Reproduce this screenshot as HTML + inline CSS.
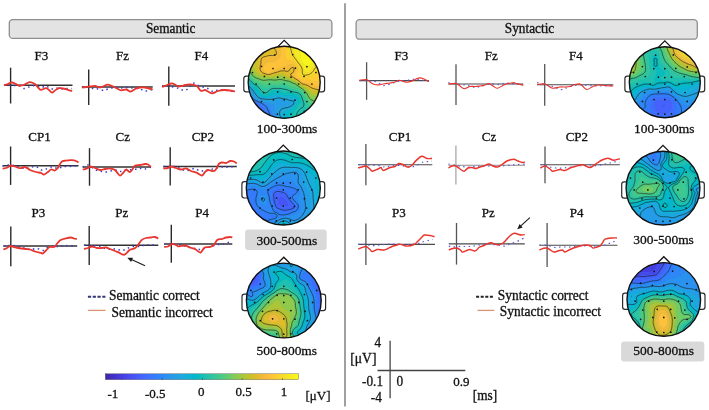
<!DOCTYPE html>
<html><head><meta charset="utf-8"><style>
html,body{margin:0;padding:0;background:#fff;}
body{width:709px;height:410px;overflow:hidden;}
svg{display:block;font-family:"Liberation Serif",serif;filter:blur(0.4px);} text{stroke:#111;stroke-width:0.3px;}
</style></head><body>
<svg width="709" height="410" viewBox="0 0 709 410">
<defs><linearGradient id="cbar" x1="0" x2="1" y1="0" y2="0"><stop offset="0.000" stop-color="#3e26a8"/><stop offset="0.031" stop-color="#422ebf"/><stop offset="0.062" stop-color="#4536d5"/><stop offset="0.094" stop-color="#4741e5"/><stop offset="0.125" stop-color="#484cef"/><stop offset="0.156" stop-color="#4757f7"/><stop offset="0.188" stop-color="#4562fc"/><stop offset="0.219" stop-color="#3f6efe"/><stop offset="0.250" stop-color="#347afd"/><stop offset="0.281" stop-color="#2e85f8"/><stop offset="0.312" stop-color="#2c90f0"/><stop offset="0.344" stop-color="#269ae9"/><stop offset="0.375" stop-color="#21a3e3"/><stop offset="0.406" stop-color="#1aacdd"/><stop offset="0.438" stop-color="#0cb3d3"/><stop offset="0.469" stop-color="#01b9c6"/><stop offset="0.500" stop-color="#12beb9"/><stop offset="0.531" stop-color="#28c2ab"/><stop offset="0.562" stop-color="#34c79c"/><stop offset="0.594" stop-color="#44ca8a"/><stop offset="0.625" stop-color="#5ccc76"/><stop offset="0.656" stop-color="#77cc60"/><stop offset="0.688" stop-color="#94ca4a"/><stop offset="0.719" stop-color="#afc637"/><stop offset="0.750" stop-color="#c8c129"/><stop offset="0.781" stop-color="#debc2a"/><stop offset="0.812" stop-color="#f1ba37"/><stop offset="0.844" stop-color="#febe3c"/><stop offset="0.875" stop-color="#feca33"/><stop offset="0.906" stop-color="#f9d62d"/><stop offset="0.938" stop-color="#f5e327"/><stop offset="0.969" stop-color="#f6ef20"/><stop offset="1.000" stop-color="#f9fb15"/></linearGradient></defs>
<rect x="9.3" y="19.6" width="322.6" height="18.8" rx="3.5" fill="#e3e3e3" stroke="#8e8e8e" stroke-width="1.3"/>
<rect x="356.1" y="19.6" width="341.2" height="19.6" rx="3.5" fill="#e3e3e3" stroke="#8e8e8e" stroke-width="1.3"/>
<text transform="translate(170.6 33.1) scale(1 1.02)" font-size="13.3" text-anchor="middle" fill="#111">Semantic</text>
<text transform="translate(529.5 33.1) scale(1 1.02)" font-size="13.3" text-anchor="middle" fill="#111">Syntactic</text>
<line x1="345" y1="3.3" x2="345" y2="406.5" stroke="#808080" stroke-width="1.5"/>
<text transform="translate(41.4 60.2) scale(1 1.02)" font-size="13" text-anchor="middle" fill="#111">F3</text>
<text transform="translate(122.5 60.2) scale(1 1.02)" font-size="13" text-anchor="middle" fill="#111">Fz</text>
<text transform="translate(201.4 60.2) scale(1 1.02)" font-size="13" text-anchor="middle" fill="#111">F4</text>
<text transform="translate(39.5 140.5) scale(1 1.02)" font-size="13" text-anchor="middle" fill="#111">CP1</text>
<text transform="translate(122.8 140.5) scale(1 1.02)" font-size="13" text-anchor="middle" fill="#111">Cz</text>
<text transform="translate(202.9 140.5) scale(1 1.02)" font-size="13" text-anchor="middle" fill="#111">CP2</text>
<text transform="translate(38.4 217.1) scale(1 1.02)" font-size="13" text-anchor="middle" fill="#111">P3</text>
<text transform="translate(121.7 217.1) scale(1 1.02)" font-size="13" text-anchor="middle" fill="#111">Pz</text>
<text transform="translate(202.1 217.1) scale(1 1.02)" font-size="13" text-anchor="middle" fill="#111">P4</text>
<text transform="translate(401.4 60.2) scale(1 1.02)" font-size="13" text-anchor="middle" fill="#111">F3</text>
<text transform="translate(491.2 60.2) scale(1 1.02)" font-size="13" text-anchor="middle" fill="#111">Fz</text>
<text transform="translate(575.8 60.2) scale(1 1.02)" font-size="13" text-anchor="middle" fill="#111">F4</text>
<text transform="translate(400 140.5) scale(1 1.02)" font-size="13" text-anchor="middle" fill="#111">CP1</text>
<text transform="translate(489 140.5) scale(1 1.02)" font-size="13" text-anchor="middle" fill="#111">Cz</text>
<text transform="translate(576.9 140.5) scale(1 1.02)" font-size="13" text-anchor="middle" fill="#111">CP2</text>
<text transform="translate(398.9 217.1) scale(1 1.02)" font-size="13" text-anchor="middle" fill="#111">P3</text>
<text transform="translate(488.3 217.1) scale(1 1.02)" font-size="13" text-anchor="middle" fill="#111">Pz</text>
<text transform="translate(576.7 217.1) scale(1 1.02)" font-size="13" text-anchor="middle" fill="#111">P4</text>
<line x1="4.0" y1="85.3" x2="72.5" y2="85.3" stroke="#333" stroke-width="1.5"/>
<line x1="10.6" y1="67.7" x2="10.6" y2="103.5" stroke="#2a2a2a" stroke-width="1.4"/>
<path d="M4.0 85.3 C5.0 85.3 8.3 85.3 10.0 85.3 C11.7 85.3 12.4 85.4 14.0 85.5 C15.6 85.6 17.8 85.5 19.5 86.0 C21.2 86.5 22.4 88.3 24.0 88.5 C25.6 88.7 27.2 87.5 29.0 87.0 C30.8 86.5 33.0 85.4 35.0 85.5 C37.0 85.6 39.2 87.4 41.0 87.5 C42.8 87.6 44.3 85.8 46.0 86.0 C47.7 86.2 49.3 88.7 51.0 89.0 C52.7 89.3 54.3 88.0 56.0 88.0 C57.7 88.0 59.3 88.9 61.0 89.0 C62.7 89.1 64.2 88.6 66.0 88.5 C67.8 88.4 71.0 88.5 72.0 88.5" fill="none" stroke="#3b3bc8" stroke-width="1.5" stroke-dasharray="1.5 3.5"/>
<path d="M4.0 85.3 C4.7 85.1 6.7 84.5 8.0 84.0 C9.3 83.5 10.7 82.5 12.0 82.5 C13.3 82.5 14.8 83.5 16.0 84.0 C17.2 84.5 17.7 85.3 19.0 85.5 C20.3 85.7 22.3 85.5 24.0 85.0 C25.7 84.5 27.5 82.6 29.0 82.3 C30.5 82.0 31.8 82.5 33.0 83.0 C34.2 83.5 35.1 84.2 36.0 85.0 C36.9 85.8 37.7 87.2 38.5 88.0 C39.3 88.8 39.8 89.8 41.0 89.8 C42.2 89.8 44.7 88.1 46.0 88.1 C47.3 88.1 48.0 89.2 49.0 90.0 C50.0 90.8 51.0 92.5 52.0 92.6 C53.0 92.7 53.8 91.2 55.0 90.5 C56.2 89.8 57.7 88.4 59.0 88.1 C60.3 87.8 61.5 88.2 63.0 88.5 C64.5 88.8 66.5 89.4 68.0 89.8 C69.5 90.2 71.5 90.8 72.2 91.0" fill="none" stroke="#e8352e" stroke-width="1.8" stroke-linejoin="round"/>
<line x1="81.8" y1="87.0" x2="152.7" y2="87.0" stroke="#333" stroke-width="1.5"/>
<line x1="88.7" y1="69.4" x2="88.7" y2="104.9" stroke="#2a2a2a" stroke-width="1.4"/>
<path d="M82.0 87.0 C83.0 87.0 86.2 86.8 88.0 87.0 C89.8 87.2 91.3 88.2 93.0 88.5 C94.7 88.8 96.2 88.7 98.0 89.0 C99.8 89.3 102.3 90.5 104.0 90.5 C105.7 90.5 106.3 89.5 108.0 89.0 C109.7 88.5 112.0 87.7 114.0 87.5 C116.0 87.3 118.0 88.0 120.0 88.0 C122.0 88.0 123.8 87.5 126.0 87.5 C128.2 87.5 130.7 87.8 133.0 88.0 C135.3 88.2 138.0 88.5 140.0 89.0 C142.0 89.5 143.3 90.8 145.0 91.0 C146.7 91.2 148.7 90.2 150.0 90.0 C151.3 89.8 152.2 89.6 152.7 89.5" fill="none" stroke="#3b3bc8" stroke-width="1.5" stroke-dasharray="1.5 3.5"/>
<path d="M82.0 87.5 C82.7 87.4 84.7 87.2 86.0 87.0 C87.3 86.8 88.5 86.7 90.0 86.5 C91.5 86.3 93.3 85.8 95.0 86.0 C96.7 86.2 98.5 87.5 100.0 87.5 C101.5 87.5 102.8 86.5 104.0 86.0 C105.2 85.5 106.1 84.7 107.4 84.7 C108.7 84.7 110.4 85.4 112.0 86.0 C113.6 86.6 115.5 87.8 117.0 88.5 C118.5 89.2 119.5 90.2 121.0 90.4 C122.5 90.6 124.6 89.3 126.2 89.5 C127.8 89.7 128.9 91.7 130.5 91.6 C132.1 91.5 134.0 89.4 135.6 88.7 C137.2 88.0 138.4 87.7 140.0 87.5 C141.6 87.3 143.5 87.3 145.0 87.5 C146.5 87.7 147.7 88.2 149.0 88.5 C150.3 88.8 152.1 89.3 152.7 89.5" fill="none" stroke="#e8352e" stroke-width="1.8" stroke-linejoin="round"/>
<line x1="162.0" y1="86.1" x2="235.0" y2="86.1" stroke="#333" stroke-width="1.5"/>
<line x1="168.8" y1="66.5" x2="168.8" y2="105.7" stroke="#2a2a2a" stroke-width="1.4"/>
<path d="M162.0 86.1 C163.0 86.1 166.2 85.9 168.0 86.1 C169.8 86.2 171.2 86.6 173.0 87.0 C174.8 87.4 177.2 87.9 179.0 88.5 C180.8 89.1 182.3 90.6 184.0 90.5 C185.7 90.4 187.6 89.2 189.0 88.0 C190.4 86.8 191.4 83.5 192.7 83.0 C194.0 82.5 195.3 84.3 197.0 85.0 C198.7 85.7 201.2 86.4 203.0 87.0 C204.8 87.6 206.3 87.8 208.0 88.5 C209.7 89.2 211.3 91.2 213.0 91.5 C214.7 91.8 216.2 90.2 218.0 90.0 C219.8 89.8 222.0 89.8 224.0 90.0 C226.0 90.2 228.2 90.8 230.0 91.0 C231.8 91.2 234.2 91.0 235.0 91.0" fill="none" stroke="#3b3bc8" stroke-width="1.5" stroke-dasharray="1.5 3.5"/>
<path d="M162.0 87.0 C162.7 86.8 164.4 86.1 166.0 85.5 C167.6 84.9 169.8 83.7 171.3 83.5 C172.8 83.3 173.9 84.0 175.0 84.5 C176.1 85.0 176.8 86.2 178.0 86.5 C179.2 86.8 180.8 86.2 182.0 86.0 C183.2 85.8 183.7 85.2 185.0 85.0 C186.3 84.8 188.2 84.4 190.0 84.5 C191.8 84.6 194.6 84.9 196.0 85.5 C197.4 86.1 197.6 87.1 198.5 88.0 C199.4 88.9 200.1 90.6 201.2 90.9 C202.3 91.2 203.9 89.9 205.0 90.0 C206.1 90.1 206.8 91.0 208.0 91.5 C209.2 92.0 210.6 93.4 212.3 93.3 C214.0 93.2 216.1 91.5 218.0 91.0 C219.9 90.5 222.0 90.1 224.0 90.0 C226.0 89.9 228.2 90.2 230.0 90.5 C231.8 90.8 234.2 91.3 235.0 91.5" fill="none" stroke="#e8352e" stroke-width="1.8" stroke-linejoin="round"/>
<line x1="2.6" y1="165.8" x2="78.5" y2="165.8" stroke="#333" stroke-width="1.5"/>
<line x1="10.6" y1="146.5" x2="10.6" y2="184.9" stroke="#2a2a2a" stroke-width="1.4"/>
<path d="M2.6 166.0 C3.5 165.8 6.1 165.1 8.0 165.0 C9.9 164.9 12.2 165.2 14.0 165.5 C15.8 165.8 17.2 166.5 19.0 167.0 C20.8 167.5 23.2 168.4 25.0 168.5 C26.8 168.6 28.2 167.8 30.0 167.5 C31.8 167.2 34.2 166.1 36.0 166.5 C37.8 166.9 39.3 169.6 41.0 170.0 C42.7 170.4 44.2 169.5 46.0 169.0 C47.8 168.5 50.0 167.1 52.0 167.0 C54.0 166.9 56.2 168.6 58.0 168.5 C59.8 168.4 61.2 166.8 63.0 166.5 C64.8 166.2 67.0 166.6 69.0 166.5 C71.0 166.4 73.4 166.1 75.0 166.0 C76.6 165.9 77.9 166.0 78.5 166.0" fill="none" stroke="#3b3bc8" stroke-width="1.5" stroke-dasharray="1.5 3.5"/>
<path d="M2.6 168.7 C3.2 168.6 4.9 168.4 6.0 168.0 C7.1 167.6 8.2 166.9 9.0 166.5 C9.8 166.1 10.0 165.5 11.0 165.5 C12.0 165.5 13.5 166.1 15.0 166.5 C16.5 166.9 18.3 168.1 20.0 168.2 C21.7 168.3 23.3 166.7 25.0 167.0 C26.7 167.3 28.2 169.2 30.0 170.0 C31.8 170.8 34.2 171.5 36.0 172.0 C37.8 172.5 39.7 172.5 41.0 172.9 C42.3 173.3 42.8 174.8 44.0 174.6 C45.2 174.4 46.8 172.8 48.0 172.0 C49.2 171.2 50.0 169.8 51.2 169.5 C52.4 169.2 53.9 170.8 55.0 170.5 C56.1 170.2 56.9 169.2 58.0 167.8 C59.1 166.4 60.2 163.0 61.5 161.8 C62.8 160.6 64.0 160.9 65.7 160.6 C67.5 160.3 70.3 160.1 72.0 160.2 C73.7 160.3 74.9 160.6 76.0 161.0 C77.1 161.4 78.1 162.2 78.5 162.5" fill="none" stroke="#e8352e" stroke-width="1.8" stroke-linejoin="round"/>
<line x1="82.7" y1="167.0" x2="151.0" y2="167.0" stroke="#333" stroke-width="1.5"/>
<line x1="89.5" y1="148.2" x2="89.5" y2="185.7" stroke="#2a2a2a" stroke-width="1.4"/>
<path d="M82.7 167.0 C83.6 166.7 85.8 164.5 88.0 165.0 C90.2 165.5 93.7 168.9 96.0 170.0 C98.3 171.1 100.2 171.2 102.0 171.5 C103.8 171.8 104.8 172.2 107.0 172.0 C109.2 171.8 112.8 170.1 115.0 170.0 C117.2 169.9 118.2 171.5 120.0 171.5 C121.8 171.5 123.7 170.3 126.0 170.0 C128.3 169.7 131.7 169.8 134.0 169.5 C136.3 169.2 138.2 168.6 140.0 168.5 C141.8 168.4 143.2 169.2 145.0 169.0 C146.8 168.8 150.0 167.3 151.0 167.0" fill="none" stroke="#3b3bc8" stroke-width="1.5" stroke-dasharray="1.5 3.5"/>
<path d="M82.7 169.5 C83.4 169.3 85.8 169.0 87.0 168.5 C88.2 168.0 88.7 166.6 90.0 166.5 C91.3 166.4 93.3 167.4 95.0 168.0 C96.7 168.6 98.3 169.8 100.0 170.0 C101.7 170.2 103.3 169.2 105.0 169.0 C106.7 168.8 108.3 168.3 110.0 168.5 C111.7 168.7 113.4 168.8 115.0 170.0 C116.6 171.2 118.4 175.0 119.7 175.5 C121.0 176.0 121.9 174.0 123.0 173.0 C124.1 172.0 125.1 169.7 126.2 169.5 C127.3 169.3 128.6 171.9 129.6 172.0 C130.6 172.1 131.1 171.0 132.0 170.0 C132.9 169.0 133.5 166.6 134.8 165.8 C136.1 165.0 138.3 165.3 140.0 165.0 C141.7 164.7 143.7 164.1 145.0 164.0 C146.3 163.9 147.0 164.0 148.0 164.5 C149.0 165.0 150.5 166.6 151.0 167.0" fill="none" stroke="#e8352e" stroke-width="1.8" stroke-linejoin="round"/>
<line x1="163.3" y1="166.4" x2="236.7" y2="166.4" stroke="#333" stroke-width="1.5"/>
<line x1="170.2" y1="147.3" x2="170.2" y2="185.4" stroke="#2a2a2a" stroke-width="1.4"/>
<path d="M163.3 166.4 C164.4 166.4 168.1 166.4 170.0 166.4 C171.9 166.4 173.3 166.2 175.0 166.5 C176.7 166.8 178.3 167.8 180.0 168.5 C181.7 169.2 183.3 170.2 185.0 170.5 C186.7 170.8 188.3 170.3 190.0 170.0 C191.7 169.7 193.3 168.3 195.0 168.5 C196.7 168.7 198.3 170.7 200.0 171.0 C201.7 171.3 203.3 170.8 205.0 170.5 C206.7 170.2 208.3 169.8 210.0 169.5 C211.7 169.2 213.0 168.9 215.0 168.5 C217.0 168.1 219.8 167.2 222.0 167.0 C224.2 166.8 225.6 167.1 228.0 167.0 C230.4 166.9 235.2 166.5 236.7 166.4" fill="none" stroke="#3b3bc8" stroke-width="1.5" stroke-dasharray="1.5 3.5"/>
<path d="M163.3 168.5 C164.1 168.4 166.7 168.3 168.0 168.0 C169.3 167.7 169.7 166.5 171.0 166.5 C172.3 166.5 174.3 167.5 176.0 168.0 C177.7 168.5 179.3 169.4 181.0 169.5 C182.7 169.6 184.3 168.2 186.0 168.5 C187.7 168.8 189.2 170.3 191.0 171.0 C192.8 171.7 195.2 172.2 197.0 172.9 C198.8 173.7 200.7 175.7 202.0 175.5 C203.3 175.3 204.0 172.9 205.0 172.0 C206.0 171.1 206.8 170.2 208.0 170.0 C209.2 169.8 210.8 170.9 212.0 171.0 C213.2 171.1 214.2 171.1 215.0 170.5 C215.8 169.9 216.3 168.7 217.0 167.5 C217.7 166.3 218.4 164.3 219.2 163.5 C220.0 162.7 220.9 162.6 222.0 162.5 C223.1 162.4 224.6 163.2 226.0 163.0 C227.4 162.8 229.0 161.2 230.3 161.0 C231.6 160.8 232.9 161.1 234.0 161.5 C235.1 161.9 236.2 163.2 236.7 163.5" fill="none" stroke="#e8352e" stroke-width="1.8" stroke-linejoin="round"/>
<line x1="3.4" y1="246.1" x2="77.2" y2="246.1" stroke="#333" stroke-width="1.5"/>
<line x1="10.8" y1="226.5" x2="10.8" y2="266.3" stroke="#2a2a2a" stroke-width="1.4"/>
<path d="M3.4 246.1 C4.2 246.0 6.2 245.6 8.0 245.5 C9.8 245.4 12.0 245.2 14.0 245.5 C16.0 245.8 18.0 246.5 20.0 247.0 C22.0 247.5 24.2 248.1 26.0 248.5 C27.8 248.9 29.2 249.5 31.0 249.5 C32.8 249.5 35.0 248.3 37.0 248.5 C39.0 248.7 41.2 250.8 43.0 250.5 C44.8 250.2 46.3 247.7 48.0 247.0 C49.7 246.3 51.2 246.6 53.0 246.5 C54.8 246.4 57.2 246.7 59.0 246.5 C60.8 246.3 62.2 245.6 64.0 245.5 C65.8 245.4 68.0 245.9 70.0 246.0 C72.0 246.1 75.0 246.0 76.0 246.0" fill="none" stroke="#3b3bc8" stroke-width="1.5" stroke-dasharray="1.5 3.5"/>
<path d="M3.4 249.5 C4.0 249.2 5.9 248.6 7.0 248.0 C8.1 247.4 8.8 246.2 10.0 246.0 C11.2 245.8 12.7 246.7 14.0 247.0 C15.3 247.3 16.7 247.8 18.0 248.0 C19.3 248.2 20.7 248.3 22.0 248.5 C23.3 248.7 24.7 248.8 26.0 249.0 C27.3 249.2 28.4 249.1 29.9 249.5 C31.4 249.9 33.1 250.9 35.0 251.5 C36.9 252.1 39.7 252.6 41.0 252.9 C42.3 253.2 42.2 253.9 43.0 253.5 C43.8 253.1 44.9 251.6 46.0 250.5 C47.1 249.4 48.3 247.6 49.5 247.0 C50.7 246.4 52.1 247.1 53.0 247.0 C53.9 246.9 54.3 247.1 55.0 246.5 C55.7 245.9 56.3 244.6 57.2 243.5 C58.1 242.4 59.1 241.0 60.6 240.1 C62.1 239.2 64.3 238.7 66.0 238.3 C67.7 237.9 69.7 237.5 71.0 237.5 C72.3 237.5 73.0 238.2 74.0 238.5 C75.0 238.8 76.3 238.9 76.8 239.0" fill="none" stroke="#e8352e" stroke-width="1.8" stroke-linejoin="round"/>
<line x1="83.9" y1="245.3" x2="158.3" y2="245.3" stroke="#333" stroke-width="1.5"/>
<line x1="89.2" y1="226.0" x2="89.2" y2="264.9" stroke="#2a2a2a" stroke-width="1.4"/>
<path d="M84.0 245.3 C85.3 245.3 89.3 245.3 92.0 245.5 C94.7 245.7 97.8 246.0 100.0 246.5 C102.2 247.0 103.3 248.1 105.0 248.5 C106.7 248.9 108.2 248.9 110.0 249.0 C111.8 249.1 114.0 248.8 116.0 249.0 C118.0 249.2 120.2 250.6 122.0 250.5 C123.8 250.4 125.2 249.2 127.0 248.5 C128.8 247.8 130.8 246.8 133.0 246.5 C135.2 246.2 138.0 246.8 140.0 246.5 C142.0 246.2 143.3 245.2 145.0 245.0 C146.7 244.8 148.2 245.0 150.0 245.0 C151.8 245.0 155.0 245.0 156.0 245.0" fill="none" stroke="#3b3bc8" stroke-width="1.5" stroke-dasharray="1.5 3.5"/>
<path d="M84.0 249.0 C84.7 248.8 86.7 248.4 88.0 248.0 C89.3 247.6 90.5 246.5 92.0 246.5 C93.5 246.5 95.3 247.8 97.0 248.0 C98.7 248.2 100.5 248.1 102.0 248.0 C103.5 247.9 104.7 247.3 106.0 247.5 C107.3 247.7 108.5 248.4 110.0 249.0 C111.5 249.6 113.5 250.4 115.0 251.0 C116.5 251.6 117.8 252.0 119.0 252.6 C120.2 253.2 121.1 254.0 122.0 254.3 C122.9 254.7 123.7 255.0 124.5 254.7 C125.3 254.4 126.2 253.3 127.0 252.6 C127.8 251.8 128.4 250.8 129.2 250.2 C130.0 249.6 131.1 249.5 132.0 249.2 C132.9 248.9 133.8 249.0 134.8 248.3 C135.8 247.6 136.9 246.4 138.0 245.0 C139.1 243.6 140.3 241.3 141.6 240.1 C142.9 238.9 144.4 238.4 146.0 238.0 C147.6 237.6 149.5 237.7 151.0 237.5 C152.5 237.3 153.8 236.8 155.0 237.0 C156.2 237.2 157.8 238.2 158.3 238.5" fill="none" stroke="#e8352e" stroke-width="1.8" stroke-linejoin="round"/>
<line x1="164.2" y1="243.9" x2="232.3" y2="243.9" stroke="#333" stroke-width="1.5"/>
<line x1="171.3" y1="224.8" x2="171.3" y2="262.8" stroke="#2a2a2a" stroke-width="1.4"/>
<path d="M164.2 243.9 C165.3 243.9 168.9 243.8 171.0 243.9 C173.1 244.0 175.0 244.2 177.0 244.5 C179.0 244.8 180.8 245.0 183.0 245.5 C185.2 246.0 187.8 247.0 190.0 247.5 C192.2 248.0 194.2 248.2 196.0 248.5 C197.8 248.8 199.2 249.7 201.0 249.5 C202.8 249.3 205.2 248.0 207.0 247.5 C208.8 247.0 210.3 247.0 212.0 246.5 C213.7 246.0 215.3 244.8 217.0 244.5 C218.7 244.2 220.2 244.8 222.0 244.5 C223.8 244.2 226.3 243.0 228.0 242.5 C229.7 242.0 231.3 241.7 232.0 241.5" fill="none" stroke="#3b3bc8" stroke-width="1.5" stroke-dasharray="1.5 3.5"/>
<path d="M164.2 247.0 C164.8 246.9 166.7 247.0 168.0 246.5 C169.3 246.0 170.7 244.2 172.0 244.0 C173.3 243.8 174.8 244.6 176.0 245.0 C177.2 245.4 177.5 246.3 179.0 246.4 C180.5 246.5 183.2 245.3 185.0 245.5 C186.8 245.7 188.3 246.9 190.0 247.5 C191.7 248.1 193.3 248.2 195.0 249.0 C196.7 249.8 198.8 252.8 200.4 252.6 C202.0 252.3 203.0 248.4 204.6 247.5 C206.2 246.6 208.4 247.5 210.0 247.0 C211.6 246.5 212.8 245.7 214.0 244.5 C215.2 243.3 216.2 240.7 217.5 239.8 C218.8 238.9 220.6 239.4 222.0 239.0 C223.4 238.6 224.7 237.8 226.0 237.5 C227.3 237.2 228.9 237.0 230.0 237.0 C231.1 237.0 231.9 237.4 232.3 237.5" fill="none" stroke="#e8352e" stroke-width="1.8" stroke-linejoin="round"/>
<line x1="359.4" y1="80.6" x2="428.9" y2="80.6" stroke="#4a4a4a" stroke-width="1.1"/>
<line x1="366.6" y1="62.2" x2="366.6" y2="99.8" stroke="#555" stroke-width="1.3"/>
<path d="M359.4 80.6 C360.5 80.6 363.4 80.4 366.0 80.6 C368.6 80.8 372.3 80.8 375.0 81.5 C377.7 82.2 380.3 84.3 382.0 85.0 C383.7 85.7 383.2 85.8 385.0 85.5 C386.8 85.2 390.5 83.8 393.0 83.0 C395.5 82.2 397.2 81.5 400.0 81.0 C402.8 80.5 407.5 80.3 410.0 80.0 C412.5 79.7 413.3 79.0 415.0 79.0 C416.7 79.0 417.7 79.7 420.0 80.0 C422.3 80.3 427.4 80.8 428.9 81.0" fill="none" stroke="#5a5ad8" stroke-width="1.2" stroke-dasharray="1.5 3.5"/>
<path d="M359.4 80.2 C360.0 80.1 361.7 79.9 363.0 79.8 C364.3 79.7 365.8 79.4 367.0 79.8 C368.2 80.2 369.0 81.3 370.0 82.0 C371.0 82.7 371.6 83.5 373.0 84.0 C374.4 84.5 376.7 84.9 378.6 84.9 C380.5 84.9 382.4 84.1 384.3 83.8 C386.2 83.5 388.2 83.3 390.0 83.0 C391.8 82.7 393.5 82.5 395.0 82.0 C396.5 81.5 397.7 80.4 399.0 80.3 C400.3 80.2 401.7 80.9 403.0 81.2 C404.3 81.5 405.5 82.2 407.0 82.2 C408.5 82.2 410.5 81.5 412.0 81.0 C413.5 80.5 414.7 79.5 416.0 79.0 C417.3 78.5 418.7 77.9 420.0 77.9 C421.3 77.9 422.5 78.4 424.0 79.0 C425.5 79.6 428.1 81.1 428.9 81.5" fill="none" stroke="#e8352e" stroke-width="1.15" stroke-linejoin="round"/>
<line x1="448.4" y1="84.0" x2="523.3" y2="84.0" stroke="#4a4a4a" stroke-width="1.1"/>
<line x1="456.0" y1="64.2" x2="456.0" y2="104.9" stroke="#555" stroke-width="1.3"/>
<path d="M448.4 82.5 C449.7 82.8 453.2 83.6 456.0 84.0 C458.8 84.4 462.7 84.7 465.0 85.0 C467.3 85.3 468.3 85.6 470.0 86.0 C471.7 86.4 473.3 87.4 475.0 87.5 C476.7 87.6 477.5 87.1 480.0 86.5 C482.5 85.9 486.7 84.3 490.0 84.0 C493.3 83.7 497.5 84.7 500.0 84.5 C502.5 84.3 503.3 83.2 505.0 83.0 C506.7 82.8 507.0 83.2 510.0 83.5 C513.0 83.8 520.8 84.3 523.0 84.5" fill="none" stroke="#5a5ad8" stroke-width="1.2" stroke-dasharray="1.5 3.5"/>
<path d="M448.4 84.0 C449.7 83.9 454.1 83.2 456.0 83.5 C457.9 83.8 458.6 85.1 460.0 86.0 C461.4 86.9 462.5 88.6 464.2 88.7 C465.9 88.8 468.2 86.9 470.0 86.5 C471.8 86.1 473.3 86.6 475.0 86.5 C476.7 86.4 478.3 86.2 480.0 86.0 C481.7 85.8 483.5 85.4 485.0 85.0 C486.5 84.6 487.6 83.3 488.9 83.5 C490.2 83.7 491.6 85.2 493.0 86.0 C494.4 86.8 495.5 88.5 497.5 88.2 C499.5 88.0 502.4 85.4 505.0 84.5 C507.6 83.6 510.6 82.8 512.8 82.7 C515.0 82.6 516.2 83.6 518.0 84.0 C519.8 84.4 522.4 85.1 523.3 85.3" fill="none" stroke="#e8352e" stroke-width="1.15" stroke-linejoin="round"/>
<line x1="537.0" y1="84.7" x2="613.3" y2="84.7" stroke="#4a4a4a" stroke-width="1.1"/>
<line x1="544.7" y1="63.9" x2="544.7" y2="105.8" stroke="#555" stroke-width="1.3"/>
<path d="M537.0 82.5 C538.3 82.9 542.8 84.1 545.0 84.7 C547.2 85.3 548.3 85.6 550.0 86.0 C551.7 86.4 553.3 86.4 555.0 87.0 C556.7 87.6 558.3 89.2 560.0 89.5 C561.7 89.8 563.0 89.1 565.0 88.5 C567.0 87.9 569.5 86.6 572.0 86.0 C574.5 85.4 577.0 85.1 580.0 85.0 C583.0 84.9 586.7 85.3 590.0 85.5 C593.3 85.7 596.2 86.0 600.0 86.0 C603.8 86.0 610.8 85.6 613.0 85.5" fill="none" stroke="#5a5ad8" stroke-width="1.2" stroke-dasharray="1.5 3.5"/>
<path d="M537.0 84.5 C538.3 84.4 542.8 83.6 545.0 84.0 C547.2 84.4 548.7 86.3 550.0 87.0 C551.3 87.7 551.0 88.2 552.7 88.2 C554.4 88.2 558.0 87.2 560.0 87.0 C562.0 86.8 563.3 87.1 565.0 87.0 C566.7 86.9 568.3 86.9 570.0 86.5 C571.7 86.1 573.3 84.9 575.0 84.5 C576.7 84.1 578.7 83.7 580.0 84.0 C581.3 84.3 581.9 85.6 583.0 86.5 C584.1 87.4 585.2 89.5 586.9 89.5 C588.6 89.5 591.1 87.2 593.0 86.5 C594.9 85.8 596.0 85.2 598.0 85.0 C600.0 84.8 602.5 85.3 605.0 85.5 C607.5 85.7 611.9 85.9 613.3 86.0" fill="none" stroke="#e8352e" stroke-width="1.15" stroke-linejoin="round"/>
<line x1="358.2" y1="164.7" x2="432.3" y2="164.7" stroke="#4a4a4a" stroke-width="1.1"/>
<line x1="365.9" y1="143.9" x2="365.9" y2="185.2" stroke="#555" stroke-width="1.3"/>
<path d="M358.2 164.7 C359.5 164.7 364.0 164.6 366.0 164.7 C368.0 164.8 368.0 164.9 370.0 165.0 C372.0 165.1 375.5 165.2 378.0 165.5 C380.5 165.8 382.7 167.0 385.0 167.0 C387.3 167.0 389.5 165.8 392.0 165.5 C394.5 165.2 397.0 165.2 400.0 165.5 C403.0 165.8 407.5 166.9 410.0 167.0 C412.5 167.1 412.8 166.8 415.0 166.0 C417.2 165.2 420.8 162.8 423.0 162.0 C425.2 161.2 426.5 161.7 428.0 161.5 C429.5 161.3 431.3 161.1 432.0 161.0" fill="none" stroke="#5a5ad8" stroke-width="1.2" stroke-dasharray="1.5 3.5"/>
<path d="M358.2 168.0 C358.8 167.8 360.7 167.3 362.0 167.0 C363.3 166.7 364.7 165.7 366.0 166.0 C367.3 166.3 369.0 168.1 370.0 169.0 C371.0 169.9 370.9 171.2 372.2 171.2 C373.5 171.2 376.5 169.6 378.0 169.0 C379.5 168.4 380.1 167.3 381.0 167.5 C381.9 167.7 381.8 170.4 383.3 170.4 C384.8 170.4 388.1 168.2 390.0 167.5 C391.9 166.8 393.6 167.2 395.0 166.5 C396.4 165.8 397.4 163.8 398.7 163.5 C400.0 163.2 401.6 163.9 403.0 164.5 C404.4 165.1 405.9 166.8 407.2 167.0 C408.5 167.2 409.4 167.2 411.0 166.0 C412.6 164.8 414.8 161.7 416.6 160.1 C418.4 158.5 420.0 156.5 421.7 156.2 C423.4 155.9 425.3 158.1 427.0 158.5 C428.7 158.9 431.2 158.4 432.0 158.4" fill="none" stroke="#e8352e" stroke-width="1.45" stroke-linejoin="round"/>
<line x1="448.4" y1="165.3" x2="525.0" y2="165.3" stroke="#8a8a8a" stroke-width="1.1"/>
<line x1="455.9" y1="145.5" x2="455.9" y2="184.5" stroke="#a8a8a8" stroke-width="1.3"/>
<path d="M448.4 164.0 C449.7 164.2 453.7 164.9 456.0 165.3 C458.3 165.7 460.0 166.2 462.0 166.5 C464.0 166.8 465.8 167.0 468.0 167.0 C470.2 167.0 472.7 166.7 475.0 166.5 C477.3 166.3 479.5 166.1 482.0 166.0 C484.5 165.9 487.3 165.9 490.0 166.0 C492.7 166.1 495.5 166.6 498.0 166.5 C500.5 166.4 502.7 165.8 505.0 165.5 C507.3 165.2 509.8 165.2 512.0 165.0 C514.2 164.8 515.8 164.7 518.0 164.5 C520.2 164.3 523.8 164.1 525.0 164.0" fill="none" stroke="#5a5ad8" stroke-width="1.2" stroke-dasharray="1.5 3.5"/>
<path d="M448.4 168.0 C449.0 167.7 450.7 166.3 452.0 166.0 C453.3 165.7 454.7 165.5 456.0 166.0 C457.3 166.5 458.6 168.1 460.0 169.0 C461.4 169.9 462.9 171.4 464.2 171.2 C465.5 171.0 466.7 168.6 468.0 168.0 C469.3 167.4 470.7 167.4 472.0 167.5 C473.3 167.6 474.7 168.6 476.0 168.5 C477.3 168.4 478.7 167.4 480.0 167.0 C481.3 166.6 482.5 166.5 484.0 166.0 C485.5 165.5 487.4 164.0 488.9 164.0 C490.4 164.0 491.6 165.5 493.0 166.0 C494.4 166.5 496.0 167.2 497.5 167.0 C499.0 166.8 500.4 165.5 502.0 164.5 C503.6 163.5 505.1 161.9 507.0 161.0 C508.9 160.1 511.9 159.3 513.7 159.3 C515.5 159.3 516.6 160.5 518.0 161.0 C519.4 161.5 520.8 162.3 522.0 162.5 C523.2 162.7 524.5 162.1 525.0 162.0" fill="none" stroke="#e8352e" stroke-width="1.45" stroke-linejoin="round"/>
<line x1="540.4" y1="164.7" x2="619.8" y2="164.7" stroke="#4a4a4a" stroke-width="1.1"/>
<line x1="545.0" y1="146.5" x2="545.0" y2="183.2" stroke="#555" stroke-width="1.3"/>
<path d="M540.4 164.7 C541.2 164.8 543.4 164.6 545.0 165.0 C546.6 165.4 548.2 166.5 550.0 167.0 C551.8 167.5 554.0 167.8 556.0 168.0 C558.0 168.2 560.0 168.1 562.0 168.0 C564.0 167.9 565.8 167.8 568.0 167.5 C570.2 167.2 572.7 166.8 575.0 166.5 C577.3 166.2 579.5 165.6 582.0 165.5 C584.5 165.4 587.3 166.0 590.0 166.0 C592.7 166.0 595.5 165.8 598.0 165.5 C600.5 165.2 603.0 164.4 605.0 164.0 C607.0 163.6 608.5 163.3 610.0 163.0 C611.5 162.7 612.4 162.2 614.0 162.0 C615.6 161.8 618.8 162.0 619.8 162.0" fill="none" stroke="#5a5ad8" stroke-width="1.2" stroke-dasharray="1.5 3.5"/>
<path d="M540.4 168.0 C541.2 167.7 543.4 165.8 545.0 166.0 C546.6 166.2 548.7 168.1 550.0 169.0 C551.3 169.9 551.0 171.1 552.7 171.2 C554.4 171.3 558.0 169.6 560.0 169.5 C562.0 169.4 563.3 170.8 565.0 170.5 C566.7 170.2 568.3 168.7 570.0 168.0 C571.7 167.3 573.0 167.1 575.0 166.5 C577.0 165.9 580.0 164.9 581.7 164.7 C583.4 164.5 583.6 165.0 585.0 165.5 C586.4 166.0 588.3 167.9 590.3 167.5 C592.3 167.1 595.0 164.2 597.0 163.0 C599.0 161.8 600.2 160.8 602.0 160.0 C603.8 159.2 605.8 158.3 607.8 158.3 C609.8 158.3 611.7 160.1 613.7 160.2 C615.7 160.3 618.8 158.9 619.8 158.7" fill="none" stroke="#e8352e" stroke-width="1.45" stroke-linejoin="round"/>
<line x1="358.2" y1="244.4" x2="435.0" y2="244.4" stroke="#4a4a4a" stroke-width="1.1"/>
<line x1="365.9" y1="223.6" x2="365.9" y2="264.9" stroke="#555" stroke-width="1.3"/>
<path d="M358.2 244.4 C359.5 244.4 364.0 244.2 366.0 244.4 C368.0 244.6 368.5 245.3 370.0 245.5 C371.5 245.7 373.3 245.6 375.0 245.5 C376.7 245.4 377.5 245.2 380.0 245.0 C382.5 244.8 386.7 244.1 390.0 244.0 C393.3 243.9 396.7 244.3 400.0 244.4 C403.3 244.5 407.0 244.6 410.0 244.4 C413.0 244.2 416.0 243.9 418.0 243.5 C420.0 243.1 420.3 242.5 422.0 242.0 C423.7 241.5 426.2 240.9 428.0 240.5 C429.8 240.1 432.2 239.7 433.0 239.5" fill="none" stroke="#5a5ad8" stroke-width="1.2" stroke-dasharray="1.5 3.5"/>
<path d="M358.2 249.0 C358.8 248.8 360.7 247.9 362.0 247.5 C363.3 247.1 364.7 246.2 366.0 246.5 C367.3 246.8 369.0 248.7 370.0 249.5 C371.0 250.3 371.0 251.6 372.2 251.6 C373.4 251.6 375.9 249.8 377.0 249.5 C378.1 249.2 377.8 249.4 379.0 249.5 C380.2 249.6 382.5 250.2 384.0 250.0 C385.5 249.8 386.7 249.1 388.0 248.5 C389.3 247.9 390.5 247.1 392.0 246.5 C393.5 245.9 395.8 245.4 397.0 245.0 C398.2 244.6 398.5 244.1 399.5 244.1 C400.5 244.1 401.7 244.7 403.0 245.0 C404.3 245.3 405.4 246.2 407.2 246.1 C409.0 246.0 412.2 245.3 414.0 244.5 C415.8 243.7 416.7 242.2 418.0 241.0 C419.3 239.8 420.9 238.0 422.0 237.0 C423.1 236.0 423.0 235.2 424.3 235.0 C425.6 234.8 428.3 235.2 430.0 235.5 C431.7 235.8 433.8 236.5 434.5 236.7" fill="none" stroke="#e8352e" stroke-width="1.45" stroke-linejoin="round"/>
<line x1="448.8" y1="243.9" x2="524.8" y2="243.9" stroke="#4a4a4a" stroke-width="1.1"/>
<line x1="456.5" y1="223.0" x2="456.5" y2="264.6" stroke="#555" stroke-width="1.3"/>
<path d="M448.8 246.0 C449.3 246.2 450.5 246.9 452.0 247.0 C453.5 247.1 456.0 246.6 458.0 246.5 C460.0 246.4 462.2 246.5 464.0 246.5 C465.8 246.5 467.3 246.6 469.0 246.5 C470.7 246.4 472.2 246.2 474.0 246.0 C475.8 245.8 478.0 245.3 480.0 245.0 C482.0 244.7 483.8 244.1 486.0 244.0 C488.2 243.9 490.7 244.2 493.0 244.5 C495.3 244.8 498.0 245.2 500.0 245.5 C502.0 245.8 503.2 246.3 505.0 246.0 C506.8 245.7 509.0 244.2 511.0 243.5 C513.0 242.8 515.2 242.2 517.0 241.5 C518.8 240.8 520.7 239.6 522.0 239.0 C523.3 238.4 524.3 238.2 524.8 238.0" fill="none" stroke="#5a5ad8" stroke-width="1.2" stroke-dasharray="1.5 3.5"/>
<path d="M448.8 249.9 C449.5 249.7 451.6 248.8 453.0 248.5 C454.4 248.2 455.7 247.7 457.0 248.0 C458.3 248.3 460.1 249.8 461.0 250.5 C461.9 251.2 461.3 252.2 462.5 252.1 C463.7 252.0 466.7 250.4 468.0 250.0 C469.3 249.6 468.9 249.3 470.1 249.5 C471.3 249.7 473.8 251.2 475.3 250.9 C476.8 250.6 477.6 248.4 479.0 247.5 C480.4 246.6 482.1 246.3 484.0 245.5 C485.9 244.7 488.4 242.8 490.6 242.7 C492.9 242.6 495.4 244.8 497.5 244.9 C499.6 245.0 501.5 243.9 503.0 243.0 C504.5 242.1 505.4 240.6 506.5 239.5 C507.6 238.4 508.5 237.2 509.5 236.3 C510.5 235.4 511.6 234.3 512.5 233.8 C513.4 233.3 514.1 233.1 515.0 233.2 C515.9 233.3 517.0 233.9 518.0 234.2 C519.0 234.5 519.9 234.9 521.0 235.0 C522.1 235.1 524.2 234.7 524.8 234.6" fill="none" stroke="#e8352e" stroke-width="1.45" stroke-linejoin="round"/>
<line x1="539.4" y1="245.2" x2="617.4" y2="245.2" stroke="#4a4a4a" stroke-width="1.1"/>
<line x1="547.1" y1="223.0" x2="547.1" y2="266.9" stroke="#555" stroke-width="1.3"/>
<path d="M539.4 245.2 C540.7 245.2 544.4 244.8 547.0 245.2 C549.6 245.6 552.8 247.2 555.0 247.5 C557.2 247.8 558.3 247.1 560.0 247.0 C561.7 246.9 563.3 247.0 565.0 247.0 C566.7 247.0 568.3 247.1 570.0 247.0 C571.7 246.9 573.3 246.7 575.0 246.5 C576.7 246.3 577.5 246.1 580.0 246.0 C582.5 245.9 586.7 246.0 590.0 246.0 C593.3 246.0 597.5 246.2 600.0 246.0 C602.5 245.8 603.5 245.4 605.0 245.0 C606.5 244.6 607.7 244.0 609.0 243.5 C610.3 243.0 611.7 242.6 613.0 242.0 C614.3 241.4 616.3 240.3 617.0 240.0" fill="none" stroke="#5a5ad8" stroke-width="1.2" stroke-dasharray="1.5 3.5"/>
<path d="M539.4 250.0 C540.0 249.8 541.7 248.8 543.0 248.5 C544.3 248.2 545.7 247.7 547.0 248.0 C548.3 248.3 549.9 249.8 551.0 250.5 C552.1 251.2 552.7 251.9 553.9 252.0 C555.1 252.1 556.6 251.3 558.0 251.0 C559.4 250.7 561.2 249.8 562.4 250.0 C563.6 250.2 563.7 252.1 565.0 252.0 C566.3 251.9 568.3 250.2 570.0 249.5 C571.7 248.8 573.3 248.1 575.0 247.5 C576.7 246.9 578.3 246.4 580.0 246.0 C581.7 245.6 583.3 245.1 585.0 245.0 C586.7 244.9 588.6 245.0 590.0 245.5 C591.4 246.0 591.9 247.8 593.1 248.1 C594.3 248.3 595.9 247.3 597.0 247.0 C598.1 246.7 599.0 246.8 600.0 246.0 C601.0 245.2 602.1 243.1 603.0 242.0 C603.9 240.9 603.6 239.9 605.1 239.2 C606.6 238.5 610.0 238.2 612.0 238.0 C614.0 237.8 616.2 237.9 617.0 237.9" fill="none" stroke="#e8352e" stroke-width="1.45" stroke-linejoin="round"/>
<line x1="145.0" y1="265.7" x2="132.0" y2="259.8" stroke="#1a1a1a" stroke-width="1.1"/>
<path d="M127.3 257.7 L133.0 257.7 L131.1 261.9 Z" fill="#1a1a1a"/>
<line x1="529.9" y1="217.6" x2="521.1" y2="225.7" stroke="#1a1a1a" stroke-width="1.1"/>
<path d="M517.3 229.2 L519.6 224.0 L522.7 227.4 Z" fill="#1a1a1a"/>
<path d="M249.2 76.1 H246.2 Q243.8 76.1 243.8 78.5 V89.5 Q243.8 91.9 246.2 91.9 H249.2" fill="#fff" stroke="#2a2a2a" stroke-width="1.2"/><path d="M319.2 76.1 H322.2 Q324.6 76.1 324.6 78.5 V89.5 Q324.6 91.9 322.2 91.9 H319.2" fill="#fff" stroke="#2a2a2a" stroke-width="1.2"/>
<clipPath id="cL1"><circle cx="284.2" cy="82.2" r="36.00"/></clipPath>
<g clip-path="url(#cL1)">
<circle cx="284.2" cy="82.2" r="37.00" fill="#89cb52"/>
<path d="M246.1 110l.5 .4 .8 .8 .4 .4 .7 .8 .5 .6 .5 .7 .8 1.1 .1 .1 .7 1.2 .4 .9 .2 .4 .6 1.2 .4 1.1 .1 .1 .5 1.3-.6 0-1.2 0-1.2 0-1.3 0-1.2 0-1.2 0-1.3 0 0-1.3 0-1.2 0-1.2 0-1.3 0-1.2 0-1.2 0-1.3 0-1.2 0-1.2 0-.7z" fill="#402ab5" stroke="#402ab5" stroke-width="0.3" fill-rule="evenodd"/>
<path d="M246.6 107.2l.3 .3 .9 .7 .6 .5 .6 .5 .9 .8 .4 .4 .8 .8 .4 .5 .6 .7 .6 1.1 .2 .2 .6 1.2 .5 .9 .1 .3 .5 1.3 .5 1.2 .1 .3 .4 .9 .4 1.3-.8 0-1.2 0-.7 0-.5-1.3-.1-.1-.4-1.1-.6-1.2-.2-.4-.4-.9-.7-1.2-.1-.1-.8-1.1-.5-.7-.5-.6-.7-.8-.4-.4-.8-.8-.5-.4-.8-.7 0-.6 0-1.2 0-1.2z" fill="#4433cc" stroke="#4433cc" stroke-width="0.3" fill-rule="evenodd"/>
<path d="M245.6 103.8l1 .8 .6 .4 .6 .5 1.1 .8 .1 0 1.3 .9 .4 .3 .8 .6 .8 .6 .4 .4 .9 .9 .4 .4 .5 .8 .7 1.1 .1 .1 .5 1.3 .6 1.2 0 .2 .4 1 .5 1.3 .4 1 0 .2 .5 1.2 .4 1.3-.9 0-1.3 0-.4 0-.4-1.3-.4-.9-.1-.3-.5-1.2-.5-1.3-.1-.3-.5-.9-.6-1.2-.2-.2-.6-1.1-.6-.7-.4-.5-.8-.8-.4-.4-.9-.8-.6-.5-.6-.5-.9-.7-.3-.3-1.3-.9 0-1.3 0-1.2 0-.2z" fill="#463de0" stroke="#463de0" stroke-width="0.3" fill-rule="evenodd"/>
<path d="M245.6 101.3l1 .8 .5 .5 .7 .5 1 .7 .2 .1 1.3 .9 .4 .2 .8 .5 1.2 .7 .1 .1 1.2 .7 .6 .5 .6 .5 .7 .7 .5 .7 .4 .6 .7 1.2 .2 .4 .3 .8 .5 1.3 .4 1.1 0 .1 .5 1.2 .4 1.3 .3 .9 .2 .3 .4 1.2 .5 1.3-1.1 0-1.2 0-.3 0-.4-1.3-.5-1.2 0-.2-.4-1-.5-1.3-.4-1 0-.2-.6-1.2-.5-1.3-.1-.1-.7-1.1-.5-.8-.4-.4-.9-.9-.4-.4-.8-.6-.8-.6-.4-.3-1.3-.9-.1 0-1.1-.8-.6-.5-.6-.4-1-.8-.3-.2 0-1 0-1.3 0-.2z" fill="#4849ed" stroke="#4849ed" stroke-width="0.3" fill-rule="evenodd"/>
<path d="M245.6 98.9l1 .9 .3 .3 .9 .7 .6 .5 .6 .5 1.2 .8 .1 0 1.2 .8 .7 .4 .5 .3 1.3 .6 .6 .3 .6 .4 1.2 .7 .2 .2 1.1 .9 .3 .3 .9 1.2 0 .1 .6 1.2 .5 1.2 .1 .3 .4 .9 .4 1.3 .5 1.2 .4 1.2 .5 1.3 .3 .8 .2 .4 .4 1.2 .5 1.3-1.1 0-1.2 0-.2 0-.5-1.3-.4-1.2-.2-.3-.3-.9-.4-1.3-.5-1.2 0-.1-.4-1.1-.5-1.3-.3-.8-.2-.4-.7-1.2-.4-.6-.5-.7-.7-.7-.6-.5-.6-.5-1.2-.7-.1-.1-1.2-.7-.8-.5-.4-.2-1.3-.9-.2-.1-1-.7-.7-.5-.5-.5-1-.8-.3-.2 0-1 0-1.2 0-.3z" fill="#4755f6" stroke="#4755f6" stroke-width="0.3" fill-rule="evenodd"/>
<path d="M245.7 96.4l.9 .9 .3 .3 .9 .9 .3 .4 .9 .8 .5 .4 .8 .6 .9 .6 .3 .2 1.2 .7 .7 .4 .6 .3 1.2 .6 .7 .3 .5 .3 1.3 .7 .4 .2 .8 .7 .7 .6 .5 .6 .5 .6 .8 1.2 .6 1.3 .4 1.2 .2 .5 .3 .7 .5 1.3 .4 1.2 .5 1.2 .5 1.3 .3 .6 .2 .6 .5 1.2 .5 1.3-1.2 0-1.3 0-.1 0-.5-1.3-.4-1.2-.2-.4-.3-.8-.5-1.3-.4-1.2-.5-1.2-.4-1.3-.4-.9-.1-.3-.5-1.2-.6-1.2 0-.1-.9-1.2-.3-.3-1.1-.9-.2-.2-1.2-.7-.6-.4-.6-.3-1.3-.6-.5-.3-.7-.4-1.2-.8-.1 0-1.2-.8-.6-.5-.6-.5-.9-.7-.3-.3-1-.9-.3-.3 0-1 0-1.2 0-.4z" fill="#4661fc" stroke="#4661fc" stroke-width="0.3" fill-rule="evenodd"/>
<path d="M245.8 93.9l.8 .8 .4 .5 .8 .8 .3 .4 .9 1 .3 .2 1 1 .2 .3 1 .8 .6 .4 .6 .4 1.3 .7 .2 .1 1 .6 1.2 .5 .3 .2 1 .4 1.2 .7 .2 .1 1 .7 .8 .5 .5 .4 .9 .9 .3 .3 .7 .9 .5 .9 .2 .3 .5 1.3 .5 1.2 .1 .1 .4 1.1 .5 1.3 .3 .7 .2 .5 .5 1.2 .5 1.3 .5 1.2 .5 1.2 .3 .7 .2 .6-.2 0-1.3 0-1.2 0-.5-1.3-.5-1.2-.2-.6-.3-.6-.5-1.3-.5-1.2-.4-1.2-.5-1.3-.3-.7-.2-.5-.4-1.2-.6-1.3-.8-1.2-.5-.6-.5-.6-.7-.6-.8-.7-.4-.2-1.3-.7-.5-.3-.7-.3-1.2-.6-.6-.3-.7-.4-1.2-.7-.3-.2-.9-.6-.8-.6-.5-.4-.9-.8-.3-.4-.9-.9-.3-.3-.9-.9-.4-.4 0-.8 0-1.3 0-.5z" fill="#406dfe" stroke="#406dfe" stroke-width="0.3" fill-rule="evenodd"/>
<path d="M246 91.5l.6 .5 .6 .7 .6 .6 .5 .6 .7 .9 .3 .4 1 1.1 .1 .1 1.1 1.2 0 .1 1.2 1 .2 .2 1.1 .7 .7 .5 .5 .2 1.2 .7 .8 .3 .5 .2 1.2 .6 .9 .5 .3 .2 1.3 .6 .8 .4 .4 .3 1.2 .7 .4 .2 .9 .9 .4 .4 .8 1.2 .7 1.2 .5 1.3 0 .2 .5 1 .6 1.2 .2 .5 .3 .8 .5 1.2 .4 1.2 .5 1.3 .4 1.2 .3 .9 .2 .3 .4 1.3-.6 0-1.2 0-1 0-.2-.6-.3-.7-.5-1.2-.5-1.2-.5-1.3-.5-1.2-.2-.5-.3-.7-.5-1.3-.4-1.1-.1-.1-.5-1.2-.5-1.3-.2-.3-.5-.9-.7-.9-.3-.3-.9-.9-.5-.4-.8-.5-1-.7-.2-.1-1.2-.7-1-.4-.3-.2-1.2-.5-1-.6-.2-.1-1.3-.7-.6-.4-.6-.4-1-.8-.2-.3-1-1-.3-.2-.9-1-.3-.4-.8-.8-.4-.5-.8-.8-.5-.5 0-.7 0-1.2 0-.7z" fill="#347afd" stroke="#347afd" stroke-width="0.3" fill-rule="evenodd"/>
<path d="M245.9 89l.7 .6 .7 .6 .5 .5 .7 .8 .5 .5 .6 .7 .7 .9 .2 .3 1 1.3 1 1.2 .2 .3 1 .9 .3 .2 1.2 1 .1 .1 1.1 .7 .9 .5 .4 .2 1.2 .5 1.2 .5 0 .1 1.3 .5 1.2 .4 .7 .3 .5 .2 1.3 .5 1 .5 .2 .1 1.2 .8 .6 .3 .7 .7 .7 .6 .5 .7 .4 .5 .7 1.2 .1 .4 .4 .9 .5 1.2 .4 1.2 .3 1.3 .2 1.2 .3 1.2 .3 1.3 .1 .4 .2 .8 .4 1.2 .4 1.3-1 0-1.2 0-.7 0-.4-1.3-.2-.3-.3-.9-.4-1.2-.5-1.3-.4-1.2-.5-1.2-.3-.8-.2-.5-.6-1.2-.5-1 0-.2-.5-1.3-.7-1.2-.8-1.2-.4-.4-.9-.9-.4-.2-1.2-.7-.4-.3-.8-.4-1.3-.6-.3-.2-.9-.5-1.2-.6-.5-.2-.8-.3-1.2-.7-.5-.2-.7-.5-1.1-.7-.2-.2-1.2-1 0-.1-1.1-1.2-.1-.1-1-1.1-.3-.4-.7-.9-.5-.6-.6-.6-.6-.7-.6-.5-.7-.7 0-.6 0-1.2 0-.5z" fill="#2e86f7" stroke="#2e86f7" stroke-width="0.3" fill-rule="evenodd"/>
<path d="M245.4 86.5l1.2 .9 .4 .4 .8 .6 .6 .6 .6 .5 .7 .7 .6 .6 .5 .7 .7 .9 .2 .3 .9 1.2 .1 .2 .8 1.1 .5 .5 .5 .7 .7 .6 .6 .6 .6 .5 1 .8 .3 .1 1.2 .7 1.1 .4 .1 0 1.3 .4 1.2 .4 1.2 .3 .9 .1 .4 .1 1.2 .4 1.2 .3 1.3 .4 .4 .1 .8 .2 1.2 .4 1.3 .3 .9 .3 .3 .2 1.2 1 .1 0 .5 1.3 .1 1.2 0 1.2 0 1.3 .1 1.2 .1 1.2 .1 1.3 .1 1.2 .2 1.2 .2 1.3 .4 1.2 .3 1.2 .3 1 .1 .3-.1 0-1.2 0-1.3 0-.2 0-.4-1.3-.4-1.2-.2-.8-.1-.4-.3-1.3-.3-1.2-.2-1.2-.3-1.3-.4-1.2-.5-1.2-.4-.9-.1-.4-.7-1.2-.4-.5-.5-.7-.7-.6-.7-.7-.6-.3-1.2-.8-.2-.1-1-.5-1.3-.5-.5-.2-.7-.3-1.2-.4-1.3-.5 0-.1-1.2-.5-1.2-.5-.4-.2-.9-.5-1.1-.7-.1-.1-1.2-1-.3-.2-1-.9-.2-.3-1-1.2-1-1.3-.2-.3-.7-.9-.6-.7-.5-.5-.7-.8-.5-.5-.7-.6-.7-.6-.6-.5 0-.7 0-1.3 0-.1z" fill="#2b91ef" stroke="#2b91ef" stroke-width="0.3" fill-rule="evenodd"/>
<path d="M246.3 85.3l.3 .2 1.2 .9 .1 .1 1.1 .9 .4 .4 .9 .7 .4 .5 .8 .8 .3 .4 .9 1.3 .8 1.2 .5 .6 .4 .6 .8 1 .2 .3 1 1.2 1.3 1.2 1.2 .8 1 .5 .2 .1 1.3 .3 1.2 .2 1.2 .2 1.3 .1 1.2 .2 .9 .1 .3 .1 1.3 .1 1.2 .1 1.2 .1 1.3 0 1.2-.1 1.2-.2 .4-.1 .9-.2 1.2-.2 1.2-.1 1.3-.1 1.2 .2 1.2 .3 .9 .1 .4 .1 1.2 .3 1.3 .3 1.2 .5 1.2 .8 1.3 .4 .2 .1 1 .7 .2 .5-.2 .1-1.2 .9-.4 .2-.9 .3-1.2 .3-1.2 .3-1.3 .3-.5 .1-.7 .1-1.3 .3-1.2 .5-.5 .3-.7 .6-.6 .6-.6 1.3-.1 .1-.2 1.1-.1 1.2 0 1.3 .2 1.2 .1 .8 .2 .4 .4 1.3 .4 1.2 .3 1.2 .4 1.3-.4 0-1.3 0-1.1 0-.1-.3-.3-1-.3-1.2-.4-1.2-.2-1.3-.2-1.2-.1-1.2-.1-1.3-.1-1.2-.1-1.2 0-1.3 0-1.2-.1-1.2-.5-1.3-.1 0-1.2-1-.3-.2-.9-.3-1.3-.3-1.2-.4-.8-.2-.4-.1-1.3-.4-1.2-.3-1.2-.4-.4-.1-.9-.1-1.2-.3-1.2-.4-1.3-.4-.1 0-1.1-.4-1.2-.7-.3-.1-1-.8-.6-.5-.6-.6-.7-.6-.5-.7-.5-.5-.8-1.1-.1-.2-.9-1.2-.2-.3-.7-.9-.5-.7-.6-.6-.7-.7-.6-.5-.6-.6-.8-.6-.4-.4-1.2-.9-.1-.1 0-1.1 0-.8z" fill="#259ce7" stroke="#259ce7" stroke-width="0.3" fill-rule="evenodd"/>
<path d="M245.5 82.8l1.1 .9 .5 .4 .7 .5 .8 .7 .4 .3 1.1 .9 .2 .1 1.2 1.1 0 .1 1.2 1.2 .9 1.2 .4 .5 .4 .8 .8 1.1 .1 .1 .9 1.2 .2 .3 .8 1 .5 .5 .6 .7 .6 .5 1.2 .7 0 .1 1.3 .3 1.2 .2 1.2 .2 1.3 0 1.2 .1 1.2 0 1.3 0 1.2-.1 1.2-.2 1.3-.2 1.2-.3 .2-.1 1-.2 1.3-.3 1.2-.2 1.2 0 1.3 .1 1.2 .2 1.2 .4 .4 0 .9 .2 1.2 .2 1.3 .1 1.2 .2 1.2 .3 1.1 .3 .2 0 1.2 .2 1.2 .2 1.3 .4 .5 .4 .7 .8 .2 .4 0 1.3-.2 .9-.1 .3-.7 1.2-.4 .5-.9 .8-.4 .3-1.2 .7-.3 .2-.9 .5-1.3 .4-.9 .3-.3 .2-1.2 .3-1.3 .4-1.1 .4-.1 0-1.3 .8-.4 .4-.7 1.2-.1 .6-.1 .7 .1 .8 .1 .4 .3 1.2 .4 1.3 .3 1.2 .1 .5 .3 .7 .4 1.3-.7 0-1.2 0-.8 0-.4-1.3-.3-1.2-.4-1.2-.4-1.3-.2-.4-.1-.8-.2-1.2 0-1.3 .1-1.2 .2-1.1 .1-.1 .6-1.3 .6-.6 .7-.6 .5-.3 1.2-.5 1.3-.3 .7-.1 .5-.1 1.3-.3 1.2-.3 1.2-.3 .9-.3 .4-.2 1.2-.9 .2-.1-.2-.5-1-.7-.2-.1-1.3-.4-1.2-.8-1.2-.5-1.3-.3-1.2-.3-.4-.1-.9-.1-1.2-.3-1.2-.2-1.3 .1-1.2 .1-1.2 .2-.9 .2-.4 .1-1.2 .2-1.2 .1-1.3 0-1.2-.1-1.2-.1-1.3-.1-.3-.1-.9-.1-1.2-.2-1.3-.1-1.2-.2-1.2-.2-1.3-.3-.2-.1-1-.5-1.2-.8-1.3-1.2-1-1.2-.2-.3-.8-1-.4-.6-.5-.6-.8-1.2-.9-1.3-.3-.4-.8-.8-.4-.5-.9-.7-.4-.4-1.1-.9-.1-.1-1.2-.9-.3-.2-1-.8 0-.4 0-1.3 0-.1z" fill="#1fa5e2" stroke="#1fa5e2" stroke-width="0.3" fill-rule="evenodd"/>
<path d="M246.2 81.6l.4 .3 1.1 .9 .1 .1 1.2 1 .2 .2 1.1 .8 .4 .4 .8 .7 .6 .5 .6 .6 .7 .7 .6 .6 .5 .6 .7 1.1 .1 .1 .8 1.3 .3 .5 .6 .7 .7 .9 .3 .3 .9 1.1 .2 .2 1 .8 .9 .4 .4 .2 1.2 .3 1.2 .1 1.3 .1 1.2-.1 1.2-.1 1.3-.2 1.2-.3 .2 0 1-.4 1.3-.4 1.2-.4 0-.1 1.2-.3 1.3-.2 1.2 0 1.2 .2 1.3 .3 .2 .1 1 .3 1.2 .4 1.3 .3 1.2 .1 1.3 .1 1.1 0 .1 0 1.2 .1 1.3 .1 1.2 .1 1.2 .2 1.3 .3 1 .4 .2 .1 1.2 1 .2 .2 .6 1.2 .1 1.2-.2 1.3-.4 1.2-.3 .5-.4 .7-.8 1.3-1.1 1.2-.1 .1-1.3 1-.2 .1-1 .8-.9 .5-.3 .2-1.3 .6-.9 .4-.3 .2-1.2 .7-.6 .3-.7 .9-.2 .4-.3 1.2 0 1.2 .3 1.3 .2 .8 .1 .4 .5 1.2 .5 1.3-1.1 0-1.2 0-.6 0-.4-1.3-.3-.7-.1-.5-.3-1.2-.4-1.3-.3-1.2-.1-.4-.1-.8 .1-.7 .1-.6 .7-1.2 .4-.4 1.3-.8 .1 0 1.1-.4 1.3-.4 1.2-.3 .3-.2 .9-.3 1.3-.4 .9-.5 .3-.2 1.2-.7 .4-.3 .9-.8 .4-.5 .7-1.2 .1-.3 .2-.9 0-1.3-.2-.4-.7-.8-.5-.4-1.3-.4-1.2-.2-1.2-.2-.2 0-1.1-.3-1.2-.3-1.2-.2-1.3-.1-1.2-.2-.9-.2-.4 0-1.2-.4-1.2-.2-1.3-.1-1.2 0-1.2 .2-1.3 .3-1 .2-.2 .1-1.2 .3-1.3 .2-1.2 .2-1.2 .1-1.3 0-1.2 0-1.2-.1-1.3 0-1.2-.2-1.2-.2-1.3-.3 0-.1-1.2-.7-.6-.5-.6-.7-.5-.5-.8-1-.2-.3-.9-1.2-.1-.1-.8-1.1-.4-.8-.4-.5-.9-1.2-1.2-1.2 0-.1-1.2-1.1-.2-.1-1.1-.9-.4-.3-.8-.7-.7-.5-.5-.4-1.1-.9-.2-.1 0-1.1 0-.7z" fill="#17aeda" stroke="#17aeda" stroke-width="0.3" fill-rule="evenodd"/>
<path d="M245.4 79.1l1.2 1 .2 .2 1 .9 .4 .4 .8 .6 .7 .6 .6 .5 .9 .8 .3 .2 1.1 1 .1 .1 1.3 1.1 1.2 1.2 .1 .1 1 1.2 .1 .2 .7 1 .6 .9 .2 .4 1 1.2 1.2 1.2 0 .1 1.3 .8 .7 .4 .5 .1 1.2 .3 1.3 .1 1.2-.1 1.2-.2 .7-.2 .6-.3 1.2-.6 .8-.4 .4-.2 1.3-.7 .7-.3 .5-.2 1.2-.3 1.3-.1 1.2 .1 1.2 .3 .5 .2 .8 .3 1.2 .6 .6 .3 .6 .3 1.3 .4 1.2 .2 1.3-.1 1.2-.1 1.2-.1 1.3 0 1.2 .1 1.2 .3 1.3 .2 .1 .1 1.1 .3 1.2 .4 .9 .5 .4 .2 .9 1 .3 .7 .2 .6 .3 1.2-.1 1.2-.4 1.3-.6 1.2-.6 1.1-.1 .1-.7 1.3-.5 .7-.3 .5-.9 1.1-.2 .1-1 1.1-.3 .2-1 .9-.4 .3-.8 .8-.6 .4-.6 .6-.8 .7-.5 .6-.4 .6-.2 1.2 .1 1.3 .3 1.2 .2 .6 .3 .6 .6 1.3-.9 0-1.2 0-1.2 0-.2 0-.5-1.3-.5-1.2-.1-.4-.2-.8-.3-1.3 0-1.2 .3-1.2 .2-.4 .7-.9 .6-.3 1.2-.7 .3-.2 .9-.4 1.3-.6 .3-.2 .9-.5 1-.8 .2-.1 1.3-1 .1-.1 1.1-1.2 .8-1.3 .4-.7 .3-.5 .4-1.2 .2-1.3-.1-1.2-.6-1.2-.2-.2-1.2-1-.2-.1-1-.4-1.3-.3-1.2-.2-1.2-.1-1.3-.1-1.2-.1-.1 0-1.1 0-1.3-.1-1.2-.1-1.3-.3-1.2-.4-1-.3-.2-.1-1.3-.3-1.2-.2-1.2 0-1.3 .2-1.2 .3 0 .1-1.2 .4-1.3 .4-1 .4-.2 0-1.2 .3-1.3 .2-1.2 .1-1.2 .1-1.3-.1-1.2-.1-1.2-.3-.4-.2-.9-.4-1-.8-.2-.2-.9-1.1-.3-.3-.7-.9-.6-.7-.3-.5-.8-1.3-.1-.1-.7-1.1-.5-.6-.6-.6-.7-.7-.6-.6-.6-.5-.8-.7-.4-.4-1.1-.8-.2-.2-1.2-1-.1-.1-1.1-.9-.4-.3-.9-.7 0-.6 0-1.2 0-.1z" fill="#05b6ce" stroke="#05b6ce" stroke-width="0.3" fill-rule="evenodd"/>
<path d="M246.2 77.9l.4 .3 .9 .9 .3 .3 1 .9 .2 .2 1.2 1.1 .1 .1 1.2 1 .1 .1 1.1 1 .3 .3 1 .8 .5 .4 .7 .6 .9 .6 .3 .3 1.1 1 .2 .1 .8 1.1 .4 .6 .4 .6 .8 1.1 .2 .2 1.1 1.1 .1 .1 1.1 .7 1.1 .5 .1 .1 1.3 .2 1.2-.2 .3-.1 .9-.4 1.3-.7 .1-.1 1.1-1 .4-.2 .8-.7 1.1-.6 .2 0 1.2-.4 1.2-.1 1.3 0 1.2 .1 1.2 .1 1.3 .2 .3 .1 .9 .5 1 .8 .2 .2 1.2 1 .1 0 1.2 .2 .8-.2 .5-.2 1.2-.4 1.2 0 1.3 .2 1.2 .2 .6 .2 .6 .1 1.3 .3 1.2 .4 1.2 .2 .9 .2 .4 .1 1.2 .6 .7 .6 .5 .5 .4 .7 .6 1.2 .3 .9 .1 .4 .2 1.2 .1 1.2-.1 1.3-.3 .6-.4 .6-.9 .8-.4 .4-.8 1.1-.1 .2-.5 1.2-.6 1-.2 .2-1 1.3-.1 0-1 1.2-.2 .2-.7 1-.5 1-.2 .3-.5 1.2-.3 1.2 .1 1.3 .4 1.2 .5 .7 .3 .5 .9 1.1 .2 .2-.2 0-1.2 0-1.3 0-1.2 0-1.2 0-.4 0-.6-1.3-.3-.6-.2-.6-.3-1.2-.1-1.3 .2-1.2 .4-.6 .5-.6 .8-.7 .6-.6 .6-.4 .8-.8 .4-.3 1-.9 .3-.2 1-1.1 .2-.1 .9-1.1 .3-.5 .5-.7 .7-1.3 .1-.1 .6-1.1 .6-1.2 .4-1.3 .1-1.2-.3-1.2-.2-.6-.3-.7-.9-1-.4-.2-.9-.5-1.2-.4-1.1-.3-.1-.1-1.3-.2-1.2-.3-1.2-.1-1.3 0-1.2 .1-1.2 .1-1.3 .1-1.2-.2-1.3-.4-.6-.3-.6-.3-1.2-.6-.8-.3-.5-.2-1.2-.3-1.2-.1-1.3 .1-1.2 .3-.5 .2-.7 .3-1.3 .7-.4 .2-.8 .4-1.2 .6-.6 .3-.7 .2-1.2 .2-1.2 .1-1.3-.1-1.2-.3-.5-.1-.7-.4-1.3-.8 0-.1-1.2-1.2-1-1.2-.2-.4-.6-.9-.7-1-.1-.2-1-1.2-.1-.1-1.2-1.2-1.3-1.1-.1-.1-1.1-1-.3-.2-.9-.8-.6-.5-.7-.6-.8-.6-.4-.4-1-.9-.2-.2-1.2-1-.1-.1 0-1.1 0-.9z" fill="#06bcc0" stroke="#06bcc0" stroke-width="0.3" fill-rule="evenodd"/>
<path d="M245.8 75.4l.8 .8 .4 .4 .8 .9 .4 .4 .8 .8 .4 .4 .9 .8 .4 .4 .8 .8 .5 .5 .7 .6 .6 .6 .7 .6 .8 .7 .4 .2 1.2 .8 .5 .2 .8 .4 1.2 .8 1.2 1.3 1 1.2 .3 .3 .8 .9 .4 .4 1.1 .9 .1 0 1.3 .4 1.2-.3 .3-.1 .9-.7 .7-.6 .6-.5 .9-.7 .3-.2 1.2-.7 1.3-.3 .1 0 1.1-.2 1.2 0 1.3 .1 1.2 0 1.2-.1 1.3-.1 1.2 0 1.2 .1 1.1 .2 .2 0 1.2 .2 1.3 .2 1.2 .6 .4 .2 .8 .4 1.3 .6 .6 .2 .6 .2 1.2 .4 1.3 .3 1.2 .3 .4 .1 .8 .1 1.3 .2 1.2 .4 .9 .5 .3 .2 1.2 1 .1 .1 .8 1.2 .4 .8 .2 .4 .4 1.2 .5 1.3 .1 .4 .3 .8 .6 1.2 .4 .9 .1 .4 .5 1.2 .3 1.2 .3 1.1 0 .2 .4 1.2 .7 1.2 .1 .4 .5 .9 .5 1.2 .3 .7 .2 .5 .3 1.3 .4 1.2 .3 .9 .1 .3 .5 1.3 .6 1.2 .7 1.2 .6 .8 .3 .5-.3 0-1.3 0-1.2 0-1.2 0-1.3 0-1.2 0-1.2 0-1.3 0-1.2 0-1.2 0-1.3 0-1.2 0-1.2 0-1.3 0-1 0-.2-.2-.9-1.1-.3-.5-.5-.7-.4-1.2-.1-1.3 .3-1.2 .5-1.2 .2-.3 .5-1 .7-1 .2-.2 1-1.2 .1 0 1-1.3 .2-.2 .6-1 .5-1.2 .1-.2 .8-1.1 .4-.4 .9-.8 .4-.6 .3-.6 .1-1.3-.1-1.2-.2-1.2-.1-.4-.3-.9-.6-1.2-.4-.7-.5-.5-.7-.6-1.2-.6-.4-.1-.9-.2-1.2-.2-1.2-.4-1.3-.3-.6-.1-.6-.2-1.2-.2-1.3-.2-1.2 0-1.2 .4-.5 .2-.8 .2-1.2-.2-.1 0-1.2-1-.2-.2-1-.8-.9-.5-.3-.1-1.3-.2-1.2-.1-1.2-.1-1.3 0-1.2 .1-1.2 .4-.2 0-1.1 .6-.8 .7-.4 .2-1.1 1-.1 .1-1.3 .7-.9 .4-.3 .1-1.2 .2-1.3-.2-.1-.1-1.1-.5-1.1-.7-.1-.1-1.1-1.1-.2-.2-.8-1.1-.4-.6-.4-.6-.8-1.1-.2-.1-1.1-1-.3-.3-.9-.6-.7-.6-.5-.4-1-.8-.3-.3-1.1-1-.1-.1-1.2-1-.1-.1-1.2-1.1-.2-.2-1-.9-.3-.3-.9-.9-.4-.3-.9-.9 0-.4 0-1.2 0-.5z" fill="#1fc0b2" stroke="#1fc0b2" stroke-width="0.3" fill-rule="evenodd"/>
<path d="M245.7 72.9l.9 1 .2 .3 1 1.1 .1 .1 1.1 1.2 0 .1 1.1 1.2 .2 .2 1 1 .2 .2 1 1 .2 .2 1.1 1.1 .2 .2 1.1 1 .1 .1 1.2 .6 1.3 .5 .1 .1 1.1 .4 1.2 .6 .3 .2 1 .7 .8 .5 .4 .4 1.2 .7 .4 .2 .9 .2 1.2 0 .5-.2 .7-.3 1.3-.6 .7-.4 .5-.2 1.2-.5 1.3-.1 1.2 0 1.2 .1 1.3 .2 1.2 0 1.2-.2 1.3-.3 1.2-.2 .3 0 .9-.1 1.3 0 .7 .1 .5 .1 1.3 .3 1.2 .7 .2 .1 1 .7 .8 .6 .5 .2 1.2 .5 1.2 .3 1.1 .2 .2 0 1.2 .1 1.2 .2 1.3 .4 1.2 .4 .2 .1 1 .6 .9 .7 .4 .2 1 1 .2 .2 .8 1 .4 .8 .3 .5 .6 1.2 .4 1 .1 .2 .5 1.3 .6 1.1 0 .1 .7 1.2 .5 1 .2 .3 .7 1.2 .4 .7 .3 .5 .8 1.3 .1 .1 .9 1.1 .3 .5 .7 .7 .6 .8 .4 .5 .8 1 .1 .2 1 1.2 .1 .2 .8 1.1 .5 .6 .4 .6 .8 1 .2 .2 .9 1.3 .1 .2 .8 1 .5 .6 .5 .6 .7 .9 .3 .4-.3 0-1.2 0-1.3 0-1.2 0-1.2 0-1.3 0-1.2 0-.9 0-.3-.5-.6-.8-.7-1.2-.6-1.2-.5-1.3-.1-.3-.3-.9-.4-1.2-.3-1.3-.2-.5-.3-.7-.5-1.2-.5-.9-.1-.4-.7-1.2-.4-1.2 0-.2-.3-1.1-.3-1.2-.5-1.2-.1-.4-.4-.9-.6-1.2-.3-.8-.1-.4-.5-1.3-.4-1.2-.2-.4-.4-.8-.8-1.2-.1-.1-1.2-1-.3-.2-.9-.5-1.2-.4-1.3-.2-.8-.1-.4-.1-1.2-.3-1.3-.3-1.2-.4-.6-.2-.6-.2-1.3-.6-.8-.4-.4-.2-1.2-.6-1.3-.2-1.2-.2-.2 0-1.1-.2-1.2-.1-1.2 0-1.3 .1-1.2 .1-1.2 0-1.3-.1-1.2 0-1.1 .2-.1 0-1.3 .3-1.2 .7-.3 .2-.9 .7-.6 .5-.7 .6-.9 .7-.3 .1-1.2 .3-1.3-.4-.1 0-1.1-.9-.4-.4-.8-.9-.3-.3-1-1.2-1.2-1.3-1.2-.8-.8-.4-.5-.2-1.2-.8-.4-.2-.8-.7-.7-.6-.6-.6-.7-.6-.5-.5-.8-.8-.4-.4-.9-.8-.4-.4-.8-.8-.4-.4-.8-.9-.4-.4-.8-.8-.5-.5 0-.7 0-1.3 0-.4z" fill="#2fc5a2" stroke="#2fc5a2" stroke-width="0.3" fill-rule="evenodd"/>
<path d="M245.9 70.5l.7 .9 .2 .3 1 1.2 1 1.3 .2 .2 .8 1 .5 .5 .6 .7 .6 .7 .5 .6 .7 .7 .6 .5 .7 .6 .7 .6 .5 .6 1.1 .7 .1 .1 1.3 .3 1.2 .4 1.2 .4 1.3 .5 1.2 .5 .8 .3 .4 .1 1.3 .2 1.2 0 1.2-.3 .2 0 1.1-.4 1.2-.4 1.2-.1 1.3 0 1.2 .3 1.2 .3 .8 .3 .5 .1 1.2 0 .5-.1 .7-.3 1.3-.5 1.2-.3 1.2-.1 1.3 0 1.2 .2 1.3 .2 1.2 .4 .6 .4 .6 .4 .8 .8 .5 .5 .8 .7 .4 .2 1.2 .2 1.3-.1 1.2 0 1.2 .3 1.3 .6 .2 .1 1 .5 1.2 .7 1.3 .9 .3 .3 .9 .8 .5 .5 .7 .7 .5 .5 .8 1 .1 .2 .7 1.3 .4 .9 .1 .3 .6 1.2 .5 1.1 .1 .2 .8 1.2 .4 .6 .5 .6 .7 1 .2 .3 1 1.2 1.3 1.1 .1 .1 1.1 .9 .5 .4 .7 .6 .9 .6 .4 .4 1 .8 .2 .2 1.2 1.1 1.2 1.2 .1 0 1.2 1.2 0 .1 1.1 1.2 .1 .1 1.1 1.1 .2 .3 0 .9 0 1.3 0 1.2 0 1.2 0 1.3-1.3 0-.9 0-.3-.4-.7-.9-.5-.6-.5-.6-.8-1-.1-.2-.9-1.3-.2-.2-.8-1-.4-.6-.5-.6-.8-1.1-.1-.2-1-1.2-.1-.2-.8-1-.4-.5-.6-.8-.7-.7-.3-.5-.9-1.1-.1-.1-.8-1.3-.3-.5-.4-.7-.7-1.2-.2-.3-.5-1-.7-1.2 0-.1-.6-1.1-.5-1.3-.1-.2-.4-1-.6-1.2-.3-.5-.4-.8-.8-1-.2-.2-1-1-.4-.2-.9-.7-1-.6-.2-.1-1.2-.4-1.3-.4-1.2-.2-1.2-.1-.2 0-1.1-.2-1.2-.3-1.2-.5-.5-.2-.8-.6-1-.7-.2-.1-1.2-.7-1.3-.3-.5-.1-.7-.1-1.3 0-.9 .1-.3 0-1.2 .2-1.3 .3-1.2 .2-1.2 0-1.3-.2-1.2-.1-1.2 0-1.3 .1-1.2 .5-.5 .2-.7 .4-1.3 .6-.7 .3-.5 .2-1.2 0-.9-.2-.4-.2-1.2-.7-.4-.4-.8-.5-1-.7-.3-.2-1.2-.6-1.1-.4-.1-.1-1.3-.5-1.2-.6-.1-.1-1.1-1-.2-.2-1.1-1.1-.2-.2-1-1-.2-.2-1-1-.2-.2-1.1-1.2 0-.1-1.1-1.2-.1-.1-1-1.1-.2-.3-.9-1-.4-.4 0-.8 0-1.2 0-.8z" fill="#3dc990" stroke="#3dc990" stroke-width="0.3" fill-rule="evenodd"/>
<path d="M245.8 66.8l.6 1.2 .2 .3 .5 .9 .7 1.1 .1 .2 1 1.2 .1 .1 .9 1.1 .4 .5 .6 .8 .6 .8 .3 .4 .9 1 .3 .2 1 .9 .5 .4 .7 .5 1.2 .6 .5 .1 .8 .3 1.2 .4 1.2 .5 .1 0 1.2 .5 1.2 .3 1.2 .3 1.3-.1 1.2-.2 1.2-.3 1.3-.2 1.2-.2 1.2 .1 1.3 .2 1.2 .2 1.2 .2 1.3 0 1.2-.2 1.2-.2 1.3-.2 1.2 0 1.2 .1 1.3 .2 1.2 .3 1.3 .2 1.2 .2 .3 .1 .9 .2 1.3 .4 .9 .6 .3 .3 1.2 .8 1.3 .1 .2 .1 1 .1 1.2 .8 .3 .3 1 .7 .8 .5 .4 .2 1.2 .8 .4 .3 .9 .6 .7 .6 .5 .4 1 .8 .2 .2 1.2 1.1 .1 0 1 1.2 .2 .3 .6 .9 .6 1.2 .1 .1 .5 1.2 .7 1.2 .9 1.3 .3 .4 .8 .8 .4 .4 1.3 .8 1.2 .7 1.1 .6 .1 0 1.3 .7 .9 .5 .3 .2 1.2 .8 .4 .2 .9 .6 .8 .7 .4 .3 1.2 .9 0 .1 1.3 1 0 .1 0 1.3 0 1.2 0 1.2 0 1.3 0 1.2 0 .3-.2-.3-1.1-1.1-.1-.1-1.1-1.2 0-.1-1.2-1.2-.1 0-1.2-1.2-1.2-1.1-.2-.2-1-.8-.4-.4-.9-.6-.7-.6-.5-.4-1.1-.9-.1-.1-1.3-1.1-1-1.2-.2-.3-.7-1-.5-.6-.4-.6-.8-1.2-.1-.2-.5-1.1-.6-1.2-.1-.3-.4-.9-.7-1.3-.1-.2-.8-1-.5-.5-.7-.7-.5-.5-.9-.8-.3-.3-1.3-.9-1.2-.7-1-.5-.2-.1-1.3-.6-1.2-.3-1.2 0-1.3 .1-1.2-.2-.4-.2-.8-.7-.5-.5-.8-.8-.6-.4-.6-.4-1.2-.4-1.3-.2-1.2-.2-1.3 0-1.2 .1-1.2 .3-1.3 .5-.7 .3-.5 .1-1.2 0-.5-.1-.8-.3-1.2-.3-1.2-.3-1.3 0-1.2 .1-1.2 .4-1.1 .4-.2 0-1.2 .3-1.2 0-1.3-.2-.4-.1-.8-.3-1.2-.5-1.3-.5-1.2-.4-1.2-.4-1.3-.3-.1-.1-1.1-.7-.5-.6-.7-.6-.7-.6-.6-.5-.7-.7-.5-.6-.6-.7-.6-.7-.5-.5-.8-1-.2-.2-1-1.3-1-1.2-.2-.3-.7-.9-.6-.8 0-.5 0-1.2 0-1.2 0-1.1z" fill="#55cc7c" stroke="#55cc7c" stroke-width="0.3" fill-rule="evenodd"/>
<path d="M245.4 49.5l.1 1.2 .1 1.3 .1 1.2 .1 1.2 .1 1.3 .1 1.2 .1 1.2 .2 1.3 .2 1.2 .1 .5 .1 .7 .2 1.3 .3 1.2 .3 1.2 .3 .8 .1 .5 .6 1.2 .5 1 .2 .2 .9 1.3 .2 .2 .7 1 .5 .6 .5 .6 .7 1 .3 .3 1 1 .2 .2 1 .7 1 .5 .2 .2 1.3 .4 1.2 .4 .7 .3 .5 .2 1.3 .4 1.2 .3 1.2 .1 1.3-.1 1.2-.1 1.2 .1 1.3 0 1.2 0 1.2 0 1.3 .1 1.2 0 1.2 0 1.3-.2 1.2-.3 1.2-.2 1.3-.1 1.2 .1 1.2 .3 1.3 .4 .6 .2 .6 .2 1.3 .4 1.2 .3 1.2 .3 .3 0 1 .3 1.2 .6 .9 .4 .3 .2 1.3 .5 1.2 .4 .2 .1 1 .7 .8 .6 .5 .4 1 .8 .2 .2 1.2 .8 .4 .2 .9 .6 .9 .7 .3 .2 1.2 .9 .1 .1 1.2 .9 .4 .3 .8 .8 .5 .5 .7 .8 .4 .4 .8 1.2 .1 .2 .5 1.1 .7 1.2 1 1.2 .2 .3 1.3 .7 1.1 .3 .1 0 1.2 .2 1.3 .2 1.2 .4 .9 .4 .3 .2 1.3 .6 .6 .4 .6 .4 1.2 .8 .1 .1 1.2 .8 0 .4 0 1.2 0 1.3 0 1.2 0 1.1-1.3-1 0-.1-1.2-.9-.4-.3-.8-.7-.9-.6-.4-.2-1.2-.8-.3-.2-.9-.5-1.3-.7-.1 0-1.1-.6-1.2-.7-1.3-.8-.4-.4-.8-.8-.3-.4-.9-1.3-.7-1.2-.5-1.2-.1-.1-.6-1.2-.6-.9-.2-.3-1-1.2-.1 0-1.2-1.1-.2-.2-1-.8-.5-.4-.7-.6-.9-.6-.4-.3-1.2-.8-.4-.2-.8-.5-1-.7-.3-.3-1.2-.8-1-.1-.2-.1-1.3-.1-1.2-.8-.3-.3-.9-.6-1.3-.4-.9-.2-.3-.1-1.2-.2-1.3-.2-1.2-.3-1.3-.2-1.2-.1-1.2 0-1.3 .2-1.2 .2-1.2 .2-1.3 0-1.2-.2-1.2-.2-1.3-.2-1.2-.1-1.2 .2-1.3 .2-1.2 .3-1.2 .2-1.3 .1-1.2-.3-1.2-.3-1.2-.5-.1 0-1.2-.5-1.2-.4-.8-.3-.5-.1-1.2-.6-.7-.5-.5-.4-1-.9-.3-.2-.9-1-.3-.4-.6-.8-.6-.8-.4-.5-.9-1.1-.1-.1-1-1.2-.1-.2-.7-1.1-.5-.9-.2-.3-.6-1.2-.5-1.1 0-.2 0-1.2 0-1.2 0-1.3 0-1.2 0-1.2 0-1.3 0-1.2 0-1.2 0-1.3 0-1.2 0-1.2 0-1.3 0-1.2 0-.9z" fill="#71cd64" stroke="#71cd64" stroke-width="0.3" fill-rule="evenodd"/>
<path d="M246.6 43.3l1.2 0 1.2 0 .8 0 .1 1.3 0 1.2 0 1.2-.1 1.3 0 1.2-.1 1.2-.1 1.3 0 1.2-.1 1.2 0 1.3 0 1.2 0 1.2 .1 1.3 0 1.2 .1 1.2 .1 1.3 .1 1.2 .1 1.2 .2 1.3 .1 .1 .4 1.1 .7 1.2 .1 .2 .8 1.1 .4 .5 .6 .7 .7 .8 .4 .4 .8 .9 .5 .4 .7 .5 1.3 .7 1.2 .5 1.2 .5 .7 .2 .6 .2 1.2 .3 1.2 .1 1.3-.1 1.2 .1 1.2 .2 1.3 .2 1.2 0 1.2 0 1.3-.1 1.2-.1 1.2-.2 1.3-.2 1.2-.3 .2-.1 1-.2 1.3-.2 1.2 0 1.2 .4 .2 0 1.1 .5 1.2 .6 .5 .2 .8 .3 1.2 .5 1.2 .4 .2 0 1.1 .3 1.2 .5 .9 .4 .3 .2 1.3 .6 1 .5 .2 0 1.2 .7 .8 .5 .5 .4 .9 .9 .3 .2 1.2 .9 .1 .1 1.2 .8 .7 .4 .5 .4 1.2 .7 .2 .2 1.1 .7 .7 .5 .5 .3 1.1 .9 .1 .2 1.2 1.1 .1 .1 1 1.1 .2 .3 .8 .9 .4 .7 .7 .6 .6 .5 1.2 .1 1.2-.1 1.3-.1 1.2 .3 1.2 .5 1.3 .7 1.1 .5 .1 .1 1.2 .7 .8 .5 .5 .2 0 1 0 1.2 0 1.3 0 .8-1.2-.8-.1-.1-1.2-.8-.6-.4-.6-.4-1.3-.6-.3-.2-.9-.4-1.2-.4-1.3-.2-1.2-.2-.1 0-1.1-.3-1.3-.7-.2-.3-1-1.2-.7-1.2-.5-1.1-.1-.2-.8-1.2-.4-.4-.7-.8-.5-.5-.8-.8-.4-.3-1.2-.9-.1-.1-1.2-.9-.3-.2-.9-.7-.9-.6-.4-.2-1.2-.8-.2-.2-1-.8-.5-.4-.8-.6-1-.7-.2-.1-1.2-.4-1.3-.5-.3-.2-.9-.4-1.2-.6-1-.3-.3 0-1.2-.3-1.2-.3-1.3-.4-.6-.2-.6-.2-1.3-.4-1.2-.3-1.2-.1-1.3 .1-1.2 .2-1.2 .3-1.3 .2-1.2 0-1.2 0-1.3-.1-1.2 0-1.2 0-1.3 0-1.2-.1-1.2 .1-1.3 .1-1.2-.1-1.2-.3-1.3-.4-.5-.2-.7-.3-1.2-.4-1.3-.4-.2-.2-1-.5-1-.7-.2-.2-1-1-.3-.3-.7-1-.5-.6-.5-.6-.7-1-.2-.2-.9-1.3-.2-.2-.5-1-.6-1.2-.1-.5-.3-.8-.3-1.2-.3-1.2-.2-1.3-.1-.7-.1-.5-.2-1.2-.2-1.3-.1-1.2-.1-1.2-.1-1.3-.1-1.2-.1-1.2-.1-1.3-.1-1.2-.1-.9 0-.3 0-1.3 0-1.2 0-1.2 0-1.3z" fill="#90ca4d" stroke="#90ca4d" stroke-width="0.3" fill-rule="evenodd"/>
<path d="M250.3 43.3l1.2 0 1.2 0 1.3 0 1.2 0 1.1 0 0 1.3-.1 1.2-.3 1.2-.3 1.3-.4 1.2 0 .1-.4 1.1-.3 1.3-.4 1.2-.1 .7-.1 .5-.2 1.3-.1 1.2-.1 1.2 0 1.3 .1 1.2 .1 1.2 .1 1.3-.1 1.2-.2 1.2-.1 1.3 .3 1.2 .3 .6 .3 .6 .7 1.3 .2 .2 .8 1 .4 .5 .8 .7 .5 .4 1.2 .9 1.2 .6 1.3 .6 .2 0 1 .3 1.2 .2 1.3 .1 1.2 .1 1.2 .3 1.3 .2 1.2-.1 1.2-.1 1.3-.1 1.2-.2 1.2-.3 1.3-.3 .4-.1 .8-.2 1.2-.3 1.3-.3 1.2 0 1.2 .2 1.3 .4 .3 .2 .9 .5 1.3 .7 1.2 .7 1.2 .5 .1 .1 1.2 .4 1.2 .5 .6 .3 .6 .3 1.3 .6 .6 .3 .6 .3 1.2 .7 .5 .3 .8 .5 .9 .7 .3 .3 1.1 1 .1 .1 1.3 .9 .3 .2 .9 .5 1.2 .7 .1 0 1.2 .6 1 .7 .2 .1 1.2 .8 .5 .3 .8 .6 .7 .6 .5 .5 1 .8 .2 .2 1.3 .8 .6 .2 .6 .2 1.2 .2 1.3 .1 1.2 .2 1.2 .4 .4 .1 .9 .4 1.2 .4 1.1 .5 .1 0 1.3 .6 0 .6 0 1.2 0 1.3 0 .2-.5-.2-.8-.5-1.2-.7-.1-.1-1.1-.5-1.3-.7-1.2-.5-1.2-.3-1.3 .1-1.2 .1-1.2-.1-.6-.5-.7-.6-.4-.7-.8-.9-.2-.3-1-1.1-.1-.1-1.2-1.1-.1-.2-1.1-.9-.5-.3-.7-.5-1.1-.7-.2-.2-1.2-.7-.5-.4-.7-.4-1.2-.8-.1-.1-1.2-.9-.3-.2-.9-.9-.5-.4-.8-.5-1.2-.7-.2 0-1-.5-1.3-.6-.3-.2-.9-.4-1.2-.5-1.1-.3-.2 0-1.2-.4-1.2-.5-.8-.3-.5-.2-1.2-.6-1.1-.5-.2 0-1.2-.4-1.2 0-1.3 .2-1 .2-.2 .1-1.2 .3-1.3 .2-1.2 .2-1.2 .1-1.3 .1-1.2 0-1.2 0-1.3-.2-1.2-.2-1.2-.1-1.3 .1-1.2-.1-1.2-.3-.6-.2-.7-.2-1.2-.5-1.2-.5-1.3-.7-.7-.5-.5-.4-.8-.9-.4-.4-.7-.8-.6-.7-.4-.5-.8-1.1-.1-.2-.7-1.2-.4-1.1-.1-.1-.2-1.3-.1-1.2-.1-1.2-.1-1.3-.1-1.2 0-1.2-.1-1.3 0-1.2 0-1.2 0-1.3 .1-1.2 0-1.2 .1-1.3 .1-1.2 0-1.2 .1-1.3 0-1.2 0-1.2-.1-1.3z" fill="#adc638" stroke="#adc638" stroke-width="0.3" fill-rule="evenodd"/>
<path d="M256.4 43.3l1.3 0 1.2 0 1.2 0 1.3 0 1.2 0 1.2 0 1.3 0 .1 0 .4 1.3 .4 1.2 .2 1.2 .1 1.3-.2 1.2-.9 1.2-.1 .1-1.3 .6-1.2 .4-.2 .2-1 .4-1.2 .8-.1 0-1.1 1.2-.1 .1-.7 1.2-.4 1.2-.1 .4-.2 .8 0 1.3 0 1.2 .2 1.2 0 .1 0 1.2 0 1.2 0 .2-.2 1-.3 1.3 0 1.2 .2 1.2 .3 .7 .2 .6 .8 1.2 .2 .2 1.1 1 .1 .2 1.3 .7 .7 .4 .5 .2 1.2 .3 1.3 .2 1.2 .3 .7 .2 .5 .1 1.3 .1 1.2-.1 .5-.1 .7-.1 1.3-.3 1.2-.3 1.2-.3 .9-.2 .4-.1 1.2-.4 1.2-.3 1.3-.3 1.2-.2 .1 0 1.1 .1 1.3 .3 1.2 .5 .7 .4 .6 .3 1.2 .9 1.2 .8 .6 .4 .7 .3 1.2 .6 .6 .4 .6 .3 1.3 .7 .3 .2 .9 .5 1.2 .6 .2 .1 1.1 .7 .8 .6 .4 .3 1 .9 .2 .2 1.2 1.1 .1 0 1.2 .7 1.1 .5 .1 .1 1.3 .4 1.2 .6 .3 .1 .9 .5 1.2 .8 .1 0 1.2 .9 .5 .3 .7 .5 1.3 .7 .1 0 1.1 .5 1.2 .3 1.3 .3 .8 .2 .4 .1 1.2 .2 1.3 .3 1.2 .2 1.2 .3 .4 .1 .9 .2 0 1 0 1.3 0 .6-1.3-.6-.1 0-1.1-.5-1.2-.4-.9-.4-.4-.1-1.2-.4-1.2-.2-1.3-.1-1.2-.2-.6-.2-.6-.2-1.3-.8-.2-.2-1-.8-.5-.5-.7-.6-.8-.6-.5-.3-1.2-.8-.2-.1-1-.7-1.2-.6-.1 0-1.2-.7-.9-.5-.3-.2-1.3-.9-.1-.1-1.1-1-.3-.3-.9-.7-.8-.5-.5-.3-1.2-.7-.6-.3-.6-.3-1.3-.6-.6-.3-.6-.3-1.2-.5-1.2-.4-.1-.1-1.2-.5-1.2-.7-1.3-.7-.9-.5-.3-.2-1.3-.4-1.2-.2-1.2 0-1.3 .3-1.2 .3-.8 .2-.4 .1-1.3 .3-1.2 .3-1.2 .2-1.3 .1-1.2 .1-1.2 .1-1.3-.2-1.2-.3-1.2-.1-1.3-.1-1.2-.2-1-.3-.2 0-1.3-.6-1.2-.6-1.2-.9-.5-.4-.8-.7-.4-.5-.8-1-.2-.2-.7-1.3-.3-.6-.3-.6-.3-1.2 .1-1.3 .2-1.2 .1-1.2-.1-1.3-.1-1.2-.1-1.2 0-1.3 .1-1.2 .1-1.2 .2-1.3 .1-.5 .1-.7 .4-1.2 .3-1.3 .4-1.1 0-.1 .4-1.2 .3-1.3 .3-1.2 .1-1.2 0-1.3z" fill="#c8c129" stroke="#c8c129" stroke-width="0.3" fill-rule="evenodd"/>
<path d="M266.3 43.3l1.2 0 1.3 0 1.2 0 1.2 0 1.3 0 .5 1.3 .5 1.2 .2 .6 .2 .6 .5 1.3 .5 .9 .2 .3 .7 1.2 .4 .9 .1 .4 .2 1.2-.2 1.2-.1 .2-1.3 .7-1.2 .2-1.2 0-1.3 0-1.2 0-1.2 .1-.4 .1-.9 .2-1.2 .4-1.2 .3-1.3 .3-1.2 .6-.8 .6-.4 .9-.2 .4-.1 1.2-.1 1.2-.1 1.3-.2 1.2-.3 1.2-.2 1.3-.1 .3-.1 .9 .1 1.2 .4 1.3 .8 1.2 .1 .1 1.2 1 .2 .1 1 .4 1.3 .4 1.1 .5 .1 0 1.2 .3 1.3 0 1.2-.2 .5-.1 .7-.3 1.3-.4 1.2-.4 .7-.2 .5-.1 1.3-.4 1.2-.3 1-.4 .2-.1 1.3-.4 1.2-.3 1.2-.1 1.3 0 1.2 .1 1.3 .3 1.2 .2 1.2-.3 .5-.6 .8-1.2 0-.1 1.2-1.1 .1-.1 1.1-.5 1.3 .1 .4 .4 .2 1.2-.3 1.3-.3 1.1-.1 .1-.9 1.2-.3 .3-1.2 .5-.4 .5 .2 1.2 .2 .1 1.2 1 .2 .1 1.1 .8 .5 .5 .7 .4 1.2 .8 1.3 .7 .8 .5 .4 .3 1.2 1 1.3 1.2 1.2 .9 .9 .4 .3 .1 1.3 .2 1.2 .4 1.2 .4 .1 .1 1.2 .5 1.1 .7 .1 .1 1.2 .7 .9 .5 .4 .2 1.2 .4 1.2 .4 .6 .2 .7 .2 1.2 .3 1.2 .2 1.3 .2 1.2 0 1.2 .1 1.3 .1 0 .1 0 1.3 0 1.2 0 .2-.9-.2-.4-.1-1.2-.3-1.2-.2-1.3-.3-1.2-.2-.4-.1-.8-.2-1.3-.3-1.2-.3-1.1-.5-.1 0-1.3-.7-.7-.5-.5-.3-1.2-.9-.1 0-1.2-.8-.9-.5-.3-.1-1.2-.6-1.3-.4-.1-.1-1.1-.5-1.2-.7-.1 0-1.2-1.1-.2-.2-1-.9-.4-.3-.8-.6-1.1-.7-.2-.1-1.2-.6-.9-.5-.3-.2-1.3-.7-.6-.3-.6-.4-1.2-.6-.7-.3-.6-.4-1.2-.8-1.2-.9-.6-.3-.7-.4-1.2-.5-1.3-.3-1.1-.1-.1 0-1.2 .2-1.3 .3-1.2 .3-1.2 .4-.4 .1-.9 .2-1.2 .3-1.2 .3-1.3 .3-.7 .1-.5 .1-1.2 .1-1.3-.1-.5-.1-.7-.2-1.2-.3-1.3-.2-1.2-.3-.5-.2-.7-.4-1.3-.7-.1-.2-1.1-1-.2-.2-.8-1.2-.2-.6-.3-.7-.2-1.2 0-1.2 .3-1.3 .2-1 0-.2 0-1.2 0-1.2 0-.1-.2-1.2 0-1.2 0-1.3 .2-.8 .1-.4 .4-1.2 .7-1.2 .1-.1 1.1-1.2 .1 0 1.2-.8 1-.4 .2-.2 1.2-.4 1.3-.6 .1-.1 .9-1.2 .2-1.2-.1-1.3-.2-1.2-.4-1.2-.4-1.3z" fill="#e0bc2a" stroke="#e0bc2a" stroke-width="0.3" fill-rule="evenodd"/>
<path d="M273.7 43.3l1.2 0 1.3 0 1.2 0 .9 0 .3 .7 .3 .6 .5 1.2 .5 1.1 0 .1 .5 1.3 .3 1.2 .3 1.2 .1 .8 .1 .5-.1 1.2 0 .1-.2 1.1-.4 1.3-.6 1.1-.1 .1-.9 1.2-.3 .4-.9 .9-.3 .2-1.2 .9-.3 .1-1 .5-1.2 .4-1.2 .3-.2 0-1.1 .3-1.2 .2-1.2 .1-1.3 .1-1.2 .5-.1 .1-1.1 .8-.3 .4-.8 1.2-.2 .3-.4 1-.3 1.2 0 1.2 .4 1.3 .3 .4 .8 .8 .5 .2 1.2 .7 .8 .3 .4 .2 1.3-.1 .3-.1 .9-.3 1.2-.5 .9-.4 .4-.2 1.2-.6 1-.4 .2-.2 1.3-.6 1-.5 .2-.1 1.2-.7 1.2-.4 .1 0 1.2-.5 1.2-.3 1.3-.4 .2 0 1-.4 1.3-.6 .5-.3 .7-.3 1.2-.5 1.3-.3 .5-.1 .7 0 .4 0 .8 .1 1.3 .4 1.2 .7 1.1 1.3 .1 .2 .5 1 .1 1.2-.2 1.3-.4 1.1 0 .1-.6 1.2-.5 1.3-.1 .5-.2 .7 .2 .3 .3 .9 .9 .9 .4 .4 .9 .5 1.1 .7 .1 .1 1.2 .9 .4 .2 .9 .8 .7 .5 .5 .4 1.2 .5 1.3 .1 1.2 .1 .5 .1 .7 .1 1.3 .4 1.2 .6 .4 .2 .8 .3 1.3 .6 .7 .3 .5 .2 1.2 .3 1.3 .3 1.2 .3 .4 .1 .8 .1 1.3 .1 1.2 0 1.2 0 1.3 0 0 1.1 0 1.2 0 1.1-1.3-.1-1.2-.1-1.2 0-1.3-.2-1.2-.2-1.2-.3-.7-.2-.6-.2-1.2-.4-1.2-.4-.4-.2-.9-.5-1.2-.7-.1-.1-1.1-.7-1.2-.5-.1-.1-1.2-.4-1.2-.4-1.3-.2-.3-.1-.9-.4-1.2-.9-1.3-1.2-1.2-1-.4-.3-.8-.5-1.3-.7-1.2-.8-.7-.4-.5-.5-1.1-.8-.2-.1-1.2-1-.2-.1-.2-1.2 .4-.5 1.2-.5 .3-.3 .9-1.2 .1-.1 .3-1.1 .3-1.3-.2-1.2-.4-.4-1.3-.1-1.1 .5-.1 .1-1.2 1.1 0 .1-.8 1.2-.5 .6-1.2 .3-1.2-.2-1.3-.3-1.2-.1-1.3 0-1.2 .1-1.2 .3-1.3 .4-.2 .1-1 .4-1.2 .3-1.3 .4-.5 .1-.7 .2-1.2 .4-1.3 .4-.7 .3-.5 .1-1.2 .2-1.3 0-1.2-.3-.1 0-1.1-.5-1.3-.4-1-.4-.2-.1-1.2-1-.1-.1-.8-1.2-.4-1.3-.1-1.2 .1-.9 .1-.3 .2-1.3 .3-1.2 .2-1.2 .1-1.3 .1-1.2 .1-1.2 .2-.4 .4-.9 .8-.6 1.2-.6 1.3-.3 1.2-.3 1.2-.4 .9-.2 .4-.1 1.2-.1 1.2 0 1.3 0 1.2 0 1.2-.2 1.3-.7 .1-.2 .2-1.2-.2-1.2-.1-.4-.4-.9-.7-1.2-.2-.3-.5-.9-.5-1.3-.2-.6-.2-.6-.5-1.2-.5-1.3z" fill="#f3ba39" stroke="#f3ba39" stroke-width="0.3" fill-rule="evenodd"/>
<path d="M278.6 43.3l1.3 0 1.2 0 1.2 0 .9 0 .4 1.3 .4 1.2 .3 1.2 .3 1.3 .2 .9 .1 .3 .2 1.2 .1 1.3 .1 1.2 0 1.2 0 1.3 0 1.2 .1 1.2 .7 1.2 .1 .1 1.1 .5 1.2 .4 .9 .3 .4 .1 1.2 .4 1.2 .5 .4 .2 .9 .5 1.1 .8 .1 0 1.2 1.1 .1 .1 1.1 1.2 .1 .2 .6 1.1 .5 1.2 .1 .8 .1 .4-.1 .7-.1 .6-.3 1.2-.5 1.2-.3 .8-.2 .5-.1 1.2 .3 .5 .5 .7 .7 .6 .8 .7 .4 .2 1.3 .8 .3 .2 .9 .5 1.2 .3 1.3 0 1.2-.2 1.2 .1 1.3 .2 1.2 .3 .4 0 .8 .3 1.3 .2 1.2 .2 1.2 .2 1.3 0 1.2 .1 1.2 0 1.3-.1 1.2 0 1.2-.1 1.3-.1 0 .6 0 1.2 0 1.3 0 1.2 0 1.2 0 .2-1.3 0-1.2 0-1.2 0-1.3-.1-.8-.1-.4-.1-1.2-.3-1.3-.3-1.2-.3-.5-.2-.7-.3-1.3-.6-.8-.3-.4-.2-1.2-.6-1.3-.4-.7-.1-.5-.1-1.2-.1-1.3-.1-1.2-.5-.5-.4-.7-.5-.9-.8-.4-.2-1.2-.9-.1-.1-1.1-.7-.9-.5-.4-.4-.9-.9-.3-.9-.2-.3 .2-.7 .1-.5 .5-1.3 .6-1.2 0-.1 .4-1.1 .2-1.3-.1-1.2-.5-1-.1-.2-1.1-1.3-1.2-.7-1.3-.4-.8-.1-.4 0-.7 0-.5 .1-1.3 .3-1.2 .5-.7 .3-.5 .3-1.3 .6-1 .4-.2 0-1.3 .4-1.2 .3-1.2 .5-.1 0-1.2 .4-1.2 .7-.2 .1-1 .5-1.3 .6-.2 .2-1 .4-1.2 .6-.4 .2-.9 .4-1.2 .5-.9 .3-.3 .1-1.3 .1-.4-.2-.8-.3-1.2-.7-.5-.2-.8-.8-.3-.4-.4-1.3 0-1.2 .3-1.2 .4-1 .2-.3 .8-1.2 .3-.4 1.1-.8 .1-.1 1.2-.5 1.3-.1 1.2-.1 1.2-.2 1.1-.3 .2 0 1.2-.3 1.2-.4 1-.5 .3-.1 1.2-.9 .3-.2 .9-.9 .3-.4 .9-1.2 .1-.1 .6-1.1 .4-1.3 .2-1.1 0-.1 .1-1.2-.1-.5-.1-.8-.3-1.2-.3-1.2-.5-1.3 0-.1-.5-1.1-.5-1.2-.3-.6-.3-.7z" fill="#fec13a" stroke="#fec13a" stroke-width="0.3" fill-rule="evenodd"/>
<path d="M283.6 43.3l1.2 0 1.3 0 1.2 0 .2 0 .3 1.3 .3 1.2 .2 1.2 .2 1 .1 .3 .2 1.2 .2 1.2 .3 1.3 .2 1.2 .3 .7 .1 .5 .5 1.3 .6 .8 .3 .4 .9 .9 .3 .3 1 .9 .4 .4 .8 .7 .4 .5 .8 .8 .4 .4 .9 1.1 .1 .2 1 1.2 .1 .1 .8 1.1 .4 .7 .4 .6 .5 1.2 .3 1.2 0 1.3-.2 1.2-.3 1.2-.1 1.3 .4 1.2 .3 .3 1.1 .9 .1 .1 1.2 .3 1.3 0 1.2-.1 1.2-.1 1.3-.2 1.2-.2 1.2-.3 1.3-.4 .7-.3 .5-.3 1.2-.9 .1 0 1.2-1.2 0-.1 1-1.2 .2-.2 1-1 .2-.2 1.3-.4 1.2-.1 1.2 .2 1.3 .3 0 .2 0 1.2 0 1.2 0 1.3 0 1.2 0 1.2 0 1.3 0 1.2 0 1.2 0 .7-1.3 .1-1.2 .1-1.2 0-1.3 .1-1.2 0-1.2-.1-1.3 0-1.2-.2-1.2-.2-1.3-.2-.8-.3-.4 0-1.2-.3-1.3-.2-1.2-.1-1.2 .2-1.3 0-1.2-.3-.9-.5-.3-.2-1.3-.8-.4-.2-.8-.7-.7-.6-.5-.7-.3-.5 .1-1.2 .2-.5 .3-.8 .5-1.2 .3-1.2 .1-.6 .1-.7-.1-.4-.1-.8-.5-1.2-.6-1.1-.1-.2-1.1-1.2-.1-.1-1.2-1.1-.1 0-1.1-.8-.9-.5-.4-.2-1.2-.5-1.2-.4-.4-.1-.9-.3-1.2-.4-1.1-.5-.1-.1-.7-1.2-.1-1.2 0-1.2 0-1.3 0-1.2-.1-1.2-.1-1.3-.2-1.2-.1-.3-.2-.9-.3-1.3-.3-1.2-.4-1.2-.4-1.3z" fill="#fdcd31" stroke="#fdcd31" stroke-width="0.3" fill-rule="evenodd"/>
<path d="M288.5 43.3l1.3 0 1.2 0 1.1 0 .1 .7 .1 .6 .3 1.2 .2 1.2 .3 1.3 .3 1.2 .1 .4 .2 .8 .3 1.3 .4 1.2 .3 .7 .2 .5 .6 1.3 .4 .7 .3 .5 .7 1.2 .3 .5 .3 .8 .7 1.2 .2 .3 .6 .9 .6 1 .2 .3 1 1.2 .1 .1 .8 1.1 .4 .6 .4 .7 .7 1.2 .1 .3 .5 .9 .4 1.3 .4 1.1 .1 .1 1.1 .9 1.2 0 1.3-.3 1.1-.6 .1-.1 1.2-1 .1-.1 1-1.3 .2-.2 .7-1 .5-.7 .4-.5 .8-1 .4-.3 .9-.6 1-.6 .2-.1 1.2-.4 1.3-.3 1.2-.1 1.2 0 1.3 .1 0 .8 0 1.2 0 1.3 0 1.2 0 1.2 0 1.1-1.3-.3-1.2-.2-1.2 .1-1.3 .4-.2 .2-1 1-.2 .2-1 1.2 0 .1-1.2 1.2-.1 0-1.2 .9-.5 .3-.7 .3-1.3 .4-1.2 .3-1.2 .2-1.3 .2-1.2 .1-1.2 .1-1.3 0-1.2-.3-.1-.1-1.1-.9-.3-.3-.4-1.2 .1-1.3 .3-1.2 .2-1.2 0-1.3-.3-1.2-.5-1.2-.4-.6-.4-.7-.8-1.1-.1-.1-1-1.2-.1-.2-.9-1.1-.4-.4-.8-.8-.4-.5-.8-.7-.4-.4-1-.9-.3-.3-.9-.9-.3-.4-.6-.8-.5-1.3-.1-.5-.3-.7-.2-1.2-.3-1.3-.2-1.2-.2-1.2-.1-.3-.2-1-.2-1.2-.3-1.2-.3-1.3z" fill="#f7db2b" stroke="#f7db2b" stroke-width="0.3" fill-rule="evenodd"/>
<path d="M292.2 43.3l1.3 0 1.2 0 1.2 0 1.3 0 .2 0 .4 1.3 .3 1.2 .3 1.1 0 .1 .4 1.3 .4 1.2 .3 1.2 .1 .3 .3 1 .3 1.2 .2 1.2 0 1.3 .1 1.2 .1 1.2 .3 1 0 .3 .5 1.2 .7 1.2 0 .1 .9 1.2 .3 .4 .8 .8 .5 .5 .9 .7 .3 .3 1.2 .6 1.3-.1 1.2-.7 .1-.1 1.1-.9 .4-.3 .9-.8 .4-.4 .8-.8 .6-.5 .6-.4 1.2-.8 .1-.1 1.2-.6 1.2-.5 0-.1 1.3-.4 1.2-.2 1.2-.2 1.3-.1 0 1 0 1.2 0 1.2 0 1.3 0 .4-1.3-.1-1.2 0-1.2 .1-1.3 .3-1.2 .4-.2 .1-1 .6-.9 .6-.4 .3-.8 1-.4 .5-.5 .7-.7 1-.2 .2-1 1.3-.1 .1-1.2 1-.1 .1-1.1 .6-1.3 .3-1.2 0-1.1-.9-.1-.1-.4-1.1-.4-1.3-.5-.9-.1-.3-.7-1.2-.4-.7-.4-.6-.8-1.1-.1-.1-1-1.2-.2-.3-.6-1-.6-.9-.2-.3-.7-1.2-.3-.8-.3-.5-.7-1.2-.3-.5-.4-.7-.6-1.3-.2-.5-.3-.7-.4-1.2-.3-1.3-.2-.8-.1-.4-.3-1.2-.3-1.3-.2-1.2-.3-1.2-.1-.6-.1-.7z" fill="#f5e825" stroke="#f5e825" stroke-width="0.3" fill-rule="evenodd"/>
<path d="M298.4 43.3l1.2 0 1.3 0 1.2 0 1.2 0 1.3 0 1.2 0 1.2 0 1.3 0 1.2 0 1.2 0 1.3 0 1.2 0 1.2 0 1.3 0 1.2 0 1.2 0 1.3 0 1.2 0 1.2 0 1.3 0 0 1.3 0 1.2 0 1.2 0 1.3 0 1.2 0 1.2 0 1.3 0 1.2 0 1.2 0 1.3 0 1.2 0 1.2 0 .3-1.3 .1-1.2 .2-1.2 .2-1.3 .4 0 .1-1.2 .5-1.2 .6-.1 .1-1.2 .8-.6 .4-.6 .5-.8 .8-.4 .4-.9 .8-.4 .3-1.1 .9-.1 .1-1.2 .7-1.3 .1-1.2-.6-.3-.3-.9-.7-.5-.5-.8-.8-.3-.4-.9-1.2 0-.1-.7-1.2-.5-1.2 0-.3-.3-1-.1-1.2-.1-1.2 0-1.3-.2-1.2-.3-1.2-.3-1-.1-.3-.3-1.2-.4-1.2-.4-1.3 0-.1-.3-1.1-.3-1.2-.4-1.3z" fill="#f7f51b" stroke="#f7f51b" stroke-width="0.3" fill-rule="evenodd"/>
<path d="M272.2 121.1l-.5-1.3-.4-1.2-.1-.2-.3-1-.5-1.3-.4-1.2-.4-1.2-.6-1.3-.2-.5-.3-.7-.6-1.2-.4-.9-.1-.4-.6-1.2-.5-.6-.4-.6-.8-.8-.5-.5-.8-.5-1.2-.7-1.2-.6-1.3-.6-1.2-.6-1.2-.6-.1-.1-1.2-.5-1.2-.6-.1-.1-1.1-.7-.8-.5-.5-.4-1-.9-.2-.2-.9-1-.3-.5-.7-.7-.6-.8-.4-.5-.8-.9-.3-.3-.9-1-.3-.2-1-1" fill="none" stroke="#1a1a1a" stroke-width="0.6"/>
<path d="M281.6 121.1l-.4-1.3-.1-.4-.2-.8-.3-1.2-.5-1.3-.2-.7-.2-.5-.2-1.2 .1-1.3 .2-1.2 .1-.1 .6-1.1 .6-.6 1.2-.7 1.3-.4 1.2-.3 1.3-.2 1.2-.3 .1 0 1.1-.3 1.3-.5 1-.4 .2-.2 1.2-.7 .4-.4 .9-1 .1-.2 .3-1.2-.4-1.3-1.3-.5-1.2-.2-1.2-.1-1-.4-.3-.1-1.2-.5-1.2-.4-1.3-.1-.7-.1-.5-.1-1.3-.2-1.2-.3-1.2-.2-1.3-.1-1.2 .2-1.2 .2-1.3 .3-.7 .2-.5 .1-1.2 .2-1.3 .1-1.2 .1-1.2 0-1.3-.1-1.2-.1-1.2-.1-1.3-.1-1.2-.1-.1 0-1.1-.2-1.3-.4-1.2-.6-.2-.1-1-.9-.4-.3-.9-1.1-.1-.1-1-1.3-.1-.2-.8-1-.4-.7-.4-.5-.8-1.3-.1 0-.9-1.2-.3-.3-1-.9-.2-.3-1.2-1-.1 0-1.2-1-.3-.2-.9-.8-.7-.4-.6-.5" fill="none" stroke="#1a1a1a" stroke-width="0.6"/>
<path d="M307.2 121.1l-.2-.2-1.1-1.1-.1 0-1.2-.9-.8-.3-.5-.2-1.2-.1-1.2-.1-1.3-.2-1.2-.5-.2-.1-1-1-.2-.3-.3-1.2 .1-1.2 .4-1 .1-.3 1-1.2 .1-.2 .9-1 .3-.5 .8-.8 .5-.5 1.2-.3 .4-.4 .8-.5 .2-.7 .4-1.3 0-1.2-.3-1.2-.3-.7-.1-.6-.4-1.2-.5-1.2-.2-.8-.2-.5-.4-1.2-.6-1.2-1.1-1.3-.2-.1-1.2-.7-1.1-.4-.1-.1-1.3-.2-1.2-.2-1.2-.3-1.3-.4-.3 0-.9-.3-1.2-.4-1.3-.4-.4-.2-.8-.3-1.2-.5-1.3 0-1.2-.2-.5-.2-.8-.2-1.2-.3-1.2-.1-1.3 0-1.2 0-1.2 0-1.3 0-1.2 0-1.2 .2-1.2 .4-.1 0-1.2 .8-.5 .4-.7 .7-.6 .6-.7 .5-1.1 .7-.1 0-1.2 .2-1.1-.2-.2-.1-1.2-.8-.4-.3-.8-.9-.4-.4-.9-1.1-.1-.1-.9-1.2-.2-.3-1.1-1-.1-.1-1.3-.7-.5-.4-.7-.4-1.1-.8-.1-.2-1.3-1.1-1.2-1.1-.2-.1-1-1-.3-.3-1-.9-.3-.3-.9-.9-.3-.3-.9-.9-.4-.4-.9-.9M304.6 110.6l-1.2 .6 1 1.2 .2 .2 0-.2 .3-1.2z" fill="none" stroke="#1a1a1a" stroke-width="0.6"/>
<path d="M323.1 106.5l-.3-.2-1-.7-.7-.6-.5-.4-1.2-.8-1.3-.8-.7-.4-.5-.3-1.2-.6-.9-.4-.4-.1-1.2-.4-1.2-.6-.2-.1-1.1-.6-.6-.6-.6-.6-.5-.7-.7-1.2 0-.1-.6-1.1-.6-1.3-.1-.1-.7-1.1-.5-.6-.6-.6-.6-.6-.8-.7-.5-.4-1-.8-.2-.2-1.2-.9-.2-.1-1.1-.8-.8-.5-.4-.3-1.2-.8-.1-.1-1.2-.9-.4-.3-.8-.5-1.2-.3-1.3-.4-.1-.1-1.1-.6-.9-.6-.3-.2-1.3-.2-1.2-.3-1.2-.2-1.3-.3-.1-.1-1.1-.2-1.3-.3-1.2-.2-1.2 0-1.3 0-1.2 .2-1.2 .2-1.3 .1-1.2 0-1.2-.2-1.3-.1-1.2 0-1.2 0-1.3 .1-1.2 .2-1.2 .2-.7 0-.6 .1-.2-.1-1-.1-1.2-.3-1.3-.5-.6-.3-.6-.2-1.2-.4-1.3-.4-.4-.2-.8-.4-1.2-.8-.1-.1-1.2-1.1-.1-.1-1-1.2-.1-.2-.8-1.1-.4-.5-.6-.7-.7-.9-.3-.3-.8-1.3-.1-.1-.6-1.1-.6-1.2 0-.1-.5-1.2-.4-1.2-.4-1.2" fill="none" stroke="#1a1a1a" stroke-width="0.6"/>
<path d="M323.1 90.1l-1.3-.1-1.2-.1-1.2 0-1.3-.2-1.2-.2-1.2-.3-.7-.2-.6-.2-1.2-.4-1.2-.4-.4-.2-.9-.5-1.2-.7-.1-.1-1.1-.7-1.2-.5-.1-.1-1.2-.4-1.2-.4-1.3-.2-.3-.1-.9-.4-1.2-.9-1.3-1.2-1.2-1-.4-.3-.8-.5-1.3-.7-1.2-.8-.7-.4-.5-.5-1.1-.8-.2-.1-1.2-1-.2-.1-.2-1.2 .4-.5 1.2-.5 .3-.3 .9-1.2 .1-.1 .3-1.1 .3-1.3-.2-1.2-.4-.4-1.3-.1-1.1 .5-.1 .1-1.2 1.1 0 .1-.8 1.2-.5 .6-1.2 .3-1.2-.2-1.3-.3-1.2-.1-1.3 0-1.2 .1-1.2 .3-1.3 .4-.2 .1-1 .4-1.2 .3-1.3 .4-.5 .1-.7 .2-1.2 .4-1.3 .4-.7 .3-.5 .1-1.2 .2-1.3 0-1.2-.3-.1 0-1.1-.5-1.3-.4-1-.4-.2-.1-1.2-1-.1-.1-.8-1.2-.4-1.3-.1-1.2 .1-.9 .1-.3 .2-1.3 .3-1.2 .2-1.2 .1-1.3 .1-1.2 .1-1.2 .2-.4 .4-.9 .8-.6 1.2-.6 1.3-.3 1.2-.3 1.2-.4 .9-.2 .4-.1 1.2-.1 1.2 0 1.3 0 1.2 0 1.2-.2 1.3-.7 .1-.2 .2-1.2-.2-1.2-.1-.4-.4-.9-.7-1.2-.2-.3-.5-.9-.5-1.3-.2-.6-.2-.6-.5-1.2-.5-1.3" fill="none" stroke="#1a1a1a" stroke-width="0.6"/>
<path d="M323.1 66.3l-1.3-.2-1.2-.1-1.2 0-1.3 .2-1.2 .3-.4 .3-.8 .6-.5 .6-.8 1.1 0 .1-.7 1.3-.5 .7-.4 .5-.8 .9-.4 .3-.9 .7-1.1 .6-.1 0-1.2 .5-1.3 .3-1.2 .2-1.2 0-1.3-.3-.7-.7-.3-1.3 0-1.2 0-1.2-.1-1.3-.1-.2-.3-1-.6-1.2-.3-.5-.5-.8-.8-1-.1-.2-1-1.2-.1-.2-.8-1.1-.4-.6-.5-.6-.8-1.1-.1-.1-1-1.3-.1-.2-.9-1-.3-.5-.6-.7-.6-1.3-.1-.1-.4-1.1-.3-1.2-.3-1.3-.2-.9-.1-.3-.2-1.2-.2-1.3-.3-1.2-.2-1.2-.2-1.2-.1-.1" fill="none" stroke="#1a1a1a" stroke-width="0.6"/>
<circle cx="274.8" cy="54.8" r="0.85" fill="#111"/>
<circle cx="292.8" cy="54.5" r="0.85" fill="#111"/>
<circle cx="261.5" cy="66.4" r="0.85" fill="#111"/>
<circle cx="273.0" cy="68.5" r="0.85" fill="#111"/>
<circle cx="284.2" cy="68.5" r="0.85" fill="#111"/>
<circle cx="295.4" cy="68.2" r="0.85" fill="#111"/>
<circle cx="306.9" cy="66.7" r="0.85" fill="#111"/>
<circle cx="252.5" cy="72.5" r="0.85" fill="#111"/>
<circle cx="315.9" cy="72.5" r="0.85" fill="#111"/>
<circle cx="277.7" cy="77.2" r="0.85" fill="#111"/>
<circle cx="284.2" cy="77.5" r="0.85" fill="#111"/>
<circle cx="291.0" cy="77.2" r="0.85" fill="#111"/>
<circle cx="264.4" cy="76.4" r="0.85" fill="#111"/>
<circle cx="304.0" cy="76.4" r="0.85" fill="#111"/>
<circle cx="256.1" cy="84.0" r="0.85" fill="#111"/>
<circle cx="269.4" cy="84.0" r="0.85" fill="#111"/>
<circle cx="284.2" cy="84.0" r="0.85" fill="#111"/>
<circle cx="298.6" cy="84.0" r="0.85" fill="#111"/>
<circle cx="311.9" cy="84.0" r="0.85" fill="#111"/>
<circle cx="263.7" cy="92.6" r="0.85" fill="#111"/>
<circle cx="277.7" cy="91.9" r="0.85" fill="#111"/>
<circle cx="291.0" cy="91.9" r="0.85" fill="#111"/>
<circle cx="304.7" cy="92.6" r="0.85" fill="#111"/>
<circle cx="261.5" cy="101.6" r="0.85" fill="#111"/>
<circle cx="273.4" cy="99.8" r="0.85" fill="#111"/>
<circle cx="284.2" cy="99.8" r="0.85" fill="#111"/>
<circle cx="295.0" cy="100.2" r="0.85" fill="#111"/>
<circle cx="306.9" cy="101.6" r="0.85" fill="#111"/>
<circle cx="277.4" cy="114.2" r="0.85" fill="#111"/>
<circle cx="284.2" cy="114.6" r="0.85" fill="#111"/>
<circle cx="291.0" cy="114.2" r="0.85" fill="#111"/>
</g>
<circle cx="284.2" cy="82.2" r="36.00" fill="none" stroke="#111" stroke-width="1.4"/>
<path d="M277.9 46.6 L284.2 40.3 L290.5 46.6" fill="none" stroke="#111" stroke-width="1.3" stroke-linejoin="miter"/>
<path d="M247.3 181.7 H244.3 Q241.9 181.7 241.9 184.1 V195.6 Q241.9 198.0 244.3 198.0 H247.3" fill="#fff" stroke="#2a2a2a" stroke-width="1.2"/><path d="M319.3 181.7 H322.3 Q324.7 181.7 324.7 184.1 V195.6 Q324.7 198.0 322.3 198.0 H319.3" fill="#fff" stroke="#2a2a2a" stroke-width="1.2"/>
<clipPath id="cL2"><circle cx="283.3" cy="188" r="37.00"/></clipPath>
<g clip-path="url(#cL2)">
<circle cx="283.3" cy="188" r="38.00" fill="#20a4e3"/>
<path d="M280.1 197.1l1.3-.1 1.3 .3 .3 .2 .9 .5 .9 .8 .4 .4 .8 .9 .5 .6 .5 .6 .7 1.1 .2 .2 .7 1.3 .2 1.2-1.1 .9-1 .4-.2 0-1.3 .2-1.3-.1-1.2-.1-1.3-.4-1.3-.6-.4-.3-.8-1-.2-.2-.4-1.3-.2-1.3 0-1.2 .2-1.3 .6-1 .4-.3z" fill="#4755f6" stroke="#4755f6" stroke-width="0.3" fill-rule="evenodd"/>
<path d="M278.9 192.4l1.2 .2 1.3 .2 1.3 .3 1.2 .5 .2 .1 1.1 .7 .5 .6 .8 .9 .2 .3 .7 1.3 .3 .4 .6 .9 .7 1 .2 .3 1 1.2 .1 .1 .9 1.2 .3 .4 1 .9 .3 .3 1 .9 .3 1.1 0 .2-1 1.3-.3 .2-1.3 .5-1.2 .4-.6 .1-.7 .2-1.3 .2-1.2 .2-1.3 .1-1.3-.1-1.2-.1-1.3-.4-.3-.1-1-.3-1.2-.5-1.2-.4-.1-.1-1.1-1.2-.2-.4-.3-.9-.4-1.2-.4-1.3-.1-.7-.2-.6-.2-1.2-.1-1.3-.1-1.3 0-1.3 .1-1.2 .4-1.3 .1 0 1.2-.9 1.3-.3 1.1-.1zM279.3 197.5l-.4 .3-.6 1-.2 1.3 0 1.2 .2 1.3 .4 1.3 .2 .2 .8 1 .4 .3 1.3 .6 1.3 .4 1.2 .1 1.3 .1 1.3-.2 .2 0 1-.4 1.1-.9-.2-1.2-.7-1.3-.2-.2-.7-1.1-.5-.6-.5-.6-.8-.9-.4-.4-.9-.8-.9-.5-.3-.2-1.3-.3-1.3 .1z" fill="#4661fc" stroke="#4661fc" stroke-width="0.3" fill-rule="evenodd"/>
<path d="M275.1 189.5l1.2-.3 1.3-.2 1.3-.1 1.2 .2 1.3 .2 1.3 .3 .8 .3 .4 .1 1.3 .5 1.2 .7 .1 0 1.2 1 .3 .2 .7 1.3 .3 1 .1 .3 .3 1.2 .4 1.3 .5 .9 .1 .4 .9 1.3 .2 .2 .9 1 .4 .5 .8 .8 .5 .4 .9 .9 .4 .3 .6 .9 .2 1.3-.4 1.3-.4 .6-.6 .6-.7 .5-1.3 .6-.7 .2-.6 .2-1.2 .4-1.3 .4-.8 .3-.5 .1-1.2 .3-1.3 .1-1.3 .1-1.2-.2-1.3-.4-.2 0-1.1-.5-1.2-.6-.5-.2-.8-.4-1.3-.7-.2-.2-1-1.1-.2-.1-.6-1.3-.5-1.3 0-.1-.4-1.1-.4-1.3-.4-1.3-.1-.3-.2-.9-.2-1.3-.1-1.3-.1-1.3-.2-1.2-.1-1.3 .2-1.3 .7-1.2 0-.1 1.3-1 .4-.2zM278.7 192.4l-1.1 .1-1.3 .3-1.2 .9-.1 0-.4 1.3-.1 1.2 0 1.3 .1 1.3 .1 1.3 .2 1.2 .2 .6 .1 .7 .4 1.3 .4 1.2 .3 .9 .2 .4 1.1 1.2 .1 .1 1.2 .4 1.2 .5 1 .3 .3 .1 1.3 .4 1.2 .1 1.3 .1 1.3-.1 1.2-.2 1.3-.2 .7-.2 .6-.1 1.2-.4 1.3-.5 .3-.2 1-1.3 0-.2-.3-1.1-1-.9-.3-.3-1-.9-.3-.4-.9-1.2-.1-.1-1-1.2-.2-.3-.7-1-.6-.9-.3-.4-.7-1.3-.2-.3-.8-.9-.5-.6-1.1-.7-.2-.1-1.2-.5-1.3-.3-1.3-.2-1.2-.2z" fill="#406dfe" stroke="#406dfe" stroke-width="0.3" fill-rule="evenodd"/>
<path d="M276.3 185.9l1.3-.3 1.3-.1 1.2 0 1.3 .1 1.3 .3 .6 .2 .6 .2 1.3 .4 1.3 .4 1.1 .3 .1 0 1.3 .2 1.3 .3 1.2 .3 1.3 .4 .2 0 1.1 .5 1.3 .5 .5 .3 .7 1 .1 .3-.1 .3-.5 .9-.7 .7-.8 .6-.5 .3-1.3 .9-.1 .1-.7 1.2-.1 1.3 .7 1.3 .2 .3 .8 1 .5 .6 .5 .6 .8 .8 .5 .5 .7 .6 .7 .7 .6 1.2 .2 1.3-.2 .8-.1 .5-.4 1.2-.8 1.1-.2 .2-1 .7-1.3 .5-.2 .1-1.1 .3-1.3 .5-.9 .4-.3 .2-1.3 .6-1.3 .4-.3 .1-.9 .2-1.3 .2-1.3 .2-1.2 0-1.3-.1-1.3-.3-.5-.2-.7-.4-.9-.9-.4-.3-1.3-.6-.7-.3-.5-.2-1.2-1.1-.1-.1-.6-1.2-.6-1.2-.1-.2-.6-1.1-.5-1.3-.2-.6-.2-.6-.4-1.3-.4-1.3-.2-1-.1-.2-.1-1.3-.1-1.3-.2-1.3-.4-1.2-.4-1.1-.1-.2-.3-1.3 .1-1.2 .3-.7 .4-.6 .9-.8 .5-.5 .7-.4 1.3-.7 .3-.1 1-.5 1.3-.6 .7-.2zM274.2 189.9l-.4 .2-1.3 1 0 .1-.7 1.2-.2 1.3 .1 1.3 .2 1.2 .1 1.3 .1 1.3 .2 1.3 .2 .9 .1 .3 .4 1.3 .4 1.3 .4 1.1 0 .1 .5 1.3 .6 1.3 .2 .1 1 1.1 .2 .2 1.3 .7 .8 .4 .5 .2 1.2 .6 1.1 .5 .2 0 1.3 .4 1.2 .2 1.3-.1 1.3-.1 1.2-.3 .5-.1 .8-.3 1.3-.4 1.2-.4 .6-.2 .7-.2 1.3-.6 .7-.5 .6-.6 .4-.6 .4-1.3-.2-1.3-.6-.9-.4-.3-.9-.9-.5-.4-.8-.8-.4-.5-.9-1-.2-.2-.9-1.3-.1-.4-.5-.9-.4-1.3-.3-1.2-.1-.3-.3-1-.7-1.3-.3-.2-1.2-1-.1 0-1.2-.7-1.3-.5-.4-.1-.8-.3-1.3-.3-1.3-.2-1.2-.2-1.3 .1-1.3 .2-1.2 .3zM251 189.9l1.2-.1 1.3 0 .5 .1 .8 .3 1.2 1 .4 1.2-.1 1.3-.3 1.1 0 .2-.3 1.2-.3 1.3-.1 1.3 0 1.3 0 1.2 .1 1.3 .3 1.3 .3 1.1 .1 .1 .6 1.3 .6 .7 .5 .6 .8 .7 .7 .5 .5 .4 1.3 .8 .2 .1 1.1 .6 1.2 .6 .1 .1 1.2 .6 1.2 .6 .1 .1 1.2 .6 1.3 .6 .2 0 1.1 .4 1.2 .2 1.3 0 1.3 .1 1.3 .4 .3 .2 .9 1.1 0 .1 0 .1-1 1.2-.2 .1-1.3 .3-1.3 .2-1.3 .2-1.2 .4-.3 .1-1 .3-1.3 .5-.9 .4-.3 .2-1.3 .5-1.3 .6-.1 0-1.1 .4-1.3 .4-1.3 .5-.1 0-1.1 .3-1.3 .4-1.3 .3-.8 .3-.4 .1-1.3 .3-1.3 .4-1.2 .4-.1 0-1.2 .4-1.3 .4-1.3 .4-.2 .1-1 .3-1.3 .5-1.3 .4 0-1.2 0-1.3 0-1.2 0-1.3 0-1.3 0-1.3 0-1.2 0-1.3 0-1.3 0-1.2 0-1.3 0-1.3 0-1.2 0-1.3 0-1.3 0-1.2 0-1.3 0-1.3 0-1.2 0-1.3 0-1.3 0-1.2 0-1.3 0-1.3 0-1.3 0-1.2 0-1.3 0-1.3 1.3-.5 1.3-.6 .4-.1 .8-.3 1.3-.4 1.3-.4 1-.2z" fill="#347afd" stroke="#347afd" stroke-width="0.3" fill-rule="evenodd"/>
<path d="M283.9 180.9l1.3-.2 1.3-.2 1.2-.2 1.3-.1 1.3 .2 1.1 .6 .1 .1 1.3 1.2 1.2 1.3 .1 0 1.2 1.2 .1 .1 1.2 1.1 .1 .1 1.2 1.1 .1 .2 1 1.2 .2 .3 .4 1 .4 1.3 .1 1.2-.1 1.3-.4 1.3-.4 .8-.4 .4-.9 1.3-.6 1.3 .4 1.3 .2 .2 .8 1 .5 .5 .5 .8 .7 1.3 0 .1 .4 1.1 .1 1.3-.1 1.3-.3 1.2-.1 .3-.3 1-.8 1.3-.1 .2-1.1 1-.2 .3-1.3 .8-.6 .2-.6 .3-1.3 .4-1.3 .5-.2 .1-1.1 .3-1.2 .4-1.3 .2-1.3 .1-1.2 .2-.6 0-.7 .1-1.3 .2-1.2 .1-1.3 .2-1.3 .4-.6 .3-.6 .3-1.3 1-1.3 .8-.8 .4-.4 .3-1.3 .6-.9 .4-.4 .2-1.3 .6-1 .5-.2 .1-1.3 .6-1.1 .6-.2 0-1.2 .7-1.1 .5-.2 .1-1.3 .7-1 .5-.2 .1-1.3 .6-1 .6-.3 0-1.2 0-1.3 0-1.3 0-1.2 0-1.3 0-1.3 0-1.2 0-1.3 0-1.3 0-1.3 0-1.2 0-1.3 0-1.3 0 0-.1 1.3-.4 1.3-.5 1-.3 .2-.1 1.3-.4 1.3-.4 1.2-.4 .1 0 1.2-.4 1.3-.4 1.3-.3 .4-.1 .8-.3 1.3-.3 1.3-.4 1.1-.3 .1 0 1.3-.5 1.3-.4 1.1-.4 .1 0 1.3-.6 1.3-.5 .3-.2 .9-.4 1.3-.5 1-.3 .3-.1 1.2-.4 1.3-.2 1.3-.2 1.3-.3 .2-.1 1-1.2 0-.1 0-.1-.9-1.1-.3-.2-1.3-.4-1.3-.1-1.3 0-1.2-.2-1.1-.4-.2 0-1.3-.6-1.2-.6-.1-.1-1.2-.6-1.2-.6-.1-.1-1.2-.6-1.1-.6-.2-.1-1.3-.8-.5-.4-.7-.5-.8-.7-.5-.6-.6-.7-.6-1.3-.1-.1-.3-1.1-.3-1.3-.1-1.3 0-1.2 0-1.3 .1-1.3 .3-1.3 .3-1.2 0-.2 .3-1.1 .1-1.3-.4-1.2-1.2-1-.8-.3-.5-.1-1.3 0-1.2 .1-.3 0-1 .2-1.3 .4-1.3 .4-.8 .3-.4 .1-1.3 .6-1.3 .5 0-1.2 0-1.3 0-1.3 0-.8 1.3-.4 .2 0 1.1-.3 1.2-.4 1.3-.3 1.3-.2 .7-.1 .6-.1 1.2-.1 1.3 .1 1.3 .1 1.2 .3 1.3 .6 .7 .4 .6 .3 1.2 .7 .5 .2 .8 .4 1.3 .4 1.2-.1 1.3-.4 .4-.3 .9-.4 1.2-.8 1.3-.9 .6-.4 .7-.5 1.2-.7 .1-.1 1.2-.6 1.2-.6 .1-.1 1.3-.6 1.2-.5 .3-.1 1-.4 1.3-.3 1.2-.3 1.3-.1 1.3-.2 .1 0zM275.8 186.1l-.7 .2-1.3 .6-1 .5-.3 .1-1.3 .7-.7 .4-.5 .5-.9 .8-.4 .6-.3 .7-.1 1.2 .3 1.3 .1 .2 .4 1.1 .4 1.2 .2 1.3 .1 1.3 .1 1.3 .1 .2 .2 1 .4 1.3 .4 1.3 .2 .6 .2 .6 .5 1.3 .6 1.1 .1 .2 .6 1.2 .6 1.2 .1 .1 1.2 1.1 .5 .2 .7 .3 1.3 .6 .4 .3 .9 .9 .7 .4 .5 .2 1.3 .3 1.3 .1 1.2 0 1.3-.2 1.3-.2 .9-.2 .3-.1 1.3-.4 1.3-.6 .3-.2 .9-.4 1.3-.5 1.1-.3 .2-.1 1.3-.5 1-.7 .2-.2 .8-1.1 .4-1.2 .1-.5 .2-.8-.2-1.3-.6-1.2-.7-.7-.7-.6-.5-.5-.8-.8-.5-.6-.5-.6-.8-1-.2-.3-.7-1.3 .1-1.3 .7-1.2 .1-.1 1.3-.9 .5-.3 .8-.6 .7-.7 .5-.9 .1-.3-.1-.3-.7-1-.5-.3-1.3-.5-1.1-.5-.2 0-1.3-.4-1.2-.3-1.3-.3-1.3-.2-.1 0-1.1-.3-1.3-.4-1.3-.4-.6-.2-.6-.2-1.3-.3-1.3-.1-1.2 0-1.3 .1-1.3 .3zM262.3 195l-1.2 .3-1.2 .9-.1 .1-.6 1.2-.3 1.3 0 1.3 .2 1.2 .7 1.3 1.3 1 1.1 .3 .2 0 1.2 .4 1.3 .3 1.3-.4 .3-.3 .5-1.3 .1-1.3 0-1.2-.1-1.3-.2-1.3-.6-1.2-.1-.1-1.2-1-1.1-.2-.2-.1-1.2 0z" fill="#2e86f7" stroke="#2e86f7" stroke-width="0.3" fill-rule="evenodd"/>
<path d="M287.7 173.2l1.3-.2 1.3-.3 1.2-.2 1.3-.1 1.3-.2 1.3 .1 1.2 .5 .7 .6 .6 1 .1 .3 .4 1.2 0 1.3-.1 1.3-.1 1.3-.1 1.2 .1 1.3 .5 1.3 .5 .6 .4 .6 .8 1.1 .1 .2 .8 1.3 .4 .9 .2 .3 .5 1.3 .6 1.2 0 .1 .5 1.2 .4 1.3 .3 1.3 0 .3 .2 .9 .2 1.3 .1 1.3 .1 1.3 .2 1.2 .1 1.3 .2 1.3 .1 1.2 .1 .9 0 .4 0 1.3 0 .4-.1 .8-.3 1.3-.5 1.3-.4 .8-.2 .4-.7 1.3-.3 .5-.6 .8-.7 .9-.3 .3-1 .9-.4 .4-.8 .7-1 .6-.3 .2-1.3 .6-1.2 .4 0 .1-1.3 .2-1.3-.1-.3-.2-1-.4-1.2-.7-.4-.1-.9-.3-1.3-.3-1.2-.2-1.3 0-1.3 .1-1.2 .2-1.3 .3-.5 .2-.8 .3-1.2 .7-.5 .2-.8 .6-1.1 .7-.2 .2-1.2 .8-.5 .3-.8 .5-1.2 .8-.1 0-1.3 .9-.5 .3-.7 .5-1.2 .8-.1 0-1.3 .9-.6 .4-.6 0-1.3 0-1.3 0-1.2 0-1.3 0-1 0 1-.6 1.3-.6 .2-.1 1-.5 1.3-.7 .2-.1 1.1-.5 1.2-.7 .2 0 1.1-.6 1.3-.6 .2-.1 1-.5 1.3-.6 .4-.2 .9-.4 1.3-.6 .4-.3 .8-.4 1.3-.8 1.3-1 .6-.3 .6-.3 1.3-.4 1.3-.2 1.2-.1 1.3-.2 .7-.1 .6 0 1.2-.2 1.3-.1 1.3-.2 1.2-.4 1.1-.3 .2-.1 1.3-.5 1.3-.4 .6-.3 .6-.2 1.3-.8 .2-.3 1.1-1 .1-.2 .8-1.3 .3-1 .1-.3 .3-1.2 .1-1.3-.1-1.3-.4-1.1 0-.1-.7-1.3-.5-.8-.5-.5-.8-1-.2-.2-.4-1.3 .6-1.3 .9-1.3 .4-.4 .4-.8 .4-1.3 .1-1.3-.1-1.2-.4-1.3-.4-1-.2-.3-1-1.2-.1-.2-1.2-1.1-.1-.1-1.2-1.1-.1-.1-1.2-1.2-.1 0-1.2-1.3-1.3-1.2-.1-.1-1.1-.6-1.3-.2-1.3 .1-1.2 .2-1.3 .2-1.3 .2-1.1 .1-.1 0-1.3 .2-1.3 .1-1.2 .3-1.3 .3-1 .4-.3 .1-1.2 .5-1.3 .6-.1 .1-1.2 .6-1.2 .6-.1 .1-1.2 .7-.7 .5-.6 .4-1.3 .9-1.2 .8-.9 .4-.4 .3-1.3 .4-1.2 .1-1.3-.4-.8-.4-.5-.2-1.2-.7-.6-.3-.7-.4-1.3-.6-1.2-.3-1.3-.1-1.3-.1-1.2 .1-.6 .1-.7 .1-1.3 .2-1.3 .3-1.2 .4-1.1 .3-.2 0-1.3 .4 0-.4 0-1.3 0-1.3 0-.2 1.3-.2 1.3-.3 1.2-.2 1.3-.2 .9-.1 .4-.1 1.3-.1 1.2 0 1.3 0 1.1 .2 .2 0 1.2 .2 1.3 .5 1 .5 .3 .2 1.2 .7 1.1 .4 .2 .1 1.3 .3 1.2-.1 1.3-.3 1.3-.6 1-.7 .2-.1 1.3-1.1 .1 0 1.2-.9 .6-.4 .6-.5 1.3-.8 1.3-.8 .7-.4 .6-.4 1.2-.8 .2-.1 1.1-.6 1.3-.7 1.2-.6 1.3-.6 .1-.1 1.2-.6 1.2-.6 0-.1 1.3-.6 1.3-.5 .3-.1zM262.4 194.9l1.2 0 .2 .1 1.1 .2 1.2 1 .1 .1 .6 1.2 .2 1.3 .1 1.3 0 1.2-.1 1.3-.5 1.3-.3 .3-1.3 .4-1.3-.3-1.2-.4-.2 0-1.1-.3-1.3-1-.7-1.3-.2-1.2 0-1.3 .3-1.3 .6-1.2 .1-.1 1.2-.9 1.2-.3zM261.4 198.8l0 1.3 1 1 1.2 .1 1-1.1-.1-1.3-.9-1-1.2 0z" fill="#2b91ef" stroke="#2b91ef" stroke-width="0.3" fill-rule="evenodd"/>
<path d="M290.3 169.6l1.2-.1 1.3 0 1.3-.1 1.3 .1 .9 .1 .3 .1 1.3 .4 1.3 .7 .1 .1 1.1 1.1 .2 .1 .8 1.3 .3 .6 .3 .7 .4 1.2 .2 1.3 .2 1.3 .1 1.3 .1 .6 0 .6 .3 1.3 .5 1.3 .4 1 .1 .2 .7 1.3 .5 1 .2 .3 .7 1.2 .4 .5 .5 .8 .7 1.3 .6 1.2 .4 1.3 .2 1.3 .1 .5 .1 .7 .1 1.3 .1 1.3 .1 1.3 .1 1.2 0 1.3 .1 1.3 .1 1.2 0 1.3 0 1.3-.1 1.2-.2 1.3-.2 1.3-.2 .7-.1 .5-.5 1.3-.6 1.3-.1 .2-.6 1-.6 1.1-.2 .2-1 1.3-.1 0-1.2 1.2-.1 .1-1.2 .9-.5 .3-.8 .5-1.3 .6-.4 .2-.8 .3-1.3 .3-1.3 .1-1.2 0-1.3-.1-1.3-.3-.7-.3-.6-.3-1.2-.8-.3-.2-1-.6-1.3-.6 0-.1-1.2-.3-1.3-.2-1.3 0-1.2 .1-1.3 .4-.1 0-1.2 .6-1.1 .7-.1 .1-1.3 .9-.3 .3-1 .8-.6 .5-.6 .5-1 .7-.3 .3-1.2 1-.1 0-1.3 1.1-.2 .2-1 0-1.3 0-1.3 0-.6 0 .6-.4 1.3-.9 .1 0 1.2-.8 .7-.5 .5-.3 1.3-.9 .1 0 1.2-.8 .8-.5 .5-.3 1.2-.8 .2-.2 1.1-.7 .8-.6 .5-.2 1.2-.7 .8-.3 .5-.2 1.3-.3 1.2-.2 1.3-.1 1.3 0 1.2 .2 1.3 .3 .9 .3 .4 .1 1.2 .7 1 .4 .3 .2 1.3 .1 1.3-.2 0-.1 1.2-.4 1.3-.6 .3-.2 1-.6 .8-.7 .4-.4 1-.9 .3-.3 .7-.9 .6-.8 .3-.5 .7-1.3 .2-.4 .4-.8 .5-1.3 .3-1.3 .1-.8 0-.4 0-1.3 0-.4-.1-.9-.1-1.2-.2-1.3-.1-1.3-.2-1.2-.1-1.3-.1-1.3-.2-1.3-.2-.9 0-.3-.3-1.3-.4-1.3-.5-1.2 0-.1-.6-1.2-.5-1.3-.2-.3-.4-.9-.8-1.3-.1-.2-.8-1.1-.4-.6-.5-.6-.5-1.3-.1-1.3 .1-1.2 .1-1.3 .1-1.3 0-1.3-.4-1.2-.1-.3-.6-1-.7-.6-1.2-.5-1.3-.1-1.3 .2-1.3 .1-1.2 .2-1.3 .3-1.3 .2-.9 .2-.3 .1-1.3 .5-1.3 .6 0 .1-1.2 .6-1.2 .6-.1 .1-1.3 .6-1.2 .6-1.3 .7-1.1 .6-.2 .1-1.2 .8-.6 .4-.7 .4-1.3 .8-1.3 .8-.6 .5-.6 .4-1.2 .9-.1 0-1.3 1.1-.2 .1-1 .7-1.3 .6-1.3 .3-1.2 .1-1.3-.3-.2-.1-1.1-.4-1.2-.7-.3-.2-1-.5-1.3-.5-1.2-.2-.2 0-1.1-.2-1.3 0-1.2 0-1.3 .1-.4 .1-.9 .1-1.3 .2-1.2 .2-1.3 .3-1.3 .2 0-1 0-1.3 0-.4 1.3-.1 1.3-.1 1.2-.2 1.3-.1 1.3-.1 1.3 0 1.2 0 1.3 0 1.3 .1 1.2 .3 1.3 .5 .2 .1 1.1 .5 1.1 .8 .1 0 1.3 .6 1.3 .3 1.2 0 1.3-.5 .8-.4 .5-.3 1.1-1 .1-.1 1.3-1.2 1.3-1.1 .2-.1 1-.9 .5-.4 .8-.7 .7-.6 .6-.5 1-.8 .3-.2 1.2-1 .1 0 1.2-.9 .5-.4 .8-.5 1.2-.8 1.3-.7 1.2-.5 .1-.1 1.2-.4 1.3-.3 1.3-.2 1.2-.1 1.3-.1 1.1-.1zM262.4 197.8l1.2 0 .9 1 .1 1.3-1 1.1-1.2-.1-1-1 0-1.3z" fill="#259ce7" stroke="#259ce7" stroke-width="0.3" fill-rule="evenodd"/>
<path d="M282.7 167l1.2-.1 1.3-.1 1.3 0 1.2 .1 1.3 .1 .7 .1 .6 0 1.2 .1 1.3 0 1.3 0 1.3 0 1.2 .1 1.3 .2 1.3 .3 1.1 .5 .1 .1 1.3 .8 .6 .4 .7 .6 .6 .7 .6 .8 .4 .4 .7 1.3 .2 .5 .4 .8 .5 1.2 .4 .9 .2 .4 .5 1.3 .5 1.3 .5 1.2 .6 1.3 .2 .5 .3 .8 .6 1.2 .4 .8 .2 .5 .6 1.3 .4 .8 .2 .4 .6 1.3 .4 1.3 .1 .5 .2 .7 .1 1.3 .1 1.3 .1 1.2 0 1.3 .1 1.3 .1 1.3 .1 1.2 .2 1.3 .1 1.3 0 1.2 .1 1.3 0 1.3 0 1.2-.1 1.3-.1 1.3-.3 1.2-.3 1.3-.4 1.3 0 .1-.4 1.1-.6 1.3-.3 .4-.5 .9-.7 1.1-.2 .1-1 1.3-.1 .1-1.2 1.2-.1 0-1.2 1-.5 .3-.8 .5-1.3 .6-.3 .1-.9 .4-1.3 .3-1.3 .3-1.2 .1-1.3 .1-1.3-.1-1.2-.2-1.3-.4-1.3-.5-1.3-.6-.9-.6-.3-.2-1.3-1-.2-.1-1.1-.7-1.1-.6-.1 0-1.3-.4-1.3-.1-1.2 .1-1.2 .4-.1 .1-1.3 .7-.6 .5-.6 .5-.9 .8-.4 .4-.9 .8-.4 .4-.9 .9-.3 .4-.9 .9-.4 0-1.3 0-1.3 0-.2 0 .2-.2 1.3-1.1 .1 0 1.2-1 .3-.3 1-.7 .6-.5 .6-.5 1-.8 .3-.3 1.3-.9 .1-.1 1.1-.7 1.2-.6 .1 0 1.3-.4 1.2-.1 1.3 0 1.3 .2 1.2 .3 0 .1 1.3 .6 1 .6 .3 .2 1.2 .8 .6 .3 .7 .3 1.3 .3 1.3 .1 1.2 0 1.3-.1 1.3-.3 .8-.3 .4-.2 1.3-.6 .8-.5 .5-.3 1.2-.9 .1-.1 1.2-1.2 .1 0 1-1.3 .2-.2 .6-1.1 .6-1 .1-.2 .6-1.3 .5-1.3 .1-.5 .2-.7 .2-1.3 .2-1.3 .1-1.2 0-1.3 0-1.3-.1-1.2-.1-1.3 0-1.3-.1-1.2-.1-1.3-.1-1.3-.1-1.3-.1-.7-.1-.5-.2-1.3-.4-1.3-.6-1.2-.7-1.3-.5-.8-.4-.5-.7-1.2-.2-.3-.5-1-.7-1.3-.1-.2-.4-1-.5-1.3-.3-1.3 0-.6-.1-.6-.1-1.3-.2-1.3-.2-1.3-.4-1.2-.3-.7-.3-.6-.8-1.3-.2-.1-1.1-1.1-.1-.1-1.3-.7-1.3-.4-.3-.1-.9-.1-1.3-.1-1.3 .1-1.3 0-1.2 .1-.2 0-1.1 .1-1.3 .1-1.2 .1-1.3 .2-1.3 .3-1.2 .4-.1 .1-1.2 .5-1.3 .7-1.2 .8-.8 .5-.5 .4-1.2 .9-.1 0-1.2 1-.3 .2-1 .8-.6 .5-.7 .6-.8 .7-.5 .4-1 .9-.2 .1-1.3 1.1-1.3 1.2-.1 .1-1.1 1-.5 .3-.8 .4-1.3 .5-1.2 0-1.3-.3-1.3-.6-.1 0-1.1-.8-1.1-.5-.2-.1-1.3-.5-1.2-.3-1.3-.1-1.3 0-1.2 0-1.3 0-1.3 .1-1.3 .1-1.2 .2-1.3 .1-1.3 .1 0-.9 0-1.2 0-.4 1.3 0 1.3 0 1.2 0 1.3-.1 1.3 0 1.3-.1 1.2 0 1.3 0 1.3 .1 1.2 .2 .9 .3 .4 .1 1.3 .6 .6 .5 .6 .4 1.3 .9 1.3 .4 1.2-.1 .6-.3 .7-.5 .9-.8 .4-.3 .9-.9 .3-.5 .8-.8 .5-.5 .8-.8 .5-.5 .7-.8 .5-.5 .7-.7 .6-.6 .7-.7 .6-.6 .7-.7 .6-.6 .7-.6 .5-.5 1-.8 .3-.2 1.3-.9 .3-.2 .9-.5 1.3-.5 1.1-.2z" fill="#1fa5e2" stroke="#1fa5e2" stroke-width="0.3" fill-rule="evenodd"/>
<path d="M281.4 163.1l1.3 0 1.2 .1 .4 .1 .9 .1 1.3 .3 1.2 .3 1.3 .3 .9 .2 .4 .1 1.2 .2 1.3 .1 1.3 0 1.3-.1 1.2 0 1.3 .1 1.3 .2 1.2 .3 1.2 .4 .1 0 1.3 .6 1.2 .7 1.3 .8 .6 .4 .7 .7 .7 .6 .5 .6 .6 .7 .7 .8 .4 .4 .9 1.2 .1 .1 1.1 1 .6 .3 .7 .5 .9 .7 .4 .8 .2 .5 .3 1.3 .2 1.3 .2 1.2 .1 1.3 .1 1.3 .1 1 .1 .2 .2 1.3 .3 1.3 .3 1.2 .4 1.3 0 .2 .2 1.1 .2 1.2 .2 1.3 .1 1.3 .1 1.2 .1 1.3 .1 1.3 .2 1.3 .1 .5 .1 .7 .2 1.3 .1 1.3 .2 1.2 .1 1.3 0 1.3 0 1.2 0 1.3-.1 1.3-.2 1.2-.2 1.3-.2 1-.1 .3-.3 1.2-.5 1.3-.4 .9-.1 .4-.7 1.2-.5 .8-.2 .5-1 1.3 0 .1-1 1.2-.3 .2-1 1-.3 .2-1.2 1-.2 .1-1.1 .7-1 .6-.3 0-1.2 0-1.3 0-1.3 0-1.2 0-1.3 0-1.3 0-1.2 0-1.3 0-1.3 0-1.2 0-1.3 0-1.1 0-.2-.1-1.3-.7-.6-.5-.6-.4-1.1-.9-.2-.1-1.3-1.1-.1 0-1.1-.9-.8-.4-.5-.2-1.3-.3-1.2 .2-.8 .3-.5 .3-1.2 1-.1 .1-1.1 1.1-.1 .2-1 1.1-.3 .4-.8 .9-.5 0-1.2 0-.9 0 .9-.9 .3-.4 .9-.9 .4-.4 .9-.8 .4-.4 .9-.8 .6-.5 .6-.5 1.3-.7 .1-.1 1.2-.4 1.2-.1 1.3 .1 1.3 .4 .1 0 1.1 .6 1.1 .7 .2 .1 1.3 1 .3 .2 .9 .6 1.3 .6 1.3 .5 1.3 .4 1.2 .2 1.3 .1 1.3-.1 1.2-.1 1.3-.3 1.3-.3 .9-.4 .3-.1 1.3-.6 .8-.5 .5-.3 1.2-1 .1 0 1.2-1.2 .1-.1 1-1.3 .2-.1 .7-1.1 .5-.9 .3-.4 .6-1.3 .4-1.1 0-.1 .4-1.3 .3-1.3 .3-1.2 .1-1.3 .1-1.3 0-1.2 0-1.3-.1-1.3 0-1.2-.1-1.3-.2-1.3-.1-1.2-.1-1.3-.1-1.3 0-1.3-.1-1.2-.1-1.3-.1-1.3-.2-.7-.1-.5-.4-1.3-.6-1.3-.2-.4-.4-.8-.6-1.3-.2-.5-.4-.8-.6-1.2-.3-.8-.2-.5-.6-1.3-.5-1.2-.5-1.3-.5-1.3-.2-.4-.4-.9-.5-1.2-.4-.8-.2-.5-.7-1.3-.4-.4-.6-.8-.6-.7-.7-.6-.6-.4-1.3-.8-.1-.1-1.1-.5-1.3-.3-1.3-.2-1.2-.1-1.3 0-1.3 0-1.3 0-1.2-.1-.6 0-.7-.1-1.3-.1-1.2-.1-1.3 0-1.3 .1-1.2 .1-.2 .1-1.1 .2-1.3 .5-.9 .5-.3 .2-1.3 .9-.3 .2-1 .8-.5 .5-.7 .6-.6 .6-.7 .7-.6 .6-.7 .7-.6 .6-.7 .7-.5 .5-.7 .8-.5 .5-.8 .8-.5 .5-.8 .8-.3 .5-.9 .9-.4 .3-.9 .8-.7 .5-.6 .3-1.2 .1-1.3-.4-1.3-.9-.6-.4-.6-.5-1.3-.6-.4-.1-.9-.3-1.2-.2-1.3-.1-1.3 0-1.2 0-1.3 .1-1.3 0-1.3 .1-1.2 0-1.3 0-1.3 0 0-.9 0-1.3 0-.3 1.3 .1 1.3 0 1.2 .1 1.3 .1 1.3 0 1.3-.1 1.2-.1 1.3-.1 1.3 0 1.2 0 1.3 .1 1.3 .2 1.2 .6 1 .7 .3 .2 1.3 .7 1.2-.3 .7-.6 .6-.6 .6-.7 .7-.6 .5-.7 .7-.7 .5-.5 .8-.9 .4-.4 .9-1.1 .1-.2 1-1.2 .1-.2 .9-1.1 .4-.5 .6-.8 .7-.8 .4-.4 .9-.9 .4-.4 .8-.7 .9-.6 .4-.2 1.3-.6 1.2-.4 .5 0z" fill="#17aeda" stroke="#17aeda" stroke-width="0.3" fill-rule="evenodd"/>
<path d="M280.1 158.2l.2 0 1.1 .1 1.3 .2 1.2 .3 1.3 .4 .8 .3 .5 .1 1.2 .6 1.3 .5 1.3 .5 1.2 .4 1.3 .3 1.3 0 1.3 0 1.2-.1 1.3 .1 1.3 0 .3 .1 .9 .1 1.3 .2 1.3 .3 1.2 .4 .7 .3 .6 .2 1.3 .5 1.1 .5 .1 .1 1.3 .7 1 .5 .3 .1 1.2 .8 .8 .4 .5 .3 1.3 .7 .3 .2 .9 .6 1 .7 .3 .3 1.2 1 .1 .1 1 1.1 .3 .4 .5 .9 .6 1.3 .1 .3 .3 .9 .3 1.3 .2 1.3 .1 1.3 .1 1.2 0 1.3 0 1.3 0 1.2 .1 1.3 .1 1.3 .1 1.1 0 .1 .2 1.3 .1 1.3 .1 1.2 .2 1.3 .1 1.3 .1 1.2 .2 1.3 .2 1.3 .1 .8 0 .5 0 1.2 0 1.3 0 1.3 0 1.2 0 1.3 0 1.3 0 1.2 0 1.3 0 1.3 0 1.2 0 1.3 0 1.3 0 .6-.2 .6-.3 1.3-.5 1.3-.3 .8-.2 .4-.6 1.3-.5 1-.1 .3-.8 1.3-.3 .4-.7 .8-.6 .8-.4 .5-.9 .9-.4 .4-.9 0-1.2 0-1.3 0-1.3 0-1.2 0-1.3 0-1 0 1-.6 1.1-.7 .2-.1 1.2-1 .3-.2 1-1 .3-.2 1-1.2 0-.1 1-1.3 .2-.5 .5-.8 .7-1.2 .1-.4 .4-.9 .5-1.3 .3-1.2 .1-.3 .2-1 .2-1.3 .2-1.2 .1-1.3 0-1.3 0-1.2 0-1.3-.1-1.3-.2-1.2-.1-1.3-.2-1.3-.1-.7-.1-.5-.2-1.3-.1-1.3-.1-1.3-.1-1.2-.1-1.3-.2-1.3-.2-1.2-.2-1.1 0-.2-.4-1.3-.3-1.2-.3-1.3-.2-1.3-.1-.2-.1-1-.1-1.3-.1-1.3-.2-1.2-.2-1.3-.3-1.3-.2-.5-.4-.8-.9-.7-.7-.5-.6-.3-1.1-1-.1-.1-.9-1.2-.4-.4-.7-.8-.6-.7-.5-.6-.7-.6-.7-.7-.6-.4-1.3-.8-1.2-.7-1.3-.6-.1 0-1.2-.4-1.2-.3-1.3-.2-1.3-.1-1.2 0-1.3 .1-1.3 0-1.3-.1-1.2-.2-.4-.1-.9-.2-1.3-.3-1.2-.3-1.3-.3-.9-.1-.4-.1-1.2-.1-1.3 0-.8 .2-.5 0-1.2 .4-1.3 .6-.4 .2-.9 .6-.8 .7-.4 .4-.9 .9-.4 .4-.7 .8-.6 .8-.4 .5-.9 1.1-.1 .2-1 1.2-.1 .2-.9 1.1-.4 .4-.8 .9-.5 .5-.7 .7-.5 .7-.7 .6-.6 .7-.6 .6-.7 .6-1.2 .3-1.3-.7-.3-.2-1-.7-1.2-.6-1.3-.2-1.3-.1-1.2 0-1.3 0-1.3 .1-1.2 .1-1.3 .1-1.3 0-1.3-.1-1.2-.1-1.3 0-1.3-.1 0-1 0-1.2 0-.6 1.3 .2 1.3 .2 1.2 .1 1.2 .1 .1 0 1.3 0 .8 0 .5 0 1.2-.1 1.3-.2 1.3-.1 1.2-.2 1.3-.2 1.3-.1 1.2-.1 1.3-.2 .5-.1 .8-.2 1.2-.5 .8-.6 .5-.3 1-.9 .3-.4 .7-.9 .5-.7 .4-.6 .8-1.2 .1-.1 .7-1.2 .6-.8 .3-.5 .9-1.2 0-.1 1.1-1.2 .2-.3 1-1 .3-.2 1.3-1 .1 0 1.1-.7 1.3-.4 1.3-.2 .8 0zM282.7 222.6l1.2-.2 1.3 .3 .5 .2 .8 .4 1.1 .9 .1 0 1.3 1.1 .2 .1 1.1 .9 .6 .4 .6 .5 1.3 .7 .2 .1-.2 0-1.3 0-1.2 0-1.3 0-.2 0-1.1-1-.3-.3-.9-.9-.6-.4-.7-.5-1.3-.5-1.2 .3-1 .7-.3 .3-.9 1-.4 .5-.5 .8-.7 0-1.3 0-.8 0 .8-.9 .3-.4 1-1.1 .1-.2 1.1-1.1 .1-.1 1.2-1 .5-.3z" fill="#05b6ce" stroke="#05b6ce" stroke-width="0.3" fill-rule="evenodd"/>
<path d="M276.3 152.8l1.3-.2 1.3-.1 1.2 0 1.3 .1 1.3 .2 1.2 .3 1.3 .4 1.3 .4 1.2 .5 1.3 .6 1.3 .6 .1 .1 1.1 .5 1.3 .5 .8 .2 .5 .2 1.3 .2 1.2 .2 1.3 .1 1.3 .2 1.2 .1 1.3 .2 .7 .1 .6 .1 1.2 .2 1.3 .3 1.3 .3 1.1 .4 .1 0 1.3 .4 1.3 .4 1 .4 .2 .1 1.3 .5 1.3 .6 .3 .1 .9 .5 1.3 .6 .2 .2 1.1 .6 1 .6 .3 .2 1.2 .9 .2 .2 1.1 1 .3 .3 1 1 0 .2 0 1.3 0 1.3 0 1.2 0 1.3 0 1.3 0 1.2 0 1.3 0 1.3 0 1.3 0 1.2 0 1.3 0 1.3 0 1.2 0 1.3 0 1.3 0 1.2 0 1.3 0 1.3 0 1.2 0 1.3 0 1.3 0 1.2 0 1.3 0 1.3 0 .8-.1-.8-.2-1.3-.2-1.3-.1-1.2-.1-1.3-.2-1.3-.1-1.2-.1-1.3-.2-1.3 0-.1-.1-1.1-.1-1.3-.1-1.3 0-1.2 0-1.3 0-1.3-.1-1.2-.1-1.3-.2-1.3-.3-1.3-.3-.9-.1-.3-.6-1.3-.5-.9-.3-.4-1-1.1-.1-.1-1.2-1-.3-.3-1-.7-.9-.6-.3-.2-1.3-.7-.5-.3-.8-.4-1.2-.8-.3-.1-1-.5-1.3-.7-.1-.1-1.1-.5-1.3-.5-.6-.2-.7-.3-1.2-.4-1.3-.3-1.3-.2-.9-.1-.3-.1-1.3 0-1.3-.1-1.2 .1-1.3 0-1.3 0-1.3-.3-1.2-.4-1.3-.5-1.3-.5-1.2-.6-.5-.1-.8-.3-1.3-.4-1.2-.3-1.3-.2-1.1-.1-.2 0-.4 0-.8 0-1.3 .2-1.3 .4-1.1 .7-.1 0-1.3 1-.3 .2-1 1-.2 .3-1.1 1.2 0 .1-.9 1.2-.3 .5-.6 .8-.7 1.2-.1 .1-.8 1.2-.4 .6-.5 .7-.7 .9-.3 .4-1 .9-.5 .3-.8 .6-1.2 .5-.8 .2-.5 .1-1.3 .2-1.2 .1-1.3 .1-1.3 .2-1.2 .2-1.3 .1-1.3 .2-1.2 .1-.5 0-.8 0-1.3 0-.1 0-1.2-.1-1.2-.1-1.3-.2-1.3-.2 0-.7 0-1.3 0-1.2 1.3 .3 1.3 .2 1.2 .2 1.3 .1 1.3 .1 1.3 0 1.2-.1 1.3-.2 1.3-.2 1.2-.4 .1 0 1.2-.6 1.3-.6 .1-.1 1.1-.8 .6-.5 .7-.7 .5-.5 .8-1.1 .1-.2 .9-1.3 .2-.3 .7-.9 .6-.8 .4-.5 .9-1.2 0-.1 1-1.2 .2-.4 .9-.9 .4-.5 .7-.8 .6-.5 .8-.7 .4-.4 1.3-.9 .1 0 1.2-.7 1.3-.5 .2-.1zM323.3 215.9l0 .6 0 1.3 0 1.3 0 1.2 0 1.3 0 1.3 0 1.3 0 1.2 0 1.3 0 1.3-1.3 0-1.3 0-1.2 0-1.3 0-1.3 0-.4 0 .4-.4 .9-.9 .4-.5 .6-.8 .7-.8 .3-.4 .8-1.3 .1-.3 .5-1 .6-1.3 .2-.4 .3-.8 .5-1.3 .3-1.3zM282.7 224.7l1.2-.3 1.3 .5 .7 .5 .6 .4 .9 .9 .3 .3 1.1 1-1.1 0-1.2 0-1.3 0-1.3 0-1.2 0-1.3 0-1.3 0-.5 0 .5-.8 .4-.5 .9-1 .3-.3z" fill="#06bcc0" stroke="#06bcc0" stroke-width="0.3" fill-rule="evenodd"/>
<path d="M271.2 148.8l1.3-.5 .6-.3 .7 0 1.3 0 1.2 0 1.3 0 1.3 0 1.2 0 1.3 0 1.3 0 1.2 0 1.3 0 1.3 0 1.2 0 .2 0 1.1 .4 1.3 .4 1.2 .5 .1 0 1.2 .5 1.3 .5 .8 .3 .5 .1 1.2 .5 1.3 .3 1.2 .3 .1 .1 1.2 .3 1.3 .2 1.3 .3 1.2 .3 .8 .1 .5 .1 1.3 .3 1.2 .3 1.3 .3 .9 .3 .4 .1 1.2 .4 1.3 .4 1.1 .4 .2 0 1.2 .5 1.3 .5 .5 .2 .8 .4 1.3 .6 .5 .3 .7 .4 1.3 .7 .2 .2 1.1 .7 0 .5 0 1.3 0 1.3 0 1.2 0 1.3 0 1.3 0 1-1-1-.3-.3-1.1-1-.2-.2-1.2-.9-.3-.2-1-.6-1.1-.6-.2-.2-1.3-.6-.9-.5-.3-.1-1.3-.6-1.3-.5-.2-.1-1-.4-1.3-.4-1.3-.4-.1 0-1.1-.4-1.3-.3-1.3-.3-1.2-.2-.6-.1-.7-.1-1.3-.2-1.2-.1-1.3-.2-1.3-.1-1.2-.2-1.3-.2-.5-.2-.8-.2-1.3-.5-1.1-.5-.1-.1-1.3-.6-1.3-.6-1.2-.5-1.3-.4-1.3-.4-1.2-.3-1.3-.2-1.3-.1-1.2 0-1.3 .1-1.3 .2-1 .3-.2 .1-1.3 .5-1.2 .7-.1 0-1.3 .9-.4 .4-.8 .7-.6 .5-.7 .8-.4 .5-.9 .9-.2 .4-1 1.2 0 .1-.9 1.2-.4 .5-.6 .8-.7 .9-.2 .3-.9 1.3-.1 .2-.8 1.1-.5 .5-.7 .7-.6 .5-1.1 .8-.1 .1-1.3 .6-1.2 .6-.1 0-1.2 .4-1.3 .2-1.3 .2-1.2 .1-1.3 0-1.3-.1-1.3-.1-1.2-.2-1.3-.2-1.3-.3 0-1.3 0-1.3 0-1.2 0-.2 .9 .2 .4 .1 1.3 .2 1.2 .3 1.3 .1 1.3 .1 1.3 0 1.2-.1 1.3-.3 .7-.4 .6-.4 .9-.9 .3-.4 .7-.9 .6-.8 .3-.4 .8-1.3 .2-.3 .6-1 .6-.8 .3-.4 1-1.3 0-.1 .9-1.2 .4-.4 .7-.8 .5-.7 .6-.6 .7-.8 .5-.5 .8-.7 .6-.6 .6-.5 1-.7 .3-.3 1.3-.8 .4-.2z" fill="#1fc0b2" stroke="#1fc0b2" stroke-width="0.3" fill-rule="evenodd"/>
<path d="M261.1 149l1-1 .3 0 1.2 0 1.3 0 1.3 0 1.2 0 1.3 0 1.3 0 1.2 0 1.3 0 .6 0-.6 .3-1.3 .5-.8 .5-.4 .2-1.3 .8-.3 .3-1 .7-.6 .5-.6 .6-.8 .7-.5 .5-.7 .8-.6 .6-.5 .7-.7 .8-.4 .4-.9 1.2 0 .1-1 1.3-.3 .4-.6 .8-.6 1-.2 .3-.8 1.3-.3 .4-.6 .8-.7 .9-.3 .4-.9 .9-.6 .4-.7 .4-1.3 .3-1.2 .1-1.3 0-1.3-.1-1.3-.1-1.2-.3-1.3-.2-.4-.1-.9-.2 0-1.1 0-1.3 0-1.2 0-1.3 0-1.1 1.3 .2 1.3 .2 1.2 0 1.3-.2 1.3-.3 .1-.1 1.2-.6 .8-.6 .4-.4 .9-.9 .4-.4 .7-.9 .6-.7 .4-.5 .8-1.1 .2-.2 1.1-1.3 1.1-1.3 .2-.2 .9-1 .3-.4 .9-.9zM289 148l1.3 0 1.2 0 1.3 0 1.3 0 1.3 0 1.2 0 1.3 0 1.3 0 1.2 0 1.3 0 1.3 0 1.2 0 1.3 0 1.3 0 1.2 0 1.3 0 1.3 0 .6 0 .6 .2 1.3 .4 1.3 .4 .8 .3 .4 .2 1.3 .4 1.3 .5 .4 .2 .9 .3 1.2 .6 .7 .3 .6 .3 1.3 .7 0 .3 0 1.3 0 1.3 0 1.2 0 1.3 0 1.3 0 .7-1.1-.7-.2-.2-1.3-.7-.7-.4-.5-.3-1.3-.6-.8-.4-.5-.2-1.3-.5-1.2-.5-.2 0-1.1-.4-1.3-.4-1.2-.4-.4-.1-.9-.3-1.3-.3-1.2-.3-1.3-.3-.5-.1-.8-.1-1.2-.3-1.3-.3-1.3-.2-1.2-.3-.1-.1-1.2-.3-1.3-.3-1.2-.5-.5-.1-.8-.3-1.3-.5-1.2-.5-.1 0-1.2-.5-1.3-.4-1.1-.4z" fill="#2fc5a2" stroke="#2fc5a2" stroke-width="0.3" fill-rule="evenodd"/>
<path d="M249.7 149l1.3-.9 0-.1 1.2 0 1.3 0 1.3 0 1.2 0 1.3 0 1.3 0 1.2 0 1.3 0 1 0-1 1-.4 .3-.9 .9-.3 .4-.9 1-.2 .2-1.1 1.3-1.1 1.3-.2 .2-.8 1.1-.4 .5-.6 .7-.7 .9-.4 .4-.9 .9-.4 .4-.8 .6-1.2 .6-.1 .1-1.3 .3-1.3 .2-1.2 0-1.3-.2-1.3-.2 0-.2 0-1.2 0-1.3 0-1.3 0-1.2 0-1.3 0-1.3 0-1.3 0-.2 1.3-.2 1.3-.4 1-.4 .2-.1 1.3-.7 .8-.5zM311.8 148l1.3 0 1.3 0 1.2 0 1.3 0 1.3 0 1.3 0 1.2 0 1.3 0 1.3 0 0 1.3 0 1.3 0 1.2 0 1-1.3-.7-.6-.3-.7-.3-1.2-.6-.9-.3-.4-.2-1.3-.5-1.3-.4-.4-.2-.8-.3-1.3-.4-1.3-.4-.6-.2z" fill="#3dc990" stroke="#3dc990" stroke-width="0.3" fill-rule="evenodd"/>
<path d="M244.6 148l1.3 0 1.2 0 1.3 0 1.3 0 1.3 0 0 .1-1.3 .9-.5 .3-.8 .5-1.3 .7-.2 .1-1 .4-1.3 .4-1.3 .2 0-1 0-1.3 0-1.3z" fill="#55cc7c" stroke="#55cc7c" stroke-width="0.3" fill-rule="evenodd"/>
<path d="M275.1 192.2l-.3 .2-.9 1.3-.1 .6-.1 .7 0 1.2 .1 1.1 0 .2 .1 1.3 .1 1.3 .3 1.2 .3 1.3 .4 1.3 .1 .1 .3 1.1 .5 1.3 .4 .7 .5 .6 .8 .5 1.3 .5 .4 .2 .8 .3 1.3 .5 1.3 .3 1.2 .2 .3 0 1 0 .5 0 .8-.1 1.2-.2 1.3-.3 1.3-.3 1.2-.3 .4-.1 .9-.4 1.2-.8 .1-.1 .6-1.2-.2-1.3-.4-.4-.9-.8-.4-.4-1-.9-.3-.3-.7-1-.5-.6-.5-.6-.8-1.2-.1-.1-.8-1.3-.4-.8-.3-.5-.7-1.2-.2-.4-.9-.9-.4-.3-1.3-.7-.6-.3-.6-.2-1.3-.3-1.3-.2-1.2-.2-1.3 0-1.3 .2-1.2 .5" fill="none" stroke="#1a1a1a" stroke-width="0.6"/>
<path d="M246.6 228l.5-.3 1.3-.4 1.3-.4 .5-.2 .8-.3 1.2-.4 1.3-.4 .6-.2 .7-.2 1.2-.4 1.3-.4 .8-.2 .5-.2 1.2-.4 1.3-.4 .8-.3 .5-.2 1.2-.5 1.3-.5 .3-.1 1-.4 1.2-.6 .9-.3 .4-.1 1.3-.5 1.2-.3 1.3-.3 .1 0 1.2-.3 1.3-.4 1.1-.6 .1-.1 .7-1.2 .2-1.2-.9-.8-1.1-.5-.1-.1-1.3-.5-1.3 0-1.3 0-1.2-.1-1.3-.4-.5-.2-.8-.2-1.2-.6-.8-.4-.5-.3-1.3-.7-.6-.3-.6-.4-1.3-.7-.2-.2-1.1-.7-.7-.5-.5-.5-.8-.8-.5-.7-.3-.6-.6-1.2-.3-1.3-.1-.6-.1-.7 0-1.2 0-1.3 .1-.9 .1-.4 .2-1.3 .4-1.2 .4-1.3 .2-1.3-.3-1.2-1-1.3-1.2-.5-1.3-.2-1.3-.1-1.2 .2-1.3 .2-1.3 .3-.3 .1-1 .3-1.2 .5-1.3 .4 0 .1-1.3 .5M275.1 185.9l-.4 .2-.9 .4-1.3 .6-.5 .3-.8 .3-1.2 .8-.2 .1-1.1 1.1-.2 .2-.7 1.3 0 1.2 .3 1.3 .6 1.3 .4 1.2 .2 1.3 .1 1.3 .2 1.3 .3 1.2 .1 .4 .2 .9 .4 1.3 .5 1.2 .1 .5 .3 .8 .6 1.3 .4 .7 .2 .5 .5 1.3 .6 1 .4 .3 .9 .7 1.2 .2 .8 .3 .5 .7 .5 .6 .8 .5 1.2 .2 1.3 .2 1.3 0 1.2 0 1.3-.2 1.3-.2 1.2-.3 .7-.2 .6-.2 1.3-.5 .9-.6 .3-.1 1.3-.5 1.3-.4 .7-.2 .6-.2 1.2-.9 .2-.2 .9-1.3 .2-.6 .2-.6 .3-1.3-.2-1.3-.3-.6-.3-.6-1-1-.3-.3-.9-.8-.5-.5-.8-1-.2-.2-1-1.3-.1-.2-.5-1.1 .2-1.3 .3-.5 1-.7 .3-.2 1.3-.8 .4-.3 .8-.8 .3-.5 .4-1.2-.5-1.3-.2-.2-1.2-.8-.5-.3-.8-.3-1.3-.4-1.3-.4-.4-.1-.8-.2-1.3-.3-1.3-.2-1.2-.2-1.3-.3-.2-.1-1.1-.4-1.2-.3-1.3-.3-1.3-.1-1.2 .1-1.3 .1-1.3 .3-1.2 .4" fill="none" stroke="#1a1a1a" stroke-width="0.6"/>
<path d="M266.8 228l.6-.4 1.3-.9 .1 0 1.2-.8 .7-.5 .5-.3 1.3-.9 .1 0 1.2-.8 .8-.5 .5-.3 1.2-.8 .2-.2 1.1-.7 .8-.6 .5-.2 1.2-.7 .8-.3 .5-.2 1.3-.3 1.2-.2 1.3-.1 1.3 0 1.2 .2 1.3 .3 .9 .3 .4 .1 1.2 .7 1 .4 .3 .2 1.3 .1 1.3-.2 0-.1 1.2-.4 1.3-.6 .3-.2 1-.6 .8-.7 .4-.4 1-.9 .3-.3 .7-.9 .6-.8 .3-.5 .7-1.3 .2-.4 .4-.8 .5-1.3 .3-1.3 .1-.8 0-.4 0-1.3 0-.4-.1-.9-.1-1.2-.2-1.3-.1-1.3-.2-1.2-.1-1.3-.1-1.3-.2-1.3-.2-.9 0-.3-.3-1.3-.4-1.3-.5-1.2 0-.1-.6-1.2-.5-1.3-.2-.3-.4-.9-.8-1.3-.1-.2-.8-1.1-.4-.6-.5-.6-.5-1.3-.1-1.3 .1-1.2 .1-1.3 .1-1.3 0-1.3-.4-1.2-.1-.3-.6-1-.7-.6-1.2-.5-1.3-.1-1.3 .2-1.3 .1-1.2 .2-1.3 .3-1.3 .2-.9 .2-.3 .1-1.3 .5-1.3 .6 0 .1-1.2 .6-1.2 .6-.1 .1-1.3 .6-1.2 .6-1.3 .7-1.1 .6-.2 .1-1.2 .8-.6 .4-.7 .4-1.3 .8-1.3 .8-.6 .5-.6 .4-1.2 .9-.1 0-1.3 1.1-.2 .1-1 .7-1.3 .6-1.3 .3-1.2 .1-1.3-.3-.2-.1-1.1-.4-1.2-.7-.3-.2-1-.5-1.3-.5-1.2-.2-.2 0-1.1-.2-1.3 0-1.2 0-1.3 .1-.4 .1-.9 .1-1.3 .2-1.2 .2-1.3 .3-1.3 .2M262.4 197.8l1.2 0 .9 1 .1 1.3-1 1.1-1.2-.1-1-1 0-1.3z" fill="none" stroke="#1a1a1a" stroke-width="0.6"/>
<path d="M273.8 228l1.3-1.3 1.2-1.2 .1-.1 1.2-1.1 .2-.1 1.1-1 .3-.3 .9-.7 1-.6 .3-.1 1.3-.4 1.2-.2 1.3 .1 1.3 .4 .6 .2 .6 .4 1.3 .8 .2 .1 1.1 .8 .7 .5 .5 .3 1.3 .6 .8 .3 .5 .2 1.3 .3 1.2 .2 1.3 .1 1.3-.1 1.2-.1 1.3-.3 .8-.3 .5-.1 1.2-.6 1.1-.5 .2-.1 1.3-.9 .4-.3 .8-.8 .6-.5 .7-.8 .4-.5 .9-1.1 0-.1 .8-1.3 .4-.9 .2-.4 .5-1.2 .4-1.3 .2-.7 .1-.6 .3-1.2 .1-1.3 .1-1.3 .1-1.2-.1-1.3 0-1.3-.1-1.2-.1-1.3-.1-1.3-.1-1.2-.1-1.3-.1-1.3 0-.5 0-.8-.1-1.2-.1-1.3-.1-1.3-.3-1.2-.5-1.3-.2-.4-.4-.9-.6-1.2-.2-.4-.5-.9-.6-1.3-.2-.3-.4-.9-.6-1.3-.3-.6-.2-.7-.5-1.2-.5-1.3 0-.1-.4-1.2-.5-1.3-.4-.9-.1-.3-.6-1.3-.6-.9-.2-.4-.9-1.2-.1-.1-1.3-1.2-1.3-.8-.9-.5-.3-.1-1.3-.4-1.3-.2-1.2-.1-1.3-.1-1.3 0-1.3 0-1.2 0-1.3-.1-1.3 0-1.2-.1-1.3 0-1.3 .1-1.2 .2-1.3 .3-1.2 .5-.1 .1-1.2 .7-.8 .5-.5 .3-1.2 1-.1 .1-1.2 1.1-.1 0-1.2 1.2-.1 .1-1.2 1.2-.1 .1-1.2 1.2-1.2 1.2-.1 .1-1.2 1.2 0 .1-1.3 1.3-1.2 1.2 0 .1-1.3 1.1-.2 .1-1.1 .5-1.2 .1-1.3-.4-.5-.2-.8-.6-1-.7-.2-.1-1.3-.7-1.3-.4-1.2-.3-1.3-.1-1.3 0-1.2 .1-1.3 0-1.3 .1-1.3 0-1.2 .1-1.3 0-1.3 0" fill="none" stroke="#1a1a1a" stroke-width="0.6"/>
<path d="M278.8 228l.1-.1 .9-1.2 .3-.4 .8-.9 .5-.5 .9-.7 .4-.2 1.2-.2 1.2 .4 .1 0 1.3 .9 .4 .3 .8 .8 .6 .5 .7 .6 .8 .7M314.6 228l1-1 .4-.3 .9-1 .3-.3 1-1.2 0-.1 .8-1.2 .5-.8 .3-.5 .6-1.3 .3-.8 .2-.4 .5-1.3 .3-1.3 .3-1 0-.2 .3-1.3 .2-1.3 .1-1.2 .1-1.3 0-1.3 0-1.2-.1-1.3-.1-1.3-.1-1.2-.1-1.3-.2-1.3-.1-.7-.1-.5-.2-1.3-.1-1.3-.2-1.3-.1-1.2-.1-1.3-.2-1.3-.1-1.2-.2-1.1 0-.2-.2-1.3-.2-1.2-.1-1.3-.1-1.3 0-1.2 0-1.3 0-1.3 0-1.2-.1-1.3-.2-1.3-.3-1.3 0-.1-.5-1.1-.7-1.3-.1-.2-.9-1.1-.4-.4-1-.8-.3-.2-1.2-.8-.4-.3-.9-.5-1.1-.8-.2 0-1.2-.8-.6-.4-.7-.4-1.3-.8-.1-.1-1.1-.6-1.3-.6-.2-.1-1.1-.4-1.2-.5-1.3-.3-1.3-.3-1.2-.2-1.3-.1-1.3 0-1.2 0-1.3 .1-1.3 0-1.3-.2-1.2-.4-.7-.2-.6-.2-1.3-.5-1.2-.5-.2-.1-1.1-.4-1.3-.3-1.2-.3-1.3-.1-1.3-.1-1.2 .2-1.3 .3-1.3 .5-.3 .2-.9 .6-.9 .7-.4 .4-.9 .9-.4 .4-.6 .8-.7 .8-.3 .5-.8 1.3-.1 .1-.7 1.1-.6 .9-.3 .4-.9 1.3-.1 0-1.1 1.2-.1 .2-1.3 1.1-1.3 .8-1.2 .4-1.2 .1-.1 0-.2 0-1.1-.1-1.2 0-.7 .1-.6 0-1.3 .1-1.2 .2-1.3 .1-1.3 .1-1.2 .1-1.3 .1-1.3-.1-1.3 0-1.2-.2-1.3-.1-1.3-.2" fill="none" stroke="#1a1a1a" stroke-width="0.6"/>
<path d="M323.3 168.1l-1-1-.3-.3-1.1-1-.2-.2-1.2-.9-.3-.2-1-.6-1.1-.6-.2-.2-1.3-.6-.9-.5-.3-.1-1.3-.6-1.3-.5-.2-.1-1-.4-1.3-.4-1.3-.4-.1 0-1.1-.4-1.3-.3-1.3-.3-1.2-.2-.6-.1-.7-.1-1.3-.2-1.2-.1-1.3-.2-1.3-.1-1.2-.2-1.3-.2-.5-.2-.8-.2-1.3-.5-1.1-.5-.1-.1-1.3-.6-1.3-.6-1.2-.5-1.3-.4-1.3-.4-1.2-.3-1.3-.2-1.3-.1-1.2 0-1.3 .1-1.3 .2-1 .3-.2 .1-1.3 .5-1.2 .7-.1 0-1.3 .9-.4 .4-.8 .7-.6 .5-.7 .8-.4 .5-.9 .9-.2 .4-1 1.2 0 .1-.9 1.2-.4 .5-.6 .8-.7 .9-.2 .3-.9 1.3-.1 .2-.8 1.1-.5 .5-.7 .7-.6 .5-1.1 .8-.1 .1-1.3 .6-1.2 .6-.1 0-1.2 .4-1.3 .2-1.3 .2-1.2 .1-1.3 0-1.3-.1-1.3-.1-1.2-.2-1.3-.2-1.3-.3" fill="none" stroke="#1a1a1a" stroke-width="0.6"/>
<circle cx="273.7" cy="159.9" r="0.85" fill="#111"/>
<circle cx="292.2" cy="159.5" r="0.85" fill="#111"/>
<circle cx="260.0" cy="171.7" r="0.85" fill="#111"/>
<circle cx="271.8" cy="173.9" r="0.85" fill="#111"/>
<circle cx="283.3" cy="173.9" r="0.85" fill="#111"/>
<circle cx="294.8" cy="173.6" r="0.85" fill="#111"/>
<circle cx="306.6" cy="172.1" r="0.85" fill="#111"/>
<circle cx="250.7" cy="178.0" r="0.85" fill="#111"/>
<circle cx="315.9" cy="178.0" r="0.85" fill="#111"/>
<circle cx="276.6" cy="182.8" r="0.85" fill="#111"/>
<circle cx="283.3" cy="183.2" r="0.85" fill="#111"/>
<circle cx="290.3" cy="182.8" r="0.85" fill="#111"/>
<circle cx="262.9" cy="182.1" r="0.85" fill="#111"/>
<circle cx="303.7" cy="182.1" r="0.85" fill="#111"/>
<circle cx="254.4" cy="189.8" r="0.85" fill="#111"/>
<circle cx="268.1" cy="189.8" r="0.85" fill="#111"/>
<circle cx="283.3" cy="189.8" r="0.85" fill="#111"/>
<circle cx="298.1" cy="189.8" r="0.85" fill="#111"/>
<circle cx="311.8" cy="189.8" r="0.85" fill="#111"/>
<circle cx="262.2" cy="198.7" r="0.85" fill="#111"/>
<circle cx="276.6" cy="198.0" r="0.85" fill="#111"/>
<circle cx="290.3" cy="198.0" r="0.85" fill="#111"/>
<circle cx="304.4" cy="198.7" r="0.85" fill="#111"/>
<circle cx="260.0" cy="208.0" r="0.85" fill="#111"/>
<circle cx="272.2" cy="206.1" r="0.85" fill="#111"/>
<circle cx="283.3" cy="206.1" r="0.85" fill="#111"/>
<circle cx="294.4" cy="206.5" r="0.85" fill="#111"/>
<circle cx="306.6" cy="208.0" r="0.85" fill="#111"/>
<circle cx="276.3" cy="220.9" r="0.85" fill="#111"/>
<circle cx="283.3" cy="221.3" r="0.85" fill="#111"/>
<circle cx="290.3" cy="220.9" r="0.85" fill="#111"/>
</g>
<circle cx="283.3" cy="188" r="37.00" fill="none" stroke="#111" stroke-width="1.4"/>
<path d="M277.0 151.4 L283.3 145.1 L289.6 151.4" fill="none" stroke="#111" stroke-width="1.3" stroke-linejoin="miter"/>
<path d="M247.4 294.1 H244.4 Q242.0 294.1 242.0 296.5 V308.2 Q242.0 310.6 244.4 310.6 H247.4" fill="#fff" stroke="#2a2a2a" stroke-width="1.2"/><path d="M320.2 294.1 H323.2 Q325.6 294.1 325.6 296.5 V308.2 Q325.6 310.6 323.2 310.6 H320.2" fill="#fff" stroke="#2a2a2a" stroke-width="1.2"/>
<clipPath id="cL3"><circle cx="283.8" cy="300.5" r="37.40"/></clipPath>
<g clip-path="url(#cL3)">
<circle cx="283.8" cy="300.5" r="38.40" fill="#13b0d7"/>
<path d="M244.7 260.1l.1 0 .3 1.3 .3 1.3 .4 1.3 .2 .5 .2 .7 .5 1.3 .5 1.3 .1 .1 .5 1.2 .6 1.3 .1 .4 .4 .8 .6 1.3 .3 1.2 0 .1 0 .9 0 .4-1.3 1.1-.4 .2-.8 .1-1.3 .1-1.3 0-1.3 0 0-.2 0-1.3 0-1.3 0-1.3 0-1.3 0-1.2 0-1.3 0-1.3 0-1.3 0-1.3 0-1.2 0-1.3 0-1.3 0-1.3zM324.2 281.7l0 .2 0 1.3 0 1.3 0 1.3 0 1.2 0 1.3 0 1.3 0 1.3 0 1.3-.1-1.3-.2-1.3 0-1.3-.1-1.3 0-1.2 0-1.3 .2-1.3 .1-1.3z" fill="#4849ed" stroke="#4849ed" stroke-width="0.3" fill-rule="evenodd"/>
<path d="M246 260.1l1.3 0 1.2 0 1.3 0 .1 0 .3 1.3 .3 1.3 .4 1.3 .2 .6 .2 .6 .5 1.3 .6 1.3 .6 1.3 .7 1.2 0 .1 .7 1.2 .5 1 .2 .3 .6 1.3 .5 1.3 0 .2 .2 1.1 0 1.3-.1 1.2-.1 .2-.5 1.1-.8 .8-1 .5-.2 .1-1.3 .2-1.3 .1-1.3 0-1.3-.1-1.2 0-1.3-.1-1.3 0-1.3-.1 0-.1 0-1.3 0-1.3 0-1.2 0-1.1 1.3 0 1.3 0 1.3-.1 .8-.1 .4-.2 1.3-1.1 0-.4 0-.9 0-.1-.3-1.2-.6-1.3-.4-.8-.1-.4-.6-1.3-.5-1.2-.1-.1-.5-1.3-.5-1.3-.2-.7-.2-.5-.4-1.3-.3-1.3-.3-1.3zM324.2 267.1l0 .7 0 1.3 0 1.3 0 1.2 0 1.3 0 1.3 0 1.3 0 1.3 0 1.3 0 1.2 0 1.3 0 1.1-.1 .2-.1 1.3-.2 1.3 0 1.3 0 1.2 .1 1.3 0 1.3 .2 1.3 .1 1.3 0 1.2 0 1.3 0 1.3 0 1.3 0 1.3 0 1.3 0 1.2 0 1.3 0 1.3 0 1.3 0 1.3 0 1.3 0 1.2 0 1.3 0 1.3 0 1.3 0 1.3 0 1.2 0 1.3 0 1.3 0 1.3 0 1-.2-1-.3-1.3-.4-1.3-.3-1.3-.1-.5-.1-.7-.2-1.3-.2-1.3-.1-1.3 0-1.3-.1-1.2 0-1.3 0-1.3-.1-1.3 .1-1.3-.1-1.3 0-1.2-.1-1.3-.1-1.3-.1-1.3-.2-1.2 0-.1-.2-1.3-.3-1.2-.2-1.3-.3-1.3-.3-1.2 0-.1-.2-1.3-.2-1.2-.1-1.3 0-1.3 .1-1.3 .2-1.3 .2-1.1 .1-.2 .3-1.2 .4-1.3 .4-1.3 .1-.3 .4-1 .4-1.3 .4-1.3 .1-.3 .3-.9 .4-1.3 .4-1.3z" fill="#4755f6" stroke="#4755f6" stroke-width="0.3" fill-rule="evenodd"/>
<path d="M251.1 260.1l1.3 0 1.3 0 .1 0 .2 1.3 .1 1.3 .3 1.3 .3 1.2 .2 .8 .2 .5 .5 1.3 .5 1.3 .1 .2 .5 1.1 .7 1.2 .1 .2 .6 1.1 .6 1.3 .1 .3 .2 1-.1 1.3 0 1.3-.1 1.2 0 .7 0 .6-.3 1.3-.8 1.3-.2 .2-1.3 .8-.6 .3-.7 .2-1.2 .3-1.3 .1-1.3 0-1.3 .1-1.3 0-1.2 .1-1.3 0-1.3 .1-1.3 0 0-.9 0-1.3 0-1.2 1.3 .1 1.3 0 1.3 .1 1.2 0 1.3 .1 1.3 0 1.3-.1 1.3-.2 .2-.1 1-.5 .8-.8 .5-1.1 .1-.2 .1-1.2 0-1.3-.2-1.1 0-.2-.5-1.3-.6-1.3-.2-.3-.5-1-.7-1.2 0-.1-.7-1.2-.6-1.3-.6-1.3-.5-1.3-.2-.6-.2-.6-.4-1.3-.3-1.3-.3-1.3zM321.6 260.1l1.3 0 1.3 0 0 1.3 0 1.3 0 1.3 0 1.2 0 1.3 0 .6-.2 .7-.4 1.3-.4 1.3-.3 .9-.1 .3-.4 1.3-.4 1.3-.4 1-.1 .3-.4 1.3-.4 1.3-.3 1.2-.1 .2-.2 1.1-.2 1.3-.1 1.3 0 1.3 .1 1.3 .2 1.2 .2 1.3 0 .1 .3 1.2 .3 1.3 .2 1.3 .3 1.2 .2 1.3 0 .1 .2 1.2 .1 1.3 .1 1.3 .1 1.3 0 1.2 .1 1.3-.1 1.3 .1 1.3 0 1.3 0 1.3 .1 1.2 0 1.3 .1 1.3 .2 1.3 .2 1.3 .1 .7 .1 .5 .3 1.3 .4 1.3 .3 1.3 .2 1 0 .3 0 1.3 0 1.2 0 1.3 0 1.3 0 1.3 0 1.3 0 1.3 0 1.2 0 1.3 0 1.3 0 1.3 0 1.3 0 1.2 0 .6-.2-.6-.4-1.2-.4-1.3-.3-1-.1-.3-.2-1.3-.2-1.3-.1-1.2 0-1.3 0-1.3 .1-1.3 0-1.3-.1-1.3-.1-1.2-.2-1.3-.3-1.3-.1-.3-.2-1-.4-1.3-.3-1.3-.3-1.2-.1-.6 0-.7-.2-1.3 0-1.3-.1-1.3-.1-1.2 0-1.3 0-1.3 0-1.3 0-1.3 0-1.3-.1-1.2-.1-1.3-.2-1.3-.2-1.3-.2-1.2-.1-.1-.3-1.3-.4-1.2-.4-1.3-.1-.3-.4-1-.4-1.3-.5-1.3-.4-1.2-.3-1.3-.1-1.3-.1-1.3 .1-1.3 .2-1.3 .4-1.2 .2-.7 .2-.6 .4-1.3 .5-1.3 .2-.5 .3-.8 .4-1.3 .4-1.2 .2-.7 .1-.6 .4-1.3 .3-1.3 .3-1.3 .1-.5 .2-.7 .3-1.3 .2-1.3 .2-1.3z" fill="#4661fc" stroke="#4661fc" stroke-width="0.3" fill-rule="evenodd"/>
<path d="M254.9 260.1l1.3 0 1 0-.1 1.3 .1 1.3 0 1.3 .2 1.2 .1 .4 .2 .9 .3 1.3 .4 1.3 .4 .8 .2 .5 .6 1.2 .5 .9 .2 .4 .6 1.3 0 1.3-.2 1.3-.2 1.3 0 1.2 .1 1.3 0 1.3-.2 1.3-.3 .6-.4 .7-.9 .8-.8 .5-.5 .2-1.3 .5-1.3 .4-.6 .1-.6 .2-1.3 .1-1.3 .1-1.3 .2-1.3 .2-1.2 .2-1.3 .2-1.3 .1-.4 0-.9 .1 0-.1 0-1.3 0-1.2 0-.4 1.3 0 1.3-.1 1.3 0 1.2-.1 1.3 0 1.3-.1 1.3 0 1.3-.1 1.2-.3 .7-.2 .6-.3 1.3-.8 .2-.2 .8-1.3 .3-1.3 0-.6 0-.7 .1-1.2 0-1.3 .1-1.3-.2-1-.1-.3-.6-1.3-.6-1.1-.1-.2-.7-1.2-.5-1.1-.1-.2-.5-1.3-.5-1.3-.2-.5-.2-.8-.3-1.2-.3-1.3-.1-1.3-.2-1.3zM316.5 260.1l1.3 0 1.3 0 1.2 0 .9 0-.2 1.3-.2 1.3-.3 1.3-.2 .7-.1 .5-.3 1.3-.3 1.3-.4 1.3-.1 .6-.2 .7-.4 1.2-.4 1.3-.3 .8-.2 .5-.5 1.3-.4 1.3-.2 .6-.2 .7-.4 1.2-.2 1.3-.1 1.3 .1 1.3 .1 1.3 .3 1.3 .4 1.2 .5 1.3 .4 1.3 .4 1 .1 .3 .4 1.3 .4 1.2 .3 1.3 .1 .1 .2 1.2 .2 1.3 .2 1.3 .1 1.3 .1 1.2 0 1.3 0 1.3 0 1.3 0 1.3 0 1.3 .1 1.2 .1 1.3 0 1.3 .2 1.3 0 .7 .1 .6 .3 1.2 .3 1.3 .4 1.3 .2 1 .1 .3 .3 1.3 .2 1.3 .1 1.2 .1 1.3 0 1.3-.1 1.3 0 1.3 0 1.3 .1 1.2 .2 1.3 .2 1.3 .1 .3 .3 1 .4 1.3 .4 1.2 .2 .6 0 .7 0 1.3 0 1.3-1.3 0-.6 0-.5-1.3-.2-.4-.3-.9-.5-1.3-.4-1.2-.1-.1-.4-1.2-.3-1.3-.3-1.3-.2-1.3 .1-1.2 .2-1.3 .3-1.3 .2-1.3 .2-1.3 0-1.3 0-1.2-.2-1.3-.2-1.3-.3-1.3-.3-1-.1-.3-.4-1.3-.2-1.2-.1-1.3-.2-1.3-.1-1.3-.1-1.3 0-1.2-.1-1.3 0-1.3 0-1.3 0-1.3 0-1.3 0-.1-.1-1.1-.1-1.3-.3-1.3-.3-1.3-.4-1.3-.1-.4-.3-.9-.5-1.2-.5-1.1-.1-.2-.6-1.3-.6-1.1 0-.2-.7-1.3-.5-1.2 0-.1-.5-1.2-.3-1.3-.3-1.3-.2-.9-.1-.4-.2-1.3 .1-1.2 .2-.5 .2-.8 .7-1.3 .4-.8 .2-.5 .5-1.3 .4-1.3 .1-.2 .3-1 .4-1.3 .3-1.3 .3-1.3 .3-1.3 .3-1.2 .2-1.3 .2-1.3 .2-1.3z" fill="#406dfe" stroke="#406dfe" stroke-width="0.3" fill-rule="evenodd"/>
<path d="M257.5 260.1l1.3 0 1.3 0 .3 0-.3 1.3-.2 1.3-.1 1.3 0 1.2 .1 1.3 .2 1.2 0 .1 .3 1.3 .3 1.3 .6 1.2 .1 .2 .5 1.1 .5 1.3 0 1.3-.3 1.3-.1 1.3 .1 1.2 .2 1.3 .3 1.3 0 .4 .2 .9-.1 1.3-.1 0-.7 1.3-.5 .4-1.3 .8-1.3 .7-1.3 .5-.2 .1-1.1 .4-1.3 .4-1.2 .2-1.3 .1-.8 .2-.5 .1-1.3 .5-1.3 .5-.7 .2-.5 .1-1.3 .2-1.3 0-1.3 .1 0-.4 0-1.3 0-1.2 .9-.1 .4 0 1.3-.1 1.3-.2 1.2-.2 1.3-.2 1.3-.2 1.3-.1 1.3-.1 .6-.2 .6-.1 1.3-.4 1.3-.5 .5-.2 .8-.5 .9-.8 .4-.7 .3-.6 .2-1.3 0-1.3-.1-1.3 0-1.2 .2-1.3 .2-1.3 0-1.3-.6-1.3-.2-.4-.5-.9-.6-1.2-.2-.5-.4-.8-.4-1.3-.3-1.3-.2-.9-.1-.4-.2-1.2 0-1.3-.1-1.3 .1-1.3zM311.4 260.1l1.3 0 1.2 0 1.3 0 1.2 0-.2 1.3-.2 1.3-.2 1.3-.3 1.2-.3 1.3-.3 1.3-.3 1.3-.4 1.3-.3 1-.1 .2-.4 1.3-.5 1.3-.2 .5-.4 .8-.7 1.3-.2 .8-.2 .5-.1 1.2 .2 1.3 .1 .4 .2 .9 .3 1.3 .3 1.3 .5 1.2 0 .1 .5 1.2 .7 1.3 0 .2 .6 1.1 .6 1.3 .1 .2 .5 1.1 .5 1.2 .3 .9 .1 .4 .4 1.3 .3 1.3 .3 1.3 .1 1.3 .1 1.1 0 .1 0 1.3 0 1.3 0 1.3 0 1.3 .1 1.3 0 1.2 .1 1.3 .1 1.3 .2 1.3 .1 1.3 .2 1.2 .4 1.3 .1 .3 .3 1 .3 1.3 .2 1.3 .2 1.3 0 1.2 0 1.3-.2 1.3-.2 1.3-.3 1.3-.2 1.3-.1 1.2 .2 1.3 .3 1.3 .3 1.3 .4 1.2 .1 .1 .4 1.2 .5 1.3 .3 .9 .2 .4 .5 1.3-.7 0-1.3 0-1 0-.2-.8-.2-.5-.5-1.3-.5-1.3-.1-.2-.4-1-.5-1.3-.4-.9-.2-.4-.4-1.3-.4-1.3 0-1.2 .7-1.3 .3-.5 .5-.8 .6-1.3 .2-.7 .1-.6 .2-1.3 0-1.2-.1-1.3-.1-1.3-.1-.4-.2-.9-.3-1.3-.4-1.3-.2-1.2-.2-1.1 0-.2-.2-1.3-.2-1.3-.1-1.3-.1-1.2 0-1.3 0-1.3 0-1.3 0-1.3-.1-1.3-.1-1.2-.2-1.3-.3-1.3-.4-1.3-.4-1.3-.5-1-.1-.3-.6-1.2-.5-1.2-.1-.1-.7-1.3-.5-.9-.2-.4-.7-1.3-.4-.8-.2-.4-.4-1.3-.6-1.3-.1-.3-.6-1-.7-.9-.4-.4-.9-.7-1.2-.5-.1-.1-1.2-.4-1.3-.5-.7-.3-.6-.7-.2-.6 .2-.9 .2-.4 .8-1.3 .3-.5 .8-.8 .5-.5 .9-.8 .4-.2 1.2-.9 .3-.1 1-.9 .4-.4 .9-1.3 .7-1.3 .5-1.3 .1-.2 .3-1 .4-1.3 .2-1.3 .2-1.3z" fill="#347afd" stroke="#347afd" stroke-width="0.3" fill-rule="evenodd"/>
<path d="M261.4 260.1l1.2 0 1.2 0-.6 1.3-.5 1.3-.1 .1-.2 1.2-.3 1.2-.1 1.3 .1 1.3 .1 1.3 .2 1.3 .2 .7 .2 .5 .6 1.3 .3 1.3 .1 1.3-.2 1.3-.1 1.3 .3 1.2 .1 .5 .4 .8 .5 1.3 .4 1.1 .1 .2 .2 1.3-.1 1.3-.2 .2-.7 1-.6 .4-1.3 .8-.2 .1-1 .5-1.3 .5-.6 .3-.7 .3-1.3 .7-.5 .3-.8 .4-1.3 .6-.8 .3-.4 .4-.5 .8 .1 1.3-.4 1.3-.5 .5-1.3 .6-1.3-.6-.7-.5-.6-.6-1.2-.7-1.3-.5-1.3-.2-1.3 0 0-.6 0-1.2 0-.9 1.3-.1 1.3 0 1.3-.2 .5-.1 .7-.2 1.3-.5 1.3-.5 .5-.1 .8-.2 1.3-.1 1.2-.2 1.3-.4 1.1-.4 .2-.1 1.3-.5 1.3-.7 1.3-.8 .5-.4 .7-1.3 .1 0 .1-1.3-.2-.9 0-.4-.3-1.3-.2-1.3-.1-1.2 .1-1.3 .3-1.3 0-1.3-.5-1.3-.5-1.1-.1-.2-.6-1.2-.3-1.3-.3-1.3 0-.1-.2-1.2-.1-1.3 0-1.2 .1-1.3 .2-1.3 .3-1.3zM306.2 260.1l1.3 0 1.3 0 1.3 0 1.1 0-.2 1.3-.2 1.3-.4 1.3-.3 1-.1 .2-.5 1.3-.7 1.3-.9 1.3-.4 .4-1 .9-.3 .1-1.2 .9-.4 .2-.9 .8-.5 .5-.8 .8-.3 .5-.8 1.3-.2 .4-.2 .9 .2 .6 .6 .7 .7 .3 1.3 .5 1.2 .4 .1 .1 1.2 .5 .9 .7 .4 .4 .7 .9 .6 1 .1 .3 .6 1.3 .4 1.3 .2 .4 .4 .8 .7 1.3 .2 .4 .5 .9 .7 1.3 .1 .1 .5 1.2 .6 1.2 .1 .3 .5 1 .4 1.3 .4 1.3 .3 1.3 .2 1.3 .1 1.2 .1 1.3 0 1.3 0 1.3 0 1.3 0 1.3 .1 1.2 .1 1.3 .2 1.3 .2 1.3 0 .2 .2 1.1 .2 1.2 .4 1.3 .3 1.3 .2 .9 .1 .4 .1 1.3 .1 1.3 0 1.2-.2 1.3-.1 .6-.2 .7-.6 1.3-.5 .8-.3 .5-.7 1.3 0 1.2 .4 1.3 .4 1.3 .2 .4 .4 .9 .5 1.3 .4 1 .1 .2 .5 1.3 .5 1.3 .2 .5 .2 .8-.2 0-1.3 0-1.2 0-.1-.3-.3-1-.5-1.3-.5-1.3-.5-1.2-.5-1.3-.3-.5-.3-.8-.6-1.3-.3-.7-.3-.6-.4-1.2 .2-1.3 .5-.5 1-.8 .2-.2 1.2-1.1 .1-.1 .6-1.2 .3-1.3 .1-1.2 0-1.3-.1-1.3-.2-1.3-.3-1.3-.3-1.3-.1-.3-.2-.9-.3-1.3-.3-1.3-.2-1.3-.1-1.3-.1-1.2-.1-1.3 0-.5 0-.8 0-1.3 0-.2 0-1.1 0-1.3-.1-1.2-.3-1.3-.4-1.3-.4-1.3 0-.1-.5-1.2-.6-1.3-.2-.5-.4-.7-.6-1.3-.3-.6-.4-.7-.6-1.3-.3-.5-.3-.8-.5-1.2-.5-1.2 0-.1-.8-1.3-.5-.5-1-.8-.2-.2-1.3-.6-1.1-.5-.2-.1-1.3-.6-.7-.6-.6-.4-.5-.8-.1-1.3 .3-1.3 .3-1.3 0-.2 .4-1.1 .4-1.3 .5-1.2 0-.1 .7-1.2 .6-1.1 .2-.2 .8-1.3 .3-.5 .5-.8 .6-1.2 .2-.5 .3-.8 .3-1.3 .3-1.3z" fill="#2e86f7" stroke="#2e86f7" stroke-width="0.3" fill-rule="evenodd"/>
<path d="M263.9 260.1l1.3 0 1.3 0 1.3 0 1.3 0 .2 0-.2 .1-1.3 .7-.6 .5-.7 .7-.5 .6-.8 1.3-.5 1.2-.4 1.3-.1 1.3 0 1.3 .1 1.3 .4 1.2 .3 1.3 .2 .8 .1 .5 .2 1.3 .1 1.3 .1 1.3 .5 1.2 .3 .8 .2 .5 .5 1.3 .4 1.3 .2 1.3-.1 1.3-.4 1.2-.8 1.2-.2 .1-1.1 .8-1 .5-.3 .1-1.3 .6-1.2 .6-1.3 .7-.8 .6-.5 .3-1.1 .9-.2 .2-1 1.1-.3 .3-.8 1-.5 .5-.7 .8-.5 .3-1.3 .6-1.3 .2-1.3-.4-1.3-.6-.2-.1-1-.5-1.3-.4-1.3-.1-1.3 0 0-.3 0-1.3 0-.7 1.3 0 1.3 .2 1.3 .5 1.2 .7 .6 .6 .7 .5 1.3 .6 1.3-.6 .5-.5 .4-1.3-.1-1.3 .5-.8 .4-.4 .8-.3 1.3-.6 .8-.4 .5-.3 1.3-.7 .7-.3 .6-.3 1.3-.5 1-.5 .2-.1 1.3-.8 .6-.4 .7-1 .2-.2 .1-1.3-.2-1.3-.1-.2-.4-1.1-.5-1.3-.4-.8-.1-.5-.3-1.2 .1-1.3 .2-1.3-.1-1.3-.3-1.3-.6-1.3-.2-.5-.2-.7-.2-1.3-.1-1.3-.1-1.3 .1-1.3 .3-1.2 .2-1.2 .1-.1 .5-1.3 .6-1.3zM276.7 260.1l1.3 0 1.3 0 1.3 0 1.3 0 1.3 0 1.2 0 1.3 0 .5 0-.4 1.3-.1 .2-.3 1.1-.5 1.3-.5 .7-1 .5-.2 .1-.2-.1-1.1-.6-.9-.6-.4-.4-1.1-.9-.2-.2-1.3-1-.1-.1-1.2-.8-1.1-.5zM301.1 260.1l1.3 0 1.3 0 1.3 0 .9 0-.3 1.3-.3 1.3-.3 .8-.2 .5-.6 1.2-.5 .8-.3 .5-.8 1.3-.2 .2-.6 1.1-.7 1.2 0 .1-.5 1.2-.4 1.3-.4 1.1 0 .2-.3 1.3-.3 1.3 .1 1.3 .5 .8 .6 .4 .7 .6 1.3 .6 .2 .1 1.1 .5 1.3 .6 .2 .2 1 .8 .5 .5 .8 1.3 0 .1 .5 1.2 .5 1.2 .3 .8 .3 .5 .6 1.3 .4 .7 .3 .6 .6 1.3 .4 .7 .2 .5 .6 1.3 .5 1.2 0 .1 .4 1.3 .4 1.3 .3 1.3 .1 1.2 0 1.3 0 1.1 0 .2 0 1.3 0 .8 0 .5 .1 1.3 .1 1.2 .1 1.3 .2 1.3 .3 1.3 .3 1.3 .2 .9 .1 .3 .3 1.3 .3 1.3 .2 1.3 .1 1.3 0 1.3-.1 1.2-.3 1.3-.6 1.2-.1 .1-1.2 1.1-.2 .2-1 .8-.5 .5-.2 1.3 .4 1.2 .3 .6 .3 .7 .6 1.3 .3 .8 .3 .5 .5 1.3 .5 1.2 .5 1.3 .5 1.3 .3 1 .1 .3-.1 0-1.3 0-1.2 0-.1-.3-.3-1-.4-1.3-.4-1.3-.1-.3-.3-.9-.5-1.3-.5-1.3 0-.1-.5-1.2-.5-1.3-.3-1.1 0-.1 0-1.3 0-.1 .5-1.2 .8-.9 .5-.4 .8-.7 .6-.6 .6-1.3 0-.1 .2-1.1 .1-1.3-.1-1.3-.1-1.3-.1-.5-.1-.8-.3-1.3-.3-1.2-.3-1.3-.2-.9-.1-.4-.3-1.3-.2-1.3-.1-1.2-.1-1.3 0-1.3 0-1.3 0-1.3 0-1.3-.2-1.2-.3-1.3 0-.3-.3-1-.5-1.3-.5-1.3 0-.1-.5-1.2-.6-1.2-.2-.6-.3-.7-.5-1.3-.5-1.1 0-.2-.5-1.3-.5-1.2-.3-.6-.5-.7-.7-.9-.7-.4-.6-.4-1.3-.7-.4-.2-.9-.5-1.2-.8-.1 0-1-1.3-.3-.4-.3-.8 0-1.3 .2-1.3 0-1.3 0-1.3-.2-1.3 0-1.2 .2-1.3 .1-.6 .3-.7 .5-1.3 .5-1.3 .4-1.2 .4-1.3 .1-1.3 0-1.3zM243.9 339.6l.8 1.2 .1 .1-.1 0-1.3 0 0-1.3 0-.6z" fill="#2b91ef" stroke="#2b91ef" stroke-width="0.3" fill-rule="evenodd"/>
<path d="M267.8 260.9l1.3-.7 .2-.1 1 0 1.3 0 1.3 0 1.3 0 1.3 0 .1 0 1.1 .5 1.2 .8 .1 .1 1.3 1 .2 .2 1.1 .9 .4 .4 .9 .6 1.1 .6 .2 .1 .2-.1 1-.5 .5-.7 .5-1.3 .3-1.1 .1-.2 .4-1.3 .8 0 1.3 0 1.3 0 1.3 0 1 0-1 .5-.9 .8-.4 .5-.5 .8-.6 1.3-.2 .5-.3 .7-.4 1.3-.6 .6-1.3 .3-1.3 .1-1.2-.1-1.3-.4-1-.5-.3-.1-1.3-.8-.7-.4-.6-.3-1.3-.7-.7-.2-.5-.3-1.3-.4-1.3-.1-1.3 .1-1.3 .3-.7 .4-.5 .3-1.1 .9-.2 .3-.7 1-.4 1.3-.2 1.1 0 .2 0 .4 0 .9 .2 1.2 .4 1.3 .3 1.3 .3 1.3 .1 .2 .3 1.1 .4 1.3 .3 1.2 .3 .8 .1 .5 .2 1.3 .2 1.3 .1 1.3-.1 1.3-.3 1.2-.2 .7-.4 .6-.9 1.1-.3 .2-1 .6-1.3 .7-.1 0-1.2 .5-1.3 .7-.1 .1-1.1 .7-.9 .5-.4 .4-1 .9-.3 .3-1 1-.3 .2-1.1 1.1-.2 .1-1.3 1.1-.1 .1-1.1 .6-1.3 .3-1.3 0-1.3-.4-1.3-.5-1.2-.3-1.3-.1-1.3 .1-1.3 .2 0-1.2 0-1 1.3 0 1.3 .1 1.3 .4 1 .5 .2 .1 1.3 .6 1.3 .4 1.3-.2 1.3-.6 .5-.3 .7-.8 .5-.5 .8-1 .3-.3 1-1.1 .2-.2 1.1-.9 .5-.3 .8-.6 1.3-.7 1.2-.6 1.3-.6 .3-.1 1-.5 1.1-.8 .2-.1 .8-1.2 .4-1.2 .1-1.3-.2-1.3-.4-1.3-.5-1.3-.2-.5-.3-.8-.5-1.2-.1-1.3-.1-1.3-.2-1.3-.1-.5-.2-.8-.3-1.3-.4-1.2-.1-1.3 0-1.3 .1-1.3 .4-1.3 .5-1.2 .8-1.3 .5-.6 .7-.7zM294.7 260.1l1.3 0 1.3 0 1.2 0 1.3 0 .9 0 0 1.3-.1 1.3-.4 1.3-.4 1.2-.5 1.3-.5 1.3-.3 .7-.1 .6-.2 1.3 0 1.2 .2 1.3 0 1.3 0 1.3-.2 1.3 0 1.3 .3 .8 .3 .4 1 1.3 .1 0 1.2 .8 .9 .5 .4 .2 1.3 .7 .6 .4 .7 .4 .7 .9 .5 .7 .3 .6 .5 1.2 .5 1.3 0 .2 .5 1.1 .5 1.3 .3 .7 .2 .6 .6 1.2 .5 1.2 0 .1 .5 1.3 .5 1.3 .3 1 0 .3 .3 1.3 .2 1.2 0 1.3 0 1.3 0 1.3 0 1.3 .1 1.3 .1 1.2 .2 1.3 .3 1.3 .1 .4 .2 .9 .3 1.3 .3 1.2 .3 1.3 .1 .8 .1 .5 .1 1.3 .1 1.3-.1 1.3-.2 1.1 0 .1-.6 1.3-.6 .6-.8 .7-.5 .4-.8 .9-.5 1.2 0 .1 0 1.3 0 .1 .3 1.1 .5 1.3 .5 1.2 0 .1 .5 1.3 .5 1.3 .3 .9 .1 .3 .4 1.3 .4 1.3 .3 1 .1 .3-.1 0-1.2 0-1.2 0-.1-.6-.2-.7-.4-1.3-.4-1.3-.3-1.2 0-.1-.3-1.2-.3-1.3-.4-1.3-.3-.7-.3-.6-.5-1.2-.1-1.3 .3-1.3 .6-1.2 .1-.1 .9-1.3 .3-.4 .7-.9 .6-1.1 0-.1 .3-1.3 .2-1.3 0-1.3-.1-1.3-.2-1.3-.2-.7-.2-.5-.3-1.3-.4-1.3-.2-1.3-.2-1.3-.1-1.2-.1-1.3 0-1.3 0-1.3 0-1.3-.1-1.3-.1-1.2-.3-1.3-.4-1.3-.2-.7-.2-.6-.5-1.3-.4-1.3-.2-.3-.3-.9-.4-1.3-.4-1.3-.2-.4-.2-.9-.4-1.3-.5-1.2-.1-.2-1.3-1.1 0-.1-1.3-.7-.9-.5-.4-.2-1.3-.9-.2-.2-1.1-1-.2-.3-.7-1.3-.3-1.2 .1-1.3 0-1.3-.1-.8-.2-.5-.6-1.3-.5-.8-.7-.5-.6-.5-1.3-.2-1.3-.1-1.2-.3-.3-.1-1-1.2-.1-.1 .1-.2 1.3-.8 1.2-.1 1.3-.2 1.3-.7 .5-.6 .6-1.3 .2-.7 .1-.5 0-1.3-.1-.3-.4-1-.9-1-.6-.3zM243.4 333.2l.9 1.3 .4 .5 .6 .8 .7 .9 .2 .3 1 1.3 .1 .1 .8 1.2 .4 .6 .6 .7-.6 0-1.2 0-1.3 0-1.2 0-.1-.1-.8-1.2-.5-.6 0-.7 0-1.3 0-1.2 0-1.3 0-1.3z" fill="#259ce7" stroke="#259ce7" stroke-width="0.3" fill-rule="evenodd"/>
<path d="M290.9 260.6l1-.5 .2 0 1.3 0 .7 0 .6 .3 .9 1 .4 1 .1 .3 0 1.3-.1 .5-.2 .7-.6 1.3-.5 .6-1.3 .7-1.3 .2-1.2 .1-1.3 .8-.1 .2 .1 .1 1 1.2 .3 .1 1.2 .3 1.3 .1 1.3 .2 .6 .5 .7 .5 .5 .8 .6 1.3 .2 .5 .1 .8 0 1.3-.1 1.3 .3 1.2 .7 1.3 .2 .3 1.1 1 .2 .2 1.3 .9 .4 .2 .9 .5 1.3 .7 0 .1 1.3 1.1 .1 .2 .5 1.2 .4 1.3 .2 .9 .2 .4 .4 1.3 .4 1.3 .3 .9 .2 .3 .4 1.3 .5 1.3 .2 .6 .2 .7 .4 1.3 .3 1.3 .1 1.2 .1 1.3 0 1.3 0 1.3 0 1.3 .1 1.3 .1 1.2 .2 1.3 .2 1.3 .4 1.3 .3 1.3 .2 .5 .2 .7 .2 1.3 .1 1.3 0 1.3-.2 1.3-.3 1.3 0 .1-.6 1.1-.7 .9-.3 .4-.9 1.3-.1 .1-.6 1.2-.3 1.3 .1 1.3 .5 1.2 .3 .6 .3 .7 .4 1.3 .3 1.3 .3 1.2 0 .1 .3 1.2 .4 1.3 .4 1.3 .2 .7 .1 .6-.1 0-1.3 0-1.1 0-.2-.6-.2-.7-.5-1.3-.4-1.3-.2-.4-.4-.8-.7-1.3-.2-.3-1.2-.2-1.3-.7-.1-.1-.4-1.3 .5-1.3 .9-1.2 .4-.6 .3-.7 .5-1.3 .4-1.1 .1-.2 .7-1.3 .5-1 .2-.3 .7-1.2 .4-.9 .2-.4 .4-1.3 .1-1.3 .1-1.3-.2-1.3-.3-1.2-.3-1.1 0-.2-.4-1.3-.2-1.3-.1-1.3-.2-1.2 0-1.3-.1-1.3 0-1.3 0-1.3 0-1.3-.2-1.2-.1-.4-.2-.9-.3-1.3-.4-1.3-.4-1 0-.3-.5-1.3-.4-1.2-.3-1.3 0-.2-.3-1.1-.3-1.3-.4-1.3-.3-.4-.9-.8-.4-.3-1.3-.8-.2-.2-1.1-.7-.7-.6-.6-.5-.6-.8-.6-.9-.3-.4-.5-1.3-.2-1.2 0-1.3-.2-1.3-.1-.4-.9-.9-.4-.3-1.3-.6-1.3-.4-1.2-.3-1.3-.6-.7-.4-.6-.4-1.2-.8-.1-.1-1.3-.7-1.3-.4-.2-.1-1-.3-1.3-.4-1.3-.4-.6-.2-.7-.3-1.3-.5-1.3-.4-.5-.1-.7-.2-1.3-.1-1.3 .1-.9 .2-.4 .1-1.3 .9-.3 .3-.6 1.3-.3 1.3 .1 1.2 .2 1.3 .4 1.3 .5 1.3 0 .2 .4 1.1 .5 1.3 .2 1.2 .1 1.3 0 1.3 0 1.3-.1 1.3-.1 1.3-.3 1.2-.5 1.3-.2 .3-.7 1-.5 .5-1.2 .8-.1 .1-1.3 .6-1.1 .6-.2 .1-1.3 .6-.9 .5-.4 .3-1.2 .9-.2 .1-1.1 1.1-.3 .2-1 1-.4 .3-.9 .8-.6 .5-.7 .5-1.1 .8-.2 .1-1.2 .5-1.3 .3-1.3 0-1.3-.3-1.3-.5-1.2-.1-1.3 .2-1.3 .4-1.3 .6 0-1.2 0-1.3 0-.1 1.3-.2 1.3-.1 1.3 .1 1.2 .3 1.3 .5 1.3 .4 1.3 0 1.3-.3 1.1-.6 .1-.1 1.3-1.1 .2-.1 1.1-1.1 .3-.2 1-1 .3-.3 1-.9 .4-.4 .9-.5 1.1-.7 .1-.1 1.3-.7 1.2-.5 .1 0 1.3-.7 1-.6 .3-.2 .9-1.1 .4-.6 .2-.7 .3-1.2 .1-1.3-.1-1.3-.2-1.3-.2-1.3-.1-.5-.3-.8-.3-1.2-.4-1.3-.3-1.1-.1-.2-.3-1.3-.3-1.3-.4-1.3-.2-1.2 0-.9 0-.4 0-.2 .2-1.1 .4-1.3 .7-1 .2-.3 1.1-.9 .5-.3 .7-.4 1.3-.3 1.3-.1 1.3 .1 1.3 .4 .5 .3 .7 .2 1.3 .7 .6 .3 .7 .4 1.3 .8 .3 .1 1 .5 1.3 .4 1.2 .1 1.3-.1 1.3-.3 .6-.6 .4-1.3 .3-.7 .2-.5 .6-1.3 .5-.8 .4-.5zM243.4 328.1l.9 1.3 .4 .6 .5 .6 .8 1.2 .1 .1 .9 1.3 .3 .4 .6 .9 .6 .8 .4 .5 .9 1.2 .1 0 1 1.3 .2 .3 .8 1 .5 .6 .6 .7-.6 0-1.3 0-1.3 0-.7 0-.6-.7-.4-.6-.8-1.2-.1-.1-1-1.3-.2-.3-.7-.9-.6-.8-.4-.5-.9-1.3 0-1.3 0-1.3 0-1.2 0-1.3 0-.1z" fill="#1fa5e2" stroke="#1fa5e2" stroke-width="0.3" fill-rule="evenodd"/>
<path d="M272.9 266.3l1.3-.1 1.3 .1 .7 .2 .5 .1 1.3 .4 1.3 .5 .7 .3 .6 .2 1.3 .4 1.3 .4 1 .3 .2 .1 1.3 .4 1.3 .7 .1 .1 1.2 .8 .6 .4 .7 .4 1.3 .6 1.2 .3 1.3 .4 1.3 .6 .4 .3 .9 .9 .1 .4 .2 1.3 0 1.3 .2 1.2 .5 1.3 .3 .4 .6 .9 .6 .8 .6 .5 .7 .6 1.1 .7 .2 .2 1.3 .8 .4 .3 .9 .8 .3 .4 .4 1.3 .3 1.3 .3 1.1 0 .2 .3 1.3 .4 1.2 .5 1.3 0 .3 .4 1 .4 1.3 .3 1.3 .2 .9 .1 .4 .2 1.2 0 1.3 0 1.3 0 1.3 .1 1.3 0 1.3 .2 1.2 .1 1.3 .2 1.3 .4 1.3 0 .2 .3 1.1 .3 1.2 .2 1.3-.1 1.3-.1 1.3-.4 1.3-.2 .4-.4 .9-.7 1.2-.2 .3-.5 1-.7 1.3-.1 .2-.4 1.1-.5 1.3-.3 .7-.4 .6-.9 1.2-.5 1.3 .4 1.3 .1 .1 1.3 .7 1.2 .2 .2 .3 .7 1.3 .4 .8 .2 .4 .4 1.3 .5 1.3 .2 .7 .2 .6-.2 0-1.3 0-1.2 0-.1-.2-.4-1.1-.7-1.3-.1-.1-.9-1.2-.4-.4-.7-.8-.6-.7-.4-.6-.7-1.3-.2-1.3 .4-1.3 .7-1.2 .2-.4 .6-.9 .7-1.3 .5-1.3 .5-1.3 .3-.6 .3-.7 .6-1.2 .3-.9 .2-.4 .5-1.3 .3-1.3 .1-1.3-.1-1.3-.2-1.2-.3-1.3-.3-1.3-.1-1.3-.1-.3 0-1-.1-1.2-.1-1.3-.1-1.3-.1-1.3 0-1.3-.1-1.3-.1-1.2-.3-1.3-.3-1.3 0-.2-.4-1.1-.4-1.3-.5-1.3-.4-1.2-.4-1.3-.3-1.3-.2-.5-.3-.8-1-1.3-1.3-1.1-.1-.1-1.2-1.1-.2-.2-1-1.2-.1-.1-.9-1.3-.3-.6-.4-.7-.5-1.3-.2-1.2-.2-1-.1-.3-1.2-1.3-.1 0-1.2-.5-1.2-.5-.6-.3-.7-.3-1.3-.6-.6-.4-.7-.4-1.2-.9-.1 0-1.3-.8-.8-.4-.4-.2-1.3-.4-1.3-.4-1.3-.3-.3 0-1-.2-1.3-.2-1.2 0-1.3 .3-.3 .1-1 .6-.5 .7-.5 1.2 0 1.3 .3 1.3 .6 1.3 .1 .2 .7 1.1 .6 1.2 0 .1 .1 1.2-.1 .5-.2 .8-.4 1.3-.3 1.3-.2 1.3-.2 1.3-.3 1.2-.4 1.3-.6 .8-.3 .5-1 .9-.4 .4-.8 .5-1.3 .8-1.3 .7-1 .5-.3 .2-1.3 .7-.6 .4-.7 .5-1 .8-.2 .2-1.2 1.1-.1 .1-1.3 1.2-1.3 1.1-.2 .2-1.1 .8-.7 .4-.6 .3-1.2 .6-1.3 .3-1.3 .1-1.3-.1-1.3 0-1.2 .1-1.3 .7-.9 .6-.4 .4-.8 .9-.5 .8 0-.8 0-1.3 0-1.3 0-1.3 1.3-.6 1.3-.4 1.3-.2 1.2 .1 1.3 .5 1.3 .3 1.3 0 1.3-.3 1.2-.5 .2-.1 1.1-.8 .7-.5 .6-.5 .9-.8 .4-.3 1-1 .3-.2 1.1-1.1 .2-.1 1.2-.9 .4-.3 .9-.5 1.3-.6 .2-.1 1.1-.6 1.3-.6 .1-.1 1.2-.8 .5-.5 .7-1 .2-.3 .5-1.3 .3-1.2 .1-1.3 .1-1.3 0-1.3 0-1.3-.1-1.3-.2-1.2-.5-1.3-.4-1.1 0-.2-.5-1.3-.4-1.3-.2-1.3-.1-1.2 .3-1.3 .6-1.3 .3-.3 1.3-.9 .4-.1zM243.5 322.9l.7 1.3 .5 1 .2 .3 .7 1.3 .4 .5 .5 .8 .8 1.2 0 .1 .9 1.2 .3 .6 .6 .7 .7 1.1 .2 .2 1 1.3 .1 .1 1 1.2 .3 .3 .8 .9 .5 .6 .7 .7 .5 .7 .7 .6 .6 .7 .6 .6-.6 0-1.3 0-1.2 0-.7 0-.6-.7-.5-.6-.8-1-.2-.3-1-1.3-.1 0-.9-1.2-.4-.5-.6-.8-.6-.9-.3-.4-.9-1.3-.1-.1-.8-1.2-.5-.6-.4-.6-.9-1.3 0-.1 0-1.2 0-1.3 0-1.3 0-1.3 0-.3z" fill="#17aeda" stroke="#17aeda" stroke-width="0.3" fill-rule="evenodd"/>
<path d="M274.2 269l1.3-.3 1.2 0 1.3 .2 1 .2 .3 0 1.3 .3 1.3 .4 1.3 .4 .4 .2 .8 .4 1.3 .8 .1 0 1.2 .9 .7 .4 .6 .4 1.3 .6 .7 .3 .6 .3 1.2 .5 1.2 .5 .1 0 1.2 1.3 .1 .3 .2 1 .2 1.2 .5 1.3 .4 .7 .3 .6 .9 1.3 .1 .1 1 1.2 .2 .2 1.2 1.1 .1 .1 1.3 1.1 1 1.3 .3 .8 .2 .5 .3 1.3 .4 1.3 .4 1.2 .5 1.3 .4 1.3 .4 1.1 0 .2 .3 1.3 .3 1.3 .1 1.2 .1 1.3 0 1.3 .1 1.3 .1 1.3 .1 1.3 .1 1.2 0 1 .1 .3 .1 1.3 .3 1.3 .3 1.3 .2 1.2 .1 1.3-.1 1.3-.3 1.3-.5 1.3-.2 .4-.3 .9-.6 1.2-.3 .7-.3 .6-.5 1.3-.5 1.3-.7 1.3-.6 .9-.2 .4-.7 1.2-.4 1.3 .2 1.3 .7 1.3 .4 .6 .6 .7 .7 .8 .4 .4 .9 1.2 .1 .1 .7 1.3 .4 1.1 .1 .2-.1 0-1.2 0-1.3 0-.6-1.3-.7-1.1-.1-.2-.9-1.3-.3-.4-.5-.8-.8-1.2 0-.1-1-1.3-.2-1.3 .8-1.3 .4-.5 .5-.7 .8-1.1 .2-.2 .7-1.3 .4-1 .1-.3 .4-1.3 .4-1.3 .4-.9 .1-.3 .6-1.3 .4-1.3 .2-.7 .1-.6 .2-1.3 0-1.3-.2-1.2-.1-1-.1-.3-.2-1.3-.1-1.3 0-1.3-.2-1.2-.1-1.3-.2-1.3-.1-1.3 0-1.3-.1-1.3-.2-1.2 0-.3-.2-1-.4-1.3-.5-1.3-.2-.5-.3-.8-.7-1.3-.3-.7-.2-.5-.6-1.3-.5-1-.1-.3-.9-1.3-.3-.3-.7-1-.5-.7-.4-.5-.8-1.3-.1-.2-.8-1.1-.5-.9-.3-.4-.7-1.3-.3-.7-.3-.6-.8-1.2-.2-.2-1.2-1-.2-.1-1.1-.6-1.3-.7-1.3-.7-.9-.6-.4-.2-1.2-1.1-.1 0-1.2-1-.4-.3-.9-.3-1.3-.2-1.3-.1-1.3 0-1.3 .1-1.2 .5-.7 1.3 .2 1.3 .5 .7 .6 .6 .6 .7 .6 .6 .6 1.3-.1 1.2-.7 1.3-.4 .4-.6 .9-.6 .8-.3 .5-.3 1.3-.3 1.3-.4 1.2 0 .1-.5 1.2-.8 1.3-1.3 1.2 0 .1-1.3 .9-.6 .4-.6 .4-1.3 .7-.2 .1-1.1 .7-1.1 .6-.2 .2-1.3 .8-.4 .3-.9 .6-.7 .7-.5 .5-.9 .8-.4 .4-1 .9-.3 .3-1.1 .9-.2 .2-1.3 1-.2 .1-1.1 .7-1.2 .6-.2 0-1.1 .5-1.3 .5-.7 .3-.6 .3-1.3 .8-.2 .2-1 1-.3 .3-.8 1.2-.2 .4-.5 .9-.4 1.3-.3 1.3-.1 .7-.1 .6 0 1.2 0 1.3 .1 1 0 .3 .2 1.3 .4 1.3 .4 1.3 .3 .7 .2 .5 .6 1.3 .5 .9 .2 .4 .7 1.3 .3 .5 .5 .8 .8 1.2 .1 .1 .8 1.2 .4 .6 .5 .7 .8 1 .3 .3 1 1.1 .2 .2 1 1.1 .2 .2 1.1 1.1 .2 .1 1.1 1.1 .3 .2 1 1 .4 .3 .9 .7 .7 .6-.7 0-1.3 0-1.3 0-.7 0-.6-.6-.6-.7-.7-.6-.5-.7-.7-.7-.5-.6-.8-.9-.3-.3-1-1.2-.1-.1-1-1.3-.2-.2-.7-1.1-.6-.7-.3-.6-.9-1.2 0-.1-.8-1.2-.5-.8-.4-.5-.7-1.3-.2-.3-.5-1-.7-1.3-.1-.3 0-.9 0-1.3 0-1.3 0-1.3 0-1.3 0-1.3 0-1.2 0-1.3 0-1.3 0-1.3 0-1.3 0-1.2 0-1.3 0-.5 .5-.8 .8-.9 .4-.4 .9-.6 1.3-.7 1.2-.1 1.3 0 1.3 .1 1.3-.1 1.3-.3 1.2-.6 .6-.3 .7-.4 1.1-.8 .2-.2 1.3-1.1 1.3-1.2 .1-.1 1.2-1.1 .2-.2 1-.8 .7-.5 .6-.4 1.3-.7 .3-.2 1-.5 1.3-.7 1.3-.8 .8-.5 .4-.4 1-.9 .3-.5 .6-.8 .4-1.3 .3-1.2 .2-1.3 .2-1.3 .3-1.3 .4-1.3 .2-.8 .1-.5-.1-1.2 0-.1-.6-1.2-.7-1.1-.1-.2-.6-1.3-.3-1.3 0-1.3 .5-1.2 .5-.7 1-.6z" fill="#05b6ce" stroke="#05b6ce" stroke-width="0.3" fill-rule="evenodd"/>
<path d="M275.5 271.6l1.2-.5 1.3-.1 1.3 0 1.3 .1 1.3 .2 .9 .3 .4 .3 1.2 1 .1 0 1.2 1.1 .4 .2 .9 .6 1.3 .7 1.3 .7 1.1 .6 .2 .1 1.2 1 .2 .2 .8 1.2 .3 .6 .3 .7 .7 1.3 .3 .4 .5 .9 .8 1.1 .1 .2 .8 1.3 .4 .5 .5 .7 .7 1 .3 .3 .9 1.3 .1 .3 .5 1 .6 1.3 .2 .5 .3 .7 .7 1.3 .3 .8 .2 .5 .5 1.3 .4 1.3 .2 1 0 .3 .2 1.2 .1 1.3 0 1.3 .1 1.3 .2 1.3 .1 1.3 .2 1.2 0 1.3 .1 1.3 .2 1.3 .1 .3 .1 1 .2 1.2 0 1.3-.2 1.3-.1 .6-.2 .7-.4 1.3-.6 1.3-.1 .3-.4 .9-.4 1.3-.4 1.3-.1 .3-.4 1-.7 1.3-.2 .2-.8 1.1-.5 .7-.4 .5-.8 1.3 .2 1.3 1 1.3 0 .1 .8 1.2 .5 .8 .3 .4 .9 1.3 .1 .2 .7 1.1 .6 1.3-1.3 0-1.1 0-.2-.3-.4-1-.8-1.3-.1-.2-.8-1.1-.5-.5-.8-.7-.4-.3-1.3-.6-.7-.4-.6-.6-.3-.7 .3-1.1 .1-.2 1.2-1 .3-.3 1-.5 .9-.7 .3-.3 1.1-1 .2-.3 .7-1 .6-1.3 0-.1 .4-1.2 .3-1.3 .4-1.2 .2-.7 .2-.6 .4-1.3 .4-1.3 .2-1.3 .1-1.3-.1-1.2-.1-1.3-.1-1.3-.1-1.3-.2-1.3-.1-1.2-.2-1.3-.2-1.3-.1-1.3-.1-1.3-.1-1.3-.3-1.2-.3-1.3-.4-1.3-.2-.3-.4-1-.8-1.3-.1-.1-.7-1.2-.6-.8-.3-.4-.9-1.3-.1 0-1.1-1.3-.1-.2-.9-1.1-.4-.6-.5-.7-.7-1.2-.1-.3-.6-1-.7-1-.2-.3-1-1.2-.1-.1-1.2-1.2-.2-.1-1.1-.7-1.3-.5-.7-.1-.6 0-.4 0-.9 .2-1.2 .7-.6 .4-.7 .4-1.2 .9-.1 .1-1.3 .9-.4 .3-.9 .7-.5 .6-.8 1.1 0 .2-.6 1.2-.6 1-.2 .3-.9 1.3-.2 .2-1 1.1-.3 .2-1.3 1-.1 .1-1.2 .7-.9 .5-.3 .3-1.3 .8-.4 .2-.9 .6-1.1 .7-.2 .2-1.3 .9-.2 .2-1.1 .8-.4 .5-.8 .7-.6 .6-.7 .7-.6 .5-.7 .8-.6 .5-.7 .7-.7 .6-.6 .5-1.1 .8-.2 .1-1.2 1-.3 .2-1 .7-.7 .6-.6 .5-.7 .7-.6 .7-.5 .6-.8 1.3-.5 1.3-.4 1.3-.3 1.2 0 1.2-.1 .1 .1 .6 0 .7 .1 1.3 .2 1.3 .4 1.3 .4 1.2 .1 .3 .5 1 .6 1.3 .2 .3 .6 1 .7 1.2 0 .1 .8 1.3 .5 .6 .4 .6 .9 1 .2 .3 1 1 .3 .3 1 .9 .4 .4 .9 .8 .6 .5 .7 .6 .9 .6 .4 .3 1.3 .9 .2 .1 1 .7 1 .6 .3 .2 1.3 .7 .7 .4-.7 0-1.3 0-1.3 0-1.2 0-.6 0-.7-.6-.9-.7-.4-.3-1-1-.3-.2-1.1-1.1-.2-.1-1.1-1.1-.2-.2-1-1.1-.2-.2-1-1.1-.3-.3-.8-1-.5-.7-.4-.6-.8-1.2-.1-.1-.8-1.2-.5-.8-.3-.5-.7-1.3-.2-.4-.5-.9-.6-1.3-.2-.5-.3-.7-.4-1.3-.4-1.3-.2-1.3 0-.3-.1-1 0-1.3 0-1.2 .1-.6 .1-.7 .3-1.3 .4-1.3 .5-.9 .2-.4 .8-1.2 .3-.3 1-1 .2-.2 1.3-.8 .6-.3 .7-.3 1.3-.5 1.1-.5 .2 0 1.2-.6 1.1-.7 .2-.1 1.3-1 .2-.2 1.1-.9 .3-.3 1-.9 .4-.4 .9-.8 .5-.5 .7-.7 .9-.6 .4-.3 1.3-.8 .2-.2 1.1-.6 1.1-.7 .2-.1 1.3-.7 .6-.4 .6-.4 1.3-.9 0-.1 1.3-1.2 .8-1.3 .5-1.2 0-.1 .4-1.2 .3-1.3 .3-1.3 .3-.5 .6-.8 .6-.9 .4-.4 .7-1.3 .1-1.2-.6-1.3-.6-.6-.6-.7-.6-.6-.5-.7-.2-1.3 .7-1.3z" fill="#06bcc0" stroke="#06bcc0" stroke-width="0.3" fill-rule="evenodd"/>
<path d="M285.7 279.3l.6 0 .7 .1 1.3 .5 1.1 .7 .2 .1 1.2 1.2 .1 .1 1 1.2 .2 .3 .7 1 .6 1 .1 .3 .7 1.2 .5 .7 .4 .6 .9 1.1 .1 .2 1.1 1.3 .1 0 .9 1.3 .3 .4 .6 .8 .7 1.2 .1 .1 .8 1.3 .4 1 .2 .3 .4 1.3 .3 1.3 .3 1.2 .1 1.3 .1 1.3 .1 1.3 .2 1.3 .2 1.3 .1 1.2 .2 1.3 .1 1.3 .1 1.3 .1 1.3 .1 1.2-.1 1.3-.2 1.3-.4 1.3-.4 1.3-.2 .6-.2 .7-.4 1.2-.3 1.3-.4 1.2 0 .1-.6 1.3-.7 1-.2 .3-1.1 1-.3 .3-.9 .7-1 .5-.3 .3-1.2 1-.1 .2-.3 1.1 .3 .7 .6 .6 .7 .4 1.3 .6 .4 .3 .8 .7 .5 .5 .8 1.1 .1 .2 .8 1.3 .4 1 .2 .3-.2 0-1.3 0-.8 0-.5-1.1 0-.2-.8-1.3-.4-.5-.7-.8-.6-.4-1.2-.8-.1-.1-1-1.2-.3-.8-.1-.5 .1-1 .1-.3 .7-1.3 .5-.5 .9-.7 .4-.3 1.3-.8 .3-.2 .9-.8 .5-.5 .7-1.3 .1-.3 .3-1 .3-1.3 .3-1.2 .3-1.3 .1-.3 .3-1 .4-1.3 .2-1.3 .2-1.3 .1-1.2 0-1.3-.2-1.3-.1-1.3-.2-1.3-.2-1.2-.2-1.3-.1-1.3-.2-1.2 0-.1-.1-1.3-.2-1.3-.3-1.2-.4-1.3-.3-.5-.3-.8-.8-1.3-.2-.2-.7-1.1-.5-.6-.7-.7-.6-.5-1.1-.7-.2-.2-1.3-.8-.5-.3-.8-.6-.7-.7-.5-.6-.9-.7-.4-.4-1.3-.8-.2-.1-1.1-.5-1.3-.4-1.3-.2-1.2-.1-1.3 0-1.3 .3-1.3 .6-.4 .3-.9 .7-.6 .6-.7 .6-.6 .7-.6 .6-.8 .7-.5 .4-1.1 .9-.2 .1-1.3 .9-.4 .2-.9 .6-1.1 .7-.1 .1-1.3 .9-.5 .3-.8 .6-.9 .7-.4 .3-1.3 1-1.3 1.1-.1 .2-1.1 1.1-.2 .1-1.1 1.3-1.2 1.3-.1 .2-1.1 1.1-.2 .3-.9 1-.4 .3-.9 1-.4 .3-1 .9-.2 .3-1.1 1-.2 .3-.8 1-.5 .8-.3 .5-.6 1.3-.4 1.2 0 .1-.2 1.2-.1 1.3 .1 1.3 .1 1.3 .1 .4 .2 .9 .4 1.2 .5 1.3 .2 .5 .4 .8 .7 1.3 .2 .4 .5 .9 .8 1 .1 .3 1.1 1.2 0 .1 1.3 1.2 .1 0 1.2 1.1 .3 .2 1 .8 .7 .5 .6 .4 1.3 .8 .2 .1 1 .6 1.3 .6 .2 0 1.1 .5 1.3 .5 .9 .3 .4 .2 1.3 .5 1.2 .6 .1 0 1.2 .8 .5 .5-.5 0-1.3 0-1.2 0-1.3 0-1.3 0-.6 0-.7-.4-1.3-.7-.3-.2-1-.6-1-.7-.2-.1-1.3-.9-.4-.3-.9-.6-.7-.6-.6-.5-.9-.8-.4-.4-1-.9-.3-.3-1-1-.2-.3-.9-1-.4-.6-.5-.6-.8-1.3 0-.1-.7-1.2-.6-1-.2-.3-.6-1.3-.5-1-.1-.3-.4-1.2-.4-1.3-.2-1.3-.1-1.3 0-.7-.1-.6 .1-.1 0-1.2 .3-1.2 .4-1.3 .5-1.3 .8-1.3 .5-.6 .6-.7 .7-.7 .6-.5 .7-.6 1-.7 .3-.2 1.2-1 .2-.1 1.1-.8 .6-.5 .7-.6 .7-.7 .6-.5 .7-.8 .6-.5 .7-.7 .6-.6 .8-.7 .4-.5 1.1-.8 .2-.2 1.3-.9 .2-.2 1.1-.7 .9-.6 .4-.2 1.3-.8 .3-.3 .9-.5 1.2-.7 .1-.1 1.3-1 .3-.2 1-1.1 .2-.2 .9-1.3 .2-.3 .6-1 .6-1.2 0-.2 .8-1.1 .5-.6 .9-.7 .4-.3 1.3-.9 .1-.1 1.2-.9 .7-.4 .6-.4 1.2-.7 .9-.2z" fill="#1fc0b2" stroke="#1fc0b2" stroke-width="0.3" fill-rule="evenodd"/>
<path d="M279.3 286.7l1.3-.6 1.3-.3 1.3 0 1.2 .1 1.3 .2 1.3 .4 1.1 .5 .2 .1 1.3 .8 .4 .4 .9 .7 .5 .6 .7 .7 .8 .6 .5 .3 1.3 .8 .2 .2 1.1 .7 .6 .5 .7 .7 .5 .6 .7 1.1 .2 .2 .8 1.3 .3 .8 .3 .5 .4 1.3 .3 1.2 .2 1.3 .1 1.3 0 .1 .2 1.2 .1 1.3 .2 1.3 .2 1.2 .2 1.3 .1 1.3 .2 1.3 0 1.3-.1 1.2-.2 1.3-.2 1.3-.4 1.3-.3 1-.1 .3-.3 1.3-.3 1.2-.3 1.3-.3 1-.1 .3-.7 1.3-.5 .5-.9 .8-.3 .2-1.3 .8-.4 .3-.9 .7-.5 .5-.7 1.3-.1 .3-.1 1 .1 .5 .3 .8 1 1.2 .1 .1 1.2 .8 .6 .4 .7 .8 .4 .5 .8 1.3 0 .2 .5 1.1-.5 0-1.2 0-.4 0-.5-1.3-.4-.7-.4-.6-.9-1-.2-.3-1.1-1.2-.6-1.3-.3-1.3 .1-1.3 .4-1.3 .4-.9 .3-.3 1-1.1 .3-.2 1-.7 .9-.6 .4-.3 .9-1 .3-1 .1-.3 .3-1.3 .2-1.2 .3-1.3 .4-1.3 0-.1 .4-1.2 .3-1.3 .3-1.3 .1-1.2 .1-1.3-.1-1.3-.2-1.3-.2-1.3-.2-1.2-.2-1.3-.2-1.3-.1-.5-.1-.8-.2-1.3-.2-1.3-.4-1.2-.4-1-.1-.3-.7-1.3-.4-.6-.6-.7-.7-.7-.6-.6-.7-.5-1.2-.8-.1 0-1.3-.7-.9-.5-.3-.3-1.3-1-1.3-.8-1.3-.5-.1 0-1.2-.4-1.3-.3-1.2-.2-1.3-.1-1.3 .2-1.3 .4-.7 .4-.6 .3-1.3 .8-.2 .2-1 .7-.7 .6-.6 .4-1.2 .8-.1 .1-1.3 .8-.6 .4-.7 .5-1.1 .8-.1 .1-1.3 1-.3 .2-1 .8-.6 .5-.7 .5-.8 .8-.5 .3-.9 .9-.4 .4-.8 .9-.4 .6-.6 .7-.7 .9-.3 .4-1 1.3-1 1.3-.3 .3-.8 .9-.5 .6-.7 .7-.6 .6-.6 .7-.6 .8-.4 .5-.7 1.3-.2 .5-.3 .7-.4 1.3-.1 1.3-.1 1.3 .1 1.3 .2 1.3 .4 1.2 .2 .7 .2 .6 .5 1.3 .6 1 .1 .3 .8 1.3 .3 .4 .8 .9 .5 .5 .9 .7 .4 .4 1.2 .9 .1 .1 1.3 .8 .7 .4 .6 .3 1.2 .6 1 .4 .3 .1 1.3 .4 1.3 .4 1.3 .2 .8 .2 .5 0 1.2 .3 1.3 .3 1.3 .5 .3 .1 1 .9 .3 .4 .9 1.3 .1 .1 .5 1.2-.5 0-1.3 0-1.3 0-.8 0-.5-.5-1.2-.8-.1 0-1.2-.6-1.3-.5-.4-.2-.9-.3-1.3-.5-1.1-.5-.2 0-1.3-.6-1-.6-.2-.1-1.3-.8-.6-.4-.7-.5-1-.8-.3-.2-1.2-1.1-.1 0-1.3-1.2 0-.1-1.1-1.2-.1-.3-.8-1-.5-.9-.2-.4-.7-1.3-.4-.8-.2-.5-.5-1.3-.4-1.2-.2-.9-.1-.4-.1-1.3-.1-1.3 .1-1.3 .2-1.2 0-.1 .4-1.2 .6-1.3 .3-.5 .5-.8 .8-1 .2-.3 1.1-1 .2-.3 1-.9 .4-.3 .9-1 .4-.3 .9-1 .2-.3 1.1-1.1 .1-.2 1.2-1.3 1.1-1.3 .2-.1 1.1-1.1 .1-.2 1.3-1.1 1.3-1 .4-.3 .9-.7 .8-.6 .5-.3 1.3-.9 .1-.1 1.1-.7 .9-.6 .4-.2 1.3-.9 .2-.1 1.1-.9 .5-.4 .8-.7 .6-.6 .6-.7 .7-.6 .6-.6 .9-.7z" fill="#2fc5a2" stroke="#2fc5a2" stroke-width="0.3" fill-rule="evenodd"/>
<path d="M279.3 289.2l1.3-.4 1.3-.2 1.3 .1 1.2 .2 1.3 .3 1.2 .4 .1 0 1.3 .5 1.3 .8 1.3 1 .3 .3 .9 .5 1.3 .7 .1 0 1.2 .8 .7 .5 .6 .6 .7 .7 .6 .7 .4 .6 .7 1.3 .1 .3 .4 1 .4 1.2 .2 1.3 .2 1.3 .1 .8 .1 .5 .2 1.3 .2 1.3 .2 1.2 .2 1.3 .2 1.3 .1 1.3-.1 1.3-.1 1.2-.3 1.3-.3 1.3-.4 1.2 0 .1-.4 1.3-.3 1.3-.2 1.2-.3 1.3-.1 .3-.3 1-.9 1-.4 .3-.9 .6-1 .7-.3 .2-1 1.1-.3 .3-.4 .9-.4 1.3-.1 1.3 .3 1.3 .6 1.3 1.1 1.2 .2 .3 .9 1 .4 .6 .4 .7 .5 1.3-.9 0-1.3 0 0-.2-.3-1.1-.6-1.3-.4-.5-.4-.8-.7-1.2-.2-.6-.2-.7-.2-1.3 0-1.3 .2-1.3 .2-.7 .3-.5 .7-1.3 .3-.6 .7-.7 .6-.7 .7-.6 .6-.7 .4-.6 .4-1.3 .4-1.2 .1-.2 .3-1.1 .4-1.3 .4-1.3 .1-.3 .3-1 .4-1.3 .2-1.2 .1-1.3 0-1.3-.2-1.3-.3-1.3-.2-1.2-.2-1.3-.1-.6-.1-.7-.1-1.3-.2-1.3-.3-1.3-.4-1.2-.1-.2-.6-1.1-.7-1-.3-.3-1-1.1-.3-.2-1-.8-.6-.5-.7-.4-1.2-.9-1.3-.9-.7-.3-.6-.4-1.3-.4-1.3-.3-1.2-.2-.1 0-1.2-.2-1.3-.1-1.3 .1-.8 .2-.5 .1-1.3 .5-1.3 .6 0 .1-1.2 .8-.7 .4-.6 .5-1.2 .8-.1 .1-1.3 .9-.5 .3-.8 .6-.8 .7-.4 .3-1.2 1-.1 .1-1.3 1.1-.1 .1-1.2 1.1-.2 .1-1.1 1.2-.1 .1-1.1 1.3-.1 .1-.9 1.2-.3 .5-.6 .8-.7 .9-.3 .4-1 1.2-1.1 1.3-.2 .2-.9 1.1-.4 .4-.7 .9-.6 .9-.2 .4-.6 1.2-.4 1.3 0 .2-.3 1.1-.1 1.3 .1 1.3 .1 1.3 .2 .6 .1 .6 .4 1.3 .5 1.3 .2 .5 .5 .8 .8 1.1 .2 .2 1.1 1.1 .3 .2 1 .7 .8 .5 .5 .3 1.3 .7 .8 .3 .4 .2 1.3 .5 1.3 .3 1.3 .2 .8 .1 .5 .1 1.3 0 1.2 .1 1.3 .1 1.3 .2 1.3 .3 .8 .5 .5 .3 .6 1 .6 1 .1 .2 .6 1.3 .6 1.3 .5 1.3-.5 0-1.3 0-.7 0-.5-1.2-.1-.1-.9-1.3-.3-.4-1-.9-.3-.1-1.3-.5-1.3-.3-1.2-.3-.5 0-.8-.2-1.3-.2-1.3-.4-1.3-.4-.3-.1-1-.4-1.2-.6-.6-.3-.7-.4-1.3-.8-.1-.1-1.2-.9-.4-.4-.9-.7-.5-.5-.8-.9-.3-.4-.8-1.3-.1-.3-.6-1-.5-1.3-.2-.6-.2-.7-.4-1.2-.2-1.3-.1-1.3 .1-1.3 .1-1.3 .4-1.3 .3-.7 .2-.5 .7-1.3 .4-.5 .6-.8 .6-.7 .6-.6 .7-.7 .5-.6 .8-.9 .3-.3 1-1.3 1-1.3 .3-.4 .7-.9 .6-.7 .4-.6 .8-.9 .4-.4 .9-.9 .5-.3 .8-.8 .7-.5 .6-.5 1-.8 .3-.2 1.3-1 .1-.1 1.1-.8 .7-.5 .6-.4 1.3-.8 .1-.1 1.2-.8 .6-.4 .7-.6 1-.7 .2-.2 1.3-.8 .6-.3z" fill="#3dc990" stroke="#3dc990" stroke-width="0.3" fill-rule="evenodd"/>
<path d="M280.6 290.7l1.3-.1 1.3 .1 1.2 .2 .1 0 1.2 .2 1.3 .3 1.3 .4 .6 .4 .7 .3 1.3 .9 1.2 .9 .7 .4 .6 .5 1 .8 .3 .2 1 1.1 .3 .3 .7 1 .6 1.1 .1 .2 .4 1.2 .3 1.3 .2 1.3 .1 1.3 .1 .7 .1 .6 .2 1.3 .2 1.2 .3 1.3 .2 1.3 0 1.3-.1 1.3-.2 1.2-.4 1.3-.3 1-.1 .3-.4 1.3-.4 1.3-.3 1.1-.1 .2-.4 1.2-.4 1.3-.4 .6-.6 .7-.7 .6-.6 .7-.7 .7-.3 .6-.7 1.3-.3 .5-.2 .7-.2 1.3 0 1.3 .2 1.3 .2 .7 .2 .6 .7 1.2 .4 .8 .4 .5 .6 1.3 .3 1.1 0 .2-1.3 0-.8 0-.2-1.3-.3-1.1 0-.2-.4-1.3-.4-1.2-.2-1.3-.2-1.3 0-1.1-.1-.2 .1-.2 0-1.1 .3-1.2 .5-1.3 .4-1.2 .1-.1 .5-1.3 .5-1.3 .2-.5 .4-.8 .7-1.2 .2-.4 .4-.9 .6-1.3 .3-.5 .3-.8 .5-1.3 .5-1.1 0-.2 .3-1.2 .2-1.3 0-1.3-.2-1.3-.3-1.3 0-.4-.2-.8-.2-1.3-.1-1.3-.2-1.3-.1-1.3-.3-1.3-.2-.4-.4-.8-.9-1.3-1.2-1.3-.1-.1-1.3-1.2-1.2-1.1-.3-.2-1-.8-1-.5-.3-.1-1.3-.3-1.3-.2-1.3-.2-1.2-.1-1.3-.1-1.3 .1-1.3 .1-1.3 .3-1.1 .5-.2 .1-1.2 1-.4 .2-.9 .8-.8 .5-.5 .4-1.2 .9-.1 .1-1.3 1-.2 .2-1 .9-.4 .4-.9 .8-.5 .4-.8 .9-.4 .4-.9 1-.3 .3-1 1.2 0 .1-1 1.3-.3 .3-.8 1-.4 .5-.6 .7-.7 .8-.5 .5-.8 1-.3 .3-.9 1.3-.1 0-.8 1.3-.5 .9-.2 .3-.5 1.3-.3 1.3-.1 1.3 0 1.3 .1 1.3 .2 1.2 .3 1.3 .5 1.2 .1 .1 .8 1.3 .4 .4 1 .9 .3 .2 1.3 .8 .4 .3 .9 .4 1.2 .5 1.3 .3 1.3 .3 1.3 .2 1.3 .1 1.3 0 1.2 0 1.3 .1 1.3 0 1.3 .2 1.3 .3 .3 .1 .9 .6 .5 .7 .5 1.3 .3 .8 .2 .5 .5 1.2 .6 1.3 .5 1.3 .6 1.3-1.1 0-.8 0-.5-1.3-.6-1.3-.6-1.3-.1-.2-.6-1-.6-1-.5-.3-.8-.5-1.3-.3-1.3-.2-1.3-.1-1.2-.1-1.3 0-.5-.1-.8-.1-1.3-.2-1.3-.3-1.3-.5-.4-.2-.8-.3-1.3-.7-.5-.3-.8-.5-1-.7-.3-.2-1.1-1.1-.2-.2-.8-1.1-.5-.8-.2-.5-.5-1.3-.4-1.3-.1-.6-.2-.6-.1-1.3-.1-1.3 .1-1.3 .3-1.1 0-.2 .4-1.3 .6-1.2 .2-.4 .6-.9 .7-.9 .4-.4 .9-1.1 .2-.2 1.1-1.3 1-1.2 .3-.4 .7-.9 .6-.8 .3-.5 .9-1.2 .1-.1 1.1-1.3 .1-.1 1.1-1.2 .2-.1 1.2-1.1 .1-.1 1.3-1.1 .1-.1 1.2-1 .4-.3 .8-.7 .8-.6 .5-.3 1.3-.9 .1-.1 1.2-.8 .6-.5 .7-.4 1.2-.8 0-.1 1.3-.6 1.3-.5 .5-.1z" fill="#55cc7c" stroke="#55cc7c" stroke-width="0.3" fill-rule="evenodd"/>
<path d="M278 292.9l1.3-.3 1.3-.1 1.3-.1 1.3 .1 1.2 .1 1.3 .2 1.3 .2 1.3 .3 .3 .1 1 .5 1 .8 .3 .2 1.2 1.1 1.3 1.2 .1 .1 1.2 1.3 .9 1.3 .4 .8 .2 .4 .3 1.3 .1 1.3 .2 1.3 .1 1.3 .2 1.3 .2 .8 0 .4 .3 1.3 .2 1.3 0 1.3-.2 1.3-.3 1.2 0 .2-.5 1.1-.5 1.3-.3 .8-.3 .5-.6 1.3-.4 .9-.2 .4-.7 1.2-.4 .8-.2 .5-.5 1.3-.5 1.3-.1 .1-.4 1.2-.5 1.3-.3 1.2 0 1.1-.1 .2 .1 .2 0 1.1 .2 1.3 .2 1.3 .4 1.2 .4 1.3 0 .2 .3 1.1 .2 1.3-.5 0-1.2 0-.7 0 .3-1.3 0-1.3-.1-1.3-.1-1.2-.1-1.3-.2-1.3-.1-1.3 0-1.3 .2-1.2 .3-1.3 .3-1.3 .2-.9 0-.4 .2-1.3 .2-1.3 .4-1.2 .4-1.1 .2-.2 .6-1.3 .5-1.1 .1-.2 .6-1.3 .6-1.3 .4-1.2 .3-1.3-.1-1.3-.2-1.3-.3-1.3-.1-.9-.1-.3-.1-1.3-.1-1.3 0-1.3-.1-1.3-.4-1.3-.5-.7-.4-.5-.9-1.1-.1-.2-1.1-1.3-.1 0-1.1-1.3-.1-.1-1.3-.9-1.3-.2-1.3-.1-.6 0-.7 0-1.2 0-1.3-.1-1.3-.1-1.3 0-1.3 .2-1.3 .8-.6 .5-.6 .5-1 .8-.3 .3-1.2 1-.1 0-1.3 1.1-.1 .2-1.2 1-.2 .2-1 1.1-.2 .2-1.1 1.2-.1 .1-1.1 1.3-.1 .1-1.1 1.2-.2 .2-.9 1.1-.4 .3-.9 .9-.4 .4-.8 .9-.4 .4-.8 .9-.5 .6-.6 .7-.7 1-.2 .3-.7 1.2-.4 .9-.1 .4-.4 1.3-.2 1.3-.1 1.3 .1 1.3 .2 1.2 .4 1.3 .1 .3 .6 1 .7 .8 .6 .5 .7 .4 1.3 .7 .3 .2 .9 .3 1.3 .4 1.3 .2 1.3 .2 1.3 0 1.3 .1 1.2 0 1.3 0 1.2 .1 .1 0 1.3 .1 1.3 .3 1.2 .5 .6 .3 .7 .6 .5 .7 .5 1.3 .2 1.3 .1 .4 .2 .9 .5 1.2 .6 1.1 .1 .2 .7 1.3 .5 .8 .4 .5-.4 0-1.3 0-.2 0-.6-1.3-.5-1.3-.6-1.3-.5-1.2-.2-.5-.3-.8-.5-1.3-.5-.7-.9-.6-.3-.1-1.3-.3-1.3-.2-1.3 0-1.3-.1-1.2 0-1.3 0-1.3-.1-1.3-.2-1.3-.3-1.3-.3-1.2-.5-.9-.4-.4-.3-1.3-.8-.3-.2-1-.9-.4-.4-.8-1.3-.1-.1-.5-1.2-.3-1.3-.2-1.2-.1-1.3 0-1.3 .1-1.3 .3-1.3 .5-1.3 .2-.3 .5-.9 .8-1.3 .1 0 .9-1.3 .3-.3 .8-1 .5-.5 .7-.8 .6-.7 .4-.5 .8-1 .3-.3 1-1.3 0-.1 1-1.2 .3-.3 .9-1 .4-.4 .8-.9 .5-.4 .9-.8 .4-.4 1-.9 .2-.2 1.3-1 .1-.1 1.2-.9 .5-.4 .8-.5 .9-.8 .4-.2 1.2-1 .2-.1z" fill="#71cd64" stroke="#71cd64" stroke-width="0.3" fill-rule="evenodd"/>
<path d="M278 294.7l1.3-.2 1.3 0 1.3 .1 1.3 .1 1.2 0 .7 0 .6 0 1.3 .1 1.3 .2 1.3 .9 .1 .1 1.1 1.3 .1 0 1.1 1.3 .1 .2 .9 1.1 .4 .5 .5 .7 .4 1.3 .1 1.3 0 1.3 .1 1.3 .1 1.3 .1 .3 .1 .9 .3 1.3 .2 1.3 .1 1.3-.3 1.3-.4 1.2-.6 1.3-.6 1.3-.1 .2-.5 1.1-.6 1.3-.2 .2-.4 1.1-.4 1.2-.2 1.3-.2 1.3 0 .4-.2 .9-.3 1.3-.3 1.3-.2 1.2 0 1.3 .1 1.3 .2 1.3 .1 1.3 .1 1.2 .1 1.3 0 1.3-.3 1.3-.6 0-1.3 0-1.3 0-1.3 0-1.3 0-1.2 0-.9 0-.4-.5-.5-.8-.7-1.3-.1-.2-.6-1.1-.5-1.2-.2-.9-.1-.4-.2-1.3-.5-1.3-.5-.7-.7-.6-.6-.3-1.2-.5-1.3-.3-1.3-.1-.1 0-1.2-.1-1.3 0-1.2 0-1.3-.1-1.3 0-1.3-.2-1.3-.2-1.3-.4-.9-.3-.3-.2-1.3-.7-.7-.4-.6-.5-.7-.8-.6-1-.1-.3-.4-1.3-.2-1.2-.1-1.3 .1-1.3 .2-1.3 .4-1.3 .1-.4 .4-.9 .7-1.2 .2-.3 .7-1 .6-.7 .5-.6 .8-.9 .4-.4 .8-.9 .4-.4 .9-.9 .4-.3 .9-1.1 .2-.2 1.1-1.2 .1-.1 1.1-1.3 .1-.1 1.1-1.2 .2-.2 1-1.1 .2-.2 1.2-1 .1-.2 1.3-1.1 .1 0 1.2-1 .3-.3 1-.8 .6-.5 .6-.5 1.3-.8zM277.3 299.9l-.6 .1-1.2 .9-.4 .2-.9 .7-.7 .6-.6 .5-.8 .8-.5 .4-.9 .9-.4 .3-1 1-.2 .2-1.3 1-.1 .1-1.2 .9-.4 .3-.9 .7-.8 .6-.5 .4-.9 .9-.4 .3-.9 1-.3 .4-.7 .9-.6 .9-.2 .3-.7 1.3-.4 1.2 0 .1-.3 1.3-.1 1.3 .1 1.3 .3 1.2 0 .1 .7 1.2 .6 .7 .7 .6 .6 .4 1.2 .5 1.3 .4 1.3 .2 1.3 .2 1.3 .1 1.3 .1 1.2 0 1.3 .1 1.3 0 1.3 .2 1.3 .2 .3 .2 .9 .3 1.3 .8 .2 .2 1.1 1.1 .1 .1 .6 1.3 .2 1.3 .2 1.3 .2 1.1 0 .2 .6 1.2 .7 1.1 .2 .2 1.1 1.2 .1 .1 1.1 .8 1.3 .3 1.3-.2 1.1-.9 .2-.2 .4-1.1 .3-1.3 .1-1.2 0-1.3-.2-1.3-.1-1.3 0-1.3 .1-1.2 .2-1.3 .2-1.3 .1-1.3 .1-1.3 .1-1.3 0-.2 .1-1 .2-1.3 .2-1.3 .3-1.3 .2-1.3 .2-1.3-.1-1.2-.5-1.3-.6-.8-.6-.5-.7-.4-1.3-.7-.2-.2-1.1-.7-.7-.6-.6-.5-.8-.7-.4-.6-.7-.7-.6-.8-.5-.5-.7-1.3-.1-.3-.4-1-.5-1.3-.4-.9-.4-.3-.9-.3z" fill="#90ca4d" stroke="#90ca4d" stroke-width="0.3" fill-rule="evenodd"/>
<path d="M278 299.6l.9 .3 .4 .3 .4 .9 .5 1.3 .4 1 .1 .3 .7 1.3 .5 .5 .6 .8 .7 .7 .4 .6 .8 .7 .6 .5 .7 .6 1.1 .7 .2 .2 1.3 .7 .7 .4 .6 .5 .6 .8 .5 1.3 .1 1.2-.2 1.3-.2 1.3-.3 1.3-.2 1.3-.2 1.3-.1 1 0 .2-.1 1.3-.1 1.3-.1 1.3-.2 1.3-.2 1.3-.1 1.2 0 1.3 .1 1.3 .2 1.3 0 1.3-.1 1.2-.3 1.3-.4 1.1-.2 .2-1.1 .9-1.3 .2-1.3-.3-1.1-.8-.1-.1-1.1-1.2-.2-.2-.7-1.1-.6-1.2 0-.2-.2-1.1-.2-1.3-.2-1.3-.6-1.3-.1-.1-1.1-1.1-.2-.2-1.3-.8-.9-.3-.3-.2-1.3-.2-1.3-.2-1.3 0-1.3-.1-1.2 0-1.3-.1-1.3-.1-1.3-.2-1.3-.2-1.3-.4-1.2-.5-.6-.4-.7-.6-.6-.7-.7-1.2 0-.1-.3-1.2-.1-1.3 .1-1.3 .3-1.3 0-.1 .4-1.2 .7-1.3 .2-.3 .6-.9 .7-.9 .3-.4 .9-1 .4-.3 .9-.9 .5-.4 .8-.6 .9-.7 .4-.3 1.2-.9 .1-.1 1.3-1 .2-.2 1-1 .4-.3 .9-.9 .5-.4 .8-.8 .6-.5 .7-.6 .9-.7 .4-.2 1.2-.9 .6-.1zM274.8 308.8l-.6 .1-1.3 .3-1.3 .4-1.3 .4-.4 .1-.8 .2-1.3 .4-1.3 .7-.1 0-1.2 .8-.7 .5-.6 .5-.7 .8-.6 .7-.4 .5-.8 1.3 0 .2-.5 1.1-.4 1.3-.2 1.3 .2 1.3 .7 1.2 .2 .2 1.2 .9 .5 .2 .8 .3 1.3 .3 1.3 .3 1.3 .2 1.3 .2 1.2 .1 1.3 .1 1.3 .1 1.3 0 1.3 .3 1.2 .4 .7 .3 .6 .3 1.3 1 1.1 1.3 .2 .2 .5 1 .4 1.3 .1 1.3 0 1.3 .1 1.3 .2 .3 .7 .9 .6 .6 1.2 .6 1.3 0 1.3-1 .1-.2 .4-1.2 .1-1.3 0-1.3-.1-1.3-.1-1.3 0-1.2 .1-1.3 .2-1.3 .1-1.3 0-1.3-.1-1.3-.1-1.2-.1-1.3-.1-1.3-.1-1.3-.3-1.1 0-.2-.7-1.3-.6-.6-.6-.6-.7-.6-.9-.7-.3-.2-1.3-.9-.3-.2-1-.7-1.1-.6-.2-.1-1.3-.7-1.3-.4-.8-.1-.4 0z" fill="#adc638" stroke="#adc638" stroke-width="0.3" fill-rule="evenodd"/>
<path d="M275.5 308.8l.4 0 .8 .1 1.3 .4 1.3 .7 .2 .1 1.1 .6 1 .7 .3 .2 1.3 .9 .3 .2 .9 .7 .7 .6 .6 .6 .6 .6 .7 1.3 0 .2 .3 1.1 .1 1.3 .1 1.3 .1 1.3 .1 1.2 .1 1.3 0 1.3-.1 1.3-.2 1.3-.1 1.3 0 1.2 .1 1.3 .1 1.3 0 1.3-.1 1.3-.4 1.2-.1 .2-1.3 1-1.3 0-1.2-.6-.6-.6-.7-.9-.2-.3-.1-1.3 0-1.3-.1-1.3-.4-1.3-.5-1-.2-.2-1.1-1.3-1.3-1-.6-.3-.7-.3-1.2-.4-1.3-.3-1.3 0-1.3-.1-1.3-.1-1.2-.1-1.3-.2-1.3-.2-1.3-.3-1.3-.3-.8-.3-.5-.2-1.2-.9-.2-.2-.7-1.2-.2-1.3 .2-1.3 .4-1.3 .5-1.1 0-.2 .8-1.3 .4-.5 .6-.7 .7-.8 .6-.5 .7-.5 1.2-.8 .1 0 1.3-.7 1.3-.4 .8-.2 .4-.1 1.3-.4 1.3-.4 1.3-.3 .6-.1zM270.1 312.7l-1 .3-1.3 .5-.9 .5-.4 .3-1.1 .9-.2 .3-.7 1-.6 1.1-.1 .2-.3 1.3 .1 1.3 .3 .5 .8 .8 .5 .2 1.3 .6 1 .4 .3 .1 1.3 .4 1.2 .3 1.3 .2 1.3 .1 1.3 0 1.3 .1 .5 .1 .7 .1 1.3 .4 1.3 .5 .6 .3 .7 .5 1 .8 .3 .2 1.1 1.1 .2 .3 1.2 .8 .3-1.1 .3-1.3 .2-1.3-.1-1.3-.2-1.3-.2-1.2-.3-1.3-.4-1.3-.6-1.3-.2-.3-.8-1-.5-.4-.9-.9-.4-.3-1.3-.9-1.3-.9-.9-.4-.4-.2-1.2-.3-1.3-.1-1.3 .1-1.3 .2-1.3 .2zM284.3 331.9l-.2 1.3-.1 1.3 .4 .5 .4-.5 0-1.3-.2-1.3-.2-.8z" fill="#c8c129" stroke="#c8c129" stroke-width="0.3" fill-rule="evenodd"/>
<path d="M270.3 312.6l1.3-.2 1.3-.2 1.3-.1 1.3 .1 1.2 .3 .4 .2 .9 .4 1.3 .9 1.3 .9 .4 .3 .9 .9 .5 .4 .8 1 .2 .3 .6 1.3 .4 1.3 .3 1.3 .2 1.2 .2 1.3 .1 1.3-.2 1.3-.3 1.3-.3 1.1-1.2-.8-.2-.3-1.1-1.1-.3-.2-1-.8-.7-.5-.6-.3-1.3-.5-1.3-.4-.7-.1-.5-.1-1.3-.1-1.3 0-1.3-.1-1.3-.2-1.2-.3-1.3-.4-.3-.1-1-.4-1.3-.6-.5-.2-.8-.8-.3-.5-.1-1.3 .3-1.3 .1-.2 .6-1.1 .7-1 .2-.3 1.1-.9 .4-.3 .9-.5 1.3-.5 1-.3zM269.8 315.2l-.7 .7-.6 .6-.4 1.3 0 1.3 .7 1.3 .3 .2 1.2 .9 .4 .2 .9 .2 1.3 .2 1.3 0 1.3-.1 1.2-.3 .2 0 1.1-.7 .7-.6 .1-1.3-.4-1.3-.4-.4-.5-.9-.8-.7-.6-.6-.6-.3-1.3-.5-1.3-.1-1.3 .2-1.3 .5zM284.4 331.1l.2 .8 .2 1.3 0 1.3-.4 .5-.4-.5 .1-1.3 .2-1.3z" fill="#e0bc2a" stroke="#e0bc2a" stroke-width="0.3" fill-rule="evenodd"/>
<path d="M270.3 315l1.3-.5 1.3-.2 1.3 .1 1.3 .5 .6 .3 .6 .6 .8 .7 .5 .9 .4 .4 .4 1.3-.1 1.3-.7 .6-1.1 .7-.2 0-1.2 .3-1.3 .1-1.3 0-1.3-.2-.9-.2-.4-.2-1.2-.9-.3-.2-.7-1.3 0-1.3 .4-1.3 .6-.6 .7-.7zM271.4 317.8l.2 1.3 1.3 .5 1.3-.5 .2-1.3-.2-.2-1.3-.7-1.3 .6z" fill="#f3ba39" stroke="#f3ba39" stroke-width="0.3" fill-rule="evenodd"/>
<path d="M271.6 317.5l1.3-.6 1.3 .7 .2 .2-.2 1.3-1.3 .5-1.3-.5-.2-1.3z" fill="#fec13a" stroke="#fec13a" stroke-width="0.3" fill-rule="evenodd"/>
<path d="M306.5 260.1l-.2 1.3-.1 .2-.3 1.1-.4 1.3-.5 .9-.2 .3-.8 1.3-.3 .5-.5 .8-.8 1-.2 .3-.7 1.3-.4 .7-.2 .5-.5 1.3-.4 1.3-.2 .4-.2 .9-.3 1.3 .2 1.3 .3 .5 .9 .7 .4 .4 1.3 .6 .8 .3 .5 .2 1.3 .6 .6 .5 .6 .5 .7 .8 .6 .9 .2 .4 .5 1.3 .5 1.2 .1 .3 .5 1 .7 1.3 .1 .2 .6 1.1 .6 1.3 .1 .1 .5 1.1 .6 1.3 .2 .5 .3 .8 .4 1.3 .3 1.3 .2 .9 .1 .4 .1 1.2 .1 1.3 0 1.3 0 1.3 0 1.3 0 1.3 .1 1.2 .2 1.3 .2 1.3 .2 1.3 .3 1.3 0 .1 .3 1.1 .3 1.3 .3 1.3 .2 1.3 .1 1.3 .1 1.3-.1 1.2-.3 1.3-.7 1.3-.2 .3-1 1-.3 .2-1.2 1-.1 .1-.3 1.3 .4 1.2 .6 1.3 .6 1.3 0 .1 .6 1.2 .5 1.3 .2 .5 .3 .7 .5 1.3 .5 1.3 .4 1.3M243.4 293.6l1.3 .1 1.3 .2 1.3 .4 .7 .4 .5 .3 1 1 .3 .2 1.3 .6 1.3-.7 .1-.1 .3-1.3-.4-1.2 0-.1-.2-1.2 .2-.1 1.3-.3 1.2-.4 1.3-.5 .1 0 1.2-.6 1.3-.7 1.3-.6 1.3-.5 .4-.2 .8-.4 1.3-.8 .1-.1 1-1.2 .2-1.3-.2-1.3-.5-1.3-.5-1.3-.1-.2-.4-1.1-.2-1.2 .1-1.3 .2-1.3 0-1.3-.4-1.3-.6-1.2 0-.1-.4-1.2-.2-1.3-.2-1.3 0-1.3 0-1.3 .2-1.2 .3-1.3 .3-1 .2-.3 .6-1.3" fill="none" stroke="#1a1a1a" stroke-width="0.6"/>
<path d="M243.4 300.1l.5-.2 .8-.3 1.3-.3 1.3 0 1.2 .1 1.3 .5 1.3 .4 1.3 0 1.3-.3 .3-.1 .9-.5 1.3-.8 0-.1 1.3-1 .2-.2 1.1-1 .3-.3 1-.9 .4-.4 .9-.7 .7-.6 .5-.3 1.3-.7 .5-.2 .8-.4 1.3-.7 .5-.2 .8-.5 1.1-.8 .2-.1 .8-1.2 .4-1 .1-.3 .3-1.2 .1-1.3 0-1.3 0-1.3-.1-1.3-.2-1.3-.2-.5-.2-.7-.3-1.3-.5-1.3-.2-.7-.2-.6-.4-1.3-.3-1.3-.1-1.2 .1-1.3 .4-1.3 .5-.8 .4-.5 .8-.6 1.3-.5 .7-.2 .6-.1 1.3 .1 .2 0 1.1 .2 1.2 .4 1.3 .5 .5 .2 .8 .4 1.3 .5 1 .4 .3 .1 1.3 .4 1.2 .3 1.3 .3 .6 .2 .7 .3 1.3 .9 0 .1 1.3 .8 .8 .4 .5 .3 1.2 .3 1.3 .3 1.2 .4 .1 .1 1.3 1 .1 .2 .5 1.3 .2 1.3-.1 1.3 .2 1.2 .4 .8 .2 .5 1 1.3 0 .1 1.3 1.1 .1 .1 1.2 .8 .9 .5 .4 .2 1.3 .9 .1 .2 .9 1.2 .3 1 .1 .3 .2 1.3 .4 1.3 .3 1.3 .2 .6 .3 .6 .4 1.3 .4 1.3 .2 .6 .3 .7 .3 1.3 .3 1.3 .1 1.2 .1 1.3 0 1.3 0 1.3 0 1.3 .1 1.3 .1 1.2 0 .1 .2 1.2 .2 1.3 .4 1.3 .3 1.3 .2 .7 .1 .5 .2 1.3 .1 1.3-.2 1.3-.2 1.1-.1 .2-.5 1.3-.7 1.2-.8 1.3-.5 .8-.2 .5-.6 1.3-.4 1.3-.1 .5-.1 .8 .1 1 .1 .2 1.2 1 .2 .3 .3 1.3 .2 1.3 .3 1.3 .3 1.2 .4 1.3 .4 1.3 .4 1.3M251.6 340.9l-.5-.6-.6-.7-.7-.9-.3-.4-.9-1.3-.1 0-.9-1.2-.3-.5-.7-.8-.6-.9-.3-.4-.9-1.3-.1-.1-.8-1.2-.5-.7M292.1 263.8l.3 .2 .5 1.2-.8 1.2-.2 .1-1 .1-.3-.1-.2-1.3 .5-.8 .8-.4z" fill="none" stroke="#1a1a1a" stroke-width="0.6"/>
<path d="M261.9 340.9l-.5-.4-1.2-.9-.1-.1-1.3-1-.2-.2-1.1-.9-.3-.4-1-.8-.4-.4-.9-.9-.3-.4-.9-.9-.4-.4-.9-1.1-.2-.2-1-1.3-.1-.2-.7-1-.6-1-.2-.3-.8-1.3-.3-.5-.5-.8-.6-1.3-.1-.2-.5-1.1-.5-1.2-.3-1.1-.1-.2-.3-1.3-.2-1.3-.1-1.3 0-1.3 .1-1.2 .2-1.3 .4-1.3 .5-1.3 .8-1.3 1-1.2 .2-.3 1.3-1 0-.1 1.3-.7 .9-.5 .4-.2 1.3-.6 .8-.5 .4-.2 1.3-.8 .4-.3 .9-.7 .7-.6 .6-.5 .8-.7 .5-.5 .8-.8 .5-.5 .9-.8 .3-.3 1.3-1 .1 0 1.2-.8 .7-.5 .6-.3 1.3-.8 .3-.2 1-.5 1.1-.7 .1-.1 1.3-.9 .4-.3 .9-.9 .4-.4 .8-1.3 .1-.2 .5-1.1 .4-1.2 .2-1.3 .2-.4 .4-.9 .8-1.1 .2-.2 1.1-1.3 0-.1 .7-1.2 0-1.2-.5-1.3-.2-.3-.8-1-.5-.5-.7-.8-.3-1.3 1-.9 1.1-.4 .2 0 1.3-.1 1.3 0 1 .1 .3 .1 1.3 .9 .4 .3 .8 .8 .6 .5 .7 .6 1.2 .7 .1 0 1.3 .8 1 .5 .3 .1 1.3 .9 .3 .3 .9 1 .2 .2 .7 1.3 .4 .6 .4 .7 .9 1.3 .7 1.3 .6 .9 .2 .4 .8 1.2 .3 .4 .7 .9 .5 .8 .4 .5 .7 1.3 .2 .4 .4 .9 .7 1.2 .2 .5 .4 .8 .6 1.3 .3 .7 .2 .6 .4 1.3 .3 1.3 .2 1.2 0 1.3 .1 1.3 .1 .9 0 .4 .2 1.3 .2 1.3 .1 1.2 .1 1.3 .1 1.3 .2 1.3 .1 1.3 .2 1.2-.1 1.3-.1 1.3-.4 1.3-.4 1.3-.2 .5-.3 .8-.5 1.2-.4 1.3-.1 .5-.2 .8-.6 1.3-.5 .9-.2 .4-1 1.3-.1 0-1.1 1.2-.2 .3-1 1-.2 1.3 1.2 .8 .5 .5 .8 1 .2 .3 .9 1.2 .2 .4 .6 .9 .7 1.2 0 .1 .7 1.3" fill="none" stroke="#1a1a1a" stroke-width="0.6"/>
<path d="M276 340.9l-.5-1.2-.1-.1-.9-1.3-.3-.4-1-.9-.3-.1-1.3-.5-1.3-.3-1.2-.3-.5 0-.8-.2-1.3-.2-1.3-.4-1.3-.4-.3-.1-1-.4-1.2-.6-.6-.3-.7-.4-1.3-.8-.1-.1-1.2-.9-.4-.4-.9-.7-.5-.5-.8-.9-.3-.4-.8-1.3-.1-.3-.6-1-.5-1.3-.2-.6-.2-.7-.4-1.2-.2-1.3-.1-1.3 .1-1.3 .1-1.3 .4-1.3 .3-.7 .2-.5 .7-1.3 .4-.5 .6-.8 .6-.7 .6-.6 .7-.7 .5-.6 .8-.9 .3-.3 1-1.3 1-1.3 .3-.4 .7-.9 .6-.7 .4-.6 .8-.9 .4-.4 .9-.9 .5-.3 .8-.8 .7-.5 .6-.5 1-.8 .3-.2 1.3-1 .1-.1 1.1-.8 .7-.5 .6-.4 1.3-.8 .1-.1 1.2-.8 .6-.4 .7-.6 1-.7 .2-.2 1.3-.8 .6-.3 .7-.4 1.3-.4 1.3-.2 1.3 .1 1.2 .2 1.3 .3 1.2 .4 .1 0 1.3 .5 1.3 .8 1.3 1 .3 .3 .9 .5 1.3 .7 .1 0 1.2 .8 .7 .5 .6 .6 .7 .7 .6 .7 .4 .6 .7 1.3 .1 .3 .4 1 .4 1.2 .2 1.3 .2 1.3 .1 .8 .1 .5 .2 1.3 .2 1.3 .2 1.2 .2 1.3 .2 1.3 .1 1.3-.1 1.3-.1 1.2-.3 1.3-.3 1.3-.4 1.2 0 .1-.4 1.3-.3 1.3-.2 1.2-.3 1.3-.1 .3-.3 1-.9 1-.4 .3-.9 .6-1 .7-.3 .2-1 1.1-.3 .3-.4 .9-.4 1.3-.1 1.3 .3 1.3 .6 1.3 1.1 1.2 .2 .3 .9 1 .4 .6 .4 .7 .5 1.3" fill="none" stroke="#1a1a1a" stroke-width="0.6"/>
<path d="M281.6 340.9l-.8-1.3-.2-.4-.4-.9-.6-1.3-.3-.6-.3-.6-.3-1.3-.3-1.3-.4-1.1-.1-.2-1.2-.9-.8-.4-.4-.1-1.3-.3-1.3-.1-1.3-.1-1.3 0-1.2 0-1.3 0-1.3-.1-1.3-.2-1.3-.2-.4-.1-.9-.3-1.2-.5-1.1-.5-.2-.1-1.3-.9-.3-.3-1-1.1-.1-.2-.6-1.3-.4-1.3-.2-.9 0-.3-.1-1.3 0-1.3 .1-.7 .1-.6 .4-1.3 .5-1.3 .3-.5 .4-.7 .9-1.3 0-.1 1-1.2 .3-.4 .8-.9 .5-.5 .7-.8 .5-.6 .7-.6 .6-.8 .5-.5 .8-1 .3-.3 1-1.2 .1-.1 1.1-1.3 .1 0 1.2-1.3 .1-.1 1.2-1.1 0-.1 1.3-1.1 .2-.1 1.1-.9 .5-.4 .8-.6 .8-.7 .5-.4 1.1-.9 .1-.1 1.3-.6 1.3-.3 1.3-.1 1.3 .1 1.3 .1 1.2 .1 1.3 0 1.3 .2 1.3 .2 .9 .4 .4 .3 1 1 .3 .2 1 1.1 .2 .3 1 1 .3 .3 .8 1 .5 .8 .2 .4 .3 1.3 .2 1.3 0 1.3 .1 1.3 .2 1.3 .3 1.2 0 .1 .2 1.2 .2 1.3 0 1.3-.2 1.3-.2 .7-.2 .5-.6 1.3-.5 1.2 0 .1-.7 1.3-.6 1.1-.1 .2-.7 1.3-.5 1-.1 .2-.2 1.3-.2 1.3-.4 1.3-.3 1.3-.1 0-.3 1.3-.2 1.2 0 1.3 0 1.3 .2 1.3 .2 1.3 .2 .9 0 .3 .2 1.3 .1 1.3-.1 1.3" fill="none" stroke="#1a1a1a" stroke-width="0.6"/>
<path d="M269.1 311.4l1.2-.3 1.3-.2 1.3-.4 1.3-.2 1.3 0 1.2 .2 1.3 .4 1 .5 .3 .1 1.3 .8 .6 .4 .7 .5 1 .8 .3 .1 1.2 1.1 0 .1 1 1.2 .3 .6 .3 .7 .3 1.3 .2 1.3 .2 1.3 .2 1.2 .1 .9 .1 .4 0 1.3-.1 1.3 0 .2-.2 1.1-.1 1.3 0 1.2 .1 1.3 .1 1.3 .1 1.3-.3 1.3-.8 1.2-.2 .2-1.3 .2-.8-.4-.4-.1-.8-1.1-.3-1.3 .1-1.3-.1-1.3-.2-1.2 0-.1-.5-1.2-.8-1-.3-.3-1-1-.4-.3-.9-.5-1.3-.6-.7-.2-.5-.1-1.3-.2-1.3-.1-1.3-.1-1.3-.1-1.2-.2-1.3-.2-1.3-.3-1.3-.3-1.3-.4-1.2-.6-.1 0-1.1-1.2-.1-.5-.2-.8 .2-1.1 0-.2 .4-1.3 .6-1.3 .2-.3 .7-1 .6-.8 .5-.4 .8-.8 .8-.5 .5-.3 1.3-.6 1.2-.4z" fill="none" stroke="#1a1a1a" stroke-width="0.6"/>
<circle cx="274.1" cy="272.1" r="0.85" fill="#111"/>
<circle cx="292.8" cy="271.7" r="0.85" fill="#111"/>
<circle cx="260.2" cy="284.0" r="0.85" fill="#111"/>
<circle cx="272.2" cy="286.3" r="0.85" fill="#111"/>
<circle cx="283.8" cy="286.3" r="0.85" fill="#111"/>
<circle cx="295.4" cy="285.9" r="0.85" fill="#111"/>
<circle cx="307.4" cy="284.4" r="0.85" fill="#111"/>
<circle cx="250.9" cy="290.4" r="0.85" fill="#111"/>
<circle cx="316.7" cy="290.4" r="0.85" fill="#111"/>
<circle cx="277.1" cy="295.3" r="0.85" fill="#111"/>
<circle cx="283.8" cy="295.6" r="0.85" fill="#111"/>
<circle cx="290.9" cy="295.3" r="0.85" fill="#111"/>
<circle cx="263.2" cy="294.5" r="0.85" fill="#111"/>
<circle cx="304.4" cy="294.5" r="0.85" fill="#111"/>
<circle cx="254.6" cy="302.4" r="0.85" fill="#111"/>
<circle cx="268.5" cy="302.4" r="0.85" fill="#111"/>
<circle cx="283.8" cy="302.4" r="0.85" fill="#111"/>
<circle cx="298.8" cy="302.4" r="0.85" fill="#111"/>
<circle cx="312.6" cy="302.4" r="0.85" fill="#111"/>
<circle cx="262.5" cy="311.3" r="0.85" fill="#111"/>
<circle cx="277.1" cy="310.6" r="0.85" fill="#111"/>
<circle cx="290.9" cy="310.6" r="0.85" fill="#111"/>
<circle cx="305.1" cy="311.3" r="0.85" fill="#111"/>
<circle cx="260.2" cy="320.7" r="0.85" fill="#111"/>
<circle cx="272.6" cy="318.8" r="0.85" fill="#111"/>
<circle cx="283.8" cy="318.8" r="0.85" fill="#111"/>
<circle cx="295.0" cy="319.2" r="0.85" fill="#111"/>
<circle cx="307.4" cy="320.7" r="0.85" fill="#111"/>
<circle cx="276.7" cy="333.8" r="0.85" fill="#111"/>
<circle cx="283.8" cy="334.2" r="0.85" fill="#111"/>
<circle cx="290.9" cy="333.8" r="0.85" fill="#111"/>
</g>
<circle cx="283.8" cy="300.5" r="37.40" fill="none" stroke="#111" stroke-width="1.4"/>
<path d="M277.5 263.5 L283.8 257.2 L290.1 263.5" fill="none" stroke="#111" stroke-width="1.3" stroke-linejoin="miter"/>
<path d="M630.3 76.2 H627.3 Q624.9 76.2 624.9 78.6 V89.4 Q624.9 91.8 627.3 91.8 H630.3" fill="#fff" stroke="#2a2a2a" stroke-width="1.2"/><path d="M699.3 76.2 H702.3 Q704.7 76.2 704.7 78.6 V89.4 Q704.7 91.8 702.3 91.8 H699.3" fill="#fff" stroke="#2a2a2a" stroke-width="1.2"/>
<clipPath id="cR1"><circle cx="664.8" cy="82.2" r="35.50"/></clipPath>
<g clip-path="url(#cR1)">
<circle cx="664.8" cy="82.2" r="36.50" fill="#0ebdbb"/>
<path d="M661.8 104.7l1.2-.3 1.2 0 .8 .3 .4 .6 .2 .6-.2 .3-1.2 .8-1.2 .1-1.2-.7-.4-.5 .3-1.2z" fill="#4755f6" stroke="#4755f6" stroke-width="0.3" fill-rule="evenodd"/>
<path d="M658.1 99.7l1.2-.2 1.2-.2 1.3-.1 1.2 0 1.2 0 1.2 .1 1.2 .2 1.2 .2 .6 .1 .7 .3 1.2 .6 .4 .4 .8 .9 .2 .3 .5 1.2 .3 1.2 .1 1.2-.1 1.3-.4 1.2-.5 1.2-.1 .1-.8 1.1-.4 .6-.7 .6-.5 .4-1.3 .8-.1 0-1.1 .5-1.2 .3-1.2 .3-1.2 .2-1.2 0-.2 0-1.1-.2-1.2-.4-1.1-.7-.1 0-1.2-1.1-.1-.1-.9-1.2-.2-.4-.5-.8-.5-1.2-.2-1-.1-.2-.2-1.3-.1-1.2 .1-1.2 .3-.8 .1-.4 1-1.2 .1-.1 1.2-.8 .8-.4zM661.7 104.7l-.3 1.2 .4 .5 1.2 .7 1.2-.1 1.2-.8 .2-.3-.2-.6-.4-.6-.8-.3-1.2 0-1.2 .3z" fill="#4661fc" stroke="#4661fc" stroke-width="0.3" fill-rule="evenodd"/>
<path d="M654.5 97.1l1.2-.3 1.2-.2 1.2-.1 1.2-.1 1.2 0 1.3 0 1.2 .1 1.2 0 1.2 .1 1.2 .1 1.2 .2 1.3 .3 .5 .2 .7 .3 1.2 .6 .5 .3 .7 .6 .7 .6 .5 .7 .4 .6 .7 1.2 .1 .2 .5 1 .4 1.2 .2 1.2 .1 1.3 0 1.2-.2 1.2-.3 1.2-.4 1.2-.3 .6-.3 .6-.6 1.3-.3 .6-.3 .6-.7 1.2-.2 .4-.5 .8-.7 1.2-.8 1.2-.4 0-1.2 0-1.3 0-1.2 0-1.2 0-1.2 0-1.2 0-1.2 0-1.3 0-1.2 0-1.2 0-1.2 0-1.2 0-1.2 0-1.3 0-.3 0-.4-1.2-.3-1.2-.2-.4-.2-.8-.4-1.2-.3-1.2-.3-1.2 0-.1-.2-1.2-.2-1.2-.1-1.2 0-1.2-.1-1.2-.1-1.3 0-1.2 0-1.2 .2-1.2 .3-1.2 .2-.5 .4-.8 .8-1.2 1.2-.9 .5-.3zM657.7 99.8l-.8 .4-1.2 .8-.1 .1-1 1.2-.1 .4-.3 .8-.1 1.2 .1 1.2 .2 1.3 .1 .2 .2 1 .5 1.2 .5 .8 .2 .4 .9 1.2 .1 .1 1.2 1.1 .1 0 1.1 .7 1.2 .4 1.1 .2 .2 0 1.2 0 1.2-.2 1.2-.3 1.2-.3 1.1-.5 .1 0 1.3-.8 .5-.4 .7-.6 .4-.6 .8-1.1 .1-.1 .5-1.2 .4-1.2 .1-1.3-.1-1.2-.3-1.2-.5-1.2-.2-.3-.8-.9-.4-.4-1.2-.6-.7-.3-.6-.1-1.2-.2-1.2-.2-1.2-.1-1.2 0-1.2 0-1.3 .1-1.2 .2-1.2 .2z" fill="#406dfe" stroke="#406dfe" stroke-width="0.3" fill-rule="evenodd"/>
<path d="M652 94.8l1.2-.3 1.3-.1 1.2-.1 1.2-.1 1.2 0 1.2-.1 1.2 0 1.3 0 1.2 0 1.2 .1 1.2 0 1.2 .1 1.2 .2 1.3 .3 .2 .2 1 .4 1.2 .7 .2 .1 1 .6 .9 .6 .3 .3 1.1 .9 .1 .2 1 1 .3 .4 .7 .9 .5 .7 .4 .5 .7 1.2 .1 .2 .6 1 .5 1.2 .1 .3 .4 1 .2 1.2 .2 1.2-.1 1.2-.1 1.2-.2 1.2-.4 1.3 0 .1-.2 1.1 0 1.2 .1 1.2 .1 .5 .2 .7 .6 1.2-.8 0-1.2 0-1.2 0-1.2 0-1.3 0-1.2 0-1.2 0-1.2 0-.8 0 .8-1.2 .7-1.2 .5-.8 .2-.4 .7-1.2 .3-.6 .3-.6 .6-1.3 .3-.6 .3-.6 .4-1.2 .3-1.2 .2-1.2 0-1.2-.1-1.3-.2-1.2-.4-1.2-.5-1-.1-.2-.7-1.2-.4-.6-.5-.7-.7-.6-.7-.6-.5-.3-1.2-.6-.7-.3-.5-.2-1.3-.3-1.2-.2-1.2-.1-1.2-.1-1.2 0-1.2-.1-1.3 0-1.2 0-1.2 .1-1.2 .1-1.2 .2-1.2 .3-.8 .3-.5 .3-1.2 .9-.8 1.2-.4 .8-.2 .5-.3 1.2-.2 1.2 0 1.2 0 1.2 .1 1.3 .1 1.2 0 1.2 .1 1.2 .2 1.2 .2 1.2 0 .1 .3 1.2 .3 1.2 .4 1.2 .2 .8 .2 .4 .3 1.2 .4 1.2-.9 0-1.2 0-1.2 0-1.2 0-1.2 0-1.3 0-1.2 0-1.2 0-1.2 0-1.2 0-1.3 0-.6 0 .3-1.2 .3-1.2 0-.1 .3-1.1 .2-1.2 .3-1.2 .3-1.3 .2-.3 .4-.9 .8-1.1 .1-.1 1.1-.9 .5-.3 .7-.5 .6-.7 .6-1.1 .1-.1 0-1.3-.1-.8 0-.4-.1-1.2 .1-1.2 0-.1 .3-1.1 .6-1.3 .4-.5 .3-.7 .9-1.1 0-.1 1.2-1.2 1.2-.8 .8-.4zM701.9 120.5l1.2-.2 0 .2-1.2 0-.1 0z" fill="#347afd" stroke="#347afd" stroke-width="0.3" fill-rule="evenodd"/>
<path d="M653.2 92.5l1.3-.1 1.2 0 1.2-.1 1.2-.1 1.2-.1 1.2-.1 1.3-.1 1.2-.1 1.2 0 1.2-.1 1.2 0 1.2 .2 1.3 .5 .2 .1 1 .6 .9 .7 .3 .2 1.2 .8 .2 .2 1 .7 .7 .5 .5 .4 1 .8 .3 .2 1.2 1 1.2 1.1 .1 .1 1.1 1.1 .3 .2 .9 .9 .4 .3 .8 .7 .7 .5 .6 .5 1.1 .7 .1 .1 1.2 .7 1.1 .4 .1 .1 1.2 .4 1.3 .2 1.2 .2 1.2 .1 1.2 .1 1.2 .1 1.2 0 .1 .1 1.2 0 1.2 .1 1.2 .1 1.2 .1 1.2 .1 1.2 .2 0 .6 0 1.2 0 1.2 0 1.2 0 1.2 0 1.3 0 1.2 0 1.2 0 1.2 0 1.2 0 1-1.2 .2-.1 0-1.1 0-1.2 0-1.2 0-1.2 0-1.3 0-1.2 0-1.2 0-1.2 0-1.2 0-1.2 0-1.3 0-1.2 0-1.2 0-1.2 0-1.2 0-1.3 0-1.2 0-.4 0-.6-1.2-.2-.7-.1-.5-.1-1.2 0-1.2 .2-1.1 0-.1 .4-1.3 .2-1.2 .1-1.2 .1-1.2-.2-1.2-.2-1.2-.4-1-.1-.3-.5-1.2-.6-1-.1-.2-.7-1.2-.4-.5-.5-.7-.7-.9-.3-.4-1-1-.1-.2-1.1-.9-.3-.3-.9-.6-1-.6-.2-.1-1.2-.7-1-.4-.2-.2-1.3-.3-1.2-.2-1.2-.1-1.2 0-1.2-.1-1.2 0-1.3 0-1.2 0-1.2 .1-1.2 0-1.2 .1-1.2 .1-1.3 .1-1.2 .3-.4 .2-.8 .4-1.2 .8-1.2 1.2 0 .1-.9 1.1-.3 .7-.4 .5-.6 1.3-.3 1.1 0 .1-.1 1.2 .1 1.2 0 .4 .1 .8 0 1.3-.1 .1-.6 1.1-.6 .7-.7 .5-.5 .3-1.1 .9-.1 .1-.8 1.1-.4 .9-.2 .3-.3 1.3-.3 1.2-.2 1.2-.3 1.1 0 .1-.3 1.2-.3 1.2-.6 0-1.2 0-1.2 0-1.2 0-1.2 0-1.3 0-1.2 0-.2 0 .2-.4 .5-.8 .6-1.2 .1-.3 .5-.9 .6-1.2 .2-.4 .4-.8 .5-1.3 .3-.5 .3-.7 .6-1.2 .3-.7 .2-.5 .6-1.2 .4-1.1 .1-.1 .4-1.3 .4-1.2 .3-1 .1-.2 .6-1.2 .5-.7 .5-.5 .8-.9 .3-.4 .9-.9 .3-.3 .9-1 .2-.2 1-.9 .3-.3 .9-.8 .5-.4 .8-.5 1.1-.7 .1-.1 1.2-.5 1.2-.4 1.2-.3 .1 0z" fill="#2e86f7" stroke="#2e86f7" stroke-width="0.3" fill-rule="evenodd"/>
<path d="M661.8 89.9l1.2-.1 1.2-.2 1.2-.1 1.2-.1 1.2 0 1.3 .4 .4 .3 .8 .6 .7 .6 .5 .4 .9 .8 .3 .3 1.1 1 .1 .1 1.2 .9 .3 .2 1 .7 .8 .5 .4 .2 1.2 .8 .3 .2 .9 .6 1 .6 .2 .2 1.2 .6 1 .4 .3 .2 1.2 .4 1.2 .2 1.2 0 1.2-.1 1.3-.2 1.2-.2 1.2-.2 .3-.1 .9 0 1.2-.1 1.2 0 1.3-.1 1.2 0 1.2-.1 1.2-.1 1.2 0 1.2 0 0 .4 0 1.3 0 1.2 0 1.2 0 1.2 0 1.2 0 1.3 0 .6-1.2-.2-1.2-.1-1.2-.1-1.2-.1-1.2-.1-1.2 0-.1-.1-1.2 0-1.2-.1-1.2-.1-1.2-.1-1.2-.2-1.3-.2-1.2-.4-.1-.1-1.1-.4-1.2-.7-.1-.1-1.1-.7-.6-.5-.7-.5-.8-.7-.4-.3-.9-.9-.3-.2-1.1-1.1-.1-.1-1.2-1.1-1.2-1-.3-.2-1-.8-.5-.4-.7-.5-1-.7-.2-.2-1.2-.8-.3-.2-.9-.7-1-.6-.2-.1-1.3-.5-1.2-.2-1.2 0-1.2 .1-1.2 0-1.2 .1-1.3 .1-1.2 .1-1.2 .1-1.2 .1-1.2 .1-1.2 0-1.3 .1-1.1 0-.1 0-1.2 .3-1.2 .4-1.2 .5-.1 .1-1.1 .7-.8 .5-.5 .4-.9 .8-.3 .3-1 .9-.2 .2-.9 1-.3 .3-.9 .9-.3 .4-.8 .9-.5 .5-.5 .7-.6 1.2-.1 .2-.3 1-.4 1.2-.4 1.3-.1 .1-.4 1.1-.6 1.2-.2 .5-.3 .7-.6 1.2-.3 .7-.3 .5-.5 1.3-.4 .8-.2 .4-.6 1.2-.5 .9-.1 .3-.6 1.2-.5 .8-.2 .4-1 0-1.2 0-1.2 0-1.2 0 0-1.2 0-1.2 0-.2 .7-1 .5-.7 .3-.5 .9-1.2 0-.1 .8-1.2 .4-.6 .4-.6 .8-1.2 0-.1 .8-1.1 .4-.8 .3-.4 .8-1.2 .2-.4 .5-.9 .7-1.2 .6-1.2 .6-.9 .1-.3 .8-1.2 .3-.5 .6-.8 .6-.9 .3-.3 .9-1.2 1.1-1.2 .2-.2 1-1 .2-.2 1.2-.9 .2-.1 1-.6 1-.7 .2 0 1.3-.6 1.2-.5 .1-.1 1.1-.3 1.2-.1 1.2 0 1.2 0 1.3 0 1.2 0 1.2-.2 1.2-.1 1.2-.2 1.2-.3 .1 0z" fill="#2b91ef" stroke="#2b91ef" stroke-width="0.3" fill-rule="evenodd"/>
<path d="M666.6 87.5l1.2-.1 1.3 .1 .3 .2 .9 .6 .7 .6 .5 .5 .7 .7 .5 .5 .7 .7 .5 .5 .8 .7 .4 .4 1.2 .9 .1 0 1.2 .7 1.1 .5 .1 .1 1.2 .5 1.2 .5 .2 .1 1 .4 1.3 .4 1.2 .2 1.2 0 1.2-.2 1.2-.3 1.3-.3 .6-.2 .6-.2 1.2-.3 1.2-.3 1.2-.4 .1 0 1.1-.4 1.3-.3 1.2-.4 .4-.1 .8-.4 1.2-.6 .9-.3 .3-.1 1.2-.2 0 .3 0 1.3 0 1.2 0 1.2 0 1.2 0 1.2 0 .8-1.2 0-1.2 0-1.2 .1-1.2 .1-1.2 0-1.3 .1-1.2 0-1.2 .1-.9 0-.3 .1-1.2 .2-1.2 .2-1.3 .2-1.2 .1-1.2 0-1.2-.2-1.2-.4-.3-.2-1-.4-1.2-.6-.2-.2-1-.6-.9-.6-.3-.2-1.2-.8-.4-.2-.8-.5-1-.7-.3-.2-1.2-.9-.1-.1-1.1-1-.3-.3-.9-.8-.5-.4-.7-.6-.8-.6-.4-.3-1.3-.4-1.2 0-1.2 .1-1.2 .1-1.2 .2-1.2 .1-1.2 .2-.1 0-1.2 .3-1.2 .2-1.2 .1-1.2 .2-1.2 0-1.3 0-1.2 0-1.2 0-1.2 .1-1.1 .3-.1 .1-1.2 .5-1.3 .6-.2 0-1 .7-1 .6-.2 .1-1.2 .9-.2 .2-1 1-.2 .2-1.1 1.2-.9 1.2-.3 .3-.6 .9-.6 .8-.3 .5-.8 1.2-.1 .3-.6 .9-.6 1.2-.7 1.2-.5 .9-.2 .4-.8 1.2-.3 .4-.4 .8-.8 1.1 0 .1-.8 1.2-.4 .6-.4 .6-.8 1.2 0 .1-.9 1.2-.3 .5-.5 .7-.7 1 0-1 0-1.2 0-1.2 0-1.3 0-1.2 0-1 .1-.2 1.1-1.2 1-1.2 .2-.3 .8-.9 .4-.5 .6-.8 .6-.7 .4-.5 .8-1 .2-.2 1-1.2 .1 0 1-1.2 .2-.3 .7-1 .5-.7 .3-.5 .7-1.2 .2-.4 .5-.8 .7-1.1 .2-.1 1-1.2 0-.1 1.3-.9 .3-.3 .9-.4 1.2-.7 .1-.1 1.1-.5 1.2-.5 .6-.2 .7-.2 1.2-.3 1.2-.2 1.2-.1 1.2 .1 1.2 .1 1.3 0 1.2 0 1.2-.2 1.2-.3 .6-.1 .6-.2 1.2-.3 1.3-.2 1.2-.1 1.2-.2 1.2-.2 .2 0z" fill="#259ce7" stroke="#259ce7" stroke-width="0.3" fill-rule="evenodd"/>
<path d="M664.2 86.4l1.2-.2 1.2-.2 1.2-.1 1.3 .1 1.1 .5 .1 0 1.2 .9 .3 .3 .9 .8 .5 .4 .7 .7 .7 .5 .5 .5 1 .7 .3 .3 1.2 .7 .7 .2 .5 .2 1.2 .4 1.2 .3 1.2 .2 1.3 .1 1.2 0 1.2-.2 1.2-.4 1.2-.4 .4-.2 .9-.4 1.2-.6 .3-.2 .9-.5 1.1-.7 .1-.1 1.2-.9 .3-.2 .9-.8 .5-.4 .8-.7 .7-.5 .5-.4 1.2-.6 1.2-.2 1.2 .2 1.2 .5 0 .5 0 1.2 0 1.2 0 1.2 0 1.2 0 .9-1.2 .2-.3 .1-.9 .3-1.2 .6-.8 .4-.4 .1-1.2 .4-1.3 .3-1.1 .4-.1 0-1.2 .4-1.2 .3-1.2 .3-.6 .2-.6 .2-1.3 .3-1.2 .3-1.2 .2-1.2 0-1.2-.2-1.3-.4-1-.4-.2-.1-1.2-.5-1.2-.5-.1-.1-1.1-.5-1.2-.7-.1 0-1.2-.9-.4-.4-.8-.7-.5-.5-.7-.7-.5-.5-.7-.7-.5-.5-.7-.6-.9-.6-.3-.2-1.3-.1-1.2 .1-1 .2-.2 0-1.2 .2-1.2 .2-1.2 .1-1.3 .2-1.2 .3-.6 .2-.6 .1-1.2 .3-1.2 .2-1.2 0-1.3 0-1.2-.1-1.2-.1-1.2 .1-1.2 .2-1.2 .3-.7 .2-.6 .2-1.2 .5-1.1 .5-.1 .1-1.2 .7-.9 .4-.3 .3-1.3 .9 0 .1-1 1.2-.2 .1-.7 1.1-.5 .8-.2 .4-.7 1.2-.3 .5-.5 .7-.7 1-.2 .3-1 1.2-.1 0-1 1.2-.2 .2-.8 1-.4 .5-.6 .7-.6 .8-.4 .5-.8 .9-.2 .3-1 1.2-1.1 1.2-.1 .2 0-.2 0-1.2 0-1.2 0-1.2 0-1.3 1.2-1.2 1.2-1.1 .1-.1 1.1-1.1 .1-.1 1.1-1.1 .2-.1 1-1.1 .2-.2 1.1-1.1 0-.1 .8-1.2 .4-.6 .3-.6 .7-1.2 .2-.2 .7-1 .5-.6 .6-.7 .6-.5 .9-.7 .3-.2 1.3-.7 .6-.3 .6-.3 1.2-.5 1.1-.4 .1 0 1.2-.4 1.3-.3 1.2-.1 1.2-.1 1.2 .1 1.2 .1 1.2 .1 1.3 0 1.2-.2 1.2-.2 .8-.2 .4-.1 1.2-.4 1.2-.3 1.3-.2 1.2-.1 .8-.1z" fill="#1fa5e2" stroke="#1fa5e2" stroke-width="0.3" fill-rule="evenodd"/>
<path d="M699.5 82.6l1.2-.1 1.2 .2 .3 .1 .9 .4 0 .8 0 1.2 0 .8-1.2-.5-1.2-.2-1.2 .2-1.2 .6-.5 .4-.7 .5-.8 .7-.5 .4-.9 .8-.3 .2-1.2 .9-.1 .1-1.1 .7-.9 .5-.3 .2-1.2 .6-.9 .4-.4 .2-1.2 .4-1.2 .4-1.2 .2-1.2 0-1.3-.1-1.2-.2-1.2-.3-1.2-.4-.5-.2-.7-.2-1.2-.7-.3-.3-1-.7-.5-.5-.7-.5-.7-.7-.5-.4-.9-.8-.3-.3-1.2-.9-.1 0-1.1-.5-1.3-.1-1.2 .1-1.2 .2-1.2 .2-.4 .1-.8 .1-1.2 .1-1.3 .2-1.2 .3-1.2 .4-.4 .1-.8 .2-1.2 .2-1.2 .2-1.3 0-1.2-.1-1.2-.1-1.2-.1-1.2 .1-1.2 .1-1.3 .3-1.2 .4-.1 0-1.1 .4-1.2 .5-.6 .3-.6 .3-1.3 .7-.3 .2-.9 .7-.6 .5-.6 .7-.5 .6-.7 1-.2 .2-.7 1.2-.3 .6-.4 .6-.8 1.2 0 .1-1.1 1.1-.2 .2-1 1.1-.2 .1-1.1 1.1-.1 .1-1.1 1.1-.1 .1-1.2 1.1-1.2 1.2 0-1.2 0-1.2 0-1.2 0-.8 .5-.4 .7-.6 .7-.7 .5-.3 .9-.9 .3-.3 .9-.9 .3-.3 .8-.9 .4-.6 .5-.6 .8-1 .1-.2 1-1.3 .1 0 1.1-1.2 .1-.1 1.2-1 .2-.1 1-.6 1.1-.6 .1-.1 1.3-.5 1.2-.5 .3-.1 .9-.4 1.2-.3 1.2-.2 1.3-.2 1.2 0 1.2 .1 1.2 .2 1.2 .2 1.2 .1 1.3-.2 1.2-.2 1.1-.3 .1-.1 1.2-.4 1.2-.3 1.2-.3 1.3-.1 .5-.1 .7 0 1.2-.2 1.2-.2 1.2-.2 1.2-.1 1.3 .2 1.2 .4 .3 .1 .9 .6 .9 .7 .3 .2 1.2 .9 .2 .1 1 .6 1.1 .6 .2 .1 1.2 .5 1.2 .3 1.2 .2 1.2 .1 1.2-.1 1.3-.3 1.2-.3 1.2-.4 .3-.1 .9-.4 1.2-.5 .7-.3 .6-.3 1.2-.6 .6-.3 .6-.3 1.2-.7 .4-.3 .8-.4 1.2-.7 .2-.1 1.1-.5 1.2-.6 .3-.1z" fill="#17aeda" stroke="#17aeda" stroke-width="0.3" fill-rule="evenodd"/>
<path d="M655.7 59.6l.1 .1 .3 1.2 0 1.2 0 1.2-.1 1.3-.3 .4-.5-.4-.1-1.3 0-1.2 0-1.2 .4-1.2zM698.3 81.3l1.2-.3 1.2-.1 1.2 .3 1.2 .3 0 .1 0 1.2 0 .4-.9-.4-.3-.1-1.2-.2-1.2 .1-.9 .2-.3 .1-1.2 .6-1.1 .5-.2 .1-1.2 .7-.8 .4-.4 .3-1.2 .7-.6 .3-.6 .3-1.2 .6-.6 .3-.7 .3-1.2 .5-.9 .4-.3 .1-1.2 .4-1.2 .3-1.3 .3-1.2 .1-1.2-.1-1.2-.2-1.2-.3-1.2-.5-.2-.1-1.1-.6-1-.6-.2-.1-1.2-.9-.3-.2-.9-.7-.9-.6-.3-.1-1.2-.4-1.3-.2-1.2 .1-1.2 .2-1.2 .2-1.2 .2-.7 0-.5 .1-1.3 .1-1.2 .3-1.2 .3-1.2 .4-.1 .1-1.1 .3-1.2 .2-1.3 .2-1.2-.1-1.2-.2-1.2-.2-1.2-.1-1.2 0-1.3 .2-1.2 .2-1.2 .3-.9 .4-.3 .1-1.2 .5-1.3 .5-.1 .1-1.1 .6-1 .6-.2 .1-1.2 1-.1 .1-1.1 1.2-.1 0-1 1.3-.1 .2-.8 1-.5 .6-.4 .6-.8 .9-.3 .3-.9 .9-.3 .3-.9 .9-.5 .3-.7 .7-.7 .6-.5 .4 0-.4 0-1.3 0-1.2 0-1.2 0-.3 1-.9 .2-.2 1.1-1 .1-.1 1.1-1.1 .1-.1 1.1-1.2 .1-.1 1.1-1.1 .1-.1 1.2-1.1 .1-.1 1.2-1 .2-.1 1-.7 1-.5 .2-.1 1.2-.6 1.2-.4 .3-.1 1-.4 1.2-.5 1.2-.3 .1-.1 1.1-.2 1.2-.1 1.3-.1 1.2 .1 1.2 .3 .1 0 1.1 .3 1.2 .3 1.2 .1 1.3-.3 1-.4 .2-.1 1.2-.5 1.2-.5 .5-.1 .7-.2 1.2-.1 1.3-.1 1.2 0 1.2-.2 1.2-.2 1.2-.2 1.2 0 1.3 .1 1.2 .4 1.1 .5 .1 .1 1.2 .8 .5 .3 .7 .5 1.2 .5 1.1 .3 .2 0 1.2 0 .7 0 .5-.1 1.2-.4 1.2-.5 1-.3 .2 0 1.3-.3 1.2-.2 1.2-.2 1.2-.1 1.2-.3 .4-.1 .9-.2 1.2-.3 1.2-.3 1.2-.4 1.2-.4 1.2-.3 1.3-.5 .1 0z" fill="#05b6ce" stroke="#05b6ce" stroke-width="0.3" fill-rule="evenodd"/>
<path d="M653.2 56l1.3-.6 1.2 .2 .7 .4 .5 .3 .6 .9 .5 1.3 .1 .8 0 .4 0 .2-.1 1-.2 1.2 .2 1.2 .1 .2 .5 1.1 .4 1.2 .3 1.2 .4 1.2 .8 .9 .6 .3 .7 .4 1.2 .5 .6 .3 .6 .5 .6 .8 .1 1.2-.5 1.2-.2 .3-1.1 .9-.1 .1-1.2 .6-1.1 .5-.2 .2-1.1 1 .2 1.3 .9 .4 1.3 .7 .1 .1 1.1 .1 1.2 0 1.2-.1 .6 0 .6 0 .2 0 1 .1 1.3 .2 1.2 .5 .9 .4 .3 .1 1.2 .6 .9 .5 .3 .2 1.2 .4 1.3-.1 1.1-.5 .1 0 1.2-.7 1.2-.5 1.2-.4 1.2-.2 1.3-.1 1.2-.1 1.2 .1 1.2 .1 1.2 .1 1.3 0 1.2 0 1.2-.1 1.2-.1 1.2-.2 1.2-.2 .8-.1 .5-.1 1.2-.2 1.2-.1 1.2-.1 1.2 .2 1.2 .2 0 .1 0 1.1-1.2-.3-1.2-.3-1.2 .1-1.2 .3-1.1 .3-.1 0-1.3 .5-1.2 .3-1.2 .4-1.2 .4-1.2 .3-1.2 .3-.9 .2-.4 .1-1.2 .3-1.2 .1-1.2 .2-1.2 .2-1.3 .3-.2 0-1 .3-1.2 .5-1.2 .4-.5 .1-.7 0-1.2 0-.2 0-1.1-.3-1.2-.5-.7-.5-.5-.3-1.2-.8-.1-.1-1.1-.5-1.2-.4-1.3-.1-1.2 0-1.2 .2-1.2 .2-1.2 .2-1.2 0-1.3 .1-1.2 .1-.7 .2-.5 .1-1.2 .5-1.2 .5-.2 .1-1 .4-1.3 .3-1.2-.1-1.2-.3-1.1-.3-.1 0-1.2-.3-1.2-.1-1.3 .1-1.2 .1-1.1 .2-.1 .1-1.2 .3-1.2 .5-1 .4-.3 .1-1.2 .4-1.2 .6-.2 .1-1 .5-1 .7-.2 .1-1.2 1-.1 .1-1.2 1.1-.1 .1-1.1 1.1-.1 .1-1.1 1.2-.1 .1-1.1 1.1-.1 .1-1.1 1-.2 .2-1 .9 0-.9 0-1.2 0-1.2 0-1.3 0-.3 1-.9 .2-.1 1.1-1.1 .1 0 1.2-1.1 .1-.1 1.1-1 .3-.2 .9-.7 .8-.5 .5-.3 1.2-.6 .8-.4 .4-.1 1.2-.5 1.2-.4 .7-.2 .5-.2 1.3-.4 1.2-.4 .9-.2 .3-.1 1.2-.2 1.2-.1 1.3 0 1.2 .1 1.2 .3 .1 0 1.1 .3 1.2 .3 1.2-.1 .8-.5 .5-.6 .4-.6 .2-1.2-.6-1-.1-.2 0-1.3 .1-.1 .8-1.1 .4-.8 .3-.4 .5-1.2 .3-1.2 .1-.5 .2-.7 .1-1.3-.3-.5-.3-.7-.9-.4-1.2-.6-.2-.2-1.1-.8-.2-.4-.5-1.2 .1-1.2 .5-1.3 .1-.5 .2-.7-.2-.4-.3-.8-.5-1.2-.1-1.2 .2-1.3 .7-1.2zM655.5 59.7l-.4 1.2 0 1.2 0 1.2 .1 1.3 .5 .4 .3-.4 .1-1.3 0-1.2 0-1.2-.3-1.2-.1-.1z" fill="#06bcc0" stroke="#06bcc0" stroke-width="0.3" fill-rule="evenodd"/>
<path d="M652 50.7l1.2-.3 1.3-.1 1.2 .3 1 .6 .2 .1 1.1 1.1 .1 .1 .7 1.1 .5 1.2 0 .2 .3 1 .3 1.2 .2 1.3 .1 1.2 .1 1.2 .1 1.2 .1 .3 .6 .9 .7 .9 .3 .4 .9 .8 .4 .4 .8 .6 .7 .6 .5 .4 .9 .8 .3 .3 .8 .9 .4 .6 .5 .6 .8 1.2 0 .1 .7 1.2 .5 .9 .1 .3 .9 1.2 .2 .3 1 .9 .2 .2 1.2 .7 1.2 .3 .8 0 .5 .1 .3-.1 .9 0 1.2-.1 1.2-.1 1.2-.1 1.2 0 1.3 0 1.2 .1 1.2 .2 1.2 .3 1.2 .4 1.3 .2 1.2 .2 1.2 .1 .2 .1 1 0 1.2 0 1.2 0 1.3 0 .2 0 1-.1 1.2 0 1.2 0 .7 .1 .5 0 1.2 0 0 1.1-1.2-.2-1.2-.2-1.2 .1-1.2 .1-1.2 .2-.5 .1-.8 .1-1.2 .2-1.2 .2-1.2 .1-1.2 .1-1.2 0-1.3 0-1.2-.1-1.2-.1-1.2-.1-1.2 .1-1.3 .1-1.2 .2-1.2 .4-1.2 .5-1.2 .7-.1 0-1.1 .5-1.3 .1-1.2-.4-.3-.2-.9-.5-1.2-.6-.3-.1-.9-.4-1.2-.5-1.3-.2-1-.1-.2 0-.6 0-.6 0-1.2 .1-1.2 0-1.1-.1-.1-.1-1.3-.7-.9-.4-.2-1.3 1.1-1 .2-.2 1.1-.5 1.2-.6 .1-.1 1.1-.9 .2-.3 .5-1.2-.1-1.2-.6-.8-.6-.5-.6-.3-1.2-.5-.7-.4-.6-.3-.8-.9-.4-1.2-.3-1.2-.4-1.2-.5-1.1-.1-.2-.2-1.2 .2-1.2 .1-1 0-.2 0-.4-.1-.8-.5-1.3-.6-.9-.5-.3-.7-.4-1.2-.2-1.3 .6-.7 1.2-.2 1.3 .1 1.2 .5 1.2 .3 .8 .2 .4-.2 .7-.1 .5-.5 1.3-.1 1.2 .5 1.2 .2 .4 1.1 .8 .2 .2 1.2 .6 .9 .4 .3 .7 .3 .5-.1 1.3-.2 .7-.1 .5-.3 1.2-.5 1.2-.3 .4-.4 .8-.8 1.1-.1 .1 0 1.3 .1 .2 .6 1-.2 1.2-.4 .6-.5 .6-.8 .5-1.2 .1-1.2-.3-1.1-.3-.1 0-1.2-.3-1.2-.1-1.3 0-1.2 .1-1.2 .2-.3 .1-.9 .2-1.2 .4-1.3 .4-.5 .2-.7 .2-1.2 .4-1.2 .5-.4 .1-.8 .4-1.2 .6-.5 .3-.8 .5-.9 .7-.3 .2-1.1 1-.1 .1-1.2 1.1-.1 0-1.1 1.1-.2 .1-1 .9 0-.9 0-1.2 0-1.2 0-1.2 0-.5 .9-.7 .3-.3 1.1-1 .1 0 1.2-1 .3-.2 .9-.5 1.2-.7 .1 0 1.2-.4 1.2-.4 1.2-.3 .2-.1 1-.3 1.2-.4 1.2-.4 .4-.1 .9-.3 1.2-.4 1.2-.3 1-.2 .2-.1 1.2-.4 1.3-.6 .2-.2 1-.9 .2-.3 .7-1.2 .3-.5 .3-.7 .3-1.2 .2-1.2 0-1.3-.2-1.2-.3-1.2-.2-1.2-.1-.6-.1-.6-.1-1.2 .2-1.3 0-.5 .1-.7-.1-.5-.1-.7-.3-1.2-.3-1.2-.2-1.3 0-1.2 .2-1.2 .3-1.2 .4-.7 .3-.5 .9-.9 .4-.3z" fill="#1fc0b2" stroke="#1fc0b2" stroke-width="0.3" fill-rule="evenodd"/>
<path d="M649.6 47.2l1.2-.5 1.2-.2 1.2-.1 1.3 .1 1.2 .4 1.2 .5 .1 .1 1.1 .8 .5 .4 .7 .8 .3 .4 .7 1.3 .2 .5 .3 .7 .4 1.2 .3 1.2 .3 1.1 0 .1 .4 1.2 .3 1.3 .4 1.2 .1 .2 .4 1 .7 1.2 .1 .1 .9 1.1 .3 .4 .8 .9 .4 .3 .9 .9 .3 .3 .9 .9 .4 .4 .7 .8 .5 .6 .5 .6 .7 .7 .5 .5 .7 .7 .7 .6 .5 .4 1.2 .7 .3 .1 1 .4 1.2 .4 1.2 .3 .3 .1 .9 .2 1.2 .3 1.2 .2 1.3 .2 1.2 .1 .8 .2 .4 .1 1.2 .4 1.2 .5 .9 .2 .4 .2 1.2 .3 1.2 .2 1.2 .2 1.2 .2 1.2 .1 .1 0 1.2 .1 1.2 .1 1.2 .2 1.2 0 1.2 0 1.2-.1 0 1-1.2 0-.5 0-.7-.1-1.2 0-1.2 0-1 .1-.2 0-1.3 0-1.2 0-1.2 0-1 0-.2-.1-1.2-.1-1.2-.2-1.3-.2-1.2-.4-1.2-.3-1.2-.2-1.2-.1-1.3 0-1.2 0-1.2 .1-1.2 .1-1.2 .1-.9 0-.3 .1-.5-.1-.8 0-1.2-.3-1.2-.7-.2-.2-1-.9-.2-.3-.9-1.2-.1-.3-.5-.9-.7-1.2 0-.1-.8-1.2-.5-.6-.4-.6-.8-.9-.3-.3-.9-.8-.5-.4-.7-.6-.8-.6-.4-.4-.9-.8-.3-.4-.7-.9-.6-.9-.1-.3-.1-1.2-.1-1.2-.1-1.2-.2-1.3-.3-1.2-.3-1 0-.2-.5-1.2-.7-1.1-.1-.1-1.1-1.1-.2-.1-1-.6-1.2-.3-1.3 .1-1.2 .3-.8 .5-.4 .3-.9 .9-.3 .5-.4 .7-.3 1.2-.2 1.2 0 1.2 .2 1.3 .3 1.2 .3 1.2 .1 .7 .1 .5-.1 .7 0 .5-.2 1.3 .1 1.2 .1 .6 .1 .6 .2 1.2 .3 1.2 .2 1.2 0 1.3-.2 1.2-.3 1.2-.3 .7-.3 .5-.7 1.2-.2 .3-1 .9-.2 .2-1.3 .6-1.2 .4-.2 .1-1 .2-1.2 .3-1.2 .4-.9 .3-.4 .1-1.2 .4-1.2 .4-1 .3-.2 .1-1.2 .3-1.2 .4-1.2 .4-.1 0-1.2 .7-.9 .5-.3 .2-1.2 1-.1 0-1.1 1-.3 .3-.9 .7 0-.7 0-1.3 0-1.2 0-1.2 1.2-.9 .5-.3 .7-.5 1.2-.7 1.2-.5 1.2-.3 1.3-.2 .8-.2 .4-.1 1.2-.4 1.2-.5 .7-.3 .5-.2 1.2-.6 .8-.4 .5-.1 1.2-.5 1.2-.5 .1-.1 1.1-.7 .7-.5 .5-.6 .5-.6 .5-1.2 .2-1.3 0-1.2-.1-1.2-.1-1.2-.2-1.2-.1-1.2-.2-1.3-.1-1.2-.3-1.2-.1-.4-.1-.8-.3-1.2-.2-1.3-.2-1.2 0-1.2 .1-1.2 .3-1.2 .4-1.2 .7-1.3 .6-.7 .4-.5 .8-.7 .7-.5z" fill="#2fc5a2" stroke="#2fc5a2" stroke-width="0.3" fill-rule="evenodd"/>
<path d="M647.2 44.3l.8-.4 .4 0 1.2 0 1.2 0 1.2 0 1.2 0 1.3 0 1.2 0 .4 0 .8 .3 1.2 .7 .2 .2 1 .8 .4 .4 .8 .9 .3 .3 .8 1.2 .2 .4 .4 .8 .5 1.3 .3 .9 .1 .3 .3 1.2 .4 1.2 .4 1.2 .5 1.2 .6 1.3 .1 .2 .5 1 .7 1.1 .1 .1 .8 1.2 .3 .4 .8 .8 .5 .6 .6 .7 .6 .6 .5 .6 .7 .7 .4 .5 .8 .8 .5 .4 .7 .6 .8 .6 .4 .3 1.3 .8 .3 .1 .9 .5 1.2 .5 .7 .3 .5 .2 1.2 .4 1.2 .4 .6 .2 .7 .1 1.2 .4 1.2 .3 1.2 .4 .1 0 1.1 .4 1.3 .4 1.2 .4 1.2 .3 1.2 .2 1.2 .3 1.2 .2 1.3 .2 .1 0 1.1 .2 1.2 .3 1.2 .1 1.2-.1 1.2-.1 0 .8 0 .3-1.2 .1-1.2 0-1.2 0-1.2-.2-1.2-.1-1.2-.1-.1 0-1.2-.1-1.2-.2-1.2-.2-1.2-.2-1.2-.3-.4-.2-.9-.2-1.2-.5-1.2-.4-.4-.1-.8-.2-1.2-.1-1.3-.2-1.2-.2-1.2-.3-.9-.2-.3-.1-1.2-.3-1.2-.4-1-.4-.3-.1-1.2-.7-.5-.4-.7-.6-.7-.7-.5-.5-.7-.7-.5-.6-.5-.6-.7-.8-.4-.4-.9-.9-.3-.3-.9-.9-.4-.3-.8-.9-.3-.4-.9-1.1-.1-.1-.7-1.2-.4-1-.1-.2-.4-1.2-.3-1.3-.4-1.2 0-.1-.3-1.1-.3-1.2-.4-1.2-.3-.7-.2-.5-.7-1.3-.3-.4-.7-.8-.5-.4-1.1-.8-.1-.1-1.2-.5-1.2-.4-1.3-.1-1.2 .1-1.2 .2-1.2 .5-.5 .3-.7 .5-.8 .7-.4 .5-.6 .7-.7 1.3-.4 1.2-.3 1.2-.1 1.2 0 1.2 .2 1.2 .2 1.3 .3 1.2 .1 .8 .1 .4 .3 1.2 .1 1.2 .2 1.3 .1 1.2 .2 1.2 .1 1.2 .1 1.2 0 1.2-.2 1.3-.5 1.2-.5 .6-.5 .6-.7 .5-1.1 .7-.1 .1-1.2 .5-1.2 .5-.5 .1-.8 .4-1.2 .6-.5 .2-.7 .3-1.2 .5-1.2 .4-.4 .1-.8 .2-1.3 .2-1.2 .3-1.2 .5-1.2 .7-.7 .5-.5 .3-1.2 .9 0-1.2 0-1.2 0-.9 .6-.3 .6-.3 1.2-.5 1.1-.5 .1 0 1.2-.3 1.2-.2 1.3-.2 1.2-.3 .4-.2 .8-.3 1.2-.7 .3-.2 .9-.6 1-.6 .2-.2 1.3-.7 .4-.3 .8-.7 .6-.5 .6-1 .1-.3 .3-1.2 .1-1.2 0-1.2 0-1.2-.2-1.2-.1-1.3-.2-.8-.1-.4-.2-1.2-.3-1.2-.3-1.2-.3-1.3 0-.3-.2-.9-.1-1.2 0-1.2 .1-1.2 .2-.9 0-.3 .4-1.3 .5-1.2 .3-.6 .3-.6 .9-1.2 1.2-1.2 .1 0z" fill="#3dc990" stroke="#3dc990" stroke-width="0.3" fill-rule="evenodd"/>
<path d="M642.3 43.9l1.2 0 1.2 0 1.2 0 1.3 0 .8 0-.8 .4-1.2 .8-.1 0-1.2 1.2-.9 1.2-.3 .6-.3 .6-.5 1.2-.4 1.3 0 .3-.2 .9-.1 1.2 0 1.2 .1 1.2 .2 .9 0 .3 .3 1.3 .3 1.2 .3 1.2 .2 1.2 .1 .4 .2 .8 .1 1.3 .2 1.2 0 1.2 0 1.2-.1 1.2-.3 1.2-.1 .3-.6 1-.6 .5-.8 .7-.4 .3-1.3 .7-.2 .2-1 .6-.9 .6-.3 .2-1.2 .7-.8 .3-.4 .2-1.2 .3-1.3 .2-1.2 .2-1.2 .3-.1 0-1.1 .5-1.2 .5-.6 .3-.6 .3 0-.3 0-1.3 0-.9 .7-.3 .5-.1 1.2-.3 1.2-.3 1.2-.1 1.2-.2 .8-.2 .5-.1 1.2-.5 1.1-.6 .1-.1 1.2-.9 .3-.2 .9-1 .3-.2 .9-1.3 .7-1.2 .3-1.2 .3-1.2 0-.3 0-.9 0-1.2 0-.5-.1-.8-.2-1.2-.2-1.2-.3-1.2-.4-1.2-.1-.4-.1-.9-.3-1.2-.2-1.2-.1-1.2 0-1.2 .1-1.2 .1-1.3 .3-1.2 .2-.7 .2-.5 .5-1.2 .6-1 .1-.2 .9-1.2zM656.9 43.9l1.2 0 1.2 0 1.2 0 1.1 1.2 .2 .2 .7 1 .5 .7 .3 .5 .6 1.2 .3 .8 .2 .4 .5 1.3 .4 1.2 .1 .2 .4 1 .5 1.2 .3 .7 .3 .5 .6 1.2 .3 .8 .3 .5 .7 1.2 .3 .4 .5 .8 .7 .9 .2 .3 1 1.1 .1 .1 1.1 1.2 0 .1 1.2 1.2 1.2 1.1 .2 .1 1.1 .8 .5 .4 .7 .5 1.2 .6 .1 .1 1.1 .6 1.2 .5 .3 .1 .9 .4 1.3 .5 .9 .4 .3 .1 1.2 .4 1.2 .4 .7 .3 .5 .2 1.3 .3 1.2 .3 1.2 .3 .7 .1 .5 .1 1.2 .2 1.2 .1 1.3 .2 1.2 .3 .9 .3 .3 .1 1.2 .2 1.2 0 1.2-.1 0 1 0 .4-1.2 .1-1.2 .1-1.2-.1-1.2-.3-1.1-.2-.1 0-1.3-.2-1.2-.2-1.2-.3-1.2-.2-1.2-.3-1.2-.4-1.3-.4-1.1-.4-.1 0-1.2-.4-1.2-.3-1.2-.4-.7-.1-.6-.2-1.2-.4-1.2-.4-.5-.2-.7-.3-1.2-.5-.9-.5-.3-.1-1.3-.8-.4-.3-.8-.6-.7-.6-.5-.4-.8-.8-.4-.5-.7-.7-.5-.6-.6-.6-.6-.7-.5-.6-.8-.8-.3-.4-.8-1.2-.1-.1-.7-1.1-.5-1-.1-.2-.6-1.3-.5-1.2-.4-1.2-.4-1.2-.3-1.2-.1-.3-.3-.9-.5-1.3-.4-.8-.2-.4-.8-1.2-.3-.3-.8-.9-.4-.4-1-.8-.2-.2-1.2-.7-.8-.3z" fill="#55cc7c" stroke="#55cc7c" stroke-width="0.3" fill-rule="evenodd"/>
<path d="M637.4 44.6l.4-.7 .8 0 1.2 0 1.3 0 1 0-.9 1.2-.1 .2-.6 1-.5 1.2-.2 .5-.2 .7-.3 1.2-.1 1.3-.1 1.2 0 1.2 .1 1.2 .2 1.2 .3 1.2 .1 .9 .1 .4 .4 1.2 .3 1.2 .2 1.2 .2 1.2 .1 .8 0 .5 0 1.2 0 .9 0 .3-.3 1.2-.3 1.2-.7 1.2-.9 1.3-.3 .2-.9 1-.3 .2-1.2 .9-.1 .1-1.1 .6-1.2 .5-.5 .1-.8 .2-1.2 .2-1.2 .1-1.2 .3-1.2 .3-.5 .1-.7 .3 0-.3 0-1.2 0-.9 1.2-.2 .8-.1 .4-.1 1.2-.1 1.2-.1 1.2-.1 1.3-.4 .7-.4 .5-.4 .9-.8 .3-.5 .5-.8 .5-1.2 .2-.6 .2-.6 .3-1.2 .2-1.2 .1-1.2 0-1.3-.1-1.2-.3-1.2-.3-1.2-.1-.2-.3-1-.3-1.3-.3-1.2-.2-1.2-.1-.6-.1-.6-.1-1.2 0-1.2 0-1.3 .2-1.2 .2-1.2 .4-1.2 .4-1.2zM660.5 43.9l1.3 0 1.2 0 .2 0 .9 1.2 .1 .2 .6 1 .6 1.2 .6 1.2 .5 1.2 .1 .4 .4 .9 .5 1.2 .3 .8 .2 .4 .7 1.2 .4 .8 .1 .4 .6 1.2 .5 1 .1 .3 .8 1.2 .3 .4 .6 .8 .6 .6 .5 .6 .7 .7 .5 .5 .7 .8 .5 .5 .8 .6 .6 .6 .6 .4 1 .8 .2 .1 1.2 .8 .6 .3 .6 .3 1.2 .6 .6 .3 .7 .3 1.2 .6 .6 .3 .6 .3 1.2 .5 1.2 .5 1.3 .2 1.2 .3 1.2 .2 1.2 .2 1.2 .1 1.2 0 1.3 .1 1.2 0 .1 .1 1.1 .3 1.2 .4 1.2 .2 1.2 .1 0 .2 0 1.2 0 .2-1.2 .1-1.2 0-1.2-.2-.3-.1-.9-.3-1.2-.3-1.3-.2-1.2-.1-1.2-.2-.5-.1-.7-.1-1.2-.3-1.2-.3-1.3-.3-.5-.2-.7-.3-1.2-.4-1.2-.4-.3-.1-.9-.4-1.3-.5-.9-.4-.3-.1-1.2-.5-1.1-.6-.1-.1-1.2-.6-.7-.5-.5-.4-1.1-.8-.2-.1-1.2-1.1-1.2-1.2 0-.1-1.1-1.2-.1-.1-1-1.1-.2-.3-.7-.9-.5-.8-.3-.4-.7-1.2-.3-.5-.3-.8-.6-1.2-.3-.5-.3-.7-.5-1.2-.4-1-.1-.2-.4-1.2-.5-1.3-.2-.4-.3-.8-.6-1.2-.3-.5-.5-.7-.7-1-.2-.2-1.1-1.2z" fill="#71cd64" stroke="#71cd64" stroke-width="0.3" fill-rule="evenodd"/>
<path d="M633.8 43.9l1.2 0 1.2 0 1.2 0 .4 0-.4 .7-.2 .5-.4 1.2-.4 1.2-.2 1.2-.2 1.2 0 1.3 0 1.2 .1 1.2 .1 .6 .1 .6 .2 1.2 .3 1.2 .3 1.3 .3 1 .1 .2 .3 1.2 .3 1.2 .1 1.2 0 1.3-.1 1.2-.2 1.2-.3 1.2-.2 .6-.2 .6-.5 1.2-.5 .8-.3 .5-.9 .8-.5 .4-.7 .4-1.3 .4-1.2 .1-1.2 .1-1.2 .1-.4 .1-.8 .1-1.2 .2 0-.3 0-1.2 0-1.2 1.2-.1 1.2-.1 1.2-.1 1.2-.2 1.2-.4 .6-.4 .7-.9 .1-.3 .3-1.2 .3-1.2 .1-1.2 .1-1.2 0-1.3-.1-1.2-.3-1.2-.3-1.2-.2-1.1-.1-.1-.3-1.3-.3-1.2-.2-1.2-.2-1.2-.1-1.2-.1-.5 0-.7 0-1.3 0-.6 .1-.6 .1-1.2 .3-1.2 .3-1.2 .4-1.2zM664.2 43.9l1.2 0 .1 0 .7 1.2 .4 .8 .2 .4 .6 1.2 .4 1.1 .1 .1 .5 1.2 .5 1.3 .2 .4 .3 .8 .6 1.2 .3 .6 .3 .6 .5 1.2 .4 .9 .2 .3 .7 1.3 .3 .3 .7 .9 .5 .5 .7 .7 .5 .6 .7 .6 .6 .5 .8 .7 .4 .4 1 .9 .2 .1 1.2 1 .1 .1 1.1 .7 1 .5 .2 .1 1.3 .7 .7 .4 .5 .2 1.2 .7 .6 .3 .6 .3 1.2 .5 1.3 .3 .4 .1 .8 .2 1.2 .2 1.2 .1 1.2 .2 1.2 .1 1.3 0 1.2 0 1.2 .2 1 .3 .2 0 1.2 .3 1.2 .3 0 .6 0 1-1.2-.1-1.2-.2-1.2-.4-1.1-.3-.1-.1-1.2 0-1.3-.1-1.2 0-1.2-.1-1.2-.2-1.2-.2-1.2-.3-1.3-.2-1.2-.5-1.2-.5-.6-.3-.6-.3-1.2-.6-.7-.3-.6-.3-1.2-.6-.6-.3-.6-.3-1.2-.8-.2-.1-1-.8-.6-.4-.6-.6-.8-.6-.5-.5-.7-.8-.5-.5-.7-.7-.5-.6-.6-.6-.6-.8-.3-.4-.8-1.2-.1-.3-.5-1-.6-1.2-.1-.4-.4-.8-.7-1.2-.2-.4-.3-.8-.5-1.2-.4-.9-.1-.4-.5-1.2-.6-1.2-.6-1.2-.6-1-.1-.2-.9-1.2z" fill="#90ca4d" stroke="#90ca4d" stroke-width="0.3" fill-rule="evenodd"/>
<path d="M630.1 43.9l1.2 0 1.2 0 1.2 0-.4 1.2-.3 1.2-.3 1.2-.1 1.2-.1 .6 0 .6 0 1.3 0 .7 .1 .5 .1 1.2 .2 1.2 .2 1.2 .3 1.2 .3 1.3 .1 .1 .2 1.1 .3 1.2 .3 1.2 .1 1.2 0 1.3-.1 1.2-.1 1.2-.3 1.2-.3 1.2-.1 .3-.7 .9-.6 .4-1.2 .4-1.2 .2-1.2 .1-1.2 .1-1.2 .1 0-1.3 0-1.2 0-1.2 0-.8 1.2-.4 1.2-1.1 .1-.1 .5-1.2 .2-1.3 0-1.2-.1-1.2-.2-1.2-.2-1.2-.2-1.3-.1-.9-.1-.3-.1-1.2-.2-1.2-.1-1.2 0-1.2 0-1.3 .1-1.2 .1-1.2 .2-1.2 .1-.4 .2-.8 .3-1.2zM666.6 43.9l1 0 .2 .3 .4 .9 .6 1.2 .3 .7 .1 .5 .5 1.2 .5 1.2 .1 .3 .3 1 .5 1.2 .4 .8 .1 .4 .5 1.2 .6 1.2 0 .1 .7 1.1 .5 .7 .5 .6 .7 .7 .6 .5 .7 .6 .7 .6 .5 .4 .9 .8 .3 .2 1.2 1 1.2 .9 .5 .4 .7 .4 1.3 .7 .1 .1 1.1 .5 1.2 .7 1.2 .6 1.2 .5 .3 .1 1 .3 1.2 .3 1.2 .4 .9 .2 .3 .1 1.2 .3 1.2 .2 1.3 .1 1.2 .1 1.2 .1 1.2 .2 1.1 .1 .1 .1 1.2 .2 0 1 0 .6-1.2-.3-1.2-.3-.2 0-1-.3-1.2-.2-1.2 0-1.3 0-1.2-.1-1.2-.2-1.2-.1-1.2-.2-.8-.2-.4-.1-1.3-.3-1.2-.5-.6-.3-.6-.3-1.2-.7-.5-.2-.7-.4-1.3-.7-.2-.1-1-.5-1.1-.7-.1-.1-1.2-1-.2-.1-1-.9-.4-.4-.8-.7-.6-.5-.7-.6-.5-.6-.7-.7-.5-.5-.7-.9-.3-.3-.7-1.3-.2-.3-.4-.9-.5-1.2-.3-.6-.3-.6-.6-1.2-.3-.8-.2-.4-.5-1.3-.5-1.2-.1-.1-.4-1.1-.6-1.2-.2-.4-.4-.8-.7-1.2z" fill="#adc638" stroke="#adc638" stroke-width="0.3" fill-rule="evenodd"/>
<path d="M627.7 43.9l1.2 0 .5 0-.3 1.2-.2 .8-.1 .4-.2 1.2-.1 1.2-.1 1.2 0 1.3 0 1.2 .1 1.2 .2 1.2 .1 1.2 .1 .3 .1 .9 .2 1.3 .2 1.2 .2 1.2 .1 1.2 0 1.2-.2 1.3-.5 1.2-.1 .1-1.2 1.1-1.2 .4 0-.4 0-1.2 0-1.2 0-1.3 0-1.2 0-1.2 0-1.2 0-1.2 0-1.3 0-1.2 0-1.2 0-1.2 0-1.2 0-1.2 0-1.3 0-1.2 0-1.2 0-1.2 0-1.2 0-1.2zM667.8 43.9l1.3 0 .6 0 .5 1.2 .1 .3 .3 .9 .5 1.2 .4 1.2 0 .1 .4 1.1 .4 1.3 .4 1 .1 .2 .4 1.2 .5 1.2 .2 .6 .4 .6 .8 1.1 .2 .1 1.1 1 .3 .3 .9 .7 .7 .5 .5 .4 1 .8 .2 .1 1.2 1 .2 .1 1 .8 .9 .4 .4 .3 1.2 .6 .7 .4 .5 .2 1.2 .5 1.2 .5 1.3 .4 1.2 .4 1 .4 .2 .1 1.2 .5 1.2 .6 .1 0 1.1 .4 1.3 .3 1.2 .1 1.2 0 1.2 .1 1.2 .1 1.2 .1 0 .1 0 1.2 0 .3-1.2-.2-.1-.1-1.1-.1-1.2-.2-1.2-.1-1.2-.1-1.3-.1-1.2-.2-1.2-.3-.3-.1-.9-.2-1.2-.4-1.2-.3-1-.3-.3-.1-1.2-.5-1.2-.6-1.2-.7-1.1-.5-.1-.1-1.3-.7-.7-.4-.5-.4-1.2-.9-1.2-1-.3-.2-.9-.8-.5-.4-.7-.6-.7-.6-.6-.5-.7-.7-.5-.6-.5-.7-.7-1.1 0-.1-.6-1.2-.5-1.2-.1-.4-.4-.8-.5-1.2-.3-1-.1-.3-.5-1.2-.5-1.2-.1-.5-.3-.7-.6-1.2-.4-.9-.2-.3z" fill="#c8c129" stroke="#c8c129" stroke-width="0.3" fill-rule="evenodd"/>
<path d="M670.3 43.9l1.2 0 .1 0 .5 1.2 .4 1.2 .2 .6 .2 .6 .4 1.2 .4 1.2 .2 .7 .2 .6 .4 1.2 .4 1.2 .2 .7 .3 .5 .9 1.2 .1 .1 1.2 1 .1 .1 1.1 .9 .5 .4 .7 .5 .9 .7 .3 .2 1.2 .9 .2 .1 1.1 .7 1 .5 .2 .1 1.2 .6 1.2 .5 .2 0 1 .4 1.3 .4 1.2 .4 .1 .1 1.1 .3 1.2 .6 .4 .3 .8 .5 1.2 .7 .1 0 1.2 .5 1.2 .2 1.2 0 1.2 0 1.2 .1 1.2 0 0 .4 0 1.1-1.2-.1-1.2-.1-1.2-.1-1.2 0-1.2-.1-1.3-.3-1.1-.4-.1 0-1.2-.6-1.2-.5-.2-.1-1-.4-1.2-.4-1.3-.4-1.2-.5-1.2-.5-.5-.2-.7-.4-1.2-.6-.4-.3-.9-.4-1-.8-.2-.1-1.2-1-.2-.1-1-.8-.5-.4-.7-.5-.9-.7-.3-.3-1.1-1-.2-.1-.8-1.1-.4-.6-.2-.6-.5-1.2-.4-1.2-.1-.2-.4-1-.4-1.3-.4-1.1 0-.1-.4-1.2-.5-1.2-.3-.9-.1-.3-.5-1.2z" fill="#e0bc2a" stroke="#e0bc2a" stroke-width="0.3" fill-rule="evenodd"/>
<path d="M672.7 43.9l.9 0 .3 .8 .2 .4 .4 1.2 .4 1.2 .2 .7 .2 .5 .4 1.2 .4 1.3 .3 .8 .1 .4 .5 1.2 .6 1 .1 .2 1.1 1.1 .1 .1 1.1 1 .3 .2 .9 .8 .6 .5 .6 .4 1.2 .8 .1 0 1.2 .7 1.1 .5 .1 .1 1.2 .4 1.2 .4 .9 .3 .4 .2 1.2 .3 1.2 .5 .6 .2 .6 .3 1.2 .6 .6 .4 .6 .4 1.3 .6 .5 .2 .7 .2 1.2 .1 1.2 0 1.2 .1 1.2 0 0 .8 0 .8-1.2 0-1.2-.1-1.2 0-1.2 0-1.2-.2-1.2-.5-.1 0-1.2-.7-.8-.5-.4-.3-1.2-.6-1.1-.3-.1-.1-1.2-.4-1.3-.4-1-.4-.2 0-1.2-.5-1.2-.6-.2-.1-1-.5-1.1-.7-.2-.1-1.2-.9-.3-.2-.9-.7-.7-.5-.5-.4-1.1-.9-.1-.1-1.2-1-.1-.1-.9-1.2-.3-.5-.2-.7-.4-1.2-.4-1.2-.2-.6-.2-.7-.4-1.2-.4-1.2-.2-.6-.2-.6-.4-1.2-.5-1.2z" fill="#f3ba39" stroke="#f3ba39" stroke-width="0.3" fill-rule="evenodd"/>
<path d="M673.9 43.9l1.2 0 .6 0 .5 1.2 .2 .5 .2 .7 .4 1.2 .5 1.2 .1 .3 .3 .9 .4 1.3 .5 1.2 .6 1.2 .6 .9 .3 .3 .9 1 .2 .2 1 1 .4 .2 .9 .7 .9 .6 .3 .1 1.2 .6 1.2 .4 .1 .1 1.1 .4 1.3 .3 1.2 .4 .1 .1 1.1 .4 1.2 .4 .9 .4 .3 .2 1.2 .6 1.1 .4 .2 .1 1.2 .5 1.2 .3 1.2 .1 1.2 .1 1.2 0 0 .2 0 1.2 0 .4-1.2 0-1.2-.1-1.2 0-1.2-.1-.7-.2-.5-.2-1.3-.6-.6-.4-.6-.4-1.2-.6-.6-.3-.6-.2-1.2-.5-1.2-.3-.4-.2-.9-.3-1.2-.4-1.2-.4-.1-.1-1.1-.5-1.2-.7-.1 0-1.2-.8-.6-.4-.6-.5-.9-.8-.3-.2-1.1-1-.1-.1-1.1-1.1-.1-.2-.6-1-.5-1.2-.1-.4-.3-.8-.4-1.3-.4-1.2-.2-.5-.2-.7-.4-1.2-.4-1.2-.2-.4-.3-.8z" fill="#fec13a" stroke="#fec13a" stroke-width="0.3" fill-rule="evenodd"/>
<path d="M676.4 43.9l1.2 0 .3 0 .5 1.2 .4 1.2 .4 1.2 .5 1.2 .3 1 .1 .2 .5 1.3 .5 1.2 .1 .1 .7 1.1 .5 .8 .4 .4 .9 .9 .3 .3 .9 .7 1.1 .5 .1 .1 1.2 .5 1.2 .4 .9 .3 .4 .1 1.2 .4 1.2 .4 .8 .3 .4 .1 1.2 .5 1.2 .5 .4 .1 .9 .4 1.2 .4 1.2 .3 .5 .1 .7 .1 1.2 .2 1.2 .1 0 .8 0 1.1-1.2 0-1.2-.1-1.2-.1-1.2-.3-1.2-.5-.2-.1-1.1-.4-1.2-.6-.3-.2-.9-.4-1.2-.4-1.1-.4-.1-.1-1.2-.4-1.3-.3-1.1-.4-.1-.1-1.2-.4-1.2-.6-.3-.1-.9-.6-.9-.7-.4-.2-1-1-.2-.2-.9-1-.3-.3-.6-.9-.6-1.2-.5-1.2-.4-1.3-.3-.9-.1-.3-.5-1.2-.4-1.2-.2-.7-.2-.5-.5-1.2z" fill="#fdcd31" stroke="#fdcd31" stroke-width="0.3" fill-rule="evenodd"/>
<path d="M678.8 43.9l1.2 0 .2 0 .4 1.2 .5 1.2 .1 .4 .3 .8 .5 1.2 .4 1.1 .1 .1 .6 1.3 .6 1 .1 .2 .9 1.2 .2 .2 1.1 1 .1 .1 1.2 .6 1.1 .5 .1 .1 1.3 .4 1.2 .4 .9 .3 .3 .1 1.2 .4 1.2 .5 .9 .3 .3 .1 1.3 .4 1.2 .4 1 .3 .2 0 1.2 .3 1.2 .2 1.2 .1 0 .6 0 1.2 0 .4-1.2-.1-1.2-.2-.7-.1-.5-.1-1.2-.3-1.2-.4-.9-.4-.4-.1-1.2-.5-1.2-.5-.4-.1-.8-.3-1.2-.4-1.2-.4-.4-.1-.9-.3-1.2-.4-1.2-.5-.1-.1-1.1-.5-.9-.7-.3-.3-.9-.9-.4-.4-.5-.8-.7-1.1-.1-.1-.5-1.2-.5-1.3-.1-.2-.3-1-.5-1.2-.4-1.2-.4-1.2-.5-1.2z" fill="#f7db2b" stroke="#f7db2b" stroke-width="0.3" fill-rule="evenodd"/>
<path d="M681.2 43.9l1.2 0 .3 0 .4 1.2 .5 1.2 .1 .1 .4 1.1 .6 1.2 .2 .4 .4 .8 .8 1.2 0 .1 1.2 1.2 1.2 .9 .5 .3 .8 .4 1.2 .5 .7 .3 .5 .2 1.2 .4 1.2 .4 .6 .2 .6 .3 1.3 .3 1.2 .4 .9 .2 .3 .1 1.2 .3 1.2 .2 1.2 .1 0 .6 0 1.2 0 .6-1.2-.1-1.2-.2-1.2-.3-.2 0-1-.3-1.2-.4-1.3-.4-.3-.1-.9-.3-1.2-.5-1.2-.4-.3-.1-.9-.3-1.2-.4-1.3-.4-.1-.1-1.1-.5-1.2-.6-.1-.1-1.1-1-.2-.2-.9-1.2-.1-.2-.6-1-.6-1.3-.1-.1-.4-1.1-.5-1.2-.3-.8-.1-.4-.5-1.2-.4-1.2z" fill="#f5e825" stroke="#f5e825" stroke-width="0.3" fill-rule="evenodd"/>
<path d="M683.7 43.9l1.2 0 1.2 0 1.2 0 1.2 0 1.3 0 1.2 0 1.2 0 1.2 0 1.2 0 1.2 0 1.3 0 1.2 0 1.2 0 1.2 0 1.2 0 1.2 0 0 1.2 0 1.2 0 1.2 0 1.2 0 1.2 0 1.3 0 1.2 0 1.2 0 1.2 0 1.2 0 1.2 0 .7-1.2-.1-1.2-.2-1.2-.3-.3-.1-.9-.2-1.2-.4-1.3-.3-.6-.3-.6-.2-1.2-.4-1.2-.4-.5-.2-.7-.3-1.2-.5-.8-.4-.5-.3-1.2-.9-1.2-1.2 0-.1-.8-1.2-.4-.8-.2-.4-.6-1.2-.4-1.1-.1-.1-.5-1.2-.4-1.2z" fill="#f7f51b" stroke="#f7f51b" stroke-width="0.3" fill-rule="evenodd"/>
<path d="M703.1 118.7l-1.2 .1-1.2 .2-1.2 .2-.5 .1-.7 .2-1.2 .3-1.3 .3-1.2 .4-.1 0M683.1 120.5l-.7-.5-.5-.7-.7-1.1 0-.1-.3-1.2-.1-1.2 .2-1.2 .2-1.2 0-.1 .2-1.2 .1-1.2 0-1.2-.2-1.2-.1-.2-.2-1-.5-1.3-.5-.8-.1-.4-.7-1.2-.4-.5-.5-.7-.7-1-.2-.2-1-1.3-1.1-1.2-.2-.1-1.1-1.1-.1 0-1.2-.8-.6-.4-.6-.4-1.2-.7-.3-.1-.9-.4-1.3-.4-1.2-.2-1.2-.1-1.2 0-1.2-.1-1.2 0-1.3 0-1.2 0-1.2 .1-1.2 .1-1.2 0-1.2 .1-1.3 .1-1.2 .3-1.2 .4-.1 .1-1.1 .7-.6 .5-.6 .6-.6 .6-.6 1-.2 .2-.8 1.2-.3 .6-.3 .7-.5 1.2-.1 1.2 .1 1.2 .1 1.2-.1 1.3-.4 .6-.6 .6-.6 .4-1.1 .8-.1 .1-1.1 1.1-.1 .3-.6 .9-.5 1.2-.2 .5-.2 .8-.3 1.2-.3 1.2-.3 1.2-.1 .1-.3 1.1-.4 1.2" fill="none" stroke="#1a1a1a" stroke-width="0.6"/>
<path d="M703.1 90.2l-1.2 0-1.2 .4-1 .7-.2 .1-1.2 .8-.6 .3-.6 .3-1.3 .5-1.2 .4 0 .1-1.2 .4-1.2 .4-1.1 .4-.1 0-1.2 .4-1.3 .4-1.2 .3-.4 .1-.8 .1-1.2 .1-1.2-.2-.2 0-1.1-.3-1.2-.4-1.2-.5-1.2-.5-1.2-.5-.4-.2-.8-.5-1-.8-.3-.1-1.1-1.1-.1-.1-1.1-1.1-.1 0-1.1-1.2-.1-.1-1.2-1.1-.1 0-1.1-.6-1.3-.1-1.2 .1-1.2 .2-1.2 .2-1.2 .2-.2 0-1 .1-1.3 .3-1.2 .3-1.2 .3-1 .2-.2 0-1.2 .2-1.2 .1-1.3 0-1.2-.1-1.2-.1-1.2 0-1.2 .2-1.2 .3-1.3 .4-.7 .2-.5 .2-1.2 .6-1 .4-.2 .2-1.2 .7-.6 .3-.7 .5-.7 .8-.5 .5-.5 .7-.7 1-.1 .2-.7 1.2-.4 .7-.3 .5-.8 1.2-.1 .2-.9 1.1-.3 .3-.8 .9-.5 .5-.6 .7-.6 .6-.5 .6-.7 .8-.4 .4-.8 1-.3 .3-.9 1.1-.1 .1-1.1 1.2" fill="none" stroke="#1a1a1a" stroke-width="0.6"/>
<path d="M703.1 81.1l-1.2-.4-1.2-.2-1.2 .1-1.2 .2-1.2 .3-1.3 .3-.7 .2-.5 .1-1.2 .3-1.2 .3-1.2 .2-1.2 .2-.5 .1-.8 .1-1.2 .1-1.2 .1-1.2 .1-1.2 .1-1.3 .2-1.2 .2-.8 .3-.4 .2-1.2 .6-1 .4-.2 .1-1.2 .2-1.3-.1-.4-.2-.8-.3-1.2-.8-.1-.1-1.1-.7-1.2-.5-1.2-.4-1.3-.2-1.2 0-1.2 .2-1.2 .3-.4 .1-.8 .1-1.2 0-1.3-.1-1.2 .1-1.2 .2-1.2 .5-.7 .4-.5 .3-1.2 .6-1 .3-.3 .1-1.2 0-.1-.1-1.1-.4-1.2-.4-1.2-.2-1.2-.1-1.3 0-1.2 .1-1.2 .2-1.2 .3-1.2 .5-.2 0-1.1 .4-1.2 .5-1 .4-.2 0-1.2 .6-1.1 .6-.1 .1-1.2 .8-.4 .3-.9 .7-.5 .5-.7 .7-.6 .5-.6 .6-.6 .6-.6 .6-.7 .7-.5 .4-.9 .8-.3 .3M654.5 58.4l-.1 .1-.4 1.2 .1 1.2 .2 1.2-.1 1.2-.2 1.3 .5 1.2 1.2 .6 1.2-.6 .3-1.2-.2-1.3-.1-1 0-.2 0-.3 .1-.9-.1-1.2 0-.2-.8-1-.4-.4-1.2 .3" fill="none" stroke="#1a1a1a" stroke-width="0.6"/>
<path d="M703.1 77.7l-1.2 .1-1.2 .1-1.2-.1-1.2-.2-1.2-.2-1.3-.2-1.2-.1-1.2-.3-.6-.1-.6-.1-1.2-.3-1.2-.3-1.3-.5-.1 0-1.1-.4-1.2-.4-1.2-.3-.6-.1-.6-.1-1.3-.3-1.2-.3-1.2-.4-.5-.1-.7-.3-1.2-.4-1.2-.5-.1 0-1.2-.6-.9-.7-.3-.1-1.2-1 0-.1-1.2-1.1-.1-.1-1.1-1.2-1.1-1.2-.1-.2-1.1-1-.2-.2-.9-1.1-.3-.3-.7-.9-.5-.7-.4-.5-.6-1.2-.2-.4-.3-.8-.5-1.3-.4-1.1-.1-.1-.3-1.2-.3-1.2-.3-1.2-.2-.6-.3-.6-.5-1.3-.5-.7-.2-.5-1-1.1 0-.1-1.2-1-.4-.2-.8-.5-1.2-.6-.6-.1-.6-.2-1.3-.2-1.2 0-1.2 .1-1 .3-.2 0-1.2 .6-1 .6-.2 .2-1.1 1-.2 .2-.7 1-.5 .9-.2 .3-.4 1.3-.4 1.2-.1 1.2-.1 1 0 .2 0 .1 .1 1.1 .2 1.2 .2 1.3 .3 1.2 .3 1.2 .1 .8 .1 .4 .2 1.2 .2 1.3 .1 1.2 .2 1.2 .1 1.2 0 1.2-.1 1.2-.4 1.3-.4 .5-.6 .7-.6 .5-1.1 .7-.1 0-1.2 .7-1.2 .5-.1 0-1.2 .7-.9 .5-.3 .2-1.2 .6-1.2 .4-.1 0-1.1 .3-1.3 .2-1.2 .2-1.2 .4-.3 .2-.9 .4-1.2 .7-.2 .1-1 .6" fill="none" stroke="#1a1a1a" stroke-width="0.6"/>
<path d="M635.2 43.9l-.2 .6-.2 .6-.4 1.2-.3 1.2-.1 1.2-.1 1.2 0 1.3 0 1.2 .1 1.2 .2 1.2 .3 1.2 .3 1.2 .2 .9 .1 .4 .3 1.2 .3 1.2 .3 1.2 .1 1.2 0 1.3-.1 1.2-.2 1.2-.3 1.2-.2 1.2-.3 .8-.2 .4-1 1.2-.1 .1-1.2 .5-1.2 .2-1.2 .1-1.2 .1-1.2 0-1.2 .2M703.1 73.1l-1.2-.2-1.2-.3-1.2-.4-1.2-.3-1.2 0-1.3 0-1.2 0-.2 0-1-.2-1.2-.1-1.2-.2-1.2-.2-1.3-.3-.7-.3-.5-.2-1.2-.6-.8-.4-.4-.2-1.2-.7-.7-.3-.6-.3-1.2-.6-.5-.3-.7-.5-1.1-.7-.1-.1-1.2-1-.1-.1-1.1-1-.3-.3-1-.9-.2-.3-1-.9-.2-.3-1-1.1-.1-.1-.9-1.2-.2-.4-.5-.9-.5-1.2-.2-.4-.4-.8-.6-1.2-.2-.5-.4-.7-.5-1.2-.4-.9-.1-.4-.5-1.2-.5-1.2-.1-.1-.5-1.1-.7-1.2 0-.1-.7-1.1" fill="none" stroke="#1a1a1a" stroke-width="0.6"/>
<path d="M703.1 68.2l-1.2-.1-1.2 0-1.2 0-1.2-.1-1.2-.1-1.3-.5-.8-.4-.4-.2-1.2-.8-.5-.2-.7-.4-1.2-.4-1.2-.4-.2 0-1.1-.4-1.2-.4-1-.5-.2-.1-1.2-.5-1.1-.6-.1 0-1.3-.8-.5-.4-.7-.5-.9-.7-.3-.2-1.2-.9-.2-.1-1-.8-.5-.5-.7-.6-.6-.6-.7-.8-.2-.4-.5-1.2-.4-1.2-.1-.3-.3-.9-.4-1.3-.4-1.2-.1-.3-.3-.9-.4-1.2-.4-1.2-.1-.3-.4-.9" fill="none" stroke="#1a1a1a" stroke-width="0.6"/>
<circle cx="655.6" cy="55.2" r="0.85" fill="#111"/>
<circle cx="673.3" cy="54.9" r="0.85" fill="#111"/>
<circle cx="642.4" cy="66.6" r="0.85" fill="#111"/>
<circle cx="653.8" cy="68.7" r="0.85" fill="#111"/>
<circle cx="664.8" cy="68.7" r="0.85" fill="#111"/>
<circle cx="675.8" cy="68.4" r="0.85" fill="#111"/>
<circle cx="687.2" cy="66.9" r="0.85" fill="#111"/>
<circle cx="633.6" cy="72.6" r="0.85" fill="#111"/>
<circle cx="696.0" cy="72.6" r="0.85" fill="#111"/>
<circle cx="658.4" cy="77.2" r="0.85" fill="#111"/>
<circle cx="664.8" cy="77.6" r="0.85" fill="#111"/>
<circle cx="671.5" cy="77.2" r="0.85" fill="#111"/>
<circle cx="645.3" cy="76.5" r="0.85" fill="#111"/>
<circle cx="684.3" cy="76.5" r="0.85" fill="#111"/>
<circle cx="637.1" cy="84.0" r="0.85" fill="#111"/>
<circle cx="650.2" cy="84.0" r="0.85" fill="#111"/>
<circle cx="664.8" cy="84.0" r="0.85" fill="#111"/>
<circle cx="679.0" cy="84.0" r="0.85" fill="#111"/>
<circle cx="692.1" cy="84.0" r="0.85" fill="#111"/>
<circle cx="644.6" cy="92.5" r="0.85" fill="#111"/>
<circle cx="658.4" cy="91.8" r="0.85" fill="#111"/>
<circle cx="671.5" cy="91.8" r="0.85" fill="#111"/>
<circle cx="685.0" cy="92.5" r="0.85" fill="#111"/>
<circle cx="642.4" cy="101.4" r="0.85" fill="#111"/>
<circle cx="654.1" cy="99.6" r="0.85" fill="#111"/>
<circle cx="664.8" cy="99.6" r="0.85" fill="#111"/>
<circle cx="675.4" cy="100.0" r="0.85" fill="#111"/>
<circle cx="687.2" cy="101.4" r="0.85" fill="#111"/>
<circle cx="658.1" cy="113.8" r="0.85" fill="#111"/>
<circle cx="664.8" cy="114.2" r="0.85" fill="#111"/>
<circle cx="671.5" cy="113.8" r="0.85" fill="#111"/>
</g>
<circle cx="664.8" cy="82.2" r="35.50" fill="none" stroke="#111" stroke-width="1.4"/>
<path d="M658.5 47.1 L664.8 40.8 L671.1 47.1" fill="none" stroke="#111" stroke-width="1.3" stroke-linejoin="miter"/>
<path d="M627.1 181.8 H624.1 Q621.7 181.8 621.7 184.2 V195.7 Q621.7 198.1 624.1 198.1 H627.1" fill="#fff" stroke="#2a2a2a" stroke-width="1.2"/><path d="M698.9 181.8 H701.9 Q704.3 181.8 704.3 184.2 V195.7 Q704.3 198.1 701.9 198.1 H698.9" fill="#fff" stroke="#2a2a2a" stroke-width="1.2"/>
<clipPath id="cR2"><circle cx="663" cy="188.1" r="36.90"/></clipPath>
<g clip-path="url(#cR2)">
<circle cx="663" cy="188.1" r="37.90" fill="#05b6ce"/>
<path d="M702.9 223.7l0 .5 0 1.2 0 1.3 0 1.3-1.3 0-1.3 0-.7 0 .7-1 .3-.3 1-1.3 .9-1.2z" fill="#4755f6" stroke="#4755f6" stroke-width="0.3" fill-rule="evenodd"/>
<path d="M702.9 217.1l0 .7 0 1.3 0 1.3 0 1.2 0 1.3 0 .8-.4 .5-.9 1.2-1 1.3-.3 .3-.7 1-.5 0-1.3 0-1.3 0-1.2 0-.9 0 .9-.9 .3-.4 .9-1 .2-.3 1.1-1.2 1-1.3 .3-.3 .7-1 .5-.7 .4-.5 .9-1.3 .8-1.3z" fill="#4661fc" stroke="#4661fc" stroke-width="0.3" fill-rule="evenodd"/>
<path d="M702.9 210l0 .2 0 1.3 0 1.3 0 1.2 0 1.3 0 1.3 0 .5-.5 .7-.8 1.3-.9 1.3-.4 .5-.5 .7-.7 1-.3 .3-1 1.3-1.1 1.2-.2 .3-.9 1-.3 .4-.9 .9-.4 0-1.3 0-1.2 0-1.3 0-1.3 0-.1 0 .1-.2 1.3-1.1 .1 0 1.2-1.1 .1-.2 1.1-1 .3-.2 1-1.1 .2-.2 1.1-1.1 .1-.2 1.1-1.2 0-.1 1-1.2 .3-.3 .7-1 .6-.8 .3-.4 .8-1.3 .1-.3 .6-1 .7-1.2 0-.1 .6-1.2 .5-1.3z" fill="#406dfe" stroke="#406dfe" stroke-width="0.3" fill-rule="evenodd"/>
<path d="M652.2 151.4l1.3 0 1.2 .6 .1 .1 1.1 1.2 .1 .2 .5 1.1 .3 1.2 0 1.3-.2 1.3-.4 1.2-.2 .3-1 1-.2 .1-.8-.1-.5-.1-1.3-.9-.2-.3-.6-1.2-.4-1.3-.2-1.3-.1-1.2 .1-1.3 .2-.5 .4-.8zM702.9 200.6l0 .8 0 1.2 0 1.3 0 1.3 0 1.2 0 1.3 0 1.3 0 1-.2 .2-.5 1.3-.6 1.2 0 .1-.7 1.2-.6 1-.1 .3-.8 1.3-.3 .4-.6 .8-.7 1-.3 .3-1 1.2 0 .1-1.1 1.2-.1 .2-1.1 1.1-.2 .2-1 1.1-.3 .2-1.1 1-.1 .2-1.2 1.1-.1 0-1.3 1.1-.1 .2-1.1 0-1.3 0-1.3 0-1.2 0-1.3 0-.3 0 .3-.3 1.3-.9 .2-.1 1-.8 .7-.5 .6-.4 1.1-.8 .2-.2 1.2-1 .2-.1 1.1-.9 .4-.4 .9-.7 .5-.5 .7-.7 .6-.6 .7-.7 .5-.6 .8-.8 .3-.4 .9-1.1 .1-.2 .9-1.3 .3-.4 .5-.8 .7-1.3 .1-.1 .5-1.2 .6-1.2 .1-.4 .4-.9 .4-1.3 .4-1.2 .1-.5 .2-.8 .4-1.3 .4-1.2z" fill="#347afd" stroke="#347afd" stroke-width="0.3" fill-rule="evenodd"/>
<path d="M643.4 148.2l1.3 0 1.2 0 1.3 0 1.3 0 1.2 0 1.3 0 1.2 0 1.3 0 1.3 0 1.2 0 1.3 0 .1 0 .8 1.3 .4 .6 .3 .7 .4 1.2 .3 1.3 .1 1.3 .1 1.2-.1 1.3-.4 1.3-.3 1.2-.1 1.3-.2 1.3-.1 .3-.8 .9-.5 .5-1.3 .2-1.2-.3-1-.4-.3-.1-1.3-.7-.5-.4-.7-.8-.5-.5-.7-1.3-.1 0-.8-1.2-.4-.8-.4-.5-.9-1.2 0-.1-.9-1.2-.4-.6-.5-.7-.7-1.2-.1-.1-.8-1.2-.4-.8-.3-.5-.7-1.3zM651.4 152l-.4 .8-.2 .5-.1 1.3 .1 1.2 .2 1.3 .4 1.3 .6 1.2 .2 .3 1.3 .9 .5 .1 .8 .1 .2-.1 1-1 .2-.3 .4-1.2 .2-1.3 0-1.3-.3-1.2-.5-1.1-.1-.2-1.1-1.2-.1-.1-1.2-.6-1.3 0zM702.9 193.7l0 .1 0 1.3 0 1.2 0 1.3 0 1.3 0 1.2 0 .5-.3 .8-.4 1.2-.4 1.3-.2 .8-.1 .5-.4 1.2-.4 1.3-.4 .9-.1 .4-.6 1.2-.5 1.2-.1 .1-.7 1.3-.5 .8-.3 .4-.9 1.3-.1 .2-.9 1.1-.3 .4-.8 .8-.5 .6-.7 .7-.6 .6-.7 .7-.5 .5-.9 .7-.4 .4-1.1 .9-.2 .1-1.2 1-.2 .2-1.1 .8-.6 .4-.7 .5-1 .8-.2 .1-1.3 .9-.3 .3-1 0-1.2 0-1.3 0-1.3 0-1.2 0-1.3 0-1.2 0-1.3 0-1.3 0 0-.1 1.3-.2 1.3-.3 1.2-.4 .9-.3 .4-.2 1.2-.5 1.1-.6 .2-.1 1.3-.7 .6-.4 .6-.4 1.3-.8 .1-.1 1.2-.7 .8-.6 .4-.3 1.3-.8 .2-.1 1.1-.7 .8-.6 .4-.3 1.3-1 1.3-1 .2-.2 1-1 .3-.3 1-1.1 .2-.2 1-1.2 .1-.1 .8-1.2 .4-.8 .3-.5 .7-1.2 .3-.8 .2-.5 .5-1.3 .3-1.2 .3-.9 .1-.4 .2-1.3 .3-1.2 .3-1.3 .3-1.2 .5-1.3 .6-1.3 .2-.4 .4-.8 .8-1.3z" fill="#2e86f7" stroke="#2e86f7" stroke-width="0.3" fill-rule="evenodd"/>
<path d="M632 148.2l1.3 0 1.2 0 1.3 0 1.3 0 1.2 0 1.3 0 1.3 0 1.2 0 .3 0 .7 1.3 .3 .5 .4 .8 .8 1.2 .1 .1 .7 1.2 .5 .7 .4 .6 .9 1.2 0 .1 .9 1.2 .4 .5 .4 .8 .8 1.2 .1 0 .7 1.3 .5 .5 .7 .8 .5 .4 1.3 .7 .3 .1 1 .4 1.2 .3 1.3-.2 .5-.5 .8-.9 .1-.3 .2-1.3 .1-1.3 .3-1.2 .4-1.3 .1-1.3-.1-1.2-.1-1.3-.3-1.3-.4-1.2-.3-.7-.4-.6-.8-1.3 1.2 0 1.2 0 1.1 0 .2 .5 .3 .8 .6 1.3 .4 .9 .1 .3 .2 1.3 0 1.3-.1 1.2-.2 1.3 0 .1-.4 1.2-.6 1.2-.3 .8-.2 .5-.5 1.3-.5 1.2-.1 .4-.3 .9-.2 1.3-.5 1.2-.2 .2-1.3 .1-.9-.3-.4-.1-1.2-.7-.8-.4-.5-.3-1.3-.8-.3-.2-.9-.7-.7-.6-.6-.5-.8-.7-.4-.6-.7-.7-.6-.7-.6-.6-.7-.6-.7-.6-.5-.6-.9-.7-.4-.4-1.1-.9-.2-.2-1.2-1-.1 0-1.2-1-.5-.3-.8-.6-.9-.7-.3-.2-1.3-.9-.3-.1-1-.7-.9-.6-.3-.2-1.3-.8-.4-.3zM702.9 189.1l0 .9 0 1.3 0 1.2 0 1.2-.1 .1-.8 1.3-.4 .8-.2 .4-.6 1.3-.5 1.3-.3 1.2-.3 1.3-.3 1.2-.2 1.3-.1 .4-.3 .9-.3 1.2-.5 1.3-.2 .5-.3 .8-.7 1.2-.3 .5-.4 .8-.8 1.2-.1 .1-1 1.2-.2 .2-1 1.1-.3 .3-1 1-.2 .2-1.3 1-1.3 1-.4 .3-.8 .6-1.1 .7-.2 .1-1.3 .8-.4 .3-.8 .6-1.2 .7-.1 .1-1.3 .8-.6 .4-.6 .4-1.3 .7-.2 .1-1.1 .6-1.2 .5-.4 .2-.9 .3-1.2 .4-1.3 .3-1.3 .2 0 .1-1.2 0-1.3 0-1.3 0-1.2 0-1.3 0-1.3 0-1.2 0-1.3 0-1.3 0-1.2 0-1.3 0-1.3 0-1.2 0-1.3 0-1.3 0-1.2 0-1.3 0-1.2 0-1.3 0-1.3 0-1.2 0-1.3 0-1.2 0 1.2-1 .4-.3 .9-.8 .6-.5 .6-.6 .7-.6 .6-.6 .8-.7 .5-.4 1.2-.9 1.3-.4 1.2-.1 1.3 .2 1.3 .2 .6 .1 .6 .1 1.3 .3 1.3 .1 1.2 .2 1.3 0 1.3 .1 1.2 0 1.3 .1 1.3 0 1.2 .2 1.3 .1 1 .1 .3 0 1.2 .1 1.3 0 .9-.1 .4 0 1.2-.4 1.3-.5 .8-.4 .4-.2 1.3-.7 .5-.3 .8-.5 1.2-.7 .3-.1 1-.5 1.3-.6 .3-.2 .9-.4 1.3-.7 .3-.1 1-.6 1.1-.7 .1-.1 1.3-.9 .3-.3 1-.8 .4-.4 .8-.9 .4-.4 .9-1.1 .1-.2 .8-1.2 .4-.7 .3-.6 .5-1.3 .4-1.1 .1-.1 .3-1.3 .3-1.3 .2-1.2 .2-1.3 .2-1.1 0-.1 .4-1.3 .5-1.3 .4-.8 .1-.4 .5-1.3 .4-1.3 .2-.6 .3-.6 1-1.2 .1-.1z" fill="#2b91ef" stroke="#2b91ef" stroke-width="0.3" fill-rule="evenodd"/>
<path d="M624.4 148.2l1.3 0 1.2 0 1.3 0 1.3 0 1.2 0 .9 0 .4 .3 1.3 .8 .3 .2 .9 .6 1 .7 .3 .1 1.3 .9 .3 .2 .9 .7 .8 .6 .5 .3 1.2 1 .1 0 1.2 1 .2 .2 1.1 .9 .4 .4 .9 .7 .5 .6 .7 .6 .7 .6 .6 .6 .6 .7 .7 .7 .4 .6 .8 .7 .6 .5 .7 .6 .9 .7 .3 .2 1.3 .8 .5 .3 .8 .4 1.2 .7 .4 .1 .9 .3 1.3-.1 .2-.2 .5-1.2 .2-1.3 .3-.9 .1-.4 .5-1.2 .5-1.3 .2-.5 .3-.8 .6-1.2 .4-1.2 0-.1 .2-1.3 .1-1.2 0-1.3-.2-1.3-.1-.3-.4-.9-.6-1.3-.3-.8-.2-.5 .2 0 1.3 0 .8 0 .4 1.2 .1 .1 .4 1.3 .4 1.2 .1 1.3 0 1.3-.2 1.2-.1 1.3-.4 1.3-.3 .6-.3 .6-.8 1.3-.1 .2-.7 1.1-.6 1.2-.4 1.3 0 1.3 .4 1.2-.2 1.3-.7 1.3-.4 .3-1.2 .1-1.3-.3-.4-.1-.9-.4-1.2-.6-.5-.3-.8-.5-1.1-.8-.2-.1-1.2-.9-.4-.2-.9-.7-.7-.6-.5-.4-1.2-.9-.1-.1-1.3-.9-.3-.2-.9-.8-.7-.5-.6-.5-1.1-.8-.2-.1-1.2-.8-.6-.3-.7-.5-1.3-.6-.5-.2-.7-.4-1.3-.5-1.1-.4-.2 0-1.2-.5-1.3-.4-1.3-.3-1.2-.4-1.3-.3-1.3-.2-1.2-.3-.8-.1-.5-.1-1.3-.2 0-1 0-1.2 0-1.3 0-1.3zM702.9 186l0 .2 0 1.3 0 1.2 0 .4-1.2 .9-.1 .1-1 1.2-.3 .6-.2 .6-.4 1.3-.5 1.3-.1 .4-.4 .8-.5 1.3-.4 1.3 0 .1-.2 1.1-.2 1.3-.2 1.2-.3 1.3-.3 1.3-.1 .1-.4 1.1-.5 1.3-.3 .6-.4 .7-.8 1.2-.1 .2-.9 1.1-.4 .4-.8 .9-.4 .4-1 .8-.3 .3-1.3 .9-.1 .1-1.1 .7-1 .6-.3 .1-1.3 .7-.9 .4-.3 .2-1.3 .6-1 .5-.3 .1-1.2 .7-.8 .5-.5 .3-1.3 .7-.4 .2-.8 .4-1.3 .5-1.2 .4-.4 0-.9 .1-1.3 0-1.2-.1-.3 0-1-.1-1.3-.1-1.2-.2-1.3 0-1.3-.1-1.2 0-1.3-.1-1.3 0-1.2-.2-1.3-.1-1.3-.3-.6-.1-.6-.1-1.3-.2-1.3-.2-1.2 .1-1.3 .4-1.2 .9-.5 .4-.8 .7-.6 .6-.7 .6-.6 .6-.6 .5-.9 .8-.4 .3-1.2 1-.1 0-1.2 0-1.3 0-1.3 0-1.2 0-1.3 0-1.3 0-1.2 0-1.3 0-1.3 0-1.2 0-1.3 0-1.3 0-1.2 0-1.3 0-.4 0 .4-.2 1.3-.3 1.2-.4 1.2-.4 .1 0 1.3-.5 1.2-.5 .7-.3 .6-.3 1.3-.6 .7-.3 .5-.3 1.3-.8 .3-.2 1-.7 .7-.6 .5-.4 .8-.8 .5-.6 .5-.7 .7-1.3 .1-.4 .1-.8 0-1.3 .2-1.3 .7-1.2 .2-.4 .8-.9 .5-.5 .8-.8 .5-.3 1.2-.9 1.3-.6 1.3-.5 .6-.2 .6-.1 1.3-.1 .8 .2 .4 .2 1.1 1.1 .2 .3 .4 .9 .5 1.3 .4 .7 .2 .6 .7 1.2 .3 .4 .9 .9 .4 .3 1.3 .7 .6 .3 .6 .2 1.3 .3 1.3 .2 1.2 .1 1.3 0 1.3 0 1.2 0 1.3 .1 1.3 .3 .2 0 1 .3 1.3 .1 1.3 0 1.2-.3 .1-.1 1.2-.4 1.2-.6 .6-.2 .7-.3 1.3-.4 1.2-.4 .6-.2 .7-.2 1.3-.4 1.2-.5 .3-.2 1-.4 1.3-.7 .2-.1 1-.7 .8-.6 .5-.4 1-.9 .3-.3 .8-.9 .4-.6 .5-.7 .8-1.3 .5-1.2 .5-1.3 .3-1.1 0-.2 .2-1.2 .2-1.3 .2-1.2 .3-1.3 .3-1 .1-.3 .7-1.2 .3-1.3 .1-1.3-.3-1.2-.7-1.3 .7-1.3 .4-.1 1.3-.5 1.1-.6 .1-.1 1.3-.6 .9-.6z" fill="#259ce7" stroke="#259ce7" stroke-width="0.3" fill-rule="evenodd"/>
<path d="M663.6 148.2l1.3 0 .3 1.3 .3 1.3 .2 1.2 .2 1.3 0 1.3-.1 1.2-.1 1.3-.3 1.3-.5 1.2 0 .1-.8 1.2-.5 .6-.5 .7-.7 1-.2 .2-.5 1.3-.1 1.3 .5 1.2 .3 1 .2 .3 .6 1.3 .4 1 .2 .2 .7 1.3 .4 .5 .6 .8 .7 .5 1.2 .7 .1 0 1.2 .3 1.3 .2 1.2-.2 .7-.3 .6-.2 1.3-.3 1.2-.1 1.3 .5 .1 .1 0 1.3-.1 .4-.3 .8-.4 1.3-.5 1.3-.1 .1-1.2 .4-1.3 .1-1.3 .3-1 .3-.2 .1-1.3 .4-1.3 .2-1.2-.2-1.3-.3-.3-.2-1-.8-.2-.4-.3-1.3-.1-1.3-.1-1.2-.4-1.3-.1-.2-1.1-1-.2-.1-1.3-.6-1.2-.5-.3-.1-1-.4-1.3-.5-.6-.4-.6-.3-1.3-.7-.4-.2-.9-.6-.9-.7-.3-.2-1.3-.9-.2-.2-1-.8-.6-.4-.7-.5-1.1-.8-.2-.1-1.2-.9-.6-.3-.7-.5-1.3-.7-1.2-.7-1.3-.5-.3-.1-1-.4-1.2-.3-1.3-.3-1.3-.2-.3-.1-.9-.1-1.3-.1-1.3-.1-1.2 0-1.3 0-1.3 0-1.2 .1-1.3 .1-1 .1-.3 .1 0-.1 0-1.2 0-1.3 0-1.3 0-1.2 0-1.3 0-.3 1.3 .2 .5 .1 .8 .1 1.2 .3 1.3 .2 1.3 .3 1.2 .4 1.3 .3 1.3 .4 1.2 .5 .2 0 1.1 .4 1.3 .5 .7 .4 .5 .2 1.3 .6 .7 .5 .6 .3 1.2 .8 .2 .1 1.1 .8 .6 .5 .7 .5 .9 .8 .3 .2 1.3 .9 .1 .1 1.2 .9 .5 .4 .7 .6 .9 .7 .4 .2 1.2 .9 .2 .1 1.1 .8 .8 .5 .5 .3 1.2 .6 .9 .4 .4 .1 1.3 .3 1.2-.1 .4-.3 .7-1.3 .2-1.3-.4-1.2 0-1.3 .4-1.3 .6-1.2 .7-1.1 .1-.2 .8-1.3 .3-.6 .3-.6 .4-1.3 .1-1.3 .2-1.2 0-1.3-.1-1.3-.4-1.2-.4-1.3-.1-.1-.4-1.2zM702.9 183.1l0 .6 0 1.2 0 1.1-.4 .2-.9 .6-1.3 .6-.1 .1-1.1 .6-1.3 .5-.4 .1-.7 1.3 .7 1.3 .3 1.2-.1 1.3-.3 1.3-.7 1.2-.1 .3-.3 1-.3 1.3-.2 1.2-.2 1.3-.2 1.2 0 .2-.3 1.1-.5 1.3-.5 1.2-.8 1.3-.5 .7-.4 .6-.8 .9-.3 .3-1 .9-.5 .4-.8 .6-1 .7-.2 .1-1.3 .7-1 .4-.3 .2-1.2 .5-1.3 .4-.7 .2-.6 .2-1.2 .4-1.3 .4-.7 .3-.6 .2-1.2 .6-1.2 .4-.1 .1-1.2 .3-1.3 0-1.3-.1-1-.3-.2 0-1.3-.3-1.3-.1-1.2 0-1.3 0-1.3 0-1.2-.1-1.3-.2-1.3-.3-.6-.2-.6-.3-1.3-.7-.4-.3-.9-.9-.3-.4-.7-1.2-.2-.6-.4-.7-.5-1.3-.4-.9-.2-.3-1.1-1.1-.4-.2-.8-.2-1.3 .1-.6 .1-.6 .2-1.3 .5-1.3 .6-1.2 .9-.5 .3-.8 .8-.5 .5-.8 .9-.2 .4-.7 1.2-.2 1.3 0 1.3-.1 .8-.1 .4-.7 1.3-.5 .7-.5 .6-.8 .8-.5 .4-.7 .6-1 .7-.3 .2-1.3 .8-.5 .3-.7 .3-1.3 .6-.6 .3-.7 .3-1.2 .5-1.3 .5-.1 0-1.2 .4-1.2 .4-1.3 .3-.4 .2-.9 0 0-1.3 0-1.3 0-1.2 0-1.3 0-1.3 0-1.2 0-1.3 0-.1 1.3-.3 1.3-.4 1.2-.4 .1-.1 1.2-.4 1.3-.5 .6-.3 .6-.3 1.3-.6 .7-.4 .6-.3 1.2-.8 .2-.2 1.1-1 .2-.2 .9-1.3 .2-.2 .7-1.1 .5-.5 .7-.7 .6-.4 1.1-.9 .2-.1 1.2-.8 .6-.4 .7-.3 1.3-.8 .2-.1 1-.5 1.3-.4 1.3-.3 .1-.1 1.1-.2 1.3-.2 1.2-.2 1.3-.2 1.3 0 1.2 .7 .1 .1 .7 1.3 .5 1.2 0 .1 .3 1.2 .4 1.3 .4 1.2 .2 .3 .6 1 .6 .7 .8 .6 .5 .3 1.3 .5 1.2 .2 1.3 0 1.3 0 1.2 0 1.3 .1 1.2 .1 .1 0 1.2 .2 1.3 .1 1.3-.1 1.2-.1 .1-.1 1.2-.2 1.2-.3 1.3-.3 1.3-.3 .5-.1 .7-.2 1.3-.3 1.3-.4 1.1-.4 .1-.1 1.3-.5 1.2-.7 .1 0 1.2-.9 .5-.3 .8-.7 .5-.6 .8-.9 .3-.4 .7-1.2 .2-.4 .4-.9 .5-1.3 .3-1.2 .1-.6 .1-.7 .2-1.2 .3-1.3 .4-1.3 .3-.5 .4-.7 .4-1.3 0-1.3-.8-1.2 0-.1-1.3-1-.2-.2 .2-1.3 1-1.2 .3-.2 1.2-.6 1.3-.5 1.3-.6 1.2-.7 1.3-.8 .5-.4z" fill="#1fa5e2" stroke="#1fa5e2" stroke-width="0.3" fill-rule="evenodd"/>
<path d="M666.2 148.2l.2 0 .2 1.3 .1 1.3 .1 1.2 .1 1.3 .1 1.3 0 1.2 0 1.3-.2 1.3-.3 1.2-.3 .7-.4 .6-.9 1.2 0 .1-1.2 1.2-.1 .1-.8 1.2-.4 1.3 1 1.2 .2 .4 1.3 .8 .1 .1 1.2 .6 .9 .7 .3 .2 1.3 .8 .4 .2 .9 .4 1.2 .2 1.3 0 1.3-.1 1.2-.2 1.3-.1 1.2 .2 1.3 .6 .2 .3 .5 1.3-.1 1.2-.6 1-.1 .3-.9 1.2-.3 .6-.3 .7-.5 1.3-.4 .8-.4 .4-.9 .5-1.2 .2-1.3 .3-.9 .3-.4 .1-1.2 .5-1.3 .5-1.3 0-1.2-.4-1.3-.6-.1-.1-1.2-.7-.5-.6-.7-1.1-.1-.1-.5-1.3-.5-1.3-.2-.3-.6-.9-.7-.8-.6-.5-.6-.4-1.3-.7-.3-.1-1-.5-1.2-.6-.5-.2-.8-.5-1.3-.7-.1-.1-1.1-.7-.8-.5-.5-.4-1.2-.9 0-.1-1.3-.9-.3-.3-1-.7-.8-.5-.4-.3-1.3-.8-.5-.2-.8-.4-1.2-.5-1.2-.4-.1 0-1.3-.3-1.2-.1-1.3-.1-1.3 0-1.2 .1-1.3 .1-1.3 .2-.6 .1-.6 .1-1.3 .3-1.3 .4-1.2 .5-.1 0-1.2 .5-1.3 .6 0-1.1 0-1.3 0-1.2 0-1.3 0-1.2 .3-.1 1-.1 1.3-.1 1.2-.1 1.3 0 1.3 0 1.2 0 1.3 .1 1.3 .1 .9 .1 .3 .1 1.3 .2 1.3 .3 1.2 .3 1 .4 .3 .1 1.3 .5 1.2 .7 1.3 .7 .7 .5 .6 .3 1.2 .9 .2 .1 1.1 .8 .7 .5 .6 .4 1 .8 .2 .2 1.3 .9 .3 .2 .9 .7 .9 .6 .4 .2 1.3 .7 .6 .3 .6 .4 1.3 .5 1 .4 .3 .1 1.2 .5 1.3 .6 .2 .1 1.1 1 .1 .2 .4 1.3 .1 1.2 .1 1.3 .3 1.3 .2 .4 1 .8 .3 .2 1.3 .3 1.2 .2 1.3-.2 1.3-.4 .2-.1 1-.3 1.3-.3 1.3-.1 1.2-.4 .1-.1 .5-1.3 .4-1.3 .3-.8 .1-.4 0-1.3-.1-.1-1.3-.5-1.2 .1-1.3 .3-.6 .2-.7 .3-1.2 .2-1.3-.2-1.2-.3-.1 0-1.2-.7-.7-.5-.6-.8-.4-.5-.7-1.3-.2-.2-.4-1-.6-1.3-.2-.3-.3-1-.5-1.2 .1-1.3 .5-1.3 .2-.2 .7-1 .5-.7 .5-.6 .8-1.2 0-.1 .5-1.2 .3-1.3 .1-1.3 .1-1.2 0-1.3-.2-1.3-.2-1.2-.3-1.3-.3-1.3zM702.9 179.4l0 .5 0 1.2 0 1.3 0 .7-.8 .6-.5 .4-1.3 .8-1.2 .7-1.3 .6-1.3 .5-1.2 .6-.3 .2-1 1.2-.2 1.3 .2 .2 1.3 1 0 .1 .8 1.2 0 1.3-.4 1.3-.4 .7-.3 .5-.4 1.3-.3 1.3-.2 1.2-.1 .7-.1 .6-.3 1.2-.5 1.3-.4 .9-.2 .4-.7 1.2-.3 .4-.8 .9-.5 .6-.8 .7-.5 .3-1.2 .9-.1 0-1.2 .7-1.3 .5-.1 .1-1.1 .4-1.3 .4-1.3 .3-.7 .2-.5 .1-1.3 .3-1.3 .3-1.2 .3-1.2 .2-.1 .1-1.2 .1-1.3 .1-1.3-.1-1.2-.2-.1 0-1.2-.1-1.3-.1-1.2 0-1.3 0-1.3 0-1.2-.2-1.3-.5-.5-.3-.8-.6-.6-.7-.6-1-.2-.3-.4-1.2-.4-1.3-.3-1.2 0-.1-.5-1.2-.7-1.3-.1-.1-1.2-.7-1.3 0-1.3 .2-1.2 .2-1.3 .2-1.1 .2-.1 .1-1.3 .3-1.3 .4-1 .5-.2 .1-1.3 .8-.7 .3-.6 .4-1.2 .8-.2 .1-1.1 .9-.6 .4-.7 .7-.5 .5-.7 1.1-.2 .2-.9 1.3-.2 .2-1.1 1-.2 .2-1.2 .8-.6 .3-.7 .4-1.3 .6-.6 .3-.6 .3-1.3 .5-1.2 .4-.1 .1-1.2 .4-1.3 .4-1.3 .3 0-1.2 0-1.2 0-1.3 0-1.3 0-1.2 0-1.3 0-.5 1.3-.4 1.1-.4 .2 0 1.2-.5 1.3-.7 .1 0 1.2-.7 .9-.6 .3-.2 1.3-.6 1.3-.4 .1-.1 1.1 0 1.3-.1 1.3-.2 1.2-.4 1.1-.5 .2-.1 1.3-.5 1.2-.7 1.3-.6 1.3-.6 .2-.1 1-.3 1.3-.2 1.3-.2 1.2-.2 1.3-.2 .8-.1 .4-.1 1.3-.1 1.3-.1 1.2 .1 .3 .2 1 .7 .8 .5 .5 .7 .5 .6 .5 1.3 .2 1.1 .1 .1 .3 1.3 .5 1.3 .4 .5 .7 .7 .6 .4 1.2 .5 1.3 .1 1.3-.1 1.2-.2 1.3-.1 1.3-.1 1.2 0 1.3 .1 1.3 0 1.2-.1 1.3-.1 1.2-.1 1.3-.1 1.3-.1 0-.1 1.2-.1 1.3-.3 1.3-.3 1.2-.5 .1 0 1.2-.6 1.3-.7 1.2-.9 .4-.4 .9-.9 .2-.3 .8-1.3 .3-.4 .4-.9 .4-1.2 .3-1.3 .1-.4 .2-.8 .3-1.3 .5-1.3 .3-.7 .2-.5 .5-1.3 .1-1.3-.8-1-.2-.2-1-1.3 0-1.3 .4-1.2 .8-1.1 .2-.2 1.1-.8 1-.5 .2-.1 1.3-.7 .7-.4 .6-.5 1-.8 .2-.3 1.1-1 .2-.2 .9-1z" fill="#17aeda" stroke="#17aeda" stroke-width="0.3" fill-rule="evenodd"/>
<path d="M667.4 148.2l.5 0 0 1.3-.1 1.3 .1 1.2 .1 1.3 .1 1.3 .2 1.2 0 1.3-.1 1.3-.2 1.2-.3 1.3-.3 .6-.3 .7-.8 1.2-.1 .4-.7 .9 .1 1.3 .6 .2 1.2 .8 .3 .2 1 .6 1.2 .7 .1 0 1.2 .5 1.3 .3 1.3 .1 1.2-.1 1.3-.1 1.2-.1 1.3 0 1.3 .3 .5 .4 .7 .7 .3 .5 .1 1.3-.2 1.3-.2 .2-.4 1-.7 1.3-.1 .1-.9 1.1-.4 .6-.4 .7-.7 1.3-.2 .3-.4 .9-.8 .8-.9 .5-.4 .1-1.2 .4-1.3 .4-.8 .4-.5 .2-1.2 .8-.7 .2-.6 .4-1.3 0-.5-.4-.7-.3-1.3-.9-1.3-1.1-.1-.2-1.1-1.1-.1-.2-.8-1.2-.4-.7-.4-.6-.9-1.2 0-.1-1.2-1.1-.2-.1-1.1-.7-1.1-.6-.2-.1-1.2-.5-1.3-.6-.2 0-1.1-.6-1.2-.7-1.3-.9-.6-.4-.6-.5-1-.7-.3-.3-1.3-.9-.1-.1-1.1-.9-.7-.4-.6-.4-1.3-.6-.6-.2-.6-.2-1.3-.3-1.3-.1-1.2 .1-1.3 .2-1.3 .2 0 .1-1.2 .3-1.3 .3-1.3 .5-.2 .1-1 .5-1.3 .8-.1 0-1.2 .9-.4 .4-.8 .8-.5 .4-.8 1.1-.2 .2-.8 1.3-.3 .4 0-.4 0-1.3 0-1.3 0-1.2 0-1.3 0-1.3 0-1.2 0-.2 1.3-.6 1.2-.5 .1 0 1.2-.5 1.3-.4 1.3-.3 .6-.1 .6-.1 1.3-.2 1.3-.1 1.2-.1 1.3 0 1.3 .1 1.2 .1 1.3 .3 .1 0 1.2 .4 1.2 .5 .8 .4 .5 .2 1.3 .8 .4 .3 .8 .5 1 .7 .3 .3 1.3 .9 0 .1 1.2 .9 .5 .4 .8 .5 1.1 .7 .1 .1 1.3 .7 .8 .5 .5 .2 1.2 .6 1 .5 .3 .1 1.3 .7 .6 .4 .6 .5 .7 .8 .6 .9 .2 .3 .5 1.3 .5 1.3 .1 .1 .7 1.1 .5 .6 1.2 .7 .1 .1 1.3 .6 1.2 .4 1.3 0 1.3-.5 1.2-.5 .4-.1 .9-.3 1.3-.3 1.2-.2 .9-.5 .4-.4 .4-.8 .5-1.3 .3-.7 .3-.6 .9-1.2 .1-.3 .6-1 .1-1.2-.5-1.3-.2-.3-1.3-.6-1.2-.2-1.3 .1-1.2 .2-1.3 .1-1.3 0-1.2-.2-.9-.4-.4-.2-1.3-.8-.3-.2-.9-.7-1.2-.6-.1-.1-1.3-.8-.2-.4-1-1.2 .4-1.3 .8-1.2 .1-.1 1.2-1.2 0-.1 .9-1.2 .4-.6 .3-.7 .3-1.2 .2-1.3 0-1.3 0-1.2-.1-1.3-.1-1.3-.1-1.2-.1-1.3-.2-1.3zM702.9 166.6l0 .6 0 1.3 0 1.3 0 1.2 0 1.3 0 1.3 0 1.2 0 1.3 0 1.2 0 1.3 0 .8-.4 .5-.9 1-.2 .2-1.1 1-.2 .3-1 .8-.6 .5-.7 .4-1.3 .7-.2 .1-1 .5-1.1 .8-.2 .2-.8 1.1-.4 1.2 0 1.3 1 1.3 .2 .2 .8 1-.1 1.3-.5 1.3-.2 .5-.3 .7-.5 1.3-.3 1.3-.2 .8-.1 .4-.3 1.3-.4 1.2-.4 .9-.3 .4-.8 1.3-.2 .3-.9 .9-.4 .4-1.2 .9-1.3 .7-1.2 .6-.1 0-1.2 .5-1.3 .3-1.3 .3-1.2 .1 0 .1-1.3 .1-1.3 .1-1.2 .1-1.3 .1-1.2 .1-1.3 0-1.3-.1-1.2 0-1.3 .1-1.3 .1-1.2 .2-1.3 .1-1.3-.1-1.2-.5-.6-.4-.7-.7-.4-.5-.5-1.3-.3-1.3-.1-.1-.2-1.1-.5-1.3-.5-.6-.5-.7-.8-.5-1-.7-.3-.2-1.2-.1-1.3 .1-1.3 .1-.4 .1-.8 .1-1.3 .2-1.2 .2-1.3 .2-1.3 .2-1 .3-.2 .1-1.3 .6-1.3 .6-1.2 .7-1.3 .5-.2 .1-1.1 .5-1.2 .4-1.3 .2-1.3 .1-1.1 0-.1 .1-1.3 .4-1.3 .6-.3 .2-.9 .6-1.2 .7-.1 0-1.3 .7-1.2 .5-.2 0-1.1 .4-1.3 .4 0-.8 0-1.2 0-1.3 0-1.3 0-.9 1.3 .1 1.3 0 1.2-.1 1.3-.2 .3-.1 1-.2 1.2-.3 1.3-.3 1.3-.2 1.2-.2 .9-.1 .4 0 1.3-.3 1.2-.3 1.3-.5 .4-.2 .9-.3 1.2-.5 1-.4 .3-.1 1.3-.4 1.2-.3 1.3-.2 1.3-.1 1.2-.1 .5-.1 .8 0 1.2-.2 1.3-.1 1.3 0 1.2 .2 .4 .1 .9 .4 1.3 .5 1.2 .4 1.3 .6 .6 .6 .1 1.3 0 1.3 .1 1.2 .5 1.2 0 .1 1.2 1.1 1 .2 .3 0 .3 0 1-.2 1.2-.6 .7-.5 .6-.9 .4-.4 .1-1.2-.5-.6-.3-.7-1-1.1-.1-.2-.9-1.2-.2-.3-.7-1-.3-1.2 0-1.3 .2-1.3 .1-1.2 0-1.3 .2-1.3 .5-1.2 1.2-.5 .7 .5 .6 .6 .3 .6 .5 1.3 .5 1.1 0 .2 .5 1.2 .5 1.3 .2 .8 .2 .5 .3 1.2 .3 1.3 .3 1.2 .2 .8 .1 .5 .8 1.3 .4 .3 1.2 .9 1.3 .6 1.2 .4 1.3 .2 1.3 .1 1.2-.1 1.3-.1 1.3-.3 1.2-.4 .8-.4 .5-.2 1.3-.9 .2-.1 1-1.1 .2-.2 .9-1.3 .2-.3 .4-.9 .5-1.3 .4-1.2 .3-1.3 .5-1.3 .4-1.2 .1 0 .3-1.3 0-1.3-.4-.4-.4-.8-.5-1.3-.1-1.3 .3-1.2 .4-1.3 .3-.6 .6-.7 .7-.8 .6-.4 .7-.6 1-.7 .2-.2 1.1-1.1 .2-.1 .9-1.1 .4-.4 .6-.9 .6-1.2 .1-.1 .4-1.2 .4-1.3 .2-1.2 .1-1.3 .1-.4 .1-.9 .1-1.2 .3-1.3 .5-1.3z" fill="#05b6ce" stroke="#05b6ce" stroke-width="0.3" fill-rule="evenodd"/>
<path d="M668.7 148.2l.8 0-.2 1.3-.1 1.3-.1 1.2 .1 1.3 .2 1.3 .2 1.2 .1 1.3 0 1.3 0 1.2-.1 1.3 0 1.3 .1 1.2 .3 1 .1 .3 1.1 1.3 1.3 .7 1.3 .5 1.2-.1 1.3-.2 1.2-.3 1.3-.2 1.3-.3 .9-.1 .3-.1 1.3-.2 1.3-.3 1.2-.3 1.1-.4 .2-.1 1.3-.6 1-.6 .2-.1 1.3-.7 .8-.4 .5-.3 1.2-.6 .8-.4 .5-.3 1.3-.6 .5-.4 .7-.4 1.3-.7 .1-.1 1.2-.8 .7-.5 .5-.4 1.1-.9 .2-.1 1.3-1.1 0 1.2 0 1.3 0 1.3 0 1.2 0 1.3 0 1.3 0 1.2 0 1.3 0 1.3 0 .6-.3 .6-.5 1.3-.3 1.3-.1 1.2-.1 .9-.1 .4-.1 1.3-.2 1.2-.4 1.3-.4 1.2-.1 .1-.6 1.2-.6 .9-.4 .4-.9 1.1-.2 .1-1.1 1.1-.2 .2-1 .7-.7 .6-.6 .4-.7 .8-.6 .7-.3 .6-.4 1.3-.3 1.2 .1 1.3 .5 1.3 .4 .8 .4 .4 0 1.3-.3 1.3-.1 0-.4 1.2-.5 1.3-.3 1.3-.4 1.2-.5 1.3-.4 .9-.2 .3-.9 1.3-.2 .2-1 1.1-.2 .1-1.3 .9-.5 .2-.8 .4-1.2 .4-1.3 .3-1.3 .1-1.2 .1-1.3-.1-1.3-.2-1.2-.4-1.3-.6-1.2-.9-.4-.3-.8-1.3-.1-.5-.2-.8-.3-1.2-.3-1.3-.3-1.2-.2-.5-.2-.8-.5-1.3-.5-1.2 0-.2-.5-1.1-.5-1.3-.3-.6-.6-.6-.7-.5-1.2 .5-.5 1.2-.2 1.3 0 1.3-.1 1.2-.2 1.3 0 1.3 .3 1.2 .7 1 .2 .3 .9 1.2 .1 .2 1 1.1 .3 .7 .5 .6-.1 1.2-.4 .4-.6 .9-.7 .5-1.2 .6-1 .2-.3 0-.3 0-1-.2-1.2-1.1 0-.1-.5-1.2-.1-1.2 0-1.3-.1-1.3-.6-.6-1.3-.6-1.2-.4-1.3-.5-.9-.4-.4-.1-1.2-.2-1.3 0-1.3 .1-1.2 .2-.8 0-.5 .1-1.2 .1-1.3 .1-1.3 .2-1.2 .3-1.3 .4-.3 .1-1 .4-1.2 .5-.9 .3-.4 .2-1.3 .5-1.2 .3-1.3 .3-.4 0-.9 .1-1.2 .2-1.3 .2-1.3 .3-1.2 .3-1 .2-.3 .1-1.3 .2-1.2 .1-1.3 0-1.3-.1 0-.3 0-1.3 0-1.3 0-1.2 0-1.3 0-.4 .4 .4 .9 .8 .8 .5 .5 .2 1.2 .5 1.3 .3 1.3 .1 1.2-.1 1.3-.1 1.3-.1 1.2-.1 1.3-.2 1.3-.3 .7-.2 .5-.2 1.3-.4 1.3-.5 .6-.2 .6-.2 1.3-.4 1.3-.3 1.2-.2 1.3-.1 .8 0 .5-.1 1.2 0 1.3-.1 1.2 0 1.3-.1 1.3-.1 1.2 .2 .8 .2 .5 .1 1.3 .2 1.2-.1 .7-.2 .6-.3 1-1 .3-.4 .4-.9 .4-1.2 .2-1.3 .2-1 .1-.3 .4-1.2 .6-1.3 .2-.4 .6-.9 .3-1.2-.2-1.3-.7-.9-.2-.4-1-1.2-.1-.1-.9-1.2-.3-.3-.8-1-.5-.6-.6-.6-.7-.9-.4-.4-.8-.8-.7-.5-.6-.4-1.3-.6-.6-.2-.6-.3-1.3-.4-1.3-.5-.2-.1-1-.5-1.3-.7-.1 0-1.1-.8-.7-.5-.6-.5-1-.8-.3-.2-1.2-1-.1 0-1.2-.9-.7-.4-.6-.3-1.2-.5-1.3-.2-1.3 .1-1.2 .2-1.3 .4-.7 .3-.6 .3-1.2 .6-.7 .4-.6 .4-.9 .8-.4 .4-.7 .9-.5 1-.2 .3-.5 1.2-.3 1.3-.2 1.2 0 1.3 0 1.3 0 1.2 0 1.3-.1 1.3-.4 1.2-.9 1.2-.1 .1-1.1 1.2-.1 .1-1.2 1.2-1 1.3-.3 .4 0-.4 0-1.3 0-1.2 0-1.3 0-1.3 0-1.2 0-1.3 0-1.3 0-1.2 0-1.3 0-1.3 0-1.2 0-1.3 0-.8 .3-.4 .8-1.3 .2-.2 .8-1.1 .5-.4 .8-.8 .4-.4 1.2-.9 .1 0 1.3-.8 1-.5 .2-.1 1.3-.5 1.3-.3 1.2-.3 0-.1 1.3-.2 1.3-.2 1.2-.1 1.3 .1 1.3 .3 .6 .2 .6 .2 1.3 .6 .6 .4 .7 .4 1.1 .9 .1 .1 1.3 .9 .3 .3 1 .7 .6 .5 .6 .4 1.3 .9 1.2 .7 1.1 .6 .2 0 1.3 .6 1.2 .5 .2 .1 1.1 .6 1.1 .7 .2 .1 1.2 1.1 0 .1 .9 1.2 .4 .6 .4 .7 .8 1.2 .1 .2 1.1 1.1 .1 .2 1.3 1.1 1.3 .9 .7 .3 .5 .4 1.3 0 .6-.4 .7-.2 1.2-.8 .5-.2 .8-.4 1.3-.4 1.2-.4 .4-.1 .9-.5 .8-.8 .4-.9 .2-.3 .7-1.3 .4-.7 .4-.6 .9-1.1 .1-.1 .7-1.3 .4-1 .2-.2 .2-1.3-.1-1.3-.3-.5-.7-.7-.5-.4-1.3-.3-1.3 0-1.2 .1-1.3 .1-1.2 .1-1.3-.1-1.3-.3-1.2-.5-.1 0-1.2-.7-1-.6-.3-.2-1.2-.8-.6-.2-.1-1.3 .7-.9 .1-.4 .8-1.2 .3-.7 .3-.6 .3-1.3 .2-1.2 .1-1.3 0-1.3-.2-1.2-.1-1.3-.1-1.3-.1-1.2 .1-1.3 0-1.3zM685.2 172.3l-.1 0-1.2 1.1-.2 .2-1.1 1.2-1 1.3-.3 .2-.7 1-.5 .6-.6 .7-.7 1-.2 .3-.6 1.2-.5 .7-.5 .6-.7 .5-1.3 .5-.7 .3-.5 .2-1.3 .6-.7 .4-.6 .6-.7 .7-.5 1.2-.1 .1 0 1.2 .1 .2 .3 1.1 .5 1.3 .4 .8 .2 .4 .6 1.3 .5 1.1 .1 .2 .6 1.2 .6 1.2 0 .1 .5 1.3 .6 1.2 .1 .2 .6 1.1 .7 1.1 .1 .1 1.1 1.2 .3 .1 1 .6 1.3 .5 1.2 .2 1.2 0 .1 0 1.3-.2 1.2-.4 1.2-.7 .1 0 1.3-1.2 .1-.1 .9-1.2 .2-.5 .4-.8 .5-1.2 .4-1 .1-.3 .4-1.3 .4-1.2 .2-1.3-.1-1.3-.3-1.2-.3-1.3 0-1.3 .1-1.2 .2-1.3 .4-1.3 .2-.5 .3-.7 .7-1.3 .2-.5 .6-.8 .7-1.2 .6-1.3 .3-1.3-.3-1.2-.6-.7-.5-.6-.8-.4-1.2-.8 0-.1-1.3-.8-.8-.4-.5-.3-1.2-.4-1.3 .1zM664.1 205.2l.5 1.2 .3 .2 .5-.2 .8-1.2-1.3-.8z" fill="#06bcc0" stroke="#06bcc0" stroke-width="0.3" fill-rule="evenodd"/>
<path d="M670 148.2l1.2 0 .2 0-.2 .7-.1 .6-.2 1.3-.1 1.2 0 1.3 .2 1.3 .2 1.2 0 .2 .2 1.1 .1 1.3 .2 1.2 .2 1.3 .5 1.3 .1 .1 1.1 1.1 .2 .2 1.2 .4 1.3-.1 1.2-.2 .9-.3 .4-.1 1.3-.6 1-.5 .2-.2 1.3-.5 1.2-.6 .1-.1 1.2-.8 .5-.4 .8-.7 .7-.5 .6-.5 1-.8 .2-.2 1.3-.9 .3-.2 1-.7 .7-.5 .5-.4 1.2-.9 .1-.1 1.3-1 .1-.2 1.1-.9 .4-.3 .9-.9 .4-.4 .9-.9 .3-.4 .9 0 1.3 0 1.3 0 0 1.3 0 1.3 0 1.2 0 1.3 0 1.3-1.3 1.1-.2 .1-1.1 .9-.5 .4-.7 .5-1.2 .8-.1 .1-1.3 .7-.7 .4-.5 .4-1.3 .6-.5 .3-.8 .4-1.2 .6-.5 .3-.8 .4-1.3 .7-.2 .1-1 .6-1.3 .6-.2 .1-1.1 .4-1.2 .3-1.3 .3-1.3 .2-.3 .1-.9 .1-1.3 .3-1.3 .2-1.2 .3-1.3 .2-1.2 .1-1.3-.5-1.3-.7-1.1-1.3-.1-.3-.3-1-.1-1.2 0-1.3 .1-1.3 0-1.2 0-1.3-.1-1.3-.2-1.2-.2-1.3-.1-1.3 .1-1.2 .1-1.3 .2-1.3zM635.8 168.2l1.3-.4 1.2-.2 1.3-.1 1.3 .2 1.2 .5 .6 .3 .7 .4 1.2 .9 .1 0 1.2 1 .3 .2 1 .8 .6 .5 .7 .5 1.1 .8 .1 0 1.3 .7 1 .5 .2 .1 1.3 .5 1.3 .4 .6 .3 .6 .2 1.3 .6 .6 .4 .7 .5 .8 .8 .4 .4 .7 .9 .6 .6 .5 .6 .8 1 .3 .3 .9 1.2 .1 .1 1 1.2 .2 .4 .7 .9 .2 1.3-.3 1.2-.6 .9-.2 .4-.6 1.3-.4 1.2-.1 .3-.2 1-.2 1.3-.4 1.2-.4 .9-.3 .4-1 1-.6 .3-.7 .2-1.2 .1-1.3-.2-.5-.1-.8-.2-1.2-.2-1.3 .1-1.3 .1-1.2 0-1.3 .1-1.2 0-.5 .1-.8 0-1.3 .1-1.2 .2-1.3 .3-1.3 .4-.6 .2-.6 .2-1.3 .5-1.3 .4-.5 .2-.7 .2-1.3 .3-1.3 .2-1.2 .1-1.3 .1-1.3 .1-1.2 .1-1.3-.1-1.3-.3-1.2-.5-.5-.2-.8-.5-.9-.8-.4-.4 0-.8 0-1.3 0-1.3 0-1.2 0-1.3 0-1.3 0-1.2 0-.9 .3-.4 1-1.3 1.2-1.2 .1-.1 1.1-1.2 .1-.1 .9-1.2 .4-1.2 .1-1.3 0-1.3 0-1.2 0-1.3 0-1.3 .2-1.2 .3-1.3 .5-1.2 .2-.3 .5-1 .7-.9 .4-.4 .9-.8 .6-.4 .7-.4 1.2-.6 .6-.3zM638.8 169.8l-.5 0-1.2 .4-1.3 .7-.2 .1-1.1 1.1-.1 .2-.7 1.3-.4 1.2 0 .3-.2 1 0 1.2 .1 1.3 .1 1.1 0 .2 0 1.2 0 1.3 0 .4-.1 .9-.3 1.2-.5 1.3-.4 .6-.5 .7-.8 .8-.4 .4-.8 1.1-.2 .2-.9 1.3-.2 .3-.5 .9-.4 1.3-.2 1.3 .2 1.2 .6 1.3 .3 .4 1 .9 .3 .1 1.2 .6 1.3 .3 1.3 .1 1.2 0 1.3-.1 1.3-.3 1.2-.4 1.2-.3 .1-.1 1.3-.4 1.2-.3 1.3-.3 1.3-.2 1.2-.1 1.3-.1 1.3 0 1.2 .1 1.3 0 1.2-.1 1.3-.1 1.3-.1 1.2 0 1.3 0 1.3-.2 1.2-.5 .2-.2 1.1-1.2 .5-1.3 .3-1.3 .5-1.2 .5-1.3 .6-1.3 .1-.3 .3-.9 .1-1.3-.4-.8-.2-.5-.7-1.2-.3-.5-.5-.8-.8-.9-.4-.4-.9-.8-.6-.4-.6-.6-1-.7-.3-.2-1.3-.5-1.2-.4-.9-.2-.4 0-1.3-.3-1.2-.4-1.3-.5-.1 0-1.1-.6-1-.7-.3-.2-1.3-1-.1 0-1.1-1-.4-.3-.9-.7-.7-.6-.6-.4-1.2-.6-1-.2-.3-.1zM686.4 171.7l1.3-.1 1.2 .4 .5 .3 .8 .4 1.3 .8 0 .1 1.2 .8 .8 .4 .5 .6 .6 .7 .3 1.2-.3 1.3-.6 1.3-.7 1.2-.6 .8-.2 .5-.7 1.3-.3 .7-.2 .5-.4 1.3-.2 1.3-.1 1.2 0 1.3 .3 1.3 .3 1.2 .1 1.3-.2 1.3-.4 1.2-.4 1.3-.1 .3-.4 1-.5 1.2-.4 .8-.2 .5-.9 1.2-.1 .1-1.3 1.2-.1 0-1.2 .7-1.2 .4-1.3 .2-.1 0-1.2 0-1.2-.2-1.3-.5-1-.6-.3-.1-1.1-1.2-.1-.1-.7-1.1-.6-1.1-.1-.2-.6-1.2-.5-1.3 0-.1-.6-1.2-.6-1.2-.1-.2-.5-1.1-.6-1.3-.2-.4-.4-.8-.5-1.3-.3-1.1-.1-.2 0-1.2 .1-.1 .5-1.2 .7-.7 .6-.6 .7-.4 1.3-.6 .5-.2 .7-.3 1.3-.5 .7-.5 .5-.6 .5-.7 .6-1.2 .2-.3 .7-1 .6-.7 .5-.6 .7-1 .3-.2 1-1.3 1.1-1.2 .2-.2 1.2-1.1 .1 0zM683.6 176.1l-1 .7-.4 .5-.9 .9-.3 .4-.9 .9-.3 .4-.8 1.2-.2 .4-.5 .9-.8 .8-.8 .5-.4 .2-1.3 .6-1.1 .4-.1 .1-1.3 1.1-.1 .1-.5 1.3 .1 1.2 .3 1.3 .2 .4 .4 .9 .6 1.2 .3 .4 .5 .9 .7 1.2 .1 .1 .8 1.2 .4 .8 .3 .5 .7 1.3 .2 .4 .7 .8 .6 .8 .6 .5 .7 .5 1.2 .5 1.1 .2 .2 .1 .6-.1 .7 0 1.2-.5 1-.7 .3-.4 .7-.9 .6-.9 .1-.3 .5-1.3 .5-1.3 .1-.5 .2-.7 .2-1.3 0-1.3 0-1.2-.1-1.3 .1-1.3 .1-1.2-.1-1.3 0-1.3 0-1.2 .1-1.3 .1-1.3 .1-1.2-.1-1.3-.5-1.3-.1 0-1.2-1.2 0-.1-1.3-.5-1.3 0-1.2 .4zM664.9 204.4l1.3 .8-.8 1.2-.5 .2-.3-.2-.5-1.2z" fill="#1fc0b2" stroke="#1fc0b2" stroke-width="0.3" fill-rule="evenodd"/>
<path d="M671.2 148.9l.2-.7 1.1 0 1.3 0 .3 0-.3 1-.1 .3-.3 1.3-.2 1.2 0 1.3 .1 1.3 .2 1.2 .2 1.3 .1 .4 .2 .9 .8 1.2 .2 .3 1.3 .6 1.2 0 1.3-.2 1.3-.5 .5-.2 .7-.3 1.3-.9 1-1.3 .3-.3 .7-1 .5-.7 .4-.5 .9-1.1 .1-.2 1-1.3 .2-.2 .8-1 .4-.6 .5-.7 .8-1.1 .1-.2 1.2 0 1.2 0 1.3 0 1.3 0 1.2 0 1.3 0 1.3 0 .3 0-.3 .4-.9 .9-.4 .4-.9 .9-.4 .3-1.1 .9-.1 .2-1.3 1-.1 .1-1.2 .9-.5 .4-.7 .5-1 .7-.3 .2-1.3 .9-.2 .2-1 .8-.6 .5-.7 .5-.8 .7-.5 .4-1.2 .8-.1 .1-1.2 .6-1.3 .5-.2 .2-1 .5-1.3 .6-.4 .1-.9 .3-1.2 .2-1.3 .1-1.2-.4-.2-.2-1.1-1.1-.1-.1-.5-1.3-.2-1.3-.2-1.2-.1-1.3-.2-1.1 0-.2-.2-1.2-.2-1.3 0-1.3 .1-1.2 .2-1.3zM639.6 169.7l.3 .1 1 .2 1.2 .6 .6 .4 .7 .6 .9 .7 .4 .3 1.1 1 .1 0 1.3 1 .3 .2 1 .7 1.1 .6 .1 0 1.3 .5 1.2 .4 1.3 .3 .4 0 .9 .2 1.2 .4 1.3 .5 .3 .2 1 .7 .6 .6 .6 .4 .9 .8 .4 .4 .8 .9 .5 .8 .3 .5 .7 1.2 .2 .5 .4 .8-.1 1.3-.3 .9-.1 .3-.6 1.3-.5 1.3-.5 1.2-.3 1.3-.5 1.3-1.1 1.2-.2 .2-1.2 .5-1.3 .2-1.3 0-1.2 0-1.3 .1-1.3 .1-1.2 .1-1.3 0-1.2-.1-1.3 0-1.3 .1-1.2 .1-1.3 .2-1.3 .3-1.2 .3-1.3 .4-.1 .1-1.2 .3-1.2 .4-1.3 .3-1.3 .1-1.2 0-1.3-.1-1.3-.3-1.2-.6-.3-.1-1-.9-.3-.4-.6-1.3-.2-1.2 .2-1.3 .4-1.3 .5-.9 .2-.3 .9-1.3 .2-.2 .8-1.1 .4-.4 .8-.8 .5-.7 .4-.6 .5-1.3 .3-1.2 .1-.9 0-.4 0-1.3 0-1.2 0-.2-.1-1.1-.1-1.3 0-1.2 .2-1 0-.3 .4-1.2 .7-1.3 .1-.2 1.1-1.1 .2-.1 1.3-.7 1.2-.4 .5 0zM639.6 177.3l-.6 1.3-.6 1.3-.1 .2-.4 1-.5 1.3-.3 .5-.4 .8-.7 1.2-.2 .2-.6 1.1-.7 .9-.2 .4-.9 1.2-.1 .3-.7 1-.6 1.2 0 .1-.4 1.2-.1 1.3 .2 1.3 .3 .5 .6 .7 .7 .5 1.2 .5 1.3 .1 1.3-.2 1.2-.2 1.3-.3 1.3-.3 .4-.1 .8-.1 1.3-.2 1.3-.1 1.2-.1 1.3 .1 1.3 0 1.2 .1 1.3 0 1.2 0 1.3-.2 1.3-.2 1.2-.2 1.2-.3 .1-.1 1.3-.7 .5-.5 .7-1.3 .5-1.2 .6-1.3 .2-.4 .4-.9 .6-1.2 .3-1 0-.3 0-.3-.2-1-.5-1.2-.6-1.2-.1-.1-1.2-.8-.7-.5-.5-.3-1.3-.7-.6-.2-.7-.2-1.2-.2-1.3 0-1.3-.1-1.2 0-1.3-.1-1.2-.2-1.3-.4-.3-.1-1-.4-1.2-.6-.5-.3-.8-.4-1.3-.5-1.2-.2-1.3 1.1zM683.9 175.9l1.2-.4 1.3 0 1.3 .5 0 .1 1.2 1.2 .1 0 .5 1.3 .1 1.3-.1 1.2-.1 1.3-.1 1.3 0 1.2 0 1.3 .1 1.3-.1 1.2-.1 1.3 .1 1.3 0 1.2 0 1.3-.2 1.3-.2 .7-.1 .5-.5 1.3-.5 1.3-.1 .3-.6 .9-.7 .9-.3 .4-1 .7-1.2 .5-.7 0-.6 .1-.2-.1-1.1-.2-1.2-.5-.7-.5-.6-.5-.6-.8-.7-.8-.2-.4-.7-1.3-.3-.5-.4-.8-.8-1.2-.1-.1-.7-1.2-.5-.9-.3-.4-.6-1.2-.4-.9-.2-.4-.3-1.3-.1-1.2 .5-1.3 .1-.1 1.3-1.1 .1-.1 1.1-.4 1.3-.6 .4-.2 .8-.5 .8-.8 .5-.9 .2-.4 .8-1.2 .3-.4 .9-.9 .3-.4 .9-.9 .4-.5 1-.7zM682.3 179.9l-1 .7-.5 .5-.7 1.2-.1 .1-.6 1.3-.6 .4-1.3 .7-.3 .1-.9 .4-1.3 .7-.2 .2-.7 1.3 .2 1.2 .5 1.3 .2 .4 .7 .9 .6 .7 .6 .5 .6 .7 .6 .6 .7 .9 .3 .4 .8 1.2 .2 .2 .9 1.1 .3 .3 1.3 .7 1.3-.1 1-.9 .2-.2 .5-1.1 .5-1.2 .2-1.3 .1-.5 .1-.8 .1-1.2 .1-1.3 .1-1.3-.2-1.2-.2-.7-.4-.6-.7-1.3-.1-1.2 .2-1.3 .1-1.3-.3-1.2-.1-.2-1.2-.7-1.3 .6z" fill="#2fc5a2" stroke="#2fc5a2" stroke-width="0.3" fill-rule="evenodd"/>
<path d="M673.8 149.2l.3-1 .9 0 1.3 0 1.2 0 1.3 0 1.3 0 1.2 0 1.3 0 1.3 0 1.2 0 1.3 0 1.3 0 1.2 0 1.3 0 .1 0-.1 .2-.8 1.1-.5 .7-.4 .6-.8 1-.2 .2-1 1.3-.1 .2-.9 1.1-.4 .5-.5 .7-.7 1-.3 .3-1 1.3-1.3 .9-.7 .3-.5 .2-1.3 .5-1.3 .2-1.2 0-1.3-.6-.2-.3-.8-1.2-.2-.9-.1-.4-.2-1.3-.2-1.2-.1-1.3 0-1.3 .2-1.2 .3-1.3zM678.5 152l-.5 1.3 .2 1.3 .6 .5 .5-.5 .8-1.2 0-.1 .1-1.3-.1-.3-1.3-.2zM639.6 177.3l1.3-1.1 1.2 .2 1.3 .5 .8 .4 .5 .3 1.2 .6 1 .4 .3 .1 1.3 .4 1.2 .2 1.3 .1 1.2 0 1.3 .1 1.3 0 1.2 .2 .7 .2 .6 .2 1.3 .7 .5 .3 .7 .5 1.2 .8 .1 .1 .6 1.2 .5 1.2 .2 1 0 .3 0 .3-.3 1-.6 1.2-.4 .9-.2 .4-.6 1.3-.5 1.2-.7 1.3-.5 .5-1.3 .7-.1 .1-1.2 .3-1.2 .2-1.3 .2-1.3 .2-1.2 0-1.3 0-1.2-.1-1.3 0-1.3-.1-1.2 .1-1.3 .1-1.3 .2-.8 .1-.4 .1-1.3 .3-1.3 .3-1.2 .2-1.3 .2-1.3-.1-1.2-.5-.7-.5-.6-.7-.3-.5-.2-1.3 .1-1.3 .4-1.2 0-.1 .6-1.2 .7-1 .1-.3 .9-1.2 .2-.4 .7-.9 .6-1.1 .2-.2 .7-1.2 .4-.8 .3-.5 .5-1.3 .4-1 .1-.2 .6-1.3 .6-1.3zM655 182.4l-.2 .1-1.3 .2-1.3 .1-1.2 .3-1.3 .2-1.2 .3-1.3-.1-1.3-.3-1.2 0-1.3 .2-.7 .3-.6 .2-1.2 .9-.2 .1-1.1 .9-.5 .4-.8 .6-.7 .7-.5 .4-.8 .8-.5 .6-.4 .7-.3 1.3 .2 1.2 .5 .8 .8 .5 .5 .2 1.2 .1 1.3-.1 1.3 0 1.2 0 1.3 0 1.3 0 1.2 .1 1.3 .1 1.3 .1 1.2 .1 1.3 0 1.2-.2 1.3-.3 .4-.1 .9-.5 1.2-.8 1.1-1.2 .2-.5 .4-.8 .6-1.3 .3-.4 .5-.8 .7-.8 .3-.5 .2-1.3-.3-1.2-.2-.2-1.2-.9-.8-.2-.5-.1-1.3 0zM682.6 179.6l1.3-.6 1.2 .7 .1 .2 .3 1.2-.1 1.3-.2 1.3 .1 1.2 .7 1.3 .4 .6 .2 .7 .2 1.2-.1 1.3-.1 1.3-.1 1.2-.1 .8-.1 .5-.2 1.3-.5 1.2-.5 1.1-.2 .2-1 .9-1.3 .1-1.3-.7-.3-.3-.9-1.1-.2-.2-.8-1.2-.3-.4-.7-.9-.6-.6-.6-.7-.6-.5-.6-.7-.7-.9-.2-.4-.5-1.3-.2-1.2 .7-1.3 .2-.2 1.3-.7 .9-.4 .3-.1 1.3-.7 .6-.4 .6-1.3 .1-.1 .7-1.2 .5-.5 1-.7z" fill="#3dc990" stroke="#3dc990" stroke-width="0.3" fill-rule="evenodd"/>
<path d="M678.8 151.5l1.3 .2 .1 .3-.1 1.3 0 .1-.8 1.2-.5 .5-.6-.5-.2-1.3 .5-1.3zM656 182.3l1.3 0 .5 .1 .8 .2 1.2 .9 .2 .2 .3 1.2-.2 1.3-.3 .5-.7 .8-.5 .8-.3 .4-.6 1.3-.4 .8-.2 .5-1.1 1.2-1.2 .8-.9 .5-.4 .1-1.3 .3-1.2 .2-1.3 0-1.2-.1-1.3-.1-1.3-.1-1.2-.1-1.3 0-1.3 0-1.2 0-1.3 0-1.3 .1-1.2-.1-.5-.2-.8-.5-.5-.8-.2-1.2 .3-1.3 .4-.7 .5-.6 .8-.8 .5-.4 .7-.7 .8-.6 .5-.4 1.1-.9 .2-.1 1.2-.9 .6-.2 .7-.3 1.3-.2 1.2 0 1.3 .3 1.3 .1 1.2-.3 1.3-.2 1.2-.3 1.3-.1 1.3-.2 .2-.1zM645.5 186.2l-.8 .2-1.3 .6-.6 .5-.7 .7-.5 .5-.3 1.3 .8 1 .4 .3 .9 .3 1.3 .3 1.2 .2 1.3 .2 1.3 .2 1.2-.1 1.3-.2 1.2-.6 .5-.3 .8-1.2 0-.1 .2-1.3-.2-.5-.3-.7-1-.7-1.2-.4-1.1-.2-.2 0-1.2-.1-1.3 0-1.3 0z" fill="#55cc7c" stroke="#55cc7c" stroke-width="0.3" fill-rule="evenodd"/>
<path d="M645.9 186.1l1.3 0 1.3 0 1.2 .1 .2 0 1.1 .2 1.2 .4 1 .7 .3 .7 .2 .5-.2 1.3 0 .1-.8 1.2-.5 .3-1.2 .6-1.3 .2-1.2 .1-1.3-.2-1.3-.2-1.2-.2-1.3-.3-.9-.3-.4-.3-.8-1 .3-1.3 .5-.5 .7-.7 .6-.5 1.3-.6 .8-.2z" fill="#71cd64" stroke="#71cd64" stroke-width="0.3" fill-rule="evenodd"/>
<path d="M640.1 148.2l.8 1.1 .1 .2 1 1.3 .1 .1 .9 1.1 .4 .5 .6 .8 .7 .8 .3 .5 .9 1 .2 .2 1.1 1.3 1 1.3 .3 .2 .6 1 .6 1 .2 .3 1.1 1.3 1.2 1 .5 .2 .8 .5 1.3 .6 .7 .2 .5 .2 1.3 0 .2-.2 1.1-1 .1-.3 .5-1.2 .3-1.3 .3-1.3 0-.3 .3-.9 .3-1.3 .2-1.3-.1-1.2-.1-1.3-.2-1.3-.4-1 0-.2-.6-1.3-.6-1.1-.1-.2M702.9 192.4l-.2 .1-.8 1.3-.3 .5-.4 .8-.6 1.2-.3 .7-.2 .6-.4 1.3-.4 1.2-.2 1.3-.3 1.2-.2 1.3-.3 1.3-.4 1.2-.1 .2-.4 1.1-.6 1.3-.3 .5-.4 .7-.8 1.3 0 .1-.9 1.2-.4 .5-.7 .7-.6 .6-.7 .7-.5 .5-.9 .8-.4 .3-1.3 .9-1.2 .9-.7 .4-.6 .4-1.3 .8-.1 .1-1.1 .7-1 .5-.3 .2-1.3 .8-.4 .3-.8 .5-1.3 .8-1.3 .6-1.2 .6-.1 0-1.2 .5-1.2 .3-1.3 .3-1.3 .2-1.2 .1-1.3 .1-1.3 .1-1.2 0-1.3 .1-1.3 0-1.2 .1-1.3 .1-1.3 .1-1.2 .2-1.3 .1-1.2 .3" fill="none" stroke="#1a1a1a" stroke-width="0.6"/>
<path d="M623.1 153.9l1.3 .2 1.3 .2 1.2 .2 .6 .1 .7 .1 1.3 .2 1.2 .3 1.3 .3 1 .3 .3 .1 1.2 .4 1.3 .4 .9 .4 .4 .1 1.2 .6 1.3 .6 1.3 .7 .8 .5 .4 .3 1.3 .9 .2 .1 1.1 .8 .5 .5 .7 .5 1 .7 .3 .2 1.3 1 .1 .1 1.1 .8 .6 .5 .7 .5 1 .7 .2 .2 1.3 .8 .4 .3 .9 .5 1.2 .7 .2 .1 1.1 .4 1.3 .3 1.2-.1 .9-.6 .4-.9 .1-.4 0-1.3-.1-.4-.3-.8 0-1.3 .3-.9 .1-.4 .7-1.2 .5-.9 .3-.4 .8-1.3 .1-.2 .5-1 .4-1.3 .1-1.3 .2-1.2 .1-1.3-.2-1.3-.4-1.2-.4-1.3-.3-.7-.2-.6M702.9 185.7l-.9 .5-.4 .2-1.3 .7-.8 .4-.4 .2-1.3 .5-1.3 .5-.5 1.3 .5 .4 .6 .9 .4 1.2-.1 1.3-.4 1.3-.5 1-.1 .2-.5 1.3-.2 1.3-.2 1.2-.2 1.3 0 .3-.2 .9-.4 1.3-.4 1.3-.3 .6-.3 .6-.8 1.3-.2 .3-.7 1-.5 .6-.7 .6-.6 .6-1 .7-.3 .2-1.2 .8-.4 .3-.9 .4-1.3 .6-.5 .2-.7 .3-1.3 .4-1.3 .4-.8 .2-.4 .1-1.3 .4-1.3 .5-.6 .3-.6 .3-1.3 .4-1.2 .3-1.3 0-1.3-.1-1.2-.2-1.3-.3-1.3-.1-1.2-.1-1.3 0-1.3 0-1.2-.1-1.1-.1-.2-.1-1.3-.3-1.2-.5-.7-.4-.6-.5-.8-.8-.5-.7-.3-.5-.5-1.3-.4-1.1-.1-.2-.5-1.2-.6-1.3-.1-.1-1.3-.8-1.2-.1-1.3 .2-1.2 .3-1.3 .4-.2 .1-1.1 .6-1.1 .7-.1 .1-1.3 1-.2 .1-1.1 1.1-.2 .2-1 1.3 0 .1-.5 1.1-.2 1.3-.2 1.3-.3 1.2-.1 .2-.7 1.1-.6 .6-.6 .7-.6 .6-.9 .6-.4 .3-1.3 .8-.3 .2-.9 .5-1.3 .6-.3 .2-1 .4-1.2 .5-1 .3-.3 .1-1.3 .5-1.2 .4-1.2 .3-.1 0-1.3 .3" fill="none" stroke="#1a1a1a" stroke-width="0.6"/>
<path d="M623.1 165l.7-.3 .6-.2 1.3-.5 1.2-.4 .7-.2 .6-.1 1.3-.3 1.2-.2 1.3-.1 1.3-.1 1.2-.1 1.3 .1 1.3 0 1.2 .2 1.3 .3 1 .3 .3 .1 1.2 .5 1.3 .7 1.3 .7 .7 .6 .5 .3 1.3 .9 1.3 1 .4 .3 .8 .6 .9 .7 .4 .2 1.2 .9 .3 .1 1 .6 1.3 .7 1.2 .6 1.3 .6 .1 .1 1.2 .5 .9 .7 .3 .3 1 1 .3 .5 .4 .7 .5 1.3 .4 1.1 0 .2 .8 1.2 .4 .5 1.3 .8 .1 0 1.2 .6 1.2 .3 1.3 0 1.3-.5 1.1-.4 .1 0 1.3-.4 1.3-.3 1.2-.3 .6-.3 .7-.7 .3-.5 .4-1.3 .5-1 .2-.3 .7-1.2 .4-.7 .4-.6 .1-1.2-.5-1.1-.2-.2-1.1-.6-1.2-.2-1.3 .1-1.2 .2-1.3 .1-1.3 .1-1.2-.2-1.3-.5-.4-.3-.9-.5-.8-.7-.4-.3-1.3-.7-.3-.3-1-.7-.4-.6-.8-1-.1-.2 .1-.5 .2-.8 .9-1.3 .1-.2 1-1 .3-.4 .7-.9 .6-1 .1-.3 .3-1.2 .2-1.3 .1-1.3 0-1.2-.1-1.3-.1-1.3-.2-1.2-.1-1.3-.1-1.3M702.9 180l-1.1 1.1-.2 .3-1.1 1-.2 .1-1.2 1.1-.2 .1-1.1 .7-.9 .5-.4 .2-1.2 .6-.8 .5-.5 .4-.6 .9-.5 1.2 0 1.3 1.1 1.3 1 1.2-.1 1.3-.5 1.3-.4 .9-.2 .3-.4 1.3-.3 1.3-.3 1.2-.1 .4-.2 .9-.4 1.2-.6 1.3 0 .1-.8 1.2-.5 .6-.6 .6-.7 .7-.8 .6-.4 .3-1.3 .7-.6 .3-.7 .3-1.2 .5-1.3 .3-.6 .1-.7 .2-1.2 .2-1.3 .1-1.3 .2-1.2 .1-1.3 .2-1.2 .1-1.3 0-1.3-.1-1.2-.1-1.3 .1-1.3 .1-1.2 0-1.3 .1-1.3 0-1.2-.4-1-.8-.3-.2-.7-1-.5-1.3-.1-.3-.2-1-.3-1.2-.5-1.3-.2-.2-.9-1.1-.4-.2-1.3-1-.1 0-1.1-.2-1.3 .1-.4 .1-.9 .1-1.2 .3-1.3 .1-1.2 .2-1.3 .2-1.3 .2-.3 .1-.9 .4-1.3 .6-.7 .3-.6 .3-1.2 .7-.7 .3-.6 .3-1.3 .5-1.2 .4-.3 0-1 .3-1.3 .1-1.2 .1-1.3 .4-.7 .4-.6 .4-1.2 .8-.1 .1-1.2 .8-.9 .4-.4 .2-1.2 .6-1.3 .4-.2 .1-1.1 .3" fill="none" stroke="#1a1a1a" stroke-width="0.6"/>
<path d="M702.9 158.2l-.2 .2-1.1 1-.4 .2-.9 .8-.7 .5-.5 .4-1.3 .9-1.3 .8-.8 .4-.4 .3-1.3 .7-.5 .3-.8 .4-1.2 .8-.1 .1-1.2 1.2-.3 1.3 .3 .6 .3 .7 1 1.1 .1 .1 1.1 .7 1.3 .4 .4 .2 .9 .3 1.2 .8 .1 .2 .8 1.2 .3 1.3-.3 1.2-.6 1.3-.3 .4-.6 .9-.6 .7-.4 .5-.9 1-.3 .3-1 1.3-.7 1.2-.5 1.3 0 .1-.3 1.2-.2 1.2 .1 1.3 .3 1.3 .1 .2 .4 1 .1 1.3-.3 1.3-.2 .8-.2 .4-.4 1.3-.4 1.3-.3 .8-.2 .4-.6 1.3-.5 .8-.3 .4-.9 1.2-.2 .1-1.1 .9-.8 .4-.5 .2-1.2 .4-1.3 .2-1.3 .1-1.2-.1-1.3-.3-1.3-.5-1.2-.9-.4-.4-.9-1.1 0-.2-.7-1.2-.5-1.3-.5-1.2-.5-1.3-.3-.7-.3-.6-.5-1.2-.5-1.1-.1-.2-.5-1.3-.6-1.2 0-.2-.7-1.1-.6-1.3 0-.2-.4-1 .4-.1 .8-1.2 .5-.3 1-1 .2-.1 1.3-.7 .8-.4 .5-.2 1.2-.4 1.3-.5 .2-.2 1-1.1 .2-.2 .6-1.2 .5-.9 .3-.4 .9-1.3 .1 0 .9-1.2 .3-.5 .6-.8 .7-1.1 .1-.1 .8-1.3 .4-.9 .3-.4 .4-1.2-.5-1.3-.2-.1-1.3-.7-1.3-.3-1.2 0-1.3 0-1.3 .2-1.2 .2-1.3 .2-1.2 .1-1.3-.3-1.3-.5-.1-.1-1.1-.7-.7-.5-.6-1-.2-.3 0-1.3 .2-1.2 0-.2 .2-1.1 .1-1.3 .1-1.2 0-1.3 0-1.3-.2-1.2-.2-1.2 0-.1-.2-1.3 .1-1.2 .1-1.1 0-.2 .1-1.3M623.1 186.2l.1 0 .9-1.3 .3-.4 .5-.8 .4-1.3 .3-1.3 .1-.7 0-.5 .2-1.3 .2-1.3 .3-1.2 .4-1.3 .1-.2 .5-1 .7-1.3 .1-.1 .9-1.2 .4-.3 1-.9 .2-.2 1.3-.8 .6-.3 .7-.3 1.2-.5 1.3-.4 .3-.1 1-.3 1.2-.1 1.3 0 1.3 .2 .7 .2 .5 .2 1.3 .7 .6 .4 .7 .5 1 .8 .2 .1 1.3 1 .1 .1 1.2 .9 .5 .4 .7 .5 1.3 .7 0 .1 1.2 .6 1.3 .5 .2 .1 1.1 .4 1.2 .5 .7 .4 .6 .2 1.3 .9 .1 .1 1.1 1.2 .1 .1 1 1.3 .2 .2 .7 1 .6 .7 .6 .6 .6 .9 .5 .4 .8 .9 .5 .3 .8 1.1 .2 .2 .8 1.3-.5 1.2-.5 .4-.6 .9-.7 1-.1 .3-.4 1.2-.3 1.3-.2 1.3-.3 1.2 0 .1-.4 1.2-.7 1.3-.1 .2-1.3 .7-1.3 .1-1.2 0-1.3-.3-1.3-.4-1.2-.2-1.3 0-1.3 .1-1.2 .1-1.3 .1-1.2 .1-1.3 0-1.3 .2-1.2 .2-1.2 .3-.1 .1-1.3 .4-1.2 .5-.9 .3-.4 .1-1.3 .5-1.2 .3-1.3 .3-.3 0-1 .2-1.2 .1-1.3 .2-1.3 .2-1.2 .1-1.3 .1-1.3-.1-1.2-.2-1.3-.4-.4-.2-.9-.3M663.6 203.7l1.3-.7 1.3 .7 .2 .2 .7 1.3-.1 1.2-.8 .9-1.3 .3-1.3-.7-.3-.5-.2-1.2 .4-1.3z" fill="none" stroke="#1a1a1a" stroke-width="0.6"/>
<path d="M695.8 148.2l-.5 .6-.7 .7-.6 .7-.6 .6-.7 .6-.6 .6-.6 .6-.8 .7-.5 .4-1 .9-.3 .2-1.2 1 0 .1-1.3 1.1-.1 .1-1.2 1.2 0 .1-1.2 1.1-.2 .1-1.1 .7-1.3 .6-.1 0-1.1 .7-1.3 .5-.1 .1-1.2 .3-1.2 .2-1.3-.1-.8-.4-.4-.3-.7-1-.5-1.3-.1-.3-.2-.9-.2-1.3-.1-1.3-.2-1.2-.2-1.3 0-1.3 .1-1.2 .2-1.3 .4-1.3M638.3 170.9l1.3-.2 1.2 .3 .1 0 1.2 .9 .5 .4 .8 .7 .7 .6 .6 .5 .9 .7 .3 .2 1.3 1 .2 .1 1.1 .6 1.2 .5 .5 .1 .8 .3 1.2 .2 1.3 .2 1.3 .2 1.2 .3 .3 .1 1 .4 1.3 .8 0 .1 1.2 .9 .4 .3 .9 .8 .5 .5 .7 1.3 .1 0 .6 1.2 .4 1.3-.1 1.3-.5 1.2-.4 1-.2 .3-.6 1.3-.4 1.2-.1 .5-.3 .8-.7 1.3-.3 .3-1.2 .7-.7 .2-.6 .2-1.3 .1-1.2 0-1.3 .2-1.3 .1-1.2 0-1.3 0-1.2 0-1.3-.1-1.3 .1-1.2 .1-1.3 .1-1.3 .3-.8 .2-.4 .1-1.3 .3-1.3 .4-1.2 .4-.4 .1-.9 .1-1.3 .1-1.2-.1-.8-.1-.5-.2-1.3-.6-.6-.5-.6-.9-.3-.4-.3-1.2 0-1.3 .4-1.3 .2-.3 .4-.9 .8-1.3 1-1.3 .3-.4 .6-.8 .7-1 .1-.3 .6-1.3 .4-1.2 .1-.5 .2-.8 .2-1.3 .1-1.2 0-1.3-.1-1.3 0-1.2 .1-1.3 .3-1.2 .5-.9 .2-.4 1.1-.9 .8-.4zM683.9 176.8l1.2-.2 1.3 .3 .6 .4 .7 1 .1 .3 .3 1.3 0 1.2 .1 1.3 0 1.3 .1 1.2 .2 1.3 .2 1.3 0 1.2-.1 1.3-.1 1.3 0 1.2-.1 1.3-.2 1.3-.3 1.2-.2 .7-.3 .6-.6 1.3-.4 .6-.5 .6-.8 .8-.9 .5-.3 .1-1.3 0-.6-.1-.7-.2-1.2-.8-.3-.3-1-1-.2-.2-.8-1.3-.3-.5-.4-.8-.8-1.2-.1 0-.8-1.3-.4-.4-.5-.9-.7-1.2-.1 0-.5-1.3-.5-1.3 0-1.2 .4-1.3 .7-.5 1-.8 .2 0 1.3-.5 1.2-.7 .1 0 1.2-1.3 .7-1.3 .6-.9 .3-.3 .9-1 .4-.3 .9-.9 .5-.4z" fill="none" stroke="#1a1a1a" stroke-width="0.6"/>
<path d="M656 183.4l1.3-.1 1.3 .2 .3 .2 .5 1.2-.7 1.3-.1 .2-1.2 1.1-.1 .3-.2 .9-.4 1.3-.7 1.2 0 .1-1.1 1.2-.1 .1-1.3 .7-1.3 .4-.3 .1-.9 .1-1.3 .1-1.2-.1-.8-.1-.5-.1-1.3-.1-1.2 0-1.3-.1-1.3-.1-1.2-.1-1.3-.1-1.3-.1-1.2-.4-.3-.2-.8-1.2 .3-1.3 .8-.9 .3-.4 .9-.8 .6-.4 .7-.6 .9-.7 .4-.3 1.2-.9 .1-.1 1.2-.5 1.3-.3 1.2 0 1.3 .1 1.3 .1 1.2-.1 1.3-.2 1.2-.2 1.3-.1 1.3 0z" fill="none" stroke="#1a1a1a" stroke-width="0.6"/>
<circle cx="653.4" cy="160.1" r="0.85" fill="#111"/>
<circle cx="671.9" cy="159.7" r="0.85" fill="#111"/>
<circle cx="639.8" cy="171.9" r="0.85" fill="#111"/>
<circle cx="651.6" cy="174.1" r="0.85" fill="#111"/>
<circle cx="663.0" cy="174.1" r="0.85" fill="#111"/>
<circle cx="674.4" cy="173.7" r="0.85" fill="#111"/>
<circle cx="686.2" cy="172.2" r="0.85" fill="#111"/>
<circle cx="630.5" cy="178.1" r="0.85" fill="#111"/>
<circle cx="695.5" cy="178.1" r="0.85" fill="#111"/>
<circle cx="656.4" cy="182.9" r="0.85" fill="#111"/>
<circle cx="663.0" cy="183.3" r="0.85" fill="#111"/>
<circle cx="670.0" cy="182.9" r="0.85" fill="#111"/>
<circle cx="642.7" cy="182.2" r="0.85" fill="#111"/>
<circle cx="683.3" cy="182.2" r="0.85" fill="#111"/>
<circle cx="634.2" cy="189.9" r="0.85" fill="#111"/>
<circle cx="647.9" cy="189.9" r="0.85" fill="#111"/>
<circle cx="663.0" cy="189.9" r="0.85" fill="#111"/>
<circle cx="677.8" cy="189.9" r="0.85" fill="#111"/>
<circle cx="691.4" cy="189.9" r="0.85" fill="#111"/>
<circle cx="642.0" cy="198.8" r="0.85" fill="#111"/>
<circle cx="656.4" cy="198.1" r="0.85" fill="#111"/>
<circle cx="670.0" cy="198.1" r="0.85" fill="#111"/>
<circle cx="684.0" cy="198.8" r="0.85" fill="#111"/>
<circle cx="639.8" cy="208.0" r="0.85" fill="#111"/>
<circle cx="651.9" cy="206.2" r="0.85" fill="#111"/>
<circle cx="663.0" cy="206.2" r="0.85" fill="#111"/>
<circle cx="674.1" cy="206.5" r="0.85" fill="#111"/>
<circle cx="686.2" cy="208.0" r="0.85" fill="#111"/>
<circle cx="656.0" cy="220.9" r="0.85" fill="#111"/>
<circle cx="663.0" cy="221.3" r="0.85" fill="#111"/>
<circle cx="670.0" cy="220.9" r="0.85" fill="#111"/>
</g>
<circle cx="663" cy="188.1" r="36.90" fill="none" stroke="#111" stroke-width="1.4"/>
<path d="M656.7 151.6 L663.0 145.3 L669.3 151.6" fill="none" stroke="#111" stroke-width="1.3" stroke-linejoin="miter"/>
<path d="M628.0 293.1 H625.0 Q622.6 293.1 622.6 295.5 V306.9 Q622.6 309.3 625.0 309.3 H628.0" fill="#fff" stroke="#2a2a2a" stroke-width="1.2"/><path d="M699.6 293.1 H702.6 Q705.0 293.1 705.0 295.5 V306.9 Q705.0 309.3 702.6 309.3 H699.6" fill="#fff" stroke="#2a2a2a" stroke-width="1.2"/>
<clipPath id="cR3"><circle cx="663.8" cy="299.4" r="36.80"/></clipPath>
<g clip-path="url(#cR3)">
<circle cx="663.8" cy="299.4" r="37.80" fill="#1babde"/>
<path d="M625.3 259.7l1.3 0 1.2 0 1.3 0 1.3 0 1.2 0 1.3 0 1.2 0 1.3 0 1.3 0 1.2 0 1.3 0 1.3 0 1.2 0 1.3 0 1.2 0 1.3 0 1.3 0 1.2 0 .3 0-.3 .2-1 1-.2 .2-1.3 .8-.4 .3-.9 .3-1.2 .5-1.3 .3-1.2 .1 0 .1-1.3 .1-1.3 .1-1.2 0-1.3 .1-1.3 0-1.2 .1-1.3 0-1.2 0-1.3-.1-1.3 0-1.2-.1-1.3 0-1.2-.1 0-.2 0-1.2 0-1.3 0-1.2z" fill="#402ab5" stroke="#402ab5" stroke-width="0.3" fill-rule="evenodd"/>
<path d="M648 259.9l.3-.2 1 0 1.3 0 1.2 0 1.3 0 1.2 0 .8 0-.7 1.2-.1 .1-.7 1.2-.5 .8-.4 .4-.9 1.3-1.1 1.3-.1 .1-1.3 1-.3 .1-1 .5-1.2 .4-1.3 .2-1.3 .2-.7 0-.5 0-.6 0-.7 0-1.2-.1-1.3 0-1.3-.1-1.2 0-1.3 .1-1.3 0-1.2 .1-1.3 0-1.2-.1-1.3 0-1.3-.1-1.2-.1-1.3-.1-1.2-.1 0-.8 0-1.2 0-1.3 0-1.1 1.2 .1 1.3 0 1.2 .1 1.3 0 1.3 .1 1.2 0 1.3 0 1.2-.1 1.3 0 1.3-.1 1.2 0 1.3-.1 1.3-.1 0-.1 1.2-.1 1.3-.3 1.2-.5 .9-.3 .4-.3 1.3-.8 .2-.2z" fill="#4433cc" stroke="#4433cc" stroke-width="0.3" fill-rule="evenodd"/>
<path d="M655.6 259.7l1.3 0 1.2 0 1.3 0 .6 0-.5 1.2-.1 .3-.5 1-.7 1.2-.1 .2-.7 1.1-.5 .8-.4 .5-.8 1.2-.1 .2-.6 1.1-.7 1-.2 .2-1 1-.6 .3-.7 .3-1.2 .4-1.3 .2-1.3 .3-.8 .1-.4 0-1.3 .1-1.3 .1-1.2-.1-1.3-.1-1.2-.2-1.3-.1-1.3-.1-1.2 0-1.3 .2-1.3 .2-1.2 .1-1.3 0-1.2 0-1.2-.1-.1 0-1.3-.2-1.2-.1-1.3-.1-1.2-.1 0-.8 0-1.3 0-1.2 0-.5 1.2 .1 1.3 .1 1.2 .1 1.3 .1 1.3 0 1.2 .1 1.3 0 1.2-.1 1.3 0 1.3-.1 1.2 0 1.3 .1 1.3 0 1.2 .1 .7 0 .6 0 .5 0 .7 0 1.3-.2 1.3-.2 1.2-.4 1-.5 .3-.1 1.3-1 .1-.1 1.1-1.3 .9-1.3 .4-.4 .5-.8 .7-1.2 .1-.1 .7-1.2z" fill="#463de0" stroke="#463de0" stroke-width="0.3" fill-rule="evenodd"/>
<path d="M660.6 259.7l1.3 0 1.3 0 .5 0-.4 1.2-.1 .6-.2 .7-.4 1.2-.6 1.3-.1 .2-.7 1.1-.6 .9-.2 .3-.7 1.3-.3 .5-.5 .7-.7 1.3-.1 .1-.8 1.2-.4 .6-.9 .6-.4 .3-1.3 .4-1.2 .2-1.3 .2-1.2 .2-.1 0-1.2 .1-1.3 .2-1.2 .2-1.3 .1-1.3 .1-1.2 0-1.3-.1-1.2-.2-1.3-.2-1.3-.1-1.2 .2-1.3 .6-1.2 .4-.1 0-1.2 0-.1 0-1.2-.2-1.2-.2-1.3-.2-1.3-.2-1.2-.1-1.3-.1-1.2-.1 0-.2 0-1.3 0-1.2 0-.5 1.2 .1 1.3 .1 1.2 .1 1.3 .2 .1 0 1.2 .1 1.2 0 1.3 0 1.2-.1 1.3-.2 1.3-.2 1.2 0 1.3 .1 1.3 .1 1.2 .2 1.3 .1 1.2 .1 1.3-.1 1.3-.1 .4 0 .8-.1 1.3-.3 1.3-.2 1.2-.4 .7-.3 .6-.3 1-1 .2-.2 .7-1 .6-1.1 .1-.2 .8-1.2 .4-.5 .5-.8 .7-1.1 .1-.2 .7-1.2 .5-1 .1-.3 .5-1.2z" fill="#4849ed" stroke="#4849ed" stroke-width="0.3" fill-rule="evenodd"/>
<path d="M664.4 259.7l1.3 0 1 0-.5 1.2-.4 1.3-.1 .5-.3 .7-.4 1.3-.5 1.3-.1 0-.6 1.2-.6 1-.2 .3-.8 1.2-.3 .5-.6 .8-.7 1-.1 .3-.9 1.2-.2 .2-1 1.1-.3 .3-1.2 .8-.5 .2-.8 .2-1.3 .3-1.2 .1-1.3 .2-1.2 .2-1.3 .2-.3 0-1 .2-1.2 .2-1.3 .2-1.3 .3-1.2 .1-1.3 .1-1.2 0-1.3-.1-1.3 .1-1 .2-.2 0-1.3 .2-1.3 0-1.2-.1-.7-.1-.6-.1-1.2-.2-1.3-.2-1.3-.1-1.2-.1-1.3 0-1.2-.1 0-.5 0-1.2 0-1.1 1.2 .1 1.3 .1 1.2 .1 1.3 .2 1.3 .2 1.2 .2 1.2 .2 .1 0 1.2 0 .1 0 1.2-.4 1.3-.6 1.2-.2 1.3 .1 1.3 .2 1.2 .2 1.3 .1 1.2 0 1.3-.1 1.3-.1 1.2-.2 1.3-.2 1.2-.1 .1 0 1.2-.2 1.3-.2 1.2-.2 1.3-.4 .4-.3 .9-.6 .4-.6 .8-1.2 .1-.1 .7-1.3 .5-.7 .3-.5 .7-1.3 .2-.3 .6-.9 .7-1.1 .1-.2 .6-1.3 .4-1.2 .2-.7 .1-.6 .4-1.2z" fill="#4755f6" stroke="#4755f6" stroke-width="0.3" fill-rule="evenodd"/>
<path d="M667 259.7l1.2 0 1.3 0 .3 0-.3 .4-.4 .8-.6 1.3-.3 .6-.2 .6-.5 1.3-.5 1.3 0 .2-.5 1-.6 1.3-.2 .3-.6 .9-.7 1-.2 .3-.9 1.3-.1 .1-1 1.1-.3 .4-.7 .9-.6 .6-.6 .7-.6 .5-1.1 .7-.2 .1-1.2 .6-1.3 .3-1.3 .2-.5 .1-.7 .1-1.3 .1-1.2 .2-1.3 .3-1.3 .3-1.1 .2-.1 .1-1.3 .3-1.3 .3-1.2 .3-1.3 .3-.7 0-.5 0-.7 0-.6 0-1.3-.1-1.2-.1-1.3 0-1.3-.1-1.2-.2-1.3-.1-1.2-.1-1.3-.1-1.3 0-1.2 0-1.3 .1-1.2 .1 0-.7 0-1.2 0-.8 1.2 .1 1.3 0 1.2 .1 1.3 .1 1.3 .2 1.2 .2 .6 .1 .7 .1 1.2 .1 1.3 0 1.3-.2 .2 0 1-.2 1.3-.1 1.3 .1 1.2 0 1.3-.1 1.2-.1 1.3-.3 1.3-.2 1.2-.2 1-.2 .3 0 1.3-.2 1.2-.2 1.3-.2 1.2-.1 1.3-.3 .8-.2 .5-.2 1.2-.8 .3-.3 1-1.1 .2-.2 .9-1.2 .1-.3 .7-1 .6-.8 .3-.5 .8-1.2 .2-.3 .6-1 .6-1.2 .1 0 .5-1.3 .4-1.3 .3-.7 .1-.5 .4-1.3 .5-1.2z" fill="#4661fc" stroke="#4661fc" stroke-width="0.3" fill-rule="evenodd"/>
<path d="M669.5 260.1l.3-.4 .9 0 1.3 0 1.3 0 .5 0-.5 .6-.6 .6-.7 .8-.3 .5-.9 1.2-.1 .2-.5 1.1-.4 1.3-.3 .8-.2 .4-.5 1.3-.6 1.2-.8 1.3-.4 .6-.5 .7-.8 .9-.3 .3-1 .9-.3 .4-.9 .9-.4 .4-.9 .9-.3 .3-1 .9-.5 .4-.7 .4-1.3 .6-.7 .2-.5 .2-1.3 .2-1.3 .2-1.2 .1-1.3 .1-1.2 .3-1 .2-.3 .1-1.3 .3-1.2 .3-1.3 .4-.6 .2-.7 .1-1.2 .3-1.3 .3-1.2 0-1.3-.1-1.3-.1-1.2-.1-1.3-.1-1.3-.1-1.2-.1-1.3-.1-.3 0-.9 0-.1 0-1.2 0-1.3 .2-1.2 .1-1.3 .2-1.2 .1 0-.6 0-1.3 0-.6 1.2-.1 1.3-.1 1.2 0 1.3 0 1.3 .1 1.2 .1 1.3 .1 1.2 .2 1.3 .1 1.3 0 1.2 .1 1.3 .1 .6 0 .7 0 .5 0 .7 0 1.3-.3 1.2-.3 1.3-.3 1.3-.3 .1-.1 1.1-.2 1.3-.3 1.3-.3 1.2-.2 1.3-.1 .7-.1 .5-.1 1.3-.2 1.3-.3 1.2-.6 .2-.1 1.1-.7 .6-.5 .6-.7 .6-.6 .7-.9 .3-.4 1-1.1 .1-.1 .9-1.3 .2-.3 .7-1 .6-.9 .2-.3 .6-1.3 .5-1 0-.2 .5-1.3 .5-1.3 .2-.6 .3-.6 .6-1.3z" fill="#406dfe" stroke="#406dfe" stroke-width="0.3" fill-rule="evenodd"/>
<path d="M673.3 260.3l.5-.6 .7 0 1.3 0 1.2 0 1.3 0 1.3 0 1.2 0 1.3 0 1.3 0 .2 0-.2 .1-1.3 .5-1.2 .6-.1 .1-1.2 .7-.8 .5-.5 .3-1.3 .9-1.2 1.1-.3 .2-1 1.2 0 .1-.7 1.2-.5 1-.2 .3-.6 1.2-.5 1-.2 .3-.8 1.3-.3 .2-.8 1-.4 .5-.9 .8-.4 .3-1.1 1-.1 .1-1.3 1-.2 .1-1.1 .9-.3 .4-.9 .7-.7 .5-.6 .5-1.3 .7-.2 .1-1 .4-1.3 .4-1.2 .2-1.3 .1-1.3 0-1.2 .1-.3 .1-1 .1-1.2 .2-1.3 .3-1.3 .3-1.2 .3-1.3 .3-1.3 .3-1.2 .2-1.3 .2-1.2 0-1.3 0-1.3 0-1.2-.1-1.3 0-1.3-.1-1.2 0-1.3 0-1.2 .1-1.3 .2-1.2 .2-.1 0-1.2 .2-1.3 .3-1.2 .3 0-.8 0-1.3 0-.6 1.2-.1 1.3-.2 1.2-.1 1.3-.2 1.2 0 .1 0 .9 0 .3 0 1.3 .1 1.2 .1 1.3 .1 1.3 .1 1.2 .1 1.3 .1 1.3 .1 1.2 0 1.3-.3 1.2-.3 .7-.1 .6-.2 1.3-.4 1.2-.3 1.3-.3 .3-.1 1-.2 1.2-.3 1.3-.1 1.2-.1 1.3-.2 1.3-.2 .5-.2 .7-.2 1.3-.6 .7-.4 .5-.4 1-.9 .3-.3 .9-.9 .4-.4 .9-.9 .3-.4 1-.9 .3-.3 .8-.9 .5-.7 .4-.6 .8-1.3 .6-1.2 .5-1.3 .2-.4 .3-.8 .4-1.3 .5-1.1 .1-.2 .9-1.2 .3-.5 .7-.8zM702.3 259.7l1.2 0 0 .7-1.2-.7-.1 0zM703.5 331.2l0 .4 0 1.2 0 1.3 0 1.3 0 1.2 0 1.3 0 1.2-1.2 0-1.3 0-.6 0 .4-1.2 .2-.7 .2-.6 .5-1.2 .5-1.3 .1-.3 .4-1 .6-1.2z" fill="#347afd" stroke="#347afd" stroke-width="0.3" fill-rule="evenodd"/>
<path d="M682.1 260.3l1.3-.5 .2-.1 1 0 1.3 0 1.2 0 1.3 0 1.3 0 1.2 0 1.3 0 1.3 0 1.2 0 1.3 0 1.2 0 1.3 0 1.3 0 1.2 0 1.2 0 .1 0 1.2 .7 0 .5 0 1.3 0 1.2 0 1.3 0 1.3 0 1.2 0 1.3 0 1.2 0 1.3 0 1.3 0 1.2 0 1.3 0 1.3 0 1.2 0 1.3 0 1.2 0 1.3 0 1.3 0 1.2 0 .1 0-.1-.9-1.2-.3-.6-.4-.7-.7-1.3-.2-.3-.4-.9-.6-1.3-.2-.4-.5-.8-.7-1.3-.1-.2-.7-1.1-.6-.6-.5-.6-.7-.7-.9-.6-.4-.2-1.2-.6-1.3-.4-.7-.1-.6 0-1.2 0 0 .1-1.3 .2-1.3 .6-.7 .4-.5 .4-1.1 .9-.2 .2-1 1-.2 .3-1.1 1-.2 .2-1.3 .9-.3 .2-.9 .4-1.3 .4-1.3 .3-.4 .1-.8 .2-1.3 .3-1.2 .4-1.2 .4-.1 0-1.3 .5-1.2 .5-.5 .2-.8 .4-1.2 .6-.5 .3-.8 .4-1.3 .7-.2 .2-1 .5-1.3 .5-.7 .2-.6 .2-1.2 .3-1.3 .1-1.2 0-1.3 0-1.3 0-1.2 0-1.3 .1-1.2 .3-1.3 .2-.3 .1-1 .2-1.2 .3-1.3 .2-1.3 .1-1.2 .1-1.3 .1-1.2 0-1.3 .1-1.3 .1-.6 .1-.6 0-1.3 .1-1.3 0-1.2 .2-1.3 .1-1.2 .3-1.3 .2-1.3 .3-1.2 .3-1.3 .3-1.2 .3 0-.9 0-1.2 0-.5 1.2-.3 1.3-.3 1.2-.2 .1 0 1.2-.2 1.3-.2 1.2-.1 1.3 0 1.2 0 1.3 .1 1.3 0 1.2 .1 1.3 0 1.3 0 1.2 0 1.3-.2 1.2-.2 1.3-.3 1.3-.3 1.2-.3 1.3-.3 1.3-.3 1.2-.2 1-.1 .3-.1 1.2-.1 1.3 0 1.3-.1 1.2-.2 1.3-.4 1-.4 .2-.1 1.3-.7 .6-.5 .7-.5 .9-.7 .3-.4 1.1-.9 .2-.1 1.3-1 .1-.1 1.1-1 .4-.3 .9-.8 .4-.5 .8-1 .3-.2 .8-1.3 .2-.3 .5-1 .6-1.2 .2-.3 .5-1 .7-1.2 0-.1 1-1.2 .3-.2 1.2-1.1 1.3-.9 .5-.3 .8-.5 1.2-.7 .1-.1zM703.5 324.6l0 .7 0 1.2 0 1.3 0 1.3 0 1.2 0 .9-.2 .4-.6 1.2-.4 1-.1 .3-.5 1.3-.5 1.2-.2 .6-.2 .7-.4 1.2-.6 0-1.3 0-1.3 0-.3 0 .3-1.2 0-.1 .4-1.2 .4-1.2 .4-1.3 .1-.1 .5-1.2 .5-1.2 .3-.5 .3-.8 .7-1.2 .2-.4 .5-.9 .8-1.3 .8-1.2z" fill="#2e86f7" stroke="#2e86f7" stroke-width="0.3" fill-rule="evenodd"/>
<path d="M690.9 269.7l.6 0 .7 .1 1.3 .4 1.2 .6 .4 .2 .9 .6 .7 .7 .5 .6 .6 .6 .7 1.1 .1 .2 .7 1.3 .5 .8 .2 .4 .6 1.3 .4 .9 .2 .3 .7 1.3 .4 .7 .3 .6 .9 1.2 0 .1 0 1.2 0 1.3 0 1.2 0 1.3 0 1.2 0 1.3 0 1.3 0 1.2 0 1.3 0 1.2 0 .1 0-.1-.9-1.2-.3-.4-.9-.9-.4-.3-1.1-.9-.1-.1-1.3-.9-.7-.3-.6-.3-1.2-.6-.8-.4-.5-.2-1.2-.4-1.3-.3-1.3-.3-.6 0-.6-.1-1.3-.1-1.3-.1-1.2-.2-1.3-.3-1.2-.3-.8-.2-.5-.2-1.3-.5-1.1-.5-.1-.1-1.3-.8-.9-.4-.4-.2-1.2-.5-1.3-.3-1.2-.2-1.1-.1-.2 0-.3 0-1 .1-1.2 .1-1.3 .3-1.2 .4-1.1 .4-.2 .1-1.3 .4-1.2 .5-.9 .3-.4 0-1.3 .3-1.2 .1-1.3-.1-1.2-.1-1.3-.1-1.3-.1-.5 0-.7-.1-.4 .1-.9 0-1.2 .2-1.3 .3-1.3 .2-1.2 .2-1.3 .2-1.3 0-1.2 0-1.3 0-1.2 .1-.3 0-1 .2-1.3 .2-1.2 .2-1.3 .2-1.3 .1-1.2 .3-.5 .1-.8 .2-1.2 .3-1.3 .4-1.3 .3-.1 0-1.1 .3-1.3 .5-1.2 .5 0-1.3 0-1.2 0-.4 1.2-.3 1.3-.3 1.2-.3 1.3-.3 1.3-.2 1.2-.3 1.3-.1 1.2-.2 1.3 0 1.3-.1 .6 0 .6-.1 1.3-.1 1.3-.1 1.2 0 1.3-.1 1.2-.1 1.3-.1 1.3-.2 1.2-.3 1-.2 .3-.1 1.3-.2 1.2-.3 1.3-.1 1.2 0 1.3 0 1.3 0 1.2 0 1.3-.1 1.2-.3 .6-.2 .7-.2 1.3-.5 1-.5 .2-.2 1.3-.7 .8-.4 .5-.3 1.2-.6 .8-.4 .5-.2 1.2-.5 1.3-.5 .1 0 1.2-.4 1.2-.4 1.3-.3 .8-.2 .4-.1 1.3-.3 1.3-.4 .9-.4 .3-.2 1.3-.9 .2-.2 1.1-1 .2-.3 1-1 .2-.2 1.1-.9 .5-.4 .7-.4 1.3-.6 1.3-.2 0-.1zM703.5 319.2l0 1 0 1.3 0 1.2 0 1.3 0 .6-.4 .7-.8 1.2-.8 1.3-.5 .9-.2 .4-.7 1.2-.3 .8-.3 .5-.5 1.2-.5 1.2-.1 .1-.4 1.3-.4 1.2-.4 1.2 0 .1-.3 1.2-.9 0-1.3 0-1 0 .4-1.2 .3-1.3 .3-.9 .1-.3 .4-1.3 .5-1.3 .3-.6 .3-.6 .6-1.3 .3-.7 .3-.5 .7-1.3 .3-.5 .4-.8 .8-1.2 .1-.1 .7-1.2 .5-.9 .3-.4 .8-1.2 .2-.3 .6-1z" fill="#2b91ef" stroke="#2b91ef" stroke-width="0.3" fill-rule="evenodd"/>
<path d="M672 283.6l.2 0 1.1 .1 1.2 .2 1.3 .3 1.2 .5 .4 .2 .9 .4 1.3 .8 .1 .1 1.1 .5 1.3 .5 .5 .2 .8 .2 1.2 .3 1.3 .3 1.2 .2 1.3 .1 1.3 .1 .6 .1 .6 0 1.3 .3 1.3 .3 1.2 .4 .5 .2 .8 .4 1.2 .6 .6 .3 .7 .3 1.3 .9 .1 .1 1.1 .9 .4 .3 .9 .9 .3 .4 .9 1.2 0 .1 0 1.2 0 1.3 0 1.2 0 1.3 0 1.3 0 1.2 0 1.3 0 1.2 0 1.3 0 1.3 0 1.2 0 1.3 0 1.2 0 1.3 0 1.3 0 1.2 0 1.3 0 1.3 0 .2-.6 1-.6 1-.2 .3-.8 1.2-.3 .4-.5 .9-.7 1.2-.1 .1-.8 1.2-.4 .8-.3 .5-.7 1.3-.3 .5-.3 .7-.6 1.3-.3 .6-.3 .6-.5 1.3-.4 1.3-.1 .3-.3 .9-.3 1.3-.4 1.2-.2 0-1.3 0-1.3 0 .4-1.2 .3-1.3 .4-1.2 .2-.7 .2-.6 .5-1.3 .5-1.2 .1-.1 .5-1.2 .7-1.2 0-.1 .7-1.2 .6-1 .1-.3 .8-1.2 .3-.6 .5-.7 .7-1.3 .1-.1 .7-1.1 .6-1.1 .1-.2 .7-1.2 .4-.8 .3-.5 .7-1.3 .3-.7 .2-.5 .4-1.3 .3-1.3 0-1.2-.1-1.3-.2-1.2-.4-1.3-.2-.5-.3-.8-.5-1.2-.5-1.2 0-.1-.4-1.2-.5-1.3-.3-.9-.2-.4-.7-1.2-.4-.6-.5-.7-.8-.8-.4-.5-.8-.6-.9-.6-.4-.3-1.2-.7-.6-.3-.7-.3-1.3-.6-1-.3-.2-.1-1.3-.4-1.3-.3-1.2-.3-1.3-.2-.1 0-1.1-.2-1.3-.2-1.3-.3-1.2-.4-.5-.2-.8-.4-1.3-.7-.1-.1-1.1-.7-1.3-.6-.1 0-1.1-.4-1.3-.3-1.3 0-1.2 0-1.3 .2-1.2 .3-.8 .2-.5 .2-1.3 .4-1.2 .4-1.2 .3-.1 0-1.3 .2-1.2-.1-1.1-.1-.2 0-1.2-.3-1.3-.2-1.3-.1-1.2 0-1.3 .1-1.2 .1-1.3 .3-.4 .1-.9 .2-1.2 .2-1.3 .1-1.3 .1-1.2-.1-1.3 0-1.2 .2-1.3 .2-1.3 .2-.6 .1-.6 .2-1.3 .2-1.3 .2-1.2 .2-1.3 .3-.5 .2-.7 .2-1.3 .5-1.3 .4-.3 .2-.9 .4-1.3 .7-.2 .1-1 .8 0-.8 0-1.2 0-1.3 1.2-.5 1.3-.5 1.1-.3 .1 0 1.3-.3 1.3-.4 1.2-.3 .8-.2 .5-.1 1.2-.3 1.3-.1 1.3-.2 1.2-.2 1.3-.2 1-.2 .3 0 1.2-.1 1.3 0 1.2 0 1.3 0 1.3-.2 1.2-.2 1.3-.2 1.3-.3 1.2-.2 .9 0 .4-.1 .7 .1 .5 0 1.3 .1 1.3 .1 1.2 .1 1.3 .1 1.2-.1 1.3-.3 .4 0 .9-.3 1.2-.5 1.3-.4 .2-.1 1.1-.4 1.2-.4 1.3-.3 1.2-.1 1-.1zM624.7 334.1l.6 1.3 0 .1 .4 1.1 .2 1.3 .2 1.2-.8 0-1.2 0 0-1.2 0-1.3 0-1.2 0-1.3 0-.9z" fill="#259ce7" stroke="#259ce7" stroke-width="0.3" fill-rule="evenodd"/>
<path d="M667 287.2l1.2-.3 1.3-.2 1.2 0 1.3 0 1.3 .3 1.1 .4 .1 0 1.3 .6 1.1 .7 .1 .1 1.3 .7 .8 .4 .5 .2 1.2 .4 1.3 .3 1.3 .2 1.1 .2 .1 0 1.3 .2 1.2 .3 1.3 .3 1.3 .4 .2 .1 1 .3 1.3 .6 .7 .3 .6 .3 1.2 .7 .4 .3 .9 .6 .8 .6 .4 .5 .8 .8 .5 .7 .4 .6 .7 1.2 .2 .4 .3 .9 .5 1.3 .4 1.2 0 .1 .5 1.2 .5 1.2 .3 .8 .2 .5 .4 1.3 .2 1.2 .1 1.3 0 1.2-.3 1.3-.4 1.3-.2 .5-.3 .7-.7 1.3-.3 .5-.4 .8-.7 1.2-.1 .2-.6 1.1-.7 1.1-.1 .1-.7 1.3-.5 .7-.3 .6-.8 1.2-.1 .3-.6 1-.7 1.2 0 .1-.7 1.2-.5 1.2-.1 .1-.5 1.2-.5 1.3-.2 .6-.2 .7-.4 1.2-.3 1.3-.4 1.2-1.2 0-1.3 0 0-.1 .3-1.1 .3-1.3 .4-1.2 .3-.9 .1-.4 .5-1.3 .5-1.2 .1-.3 .5-1 .7-1.2 .1-.2 .7-1.1 .6-.9 .2-.4 .8-1.2 .2-.3 .7-1 .6-1 .1-.3 .8-1.2 .3-.8 .3-.5 .6-1.2 .4-.9 .2-.4 .6-1.3 .5-1.2 .3-1.3 .2-1.3-.3-1.2-.2-.5-.6-.8-.7-.7-.9-.5-.4-.3-1.2-.9-.2-.1-1.1-1.2-.1-.1-.8-1.2-.1-1.3 .7-1.2 .3-1.3-.4-1.3-.8-1.2-.1 0-1.1-1.3-.1-.1-1.3-1.1 0-.1-1.2-.8-.8-.4-.5-.3-1.3-.5-1.2-.5-.1 0-1.2-.3-1.2-.3-1.3-.2-1.3-.2-1.2-.2-1.3-.5-1.3-.7-.1-.1-1.1-.7-1-.6-.3-.1-1.2-.5-1.3-.3-1.3-.2-1.2 0-1.3 .2-1.2 .2-1.3 .4-1.1 .3-.2 .1-1.2 .3-1.3 .4-1.3 .1-1.2-.1-1.3-.3-1.2-.2-1.3-.2-.8-.1-.5 0-1.2 0-.6 0-.7 .1-1.2 .2-1.3 .3-1.3 .4-1.2 .3-1.3 .2-1.3 .2-1.2 .1-1.3 .2-1.2 .2-1.3 .2-.9 .2-.4 0-1.2 .3-1.3 .1-1.3 .1-1.2 .2-1.3 .2-.9 .3-.3 .2-1.3 .7-.6 .4-.7 .7-.6 .5-.6 .9-.4 .4-.9 1.1-.1 .2-1.1 1.2 0 .1 0-.1 0-1.2 0-1.3 0-1.3 0-1.2 0-.5 1-.8 .2-.1 1.3-.7 .9-.4 .3-.2 1.3-.4 1.3-.5 .7-.2 .5-.2 1.3-.3 1.2-.2 1.3-.2 1.3-.2 .6-.2 .6-.1 1.3-.2 1.3-.2 1.2-.2 1.3 0 1.2 .1 1.3-.1 1.3-.1 1.2-.2 .9-.2 .4-.1 1.3-.3 1.2-.1 1.3-.1 1.2 0 1.3 .1 1.3 .2 1.2 .3 .2 0 1.1 .1 1.2 .1 1.3-.2 .1 0 1.2-.3 1.2-.4 1.3-.4 .5-.2zM624.9 326.5l.4 .3 1.3 .7 .5 .3 .7 .4 1.3 .8 0 .1 1.2 1.2 .1 0 .5 1.3 .2 1.2 0 1.3 0 1.3 0 1.2-.1 1.3 0 1.2-.6 0-1.3 0-1.3 0-1.2 0-.5 0-.2-1.2-.2-1.3-.4-1.1 0-.1-.6-1.3-.6-.9 0-.4 0-1.2 0-1.3 0-1.2 0-1.3 0-1.3 0-.5z" fill="#1fa5e2" stroke="#1fa5e2" stroke-width="0.3" fill-rule="evenodd"/>
<path d="M653.1 289.9l1.2 0 .5 0 .8 .1 1.3 .2 1.2 .2 1.3 .3 1.2 .1 1.3-.1 1.3-.4 1.2-.3 .2-.1 1.1-.3 1.3-.4 1.2-.2 1.3-.2 1.2 0 1.3 .2 1.3 .3 1.2 .5 .3 .1 1 .6 1.1 .7 .1 .1 1.3 .7 1.3 .5 1.2 .2 1.3 .2 1.3 .2 1.2 .3 1.2 .3 .1 0 1.2 .5 1.3 .5 .5 .3 .8 .4 1.2 .8 0 .1 1.3 1.1 .1 .1 1.1 1.3 .1 0 .8 1.2 .4 1.3-.3 1.3-.7 1.2 .1 1.3 .8 1.2 .1 .1 1.1 1.2 .2 .1 1.2 .9 .4 .3 .9 .5 .7 .7 .6 .8 .2 .5 .3 1.2-.2 1.3-.3 1.3-.5 1.2-.6 1.3-.2 .4-.4 .9-.6 1.2-.3 .5-.3 .8-.8 1.2-.1 .3-.6 1-.7 1-.2 .3-.8 1.2-.2 .4-.6 .9-.7 1.1-.1 .2-.7 1.2-.5 1-.1 .3-.5 1.2-.5 1.3-.1 .4-.3 .9-.4 1.2-.3 1.3-.3 1.1 0 .1-1.3 0-1.1 0 .3-1.2 .4-1.3 .3-1.2 .1-.4 .3-.9 .5-1.3 .5-1.2 0-.1 .6-1.2 .7-1.2 .8-1.3 .4-.5 .6-.8 .7-.9 .2-.3 1-1.3 .1-.1 .8-1.2 .4-.7 .3-.5 .6-1.3 .4-.8 .2-.4 .5-1.3 .4-1.3 .1-.8 .2-.4 .1-1.3-.2-1.3-.1 0-1.2-1.2-.1 0-1.2-.9-.3-.4-.9-.9-.4-.3-.9-1-.3-.3-1-1.1-.1-.2-.8-1.2-.3-.9-.1-.4 .1-.9 0-.3 .3-1.3-.1-1.3-.2-.7-.2-.5-1-1.3-.1-.1-1.3-1-.3-.2-.9-.4-1.3-.6-.8-.2-.4-.1-1.3-.4-1.3-.2-1.2-.3-1.1-.3-.2 0-1.3-.7-.9-.5-.3-.2-1.3-.7-.9-.4-.3-.1-1.3-.4-1.3-.1-1.2 0-1.3 .1-1.2 .2-1.1 .3-.2 .1-1.3 .3-1.2 .3-1.3 .3-1.3 .2-1.2-.2-1.3-.3-1.2-.2-1.3-.2-1.3-.1-1.2 .1-1.3 .2-1.2 .3-1.3 .4-.3 .1-1 .3-1.2 .5-1.3 .4-.1 0-1.2 .3-1.2 .4-1.3 .4-.5 .2-.7 .3-1.3 .8-.2 .1-1 1.3-.1 .1-.3 1.2-.2 1.2-.1 1.3-.3 1.3-.3 .5-.6 .7-.7 .6-1.3 .6-.2 .1-1 .2-1.3 .1-1.2 0-1.3 .1-1.3 .1-1.2 .3-.9 .4-.4 .2-1.2 .9 0-1.1 0-1.2 0-1.3 0-1.2 0-1.3 0-1.2 0-.1 1.1-1.2 .1-.2 .9-1.1 .4-.4 .6-.9 .6-.5 .7-.7 .6-.4 1.3-.7 .3-.2 .9-.3 1.3-.2 1.2-.2 1.3-.1 1.3-.1 1.2-.3 .4 0 .9-.2 1.3-.2 1.2-.2 1.3-.2 1.2-.1 1.3-.2 1.3-.2 1.2-.3 1.3-.4 1.3-.3 1.2-.2 .7-.1zM624.6 321.5l.7 .6 .9 .6 .4 .3 1.2 .7 .6 .3 .7 .3 1.3 .6 .8 .4 .4 .2 1.3 .6 .7 .4 .5 .5 .7 .8 .5 1.3 0 1.2-.2 1.3-.2 1.2-.2 1.3-.1 1.3-.1 1.2-.1 1.3 0 1.2-.3 0-1.2 0-1.3 0-.6 0 0-1.2 .1-1.3 0-1.2 0-1.3 0-1.3-.2-1.2-.5-1.3-.1 0-1.2-1.2 0-.1-1.3-.8-.7-.4-.5-.3-1.3-.7-.4-.3-.8-.5 0-.7 0-1.3 0-1.3 0-1.2 0-.5z" fill="#17aeda" stroke="#17aeda" stroke-width="0.3" fill-rule="evenodd"/>
<path d="M667 290.9l1.2-.2 1.3-.1 1.2 0 1.3 .1 1.3 .4 .3 .1 .9 .4 1.3 .7 .3 .2 .9 .5 1.3 .7 .2 0 1.1 .3 1.2 .3 1.3 .2 1.3 .4 .4 .1 .8 .2 1.3 .6 .9 .4 .3 .2 1.3 1 .1 .1 1 1.3 .2 .5 .2 .7 .1 1.3-.3 1.3 0 .3-.1 .9 .1 .4 .3 .9 .8 1.2 .1 .2 1 1.1 .3 .3 .9 1 .4 .3 .9 .9 .3 .4 1.2 .9 .1 0 1.2 1.2 .1 0 .2 1.3-.1 1.3-.2 .4-.1 .8-.4 1.3-.5 1.3-.2 .4-.4 .8-.6 1.3-.3 .5-.4 .7-.8 1.2-.1 .1-1 1.3-.2 .3-.7 .9-.6 .8-.4 .5-.8 1.3-.7 1.2-.6 1.2 0 .1-.5 1.2-.5 1.3-.3 .9-.1 .4-.3 1.2-.4 1.3-.3 1.2-.1 0-1.3 0-.9 0 .4-1.2 .4-1.3 .1-.6 .2-.6 .4-1.3 .4-1.3 .3-.8 .2-.4 .5-1.3 .5-.9 .2-.3 .9-1.3 .2-.2 .9-1.1 .4-.4 .7-.8 .5-.6 .6-.7 .7-.8 .4-.5 .9-1.2 .7-1.3 .5-1.2 0-.2 .4-1.1 .4-1.3 .1-1.2-.2-1.3-.7-1.1-.1-.2-1.1-1.1-.1-.1-1.2-1.1-.2-.2-1.1-1.1-.1-.1-1-1.3-.1-.2-.6-1.1-.5-1.2-.2-1.3 0-.8 0-.4-.1-1.3-.4-1.3-.8-1.1-.1-.1-1.1-1.1-.4-.2-.9-.5-1.2-.5-.6-.3-.7-.2-1.3-.3-1.2-.4-1.1-.3-.2-.1-1.3-.5-1.1-.7-.1-.1-1.3-.6-1.2-.5-.3 0-1-.3-1.3-.1-1.2 0-1.3 .1-1.2 .2-.2 .1-1.1 .2-1.3 .3-1.2 .3-1.3 .2-1.3 0-1.2-.1-1.3-.2-1.2-.2-1.3-.1-1.3 0-1.2 .1-1.3 .2-1.2 .3-.5 .2-.8 .3-1.3 .5-1 .5-.2 .1-1.3 .5-1.3 .5-.3 .1-.9 .4-1.3 .8-.1 .1-1.1 1.1-.2 .2-.7 1.2-.4 1-.1 .3-.5 1.3-.6 1.2-.1 .1-.8 1.2-.4 .4-1 .8-.3 .3-1.3 .7-.7 .3-.5 .2-1.3 .4-1.2 .4-.9 .3-.4 .1-1.3 .7-.5 .4-.7 .7-.5 .6-.7 1.2-.1 .6-.1 .7 0 1.3 .1 .7 .1 .5 .6 1.3 .6 .8 .3 .5 .9 .8 .5 .4 .8 .6 1.2 .7 .1 0 1.2 .7 1.2 .5 .1 .1 1.2 .6 1 .6 .3 .2 1.2 1.1 .1 0 .8 1.2 .4 1.2 .1 .1-.1 .8 0 .5-.3 1.2-.2 1.3-.2 1.2-.2 1.3 0 1.3-.1 1.2 .1 1.3 .1 1.2-.4 0-1.3 0-1 0 0-1.2 .1-1.3 .1-1.2 .1-1.3 .2-1.3 .2-1.2 .2-1.3 0-1.2-.5-1.3-.7-.8-.5-.5-.7-.4-1.3-.6-.4-.2-.8-.4-1.3-.6-.7-.3-.6-.3-1.2-.7-.4-.3-.9-.6-.7-.6-.5-.5 0-.8 0-1.2 0-1.3 0-1.3 0-1.2 0-1.3 0-1.3 0-1.2 0-1.3 0-1.2 0-1.3 0-.2 1.2-.9 .4-.2 .9-.4 1.2-.3 1.3-.1 1.3-.1 1.2 0 1.3-.1 1-.2 .2-.1 1.3-.6 .7-.6 .6-.7 .3-.5 .3-1.3 .1-1.3 .2-1.2 .3-1.2 .1-.1 1-1.3 .2-.1 1.3-.8 .7-.3 .5-.2 1.3-.4 1.2-.4 1.2-.3 .1 0 1.3-.4 1.2-.5 1-.3 .3-.1 1.3-.4 1.2-.3 1.3-.2 1.2-.1 1.3 .1 1.3 .2 1.2 .2 1.3 .3 1.2 .2 1.3-.2 1.3-.3 1.2-.3 1.3-.3 .2-.1z" fill="#05b6ce" stroke="#05b6ce" stroke-width="0.3" fill-rule="evenodd"/>
<path d="M667 292.4l1.2-.2 1.3-.1 1.2 0 1.3 .1 1 .3 .3 0 1.2 .5 1.3 .6 .1 .1 1.1 .7 1.3 .5 .2 .1 1.1 .3 1.2 .4 1.3 .3 .7 .2 .6 .3 1.2 .5 .9 .5 .4 .2 1.1 1.1 .1 .1 .8 1.1 .4 1.3 .1 1.3 0 .4 0 .8 .2 1.3 .5 1.2 .6 1.1 .1 .2 1 1.3 .1 .1 1.1 1.1 .2 .2 1.2 1.1 .1 .1 1.1 1.1 .1 .2 .7 1.1 .2 1.3-.1 1.2-.4 1.3-.4 1.1 0 .2-.5 1.2-.7 1.3-.9 1.2-.4 .5-.7 .8-.6 .7-.5 .6-.7 .8-.4 .4-.9 1.1-.2 .2-.9 1.3-.2 .3-.5 .9-.5 1.3-.2 .4-.3 .8-.4 1.3-.4 1.3-.2 .6-.1 .6-.4 1.3-.4 1.2-.3 0-1.3 0-.5 0 .4-1.2 .1-.4 .3-.9 .3-1.2 .4-1.3 .3-.9 .1-.4 .4-1.2 .5-1.3 .2-.4 .4-.8 .8-1.3 .1-.1 1.1-1.2 .1-.1 1.2-1.1 .1-.1 1.2-1.2 .1 0 1.2-1.3 1.2-1.2 .1-.1 .7-1.2 .6-1.2 .4-1.3 .4-1.3 0-1.2-.4-1.3-.4-.6-.6-.7-.7-.6-.7-.6-.6-.6-.7-.7-.5-.6-.6-.6-.7-1.1-.1-.2-.5-1.3-.3-1.2-.1-1.3-.2-1.2-.1-.4-.3-.9-.8-1.3-.1-.1-1.3-1.1-1.2-.8-1.2-.5-.1 0-1.3-.5-1.2-.4-.9-.4-.4-.1-1.3-.5-1-.6-.2-.1-1.3-.7-1.2-.4-.5-.1-.8-.1-1.3-.1-1.2 0-1.3 .1-.8 .1-.4 .1-1.3 .2-1.3 .3-1.2 .2-1.3 .2-1.3 0-1.2-.2-1.3-.2-1.2-.1-1.3-.1-1.3 .1-1.2 .1-1.3 .3-1.2 .4-1.3 .5-1.3 .6-.3 .1-.9 .5-1.3 .6-.5 .2-.8 .3-1.2 .7-.3 .3-1 .9-.3 .3-.8 1.3-.1 .4-.5 .9-.6 1.2-.2 .5-.5 .8-.8 1.2-1 1.3-.2 .2-1.2 1.1-.1 0-1.3 .8-.7 .4-.5 .3-1.3 .6-.6 .4-.6 .4-.8 .8-.5 1-.1 .3-.1 1.3 .2 .6 .2 .6 1 1.3 .1 .1 1.2 1 .2 .2 1.1 .6 .9 .6 .3 .2 1.3 .9 .3 .2 1 .8 .3 .4 .9 1.1 .2 .2 .7 1.3 .4 .9 .1 .3 .2 1.3-.1 1.3-.2 1-.1 .2-.1 1.3-.1 1.2 0 1.3 0 1.3 .1 1.2 .2 1.2 0 .1 .2 1.2-.2 0-1.3 0-.8 0-.1-1.2-.1-1.3 .1-1.2 0-1.3 .2-1.3 .2-1.2 .2-1.3 .3-1.2 0-.5 .1-.8-.1-.1-.4-1.2-.8-1.2-.1 0-1.2-1.1-.3-.2-1-.6-1.2-.6-.1-.1-1.2-.5-1.2-.7-.1 0-1.2-.7-.8-.6-.5-.4-.9-.8-.3-.5-.6-.8-.6-1.3-.1-.5-.1-.7 0-1.3 .1-.7 .1-.6 .7-1.2 .5-.6 .7-.7 .5-.4 1.3-.7 .4-.1 .9-.3 1.2-.4 1.3-.4 .5-.2 .7-.3 1.3-.7 .3-.3 1-.8 .4-.4 .8-1.2 .1-.1 .6-1.2 .5-1.3 .1-.3 .4-1 .7-1.2 .2-.2 1.1-1.1 .1-.1 1.3-.8 .9-.4 .3-.1 1.3-.5 1.3-.5 .2-.1 1-.5 1.3-.5 .8-.3 .5-.2 1.2-.3 1.3-.2 1.2-.1 1.3 0 1.3 .1 1.2 .2 1.3 .2 1.2 .1 1.3 0 1.3-.2 1.2-.3 1.3-.3 1.1-.2z" fill="#06bcc0" stroke="#06bcc0" stroke-width="0.3" fill-rule="evenodd"/>
<path d="M668.2 293.6l1.3-.1 1.2 0 1.3 .1 .8 .1 .5 .1 1.2 .4 1.3 .7 .2 .1 1 .6 1.3 .5 .4 .1 .9 .4 1.2 .4 1.3 .5 .1 0 1.2 .5 1.2 .8 1.3 1.1 .1 .1 .8 1.3 .3 .9 .1 .4 .2 1.2 .1 1.3 .3 1.2 .5 1.3 .1 .2 .7 1.1 .6 .6 .5 .6 .7 .7 .6 .6 .7 .6 .7 .6 .6 .7 .4 .6 .4 1.3 0 1.2-.4 1.3-.4 1.3-.6 1.2-.7 1.2-.1 .1-1.2 1.2-1.2 1.3-.1 0-1.2 1.2-.1 .1-1.2 1.1-.1 .1-1.1 1.2-.1 .1-.8 1.3-.4 .8-.2 .4-.5 1.3-.4 1.2-.1 .4-.3 .9-.4 1.3-.3 1.2-.3 .9-.1 .4-.4 1.2-.8 0-1.2 0-.2 0 .2-.3 .3-.9 .5-1.3 .4-1.2 0-.3 .3-1 .4-1.3 .4-1.2 .2-.7 .2-.6 .5-1.2 .6-1 .1-.3 1-1.3 .1-.1 1.2-1.1 .1-.1 1.2-1 .3-.2 1-.7 .7-.6 .6-.4 .9-.8 .3-.3 .9-1 .4-.6 .3-.6 .5-1.3 .3-1.3-.1-1.2-.6-1.3-.4-.5-.9-.8-.4-.2-1.1-1-.1-.1-1.3-1.2-1-1.2-.3-.6-.3-.7-.4-1.3-.2-1.2-.1-1.3-.2-1.2-.9-1.3-.4-.5-.9-.8-.3-.2-1.3-.8-.5-.2-.8-.4-1.2-.5-.9-.4-.4-.1-1.3-.6-1-.6-.2 0-1.3-.7-1.2-.4-.7-.1-.6-.1-1.3-.1-1.2 0-1.3 .1-.4 .1-.8 .1-1.3 .2-1.3 .3-1.2 .2-1.3 0-1.3 0-1.2-.1-1.3-.2-1.2-.1-1.3-.1-1.3 .1-1.2 .2-1.3 .3-.9 .3-.3 .1-1.3 .6-1.3 .6-.1 0-1.1 .6-1.3 .5-.3 .2-1 .4-1 .8-.2 .2-.9 1.1-.4 .7-.3 .6-.6 1.2-.3 .8-.3 .5-.6 1.2-.4 .8-.3 .5-.7 1.3-.3 .4-.6 .8-.6 .8-.5 .5-.8 .9-.3 .3-1 1.3-.2 1.3 .2 .3 .5 .9 .8 .9 .3 .4 1 1.1 .1 .2 1 1.2 .1 .2 .7 1.1 .6 1.1 .1 .1 .4 1.3 .4 1.3 .3 1.2 .1 .4 0 .9 0 .6-.1 .7-.2 1.2 0 1.3 .1 1.2 .2 1.2 0 .1 .2 1.3 .3 1.2 .3 1.3 .4 1.2-1.2 0-1.1 0-.2-1.2 0-.1-.2-1.2-.1-1.2 0-1.3 0-1.3 .1-1.2 .1-1.3 .1-.2 .2-1 .1-1.3-.2-1.3-.1-.3-.4-.9-.7-1.3-.2-.2-.9-1.1-.3-.4-1-.8-.3-.2-1.3-.9-.3-.2-.9-.6-1.1-.6-.2-.2-1.2-1-.1-.1-1-1.3-.2-.6-.2-.6 .1-1.3 .1-.3 .5-1 .8-.8 .6-.4 .6-.4 1.3-.6 .5-.3 .7-.4 1.3-.8 .1 0 1.2-1.1 .2-.2 1-1.3 .8-1.2 .5-.8 .2-.5 .6-1.2 .5-.9 .1-.4 .8-1.3 .3-.3 1-.9 .3-.3 1.2-.7 .8-.3 .5-.2 1.3-.6 .9-.5 .3-.1 1.3-.6 1.3-.5 1.2-.4 1.3-.3 1.2-.1 1.3-.1 1.3 .1 1.2 .1 1.3 .2 1.2 .2 1.3 0 1.3-.2 1.2-.2 1.3-.3 1.3-.2 .4-.1z" fill="#1fc0b2" stroke="#1fc0b2" stroke-width="0.3" fill-rule="evenodd"/>
<path d="M668.2 294.9l1.3-.1 1.2 0 1.3 .1 .6 .1 .7 .1 1.2 .4 1.3 .7 .2 0 1 .6 1.3 .6 .4 .1 .9 .4 1.2 .5 .8 .4 .5 .2 1.3 .8 .3 .2 .9 .8 .4 .5 .9 1.3 .2 1.2 .1 1.3 .2 1.2 .4 1.3 .3 .7 .3 .6 1 1.2 1.3 1.2 .1 .1 1.1 1 .4 .2 .9 .8 .4 .5 .6 1.3 .1 1.2-.3 1.3-.5 1.3-.3 .6-.4 .6-.9 1-.3 .3-.9 .8-.6 .4-.7 .6-1 .7-.3 .2-1.2 1-.1 .1-1.2 1.1-.1 .1-1 1.3-.1 .3-.6 1-.5 1.2-.2 .6-.2 .7-.4 1.2-.4 1.3-.3 1 0 .3-.4 1.2-.5 1.3-.3 .9-.2 .3-1.1 0-1 0 .6-1.2 .4-1 .1-.3 .5-1.2 .4-1.3 .3-1.1 0-.2 .4-1.2 .3-1.3 .4-1.2 .1-.3 .5-1 .7-1.3 .1-.1 1-1.1 .3-.3 1.1-1 .1 0 1.3-.8 .7-.5 .5-.3 1.3-.7 .3-.2 1-.6 .7-.7 .5-.4 .6-.8 .7-1.3 .3-1.3-.2-1.2-.1-.2-.9-1.1-.4-.3-1.2-.9-.2-.1-1.1-.7-.7-.5-.6-.5-.7-.8-.5-.8-.3-.4-.5-1.3-.2-1.3-.2-1.2-.1-.4-.2-.9-.6-1.2-.4-.5-.8-.8-.5-.4-1.3-.9-1.2-.6-1.2-.6-.1-.1-1.3-.5-1.2-.6-.1-.1-1.2-.5-1.2-.5-1.3-.2-.6-.1-.7 0-1.2 0-.8 0-.5 .1-1.2 .1-1.3 .2-1.3 .3-1.2 .1-1.3 .1-1.3 0-1.2-.2-1.3-.2-1.2-.1-1.3 0-1.3 .1-1.2 .2-1.3 .3-.8 .3-.4 .1-1.3 .5-1.3 .6-.2 .1-1 .4-1.3 .6-.4 .2-.9 .7-.6 .6-.6 .9-.2 .4-.6 1.2-.5 1.2 0 .1-.5 1.2-.5 1.3-.2 .8-.2 .5-.5 1.2-.4 1.3-.2 .7-.2 .5-.2 1.3 0 1.3 .2 1.2 .2 .6 .2 .7 .5 1.3 .4 1.2 .2 .5 .2 .8 .2 1.2 .2 1.3 .1 1.3 0 1.2 0 1.3 0 1.3 0 1.2 .2 1.3 .3 1.2 0 .1 .4 1.2 .4 1.3 .5 1.1 0 .1 .6 1.3 .5 1.2-1.1 0-1.3 0-.4-1.2-.3-1.3-.3-1.2-.2-1.3 0-.1-.2-1.2-.1-1.2 0-1.3 .2-1.2 .1-.7 0-.6 0-.9-.1-.4-.3-1.2-.4-1.3-.4-1.3-.1-.1-.6-1.1-.7-1.1-.1-.2-1-1.2-.1-.2-1-1.1-.3-.4-.8-.9-.5-.9-.2-.3 .2-1.3 1-1.3 .3-.3 .8-.9 .5-.5 .6-.8 .6-.8 .3-.4 .7-1.3 .3-.5 .4-.8 .6-1.2 .3-.5 .3-.8 .6-1.2 .3-.6 .4-.7 .9-1.1 .2-.2 1-.8 1-.4 .3-.2 1.3-.5 1.1-.6 .1 0 1.3-.6 1.3-.6 .3-.1 .9-.3 1.3-.3 1.2-.2 1.3-.1 1.3 .1 1.2 .1 1.3 .2 1.2 .1 1.3 0 1.3 0 1.2-.2 1.3-.3 1.3-.2 .8-.1z" fill="#2fc5a2" stroke="#2fc5a2" stroke-width="0.3" fill-rule="evenodd"/>
<path d="M669.5 296.2l1.2 0 .7 0 .6 .1 1.3 .2 1.2 .5 1.2 .5 .1 .1 1.2 .6 1.3 .5 .1 .1 1.2 .6 1.2 .6 1.3 .9 .5 .4 .8 .8 .4 .5 .6 1.2 .2 .9 .1 .4 .2 1.2 .2 1.3 .5 1.3 .3 .4 .5 .8 .7 .8 .6 .5 .7 .5 1.1 .7 .2 .1 1.2 .9 .4 .3 .9 1.1 .1 .2 .2 1.2-.3 1.3-.7 1.3-.6 .8-.5 .4-.7 .7-1 .6-.3 .2-1.3 .7-.5 .3-.7 .5-1.3 .8-.1 0-1.1 1-.3 .3-1 1.1-.1 .1-.7 1.3-.5 1-.1 .3-.4 1.2-.3 1.3-.4 1.2 0 .2-.3 1.1-.4 1.3-.5 1.2-.1 .3-.4 1-.6 1.2-.3 0-1.2 0-.7 0 .7-1.1 .1-.1 .6-1.3 .5-1.2 0-.1 .5-1.2 .3-1.3 .4-1.2 .1-.7 .1-.6 .4-1.2 .3-1.3 .5-1.2 0-.1 .7-1.2 .5-.7 .5-.6 .8-.8 .6-.5 .7-.4 1.2-.7 .4-.1 .9-.4 1.2-.4 1.2-.5 .1 0 1.3-.7 .6-.5 .6-.7 .4-.6 .4-1.3-.5-1.2-.3-.3-1.2-.9-.3-.1-1-.5-1.3-.5-.6-.3-.6-.3-1.2-.9-.1-.1-.8-1.2-.4-1.2-.4-1.3-.2-1.3-.3-1.2-.4-1.1-.1-.2-.9-1.2-.3-.3-1.1-1-.1-.1-1.3-.8-.6-.4-.7-.3-1.2-.6-.8-.3-.5-.2-1.2-.5-1.3-.2-1.3-.2-1.2 0-1.3 0-1.2 .1-1.3 .2-1.3 .3-1.2 .2-1.3 0-1.3-.1-1.2-.1-1.3-.2-1.2-.1-1.3-.1-1.3 .1-1.2 .2-1.3 .3-.7 .3-.5 .1-1.3 .5-1.3 .4-.5 .2-.7 .3-1.3 .7-.3 .3-1 1.2 0 .1-.6 1.2-.4 1.3-.2 .7-.2 .5-.3 1.3-.2 1.3-.2 1.2-.1 1.3-.1 1.2 0 1.3 .1 1.3 .1 1.2 .1 1.3 .2 1.3 .1 1.2 0 1.3 0 1.2 0 1.3-.2 1.3-.2 1.2-.2 1.3 .1 1.3 .3 1.2 .4 1.3 .3 .6 .4 .6 .6 1.3 .2 .4 .5 .9 .7 1.2 .1 .2 .7 1.1 .6 1 .1 .2-.1 0-1.3 0-1.3 0-.1 0-.5-1.2-.6-1.3 0-.1-.5-1.1-.4-1.3-.4-1.2 0-.1-.3-1.2-.2-1.3 0-1.2 0-1.3 0-1.3 0-1.2-.1-1.3-.2-1.3-.2-1.2-.2-.8-.2-.5-.4-1.2-.5-1.3-.2-.7-.2-.6-.2-1.2 0-1.3 .2-1.3 .2-.5 .2-.7 .4-1.3 .5-1.2 .2-.5 .2-.8 .5-1.3 .5-1.2 0-.1 .5-1.2 .6-1.2 .2-.4 .6-.9 .6-.6 .9-.7 .4-.2 1.3-.6 1-.4 .2-.1 1.3-.6 1.3-.5 .4-.1 .8-.3 1.3-.3 1.2-.2 1.3-.1 1.3 0 1.2 .1 1.3 .2 1.2 .2 1.3 0 1.3-.1 1.2-.1 1.3-.3 1.3-.2 1.2-.1 .5-.1z" fill="#3dc990" stroke="#3dc990" stroke-width="0.3" fill-rule="evenodd"/>
<path d="M651.8 298.5l1.3-.3 1.2-.2 1.3-.1 1.3 .1 1.2 .1 1.3 .2 1.2 .1 1.3 .1 1.3 0 1.2-.2 1.3-.3 1.3-.2 1.2-.1 1.3 0 1.2 0 1.3 .2 1.3 .2 1.2 .5 .5 .2 .8 .3 1.2 .6 .7 .3 .6 .4 1.3 .8 .1 .1 1.1 1 .3 .3 .9 1.2 .1 .2 .4 1.1 .3 1.2 .2 1.3 .4 1.3 .4 1.2 .8 1.2 .1 .1 1.2 .9 .6 .3 .6 .3 1.3 .5 1 .5 .3 .1 1.2 .9 .3 .3 .5 1.2-.4 1.3-.4 .6-.6 .7-.6 .5-1.3 .7-.1 0-1.2 .5-1.2 .4-.9 .4-.4 .1-1.2 .7-.7 .4-.6 .5-.8 .8-.5 .6-.5 .7-.7 1.2 0 .1-.5 1.2-.3 1.3-.4 1.2-.1 .6-.1 .7-.4 1.2-.3 1.3-.5 1.2 0 .1-.5 1.2-.6 1.3-.1 .1-.7 1.1-.6 0-1.2 0-.6 0 .6-.6 .4-.6 .8-1.3 .6-1.2 .6-1.3 .1-.3 .3-1 .4-1.2 .2-1.3 .3-1.2 0-.6 .2-.7 .3-1.3 .5-1.2 .3-.8 .3-.5 .6-1.3 .4-.6 .4-.6 .8-1.3 .1 0 1.2-1.2 0-.1 1.3-.8 1.2 .1 1.3 .2 1.2 .1 1.3-.2 1.3-.5 .1-.1 .6-1.3-.7-.7-1.3-.5-1.3-.1-.2 .1-1 .3-1.3 .5-1.2 0-1.2-.8-.1-.1-.7-1.2-.5-1.3-.1 0-.2-1.2-.1-1.3-.1-1.2-.2-1.3-.1-1.3-.4-1.2-.1-.4-.5-.9-.8-1-.3-.2-1-.8-.7-.5-.5-.2-1.3-.6-1.1-.5-.1 0-1.3-.4-1.3-.2-1.2-.1-1.3 0-1.2 .1-1.3 .2-1.3 .3-.9 .1-.3 .1-1.3-.1-.1 0-1.2-.1-1.2-.2-1.3-.2-1.2-.1-1.3-.1-1.3 .1-1.2 .2-1.3 .3-.3 .1-.9 .3-1.3 .4-1.3 .4-.4 .2-.8 .4-1 .9-.3 .5-.3 .7-.4 1.3-.2 1.2-.2 1.3 0 1.3 .1 1.2 .1 1.3 .1 1.2 .2 1.3 .1 1.3 0 1.2 0 1.3-.1 1.3-.1 1.2-.2 1.3-.2 1.2-.2 .5-.1 .8-.4 1.3-.4 1.2-.3 .7-.2 .6 .2 1.3 .8 1.2 .4 .7 .6 .6 .7 .8 .4 .4 .9 1.2 .1 .1 .8 1.3 .3 .5 .4 .7 .8 1.3 .1 .1 .8 1.1-.8 0-1.3 0-1.1 0-.1-.2-.6-1-.7-1.1-.1-.2-.7-1.2-.5-.9-.2-.4-.6-1.3-.4-.6-.3-.6-.4-1.3-.3-1.2-.1-1.3 .2-1.3 .2-1.2 .2-1.3 0-1.3 0-1.2 0-1.3-.1-1.2-.2-1.3-.1-1.3-.1-1.2-.1-1.3 0-1.3 .1-1.2 .1-1.3 .2-1.2 .2-1.3 .3-1.3 .2-.5 .2-.7 .4-1.3 .6-1.2 0-.1 1-1.2 .3-.3 1.3-.7 .7-.3 .5-.2 1.3-.4 1.3-.5 .5-.1z" fill="#55cc7c" stroke="#55cc7c" stroke-width="0.3" fill-rule="evenodd"/>
<path d="M651.8 299.9l1.3-.3 1.2-.2 1.3-.1 1.3 .1 1.2 .1 1.3 .2 1.2 .2 1.2 .1 .1 0 1.3 .1 .3-.1 .9-.1 1.3-.3 1.3-.2 1.2-.1 1.3 0 1.2 .1 1.3 .2 1.3 .4 .1 0 1.1 .5 1.3 .6 .5 .2 .7 .5 1 .8 .3 .2 .8 1 .5 .9 .1 .4 .4 1.2 .1 1.3 .2 1.3 .1 1.2 .1 1.3 .2 1.2 .1 0 .5 1.3 .7 1.2 .1 .1 1.2 .8 1.2 0 1.3-.5 1-.3 .2-.1 1.3 .1 1.3 .5 .7 .7-.6 1.3-.1 .1-1.3 .5-1.3 .2-1.2-.1-1.3-.2-1.2-.1-1.3 .8 0 .1-1.2 1.2-.1 0-.8 1.3-.4 .6-.4 .6-.6 1.3-.3 .5-.3 .8-.5 1.2-.3 1.3-.2 .7 0 .6-.3 1.2-.2 1.3-.4 1.2-.3 1-.1 .3-.6 1.3-.6 1.2-.8 1.3-.4 .6-.6 .6-.7 0-1.3 0-1 0 1-.8 .4-.4 .9-.9 .3-.4 .9-1.2 .1-.2 .6-1.1 .5-1.3 .1-.2 .4-1 .3-1.3 .2-1.2 .2-1.3 .2-1.3 0-.1 .3-1.1 .3-1.3 .4-1.3 .2-1.1 .1-.1 .3-1.3 .1-1.2 0-1.3-.3-1.3-.2-.6-.1-.6-.2-1.3 0-1.3 .1-1.2 .1-1.3 0-1.2 0-1.3-.2-1.3-.4-1.2-.5-.7-.4-.6-.9-.7-.8-.5-.4-.3-1.3-.5-1.3-.3-.9-.2-.3-.1-1.3 0-1.2 .1-.1 0-1.2 .2-1.3 .3-1.2 .1-1.3-.2-1.3-.2-1.2-.2-.1 0-1.2-.2-1.2-.1-1.3 0-1.3 0-1.2 .2-.2 .1-1.1 .3-1.2 .4-1.3 .4-.3 .2-1 .6-.6 .6-.6 1.3 0 .2-.2 1 0 1.3 .2 1.3 .2 1.2 .3 1.3 .4 1.2 .2 1.3 .1 1.2 0 .1 0 1.2-.2 1.3-.2 1.3-.2 1.2-.2 1.3-.3 1.2-.1 .9-.1 .4-.3 1.3-.2 1.2 .5 1.3 .1 0 1.2 .4 1.1 .9 .2 .5 .1 .7 .2 1.3 .3 1.2 .5 1.3 .2 .3 .4 1 .7 1.2 .1 .2 .8 1.1 .5 .5 .7 .7-.7 0-1.3 0-1.2 0-.5 0-.8-1.1-.1-.1-.8-1.3-.4-.7-.3-.5-.8-1.3-.1-.1-.9-1.2-.4-.4-.7-.8-.6-.6-.4-.7-.8-1.2-.2-1.3 .2-.6 .3-.7 .4-1.2 .4-1.3 .1-.8 .2-.5 .2-1.2 .2-1.3 .1-1.2 .1-1.3 0-1.3 0-1.2-.1-1.3-.2-1.3-.1-1.2-.1-1.3-.1-1.2 0-1.3 .2-1.3 .2-1.2 .4-1.3 .3-.7 .3-.5 1-.9 .8-.4 .4-.2 1.3-.4 1.3-.4 .9-.3z" fill="#71cd64" stroke="#71cd64" stroke-width="0.3" fill-rule="evenodd"/>
<path d="M653.1 301.2l1.2-.2 1.3 0 1.3 0 1.2 .1 1.2 .2 .1 0 1.2 .2 1.3 .2 1.3 .2 1.2-.1 1.3-.3 1.2-.2 .1 0 1.2-.1 1.3 0 .3 .1 .9 .2 1.3 .3 1.3 .5 .4 .3 .8 .5 .9 .7 .4 .6 .5 .7 .4 1.2 .2 1.3 0 1.3 0 1.2-.1 1.3-.1 1.2 0 1.3 .2 1.3 .1 .6 .2 .6 .3 1.3 0 1.3-.1 1.2-.3 1.3-.1 .1-.2 1.1-.4 1.3-.3 1.3-.3 1.1 0 .1-.2 1.3-.2 1.3-.2 1.2-.3 1.3-.4 1-.1 .2-.5 1.3-.6 1.1-.1 .2-.9 1.2-.3 .4-.9 .9-.4 .4-1 .8-.2 0-1.3 0-1.2 0-1.3 0-1.3 0-.2 0 .2 0 1.3-.4 1.3-.5 .5-.3 .7-.4 1.3-.9 1.2-1.1 .1-.1 1.1-1.3 .1-.1 .7-1.2 .6-1.2 .3-1.3 .3-1.2 .2-1.3 .1-1.3 .2-1.2 .1-.7 .1-.6 .2-1.3 .2-1.2 .1-1.3 0-1.2-.1-1.3-.3-1.3-.2-.9 0-.3-.3-1.3-.2-1.3-.1-1.2-.2-1.3-.1-1.2-.2-1.3-.1-.4-.4-.9-.9-1.2 0-.1-1.3-.9-.6-.3-.6-.2-1.3-.3-1.2 0-1.3 0-1.3 .2-1.2 0-1.3-.1-1.3-.2-1.2-.2-1.3-.1-1.2-.1-1.3 .1-1.3 .2-1.2 .3-1.2 .4-.1 .1-1.2 .9-.4 .3-.6 1.2-.1 1.3 .1 1.3 .3 1.2 .3 1.3 .3 1.2 .1 .2 .1 1.1 .1 1.3-.1 1.2-.1 .8-.1 .5-.3 1.3-.2 1.2-.1 1.3-.1 1.2 .2 1.3 .3 1.3 .3 .4 .3 .8 .5 1.3 .4 1.3 .3 1.2 .3 1.3 .4 1.2 .3 .8 .2 .5 .7 1.3 .3 .4 .8 .8 .5 .5 1 .8 .3 .2 1.2 .6 1.3 .4-1.3 0-1.2 0-1.3 0-1.3 0-.5 0-.7-.7-.5-.5-.8-1.1-.1-.2-.7-1.2-.4-1-.2-.3-.5-1.3-.3-1.2-.2-1.3-.1-.7-.2-.5-1.1-.9-1.2-.4-.1 0-.5-1.3 .2-1.2 .3-1.3 .1-.4 .1-.9 .3-1.2 .2-1.3 .2-1.2 .2-1.3 .2-1.3 0-1.2 0-.1-.1-1.2-.2-1.3-.4-1.2-.3-1.3-.2-1.2-.2-1.3 0-1.3 .2-1 0-.2 .6-1.3 .6-.6 1-.6 .3-.2 1.3-.4 1.2-.4 1.1-.3z" fill="#90ca4d" stroke="#90ca4d" stroke-width="0.3" fill-rule="evenodd"/>
<path d="M653.1 303.4l1.2-.3 1.3-.2 1.3-.1 1.2 .1 1.3 .1 1.2 .2 1.3 .2 1.3 .1 1.2 0 1.3-.2 1.3 0 1.2 0 1.3 .3 .6 .2 .6 .3 1.3 .9 0 .1 .9 1.2 .4 .9 .1 .4 .2 1.3 .1 1.2 .2 1.3 .1 1.2 .2 1.3 .3 1.3 0 .3 .2 .9 .3 1.3 .1 1.3 0 1.2-.1 1.3-.2 1.2-.2 1.3-.1 .6-.1 .7-.2 1.2-.1 1.3-.2 1.3-.3 1.2-.3 1.3-.6 1.2-.7 1.2-.1 .1-1.1 1.3-.1 .1-1.2 1.1-1.3 .9-.7 .4-.5 .3-1.3 .5-1.3 .4-.2 0-1 0-1.3 0-1.3 0-1.2 0-1.3-.4-1.2-.6-.3-.2-1-.8-.5-.5-.8-.8-.3-.4-.7-1.3-.2-.5-.3-.8-.4-1.2-.3-1.3-.3-1.2-.4-1.3-.5-1.3-.3-.8-.3-.4-.3-1.3-.2-1.3 .1-1.2 .1-1.3 .2-1.2 .3-1.3 .1-.5 .1-.8 .1-1.2-.1-1.3-.1-1.1-.1-.2-.3-1.2-.3-1.3-.3-1.2-.1-1.3 .1-1.3 .6-1.2 .4-.3 1.2-.9 .1-.1zM656.4 305.1l-.8 .3-1.3 .7-.3 .2-.8 1.3-.1 .5-.2 .8-.1 1.2 .1 1.3 0 1.2 .1 1.3 0 1.3-.1 1.2-.2 1.3-.2 1.3-.2 1.2-.1 1.3 0 1.2 .2 1.3 .3 1.3 .4 1.2 .4 1.3 .4 1.3 .4 1.2 0 .2 .5 1.1 .5 1.2 .3 .5 .6 .8 .7 .7 .8 .6 .4 .3 1.3 .5 1.2 .4 .5 0 .8 .1 1.3-.1 1.2-.2 1.3-.4 1.3-.5 .3-.1 .9-.6 1.1-.7 .2-.2 1.1-1.1 .1-.2 .8-1 .5-1.2 .1-.1 .3-1.2 .2-1.3 .1-1.3 .2-1.2 .1-1.3 .1-1.3 .1-1.2 0-1.3 0-1.2-.2-1.3-.2-1.3-.3-1.2-.4-1.3-.1-.2-.3-1.1-.4-1.2-.4-1.3-.2-.6-.1-.6-.6-1.3-.5-.7-.5-.6-.8-.5-1.2-.5-1.2-.2-.1 0-1.3 0-1.2 0-1.3-.1-1.3-.1-1.2 0-1.3-.1-1.2 .2z" fill="#adc638" stroke="#adc638" stroke-width="0.3" fill-rule="evenodd"/>
<path d="M656.9 305l1.2-.2 1.3 .1 1.2 0 1.3 .1 1.3 .1 1.2 0 1.3 0 .1 0 1.2 .2 1.2 .5 .8 .5 .5 .6 .5 .7 .6 1.3 .1 .6 .2 .6 .4 1.3 .4 1.2 .3 1.1 .1 .2 .4 1.3 .3 1.2 .2 1.3 .2 1.3 0 1.2 0 1.3-.1 1.2-.1 1.3-.1 1.3-.2 1.2-.1 1.3-.2 1.3-.3 1.2-.1 .1-.5 1.2-.8 1-.1 .2-1.1 1.1-.2 .2-1.1 .7-.9 .6-.3 .1-1.3 .5-1.3 .4-1.2 .2-1.3 .1-.8-.1-.5 0-1.2-.4-1.3-.5-.4-.3-.8-.6-.7-.7-.6-.8-.3-.5-.5-1.2-.5-1.1 0-.2-.4-1.2-.4-1.3-.4-1.3-.4-1.2-.3-1.3-.2-1.3 0-1.2 .1-1.3 .2-1.2 .2-1.3 .2-1.3 .1-1.2 0-1.3-.1-1.3 0-1.2-.1-1.3 .1-1.2 .2-.8 .1-.5 .8-1.3 .3-.2 1.3-.7 .8-.3zM657.9 307.6l-1 .8-.4 .5-.7 1.2-.2 .8-.1 .5-.2 1.2-.2 1.3-.1 1.3-.1 1.2-.3 1.3-.2 1.3-.1 .4-.1 .8 0 1.3 0 1.2 .1 .7 .1 .6 .3 1.3 .4 1.2 .4 1.3 .1 .1 .5 1.2 .6 1.2 .2 .4 .6 .9 .6 .7 .7 .5 .6 .4 1.2 .5 1.3 .3 1.3 0 1.2-.2 1.3-.4 1.3-.5 .1-.1 1.1-.6 .8-.6 .5-.6 .5-.7 .6-1.2 .1-.6 .2-.7 .2-1.3 .1-1.2 .1-1.3 .1-1.3 .1-1.2 0-1.3-.1-1.2-.1-1.3-.3-1.3-.3-.7-.1-.5-.6-1.3-.5-1.2-.1-.1-.6-1.2-.5-1.3-.1-.1-.7-1.1-.5-.7-.8-.6-.5-.3-1.3-.2-1.2-.1-1.3 0-1.3 0-1.2 .1-1.3 .4z" fill="#c8c129" stroke="#c8c129" stroke-width="0.3" fill-rule="evenodd"/>
<path d="M658.1 307.5l1.3-.4 1.2-.1 1.3 0 1.3 0 1.2 .1 1.3 .2 .5 .3 .8 .6 .5 .7 .7 1.1 .1 .1 .5 1.3 .6 1.2 .1 .1 .5 1.2 .6 1.3 .1 .5 .3 .7 .3 1.3 .1 1.3 .1 1.2 0 1.3-.1 1.2-.1 1.3-.1 1.3-.1 1.2-.2 1.3-.2 .7-.1 .6-.6 1.2-.5 .7-.5 .6-.8 .6-1.1 .6-.1 .1-1.3 .5-1.3 .4-1.2 .2-1.3 0-1.3-.3-1.2-.5-.6-.4-.7-.5-.6-.7-.6-.9-.2-.4-.6-1.2-.5-1.2-.1-.1-.4-1.3-.4-1.2-.3-1.3-.1-.6-.1-.7 0-1.2 0-1.3 .1-.8 .1-.4 .2-1.3 .3-1.3 .1-1.2 .1-1.3 .2-1.3 .2-1.2 .1-.5 .2-.8 .7-1.2 .4-.5 1-.8zM659.9 310.1l-.5 .4-.9 .9-.4 .6-.3 .6-.4 1.3-.4 1.3-.1 .5-.2 .7-.3 1.3-.2 1.3-.2 1.2 .1 1.3 .1 1.2 .3 1.3 .4 1.3 .5 1.2 .6 1.3 .1 .3 .7 1 .6 .6 .7 .6 .5 .3 1.3 .5 1.3 .1 1.2-.1 1.3-.4 .9-.4 .4-.2 1-1 .2-.3 .6-1 .4-1.3 .2-1.2 .1-.3 .1-1 .1-1.3 0-1.2 .1-1.3-.1-1.2-.2-1.3 0-.1-.4-1.2-.5-1.2-.4-.7-.3-.6-.8-1.3-.1-.2-.8-1-.5-.6-1-.7-.3-.2-1.2-.3-1.3-.1-1.3 .3z" fill="#e0bc2a" stroke="#e0bc2a" stroke-width="0.3" fill-rule="evenodd"/>
<path d="M660.6 309.8l1.3-.3 1.3 .1 1.2 .3 .3 .2 1 .7 .5 .6 .8 1 .1 .2 .8 1.3 .3 .6 .4 .7 .5 1.2 .4 1.2 0 .1 .2 1.3 .1 1.2-.1 1.3 0 1.2-.1 1.3-.1 1-.1 .3-.2 1.2-.4 1.3-.6 1-.2 .3-1 1-.4 .2-.9 .4-1.3 .4-1.2 .1-1.3-.1-1.3-.5-.5-.3-.7-.6-.6-.6-.7-1-.1-.3-.6-1.3-.5-1.2-.4-1.3-.3-1.3-.1-1.2-.1-1.3 .2-1.2 .2-1.3 .3-1.3 .2-.7 .1-.5 .4-1.3 .4-1.3 .3-.6 .4-.6 .9-.9 .5-.4zM660.5 313.9l-.8 1.3-.3 .5-.3 .7-.4 1.3-.4 1.3-.1 1.2 .1 1.3 .3 1.2 .5 1.3 .3 .8 .2 .5 .9 1.2 .1 .2 1.3 1 .3 .1 1 .2 1.2-.1 .2-.1 1.1-.7 .5-.6 .8-1.2 .3-1.3 .2-1.3 .1-1.2 .1-1.3-.1-1.2-.2-1.3-.4-1-.2-.3-.9-1.2-.2-.4-1-.9-.3-.2-1.2-.6-1.3 0-1.3 .7z" fill="#f3ba39" stroke="#f3ba39" stroke-width="0.3" fill-rule="evenodd"/>
<path d="M660.6 313.8l1.3-.7 1.3 0 1.2 .6 .3 .2 1 .9 .2 .4 .9 1.2 .2 .3 .4 1 .2 1.3 .1 1.2-.1 1.3-.1 1.2-.2 1.3-.3 1.3-.8 1.2-.5 .6-1.1 .7-.2 .1-1.2 .1-1-.2-.3-.1-1.3-1-.1-.2-.9-1.2-.2-.5-.3-.8-.5-1.3-.3-1.2-.1-1.3 .1-1.2 .4-1.3 .4-1.3 .3-.7 .3-.5 .8-1.3z" fill="#fec13a" stroke="#fec13a" stroke-width="0.3" fill-rule="evenodd"/>
<path d="M624.1 276.1l1.2 .1 1.3 .1 1.2 .1 1.3 .1 1.3 .2 1.2 .3 1.3 .2 .9 .1 .3 .1 .4-.1 .9-.1 1.3-.8 1.2-.3 1.3 .1 1.3 .2 1.2 .1 1.3 .1 1.2-.1 1.3-.1 1.3-.2 1.2-.1 0-.1 1.3-.1 1.3-.2 1.2-.2 1.3-.1 1.2-.2 1.3-.3 .2-.1 1.1-.5 .8-.8 .4-.5 .5-.7 .8-1.2 .1-.1 .7-1.3 .4-.6 .4-.6 .8-1.3 .1-.1 .7-1.1 .6-1 .1-.3 .5-1.3 .3-1.2 .3-1.1 .1-.2 .3-1.2" fill="none" stroke="#1a1a1a" stroke-width="0.6"/>
<path d="M624.1 283.7l.3-.1 .9-.1 1.3-.2 1.2-.2 1.3-.1 1.3-.1 1.2 0 1.3 .1 1.2 .1 1.3 .1 1.3 .1 1.2 0 1.3 .2 1.3 .1 1.2-.1 1.3-.2 1.2-.3 1.3-.4 1-.2 .3-.1 1.2-.3 1.3-.4 1.3-.3 1.1-.2 .1 0 1.3-.2 1.2-.1 1.3-.1 1.3-.2 1.2-.3 .9-.4 .4-.1 1.2-.8 .5-.3 .8-.8 .5-.5 .8-.8 .4-.4 .8-.8 .6-.5 .7-.7 .6-.6 .7-.7 .4-.5 .8-1.1 .1-.2 .8-1.3 .4-.8 .2-.4 .5-1.3 .4-1.2 .1-.5 .4-.8 .7-1.3 .2-.2 .8-1 .5-.5 .7-.8 .5-.5 .8-.7M703.5 338.8l-.1 .3" fill="none" stroke="#1a1a1a" stroke-width="0.6"/>
<path d="M624.1 291.2l1.2-.5 1.3-.5 1.1-.3 .1 0 1.3-.3 1.3-.4 1.2-.3 .8-.2 .5-.1 1.2-.3 1.3-.1 1.3-.2 1.2-.2 1.3-.2 1-.2 .3 0 1.2-.1 1.3 0 1.2 0 1.3 0 1.3-.2 1.2-.2 1.3-.2 1.3-.3 1.2-.2 .9 0 .4-.1 .7 .1 .5 0 1.3 .1 1.3 .1 1.2 .1 1.3 .1 1.2-.1 1.3-.3 .4 0 .9-.3 1.2-.5 1.3-.4 .2-.1 1.1-.4 1.2-.4 1.3-.3 1.2-.1 1-.1 .3 0 .2 0 1.1 .1 1.2 .2 1.3 .3 1.2 .5 .4 .2 .9 .4 1.3 .8 .1 .1 1.1 .5 1.3 .5 .5 .2 .8 .2 1.2 .3 1.3 .3 1.2 .2 1.3 .1 1.3 .1 .6 .1 .6 0 1.3 .3 1.3 .3 1.2 .4 .5 .2 .8 .4 1.2 .6 .6 .3 .7 .3 1.3 .9 .1 .1 1.1 .9 .4 .3 .9 .9 .3 .4 .9 1.2 0 .1M703.5 319.2l-.6 1-.6 1-.2 .3-.8 1.2-.3 .4-.5 .9-.7 1.2-.1 .1-.8 1.2-.4 .8-.3 .5-.7 1.3-.3 .5-.3 .7-.6 1.3-.3 .6-.3 .6-.5 1.3-.4 1.3-.1 .3-.3 .9-.3 1.3-.4 1.2" fill="none" stroke="#1a1a1a" stroke-width="0.6"/>
<path d="M624.1 305.9l1.2-.8 1.3-.6 1.2-.2 1.3 0 1.3 .1 1.2 .1 1.3 0 1.2-.2 1.3-.5 1.1-1.2 .2-.9 .1-.4-.1-1.3 0-.6-.2-.6-.1-1.3 .3-.4 .4-.9 .8-.4 1.3-.8 1.3-.5 1.2-.5 1.3-.3 1.2-.3 1.3-.3 1.3-.3 .9-.3 .3-.1 1.3-.5 1.3-.4 1.2-.2 .6-.1 .7-.1 1.2 0 1.3 .1 .2 0 1.1 .1 1.2 .3 1.3 .2 1.2 .2 1.3-.1 1.3-.3 1.2-.4 .2 0 1.1-.3 1.3-.4 1.2-.2 1.3-.1 1.2 0 1.3 .1 1.3 .3 1.2 .6 .1 0 1.2 .6 .9 .7 .3 .2 1.3 .6 1.3 .4 .3 0 .9 .2 1.3 .3 1.3 .2 1.2 .4 .5 .2 .8 .3 1.2 .6 .7 .3 .6 .5 .9 .8 .4 .5 .5 .8 .5 1.2-.1 1.3-.3 1.3-.2 1.2 .4 1.3 .4 .6 .5 .6 .8 .9 .4 .4 .9 .9 .3 .4 .9 .9 .4 .3 .9 .6 1.1 .7 .1 .1 .9 1.1 .1 1.3-.3 1.3-.4 1.2-.3 .8-.1 .5-.5 1.3-.6 1.2 0 .2-.6 1.1-.7 1.2-.9 1.3-.3 .6-.6 .7-.7 1-.2 .2-.9 1.3-.2 .3-.6 1-.6 1-.1 .2-.6 1.3-.6 1.2 0 .1-.4 1.2-.4 1.3-.4 1.2-.1 .4-.2 .9-.3 1.2M633.6 339.1l.1-1.2 0-1.3 .1-1.2 .2-1.3 .1-1.1 .1-.2 .1-1.2 .1-1.3-.2-1.2-.1-.3-.6-1-.6-.5-1.1-.8-.2 0-1.2-.6-1.3-.6-1.3-.6-1.2-.7-1.3-.8-.7-.5-.5-.4M631.6 296.2l.3 0-.3 .1 0-.1z" fill="none" stroke="#1a1a1a" stroke-width="0.6"/>
<path d="M640.9 339.1l-.4-1.2 0-.3-.2-1-.3-1.2-.1-1.3-.1-1.3 0-1.2 0-1.3 .2-1.2 .2-1.3-.2-1.3-.3-1.2-.5-1.3-.7-1.3-.6-.9-.2-.3-1-1.2-.1-.1-1.2-1.1-.2-.1-1.1-.9-.5-.4-.7-.7-.6-.6-.7-1-.1-.2 0-1.3 .1-.1 1.2-1.2 .1 0 1.2-.9 .5-.3 .8-.6 .7-.7 .6-.5 .6-.7 .6-.9 .3-.4 .8-1.3 .2-.3 .5-.9 .6-1.3 .2-.3 .4-.9 .7-1.3 .1-.2 .8-1.1 .5-.4 1.2-.8 0-.1 1.3-.6 1.3-.5 .2-.1 1-.6 1.3-.5 .3-.2 1-.4 1.2-.4 1.3-.3 1-.1 .2 0 1.3-.1 1.3 0 .9 .1 .3 0 1.3 .2 1.2 .2 1.3 0 1.3-.1 1.2-.2 .6-.1 .7-.1 1.3-.3 1.2-.2 1.3-.1 1.2 0 1.3 .1 1.3 .2 1.2 .4 1.3 .7 1.1 .5 .1 .1 1.3 .6 1.3 .5 .3 .1 .9 .4 1.3 .5 .7 .4 .6 .3 1.2 .9 1.2 1.3 .1 .1 .5 1.2 .2 1.2 .1 1.3 .2 1.2 .2 .7 .3 .6 .6 1.3 .4 .4 .7 .8 .6 .6 .7 .7 .5 .4 1 .8 .3 .3 .9 1 .4 .8 .1 .5 .1 1.2-.2 .7-.2 .6-.4 1.3-.7 1.2 0 .1-1 1.2-.3 .3-1.1 .9-.1 .2-1.3 1.1-.1 0-1.2 1-.3 .3-.9 .8-.5 .4-.8 1-.2 .3-.8 1.3-.2 .6-.3 .6-.5 1.3-.4 1.2-.1 .5-.2 .8-.4 1.3-.4 1.2-.3 .8-.1 .5-.5 1.2" fill="none" stroke="#1a1a1a" stroke-width="0.6"/>
<path d="M649.3 339.1l-.9-1.2-.4-.7-.4-.6-.7-1.2-.1-.2-.8-1.1-.5-.7-.4-.6-.9-1-.1-.2-.8-1.3-.3-.5-.3-.7-.1-1.3 .3-1.3 .1-.4 .3-.8 .3-1.3 .3-1.3 .2-1.2 .1-1.3 0-1.2 0-.2 .1-1.1 0-1.3-.1-.4 0-.8-.1-1.3-.1-1.3-.1-1.2 0-1.3 0-1.2 0-1.3 .2-1.3 .1-.7 .2-.5 .4-1.3 .5-1.2 .2-.2 1.2-1.1 .1 0 1.2-.5 1.3-.4 1-.4 .3-.1 1.2-.3 1.3-.3 1.2-.3 1.3 0 1.3 0 1.2 .2 1.3 .1 1.2 .2 1.3 .1 1.3 .1 1.2-.2 1.3-.3 1.3-.2 1.2-.1 1.3 0 1.2 .1 1.3 .2 1.3 .3 1.2 .4 .2 .1 1.1 .5 1.2 .7 .3 .1 1 .8 .6 .5 .7 .8 .3 .4 .6 1.3 .3 1.2 0 .1 .2 1.2 .2 1.3 .2 1.2 .3 1.3 .4 1.1 .1 .1 1 1.3 .2 .1 1.2 .5 1.3 0 1.2 0 1.3 .2 1.3 .4 .1 .1 1.1 1.1 .1 .1-.1 .2-.6 1.1-.6 .6-1.3 .6-.2 .1-1.1 .2-1.2 .1-1.3 .1-1.2 .3-.9 .5-.4 .2-1.2 1.1-.1 .1-.8 1.1-.4 .6-.4 .7-.7 1.3-.2 .4-.3 .8-.3 1.3-.3 1.3-.2 1.2-.2 .5-.1 .8-.3 1.2-.5 1.3-.3 .9-.2 .4-.6 1.2-.5 .9-.2 .4-.9 1.2" fill="none" stroke="#1a1a1a" stroke-width="0.6"/>
<path d="M658.1 306l1.3-.1 1.2 0 1.3 0 1.3 .1 1.2 0 1.3 .1 .9 .2 .4 .2 1.2 1 .1 .1 .8 1.3 .4 .9 .1 .3 .4 1.3 .5 1.2 .2 .5 .4 .8 .4 1.3 .4 1.2 .1 .6 .1 .7 .2 1.3 .1 1.2-.1 1.3 0 1.2-.1 1.3-.1 1.3-.1 .7-.1 .5-.1 1.3-.3 1.3-.4 1.2-.4 .7-.3 .6-.9 1-.3 .2-1 .7-1 .6-.2 .1-1.3 .5-1.3 .4-1.2 .2-1.3 0-1.3-.1-1.2-.4-1.3-.7-1.2-1.2-.1-.1-.8-1.2-.4-.8-.2-.5-.5-1.2-.4-1.3-.2-.5-.2-.8-.4-1.2-.3-1.3-.2-1.3 0-1.2 .1-1.3 .2-1.2 .2-1.3 .2-1.3 .1-1.2 .1-1.3 0-1.3 .1-1.2 .1-1.3 0-.1 .3-1.1 .7-1.3 .3-.3 1.3-.9 0-.1z" fill="none" stroke="#1a1a1a" stroke-width="0.6"/>
<circle cx="654.2" cy="271.4" r="0.85" fill="#111"/>
<circle cx="672.6" cy="271.1" r="0.85" fill="#111"/>
<circle cx="640.6" cy="283.2" r="0.85" fill="#111"/>
<circle cx="652.4" cy="285.4" r="0.85" fill="#111"/>
<circle cx="663.8" cy="285.4" r="0.85" fill="#111"/>
<circle cx="675.2" cy="285.0" r="0.85" fill="#111"/>
<circle cx="687.0" cy="283.6" r="0.85" fill="#111"/>
<circle cx="631.4" cy="289.5" r="0.85" fill="#111"/>
<circle cx="696.2" cy="289.5" r="0.85" fill="#111"/>
<circle cx="657.2" cy="294.2" r="0.85" fill="#111"/>
<circle cx="663.8" cy="294.6" r="0.85" fill="#111"/>
<circle cx="670.8" cy="294.2" r="0.85" fill="#111"/>
<circle cx="643.6" cy="293.5" r="0.85" fill="#111"/>
<circle cx="684.0" cy="293.5" r="0.85" fill="#111"/>
<circle cx="635.1" cy="301.2" r="0.85" fill="#111"/>
<circle cx="648.7" cy="301.2" r="0.85" fill="#111"/>
<circle cx="663.8" cy="301.2" r="0.85" fill="#111"/>
<circle cx="678.5" cy="301.2" r="0.85" fill="#111"/>
<circle cx="692.1" cy="301.2" r="0.85" fill="#111"/>
<circle cx="642.8" cy="310.1" r="0.85" fill="#111"/>
<circle cx="657.2" cy="309.3" r="0.85" fill="#111"/>
<circle cx="670.8" cy="309.3" r="0.85" fill="#111"/>
<circle cx="684.8" cy="310.1" r="0.85" fill="#111"/>
<circle cx="640.6" cy="319.3" r="0.85" fill="#111"/>
<circle cx="652.8" cy="317.4" r="0.85" fill="#111"/>
<circle cx="663.8" cy="317.4" r="0.85" fill="#111"/>
<circle cx="674.8" cy="317.8" r="0.85" fill="#111"/>
<circle cx="687.0" cy="319.3" r="0.85" fill="#111"/>
<circle cx="656.8" cy="332.2" r="0.85" fill="#111"/>
<circle cx="663.8" cy="332.5" r="0.85" fill="#111"/>
<circle cx="670.8" cy="332.2" r="0.85" fill="#111"/>
</g>
<circle cx="663.8" cy="299.4" r="36.80" fill="none" stroke="#111" stroke-width="1.4"/>
<path d="M657.5 263.0 L663.8 256.7 L670.1 263.0" fill="none" stroke="#111" stroke-width="1.3" stroke-linejoin="miter"/>
<rect x="245.1" y="229.6" width="81.6" height="20.3" rx="3" fill="#d9d9d9"/>
<rect x="621.1" y="341.4" width="83.2" height="20.2" rx="3" fill="#d9d9d9"/>
<text transform="translate(287.1 133.1) scale(1 0.96)" font-size="13.45" text-anchor="middle" fill="#111">100-300ms</text>
<text transform="translate(286.9 244.5) scale(1 0.98)" font-size="13.5" text-anchor="middle" fill="#111">300-500ms</text>
<text transform="translate(286.8 354.6) scale(1 0.96)" font-size="13.45" text-anchor="middle" fill="#111">500-800ms</text>
<text transform="translate(664.2 133.3) scale(1 0.96)" font-size="13.45" text-anchor="middle" fill="#111">100-300ms</text>
<text transform="translate(663.6 244.2) scale(1 0.96)" font-size="13.45" text-anchor="middle" fill="#111">300-500ms</text>
<text transform="translate(663.6 355.0) scale(1 0.98)" font-size="13.5" text-anchor="middle" fill="#111">500-800ms</text>
<line x1="87.9" y1="296.8" x2="105.4" y2="296.8" stroke="#35357a" stroke-width="2" stroke-dasharray="3.2 1.6"/>
<line x1="87.9" y1="310.4" x2="105.6" y2="310.4" stroke="#d99676" stroke-width="1.3"/>
<text transform="translate(109.0 299.9) scale(1 1.02)" font-size="13.45" text-anchor="start" fill="#111">Semantic correct</text>
<text transform="translate(111.5 316.5) scale(1 1.02)" font-size="13.45" text-anchor="start" fill="#111">Semantic incorrect</text>
<line x1="476.1" y1="296.8" x2="493.2" y2="296.8" stroke="#222" stroke-width="2" stroke-dasharray="3.0 1.6"/>
<line x1="477.5" y1="310.4" x2="494.3" y2="310.4" stroke="#d99676" stroke-width="1.3"/>
<text transform="translate(497.8 299.7) scale(1 1.02)" font-size="13.45" text-anchor="start" fill="#111">Syntactic correct</text>
<text transform="translate(499.8 315.9) scale(1 1.02)" font-size="13.45" text-anchor="start" fill="#111">Syntactic incorrect</text>
<rect x="105.3" y="373.8" width="193.3" height="5.9" fill="url(#cbar)" stroke="#555" stroke-width="0.4"/>
<line x1="121.8" y1="378.2" x2="121.8" y2="379.7" stroke="#333" stroke-width="0.6"/>
<line x1="162.2" y1="378.2" x2="162.2" y2="379.7" stroke="#333" stroke-width="0.6"/>
<line x1="202.5" y1="378.2" x2="202.5" y2="379.7" stroke="#333" stroke-width="0.6"/>
<line x1="242.2" y1="378.2" x2="242.2" y2="379.7" stroke="#333" stroke-width="0.6"/>
<line x1="282.5" y1="378.2" x2="282.5" y2="379.7" stroke="#333" stroke-width="0.6"/>
<text transform="translate(107.4 398.0) scale(1 1.02)" font-size="13" text-anchor="start" fill="#111">-1</text>
<text transform="translate(145.0 397.5) scale(1 1.02)" font-size="13" text-anchor="start" fill="#111">-0.5</text>
<text transform="translate(197.9 395.8) scale(1 1.02)" font-size="13" text-anchor="start" fill="#111">0</text>
<text transform="translate(235.5 396.1) scale(1 1.02)" font-size="13" text-anchor="start" fill="#111">0.5</text>
<text transform="translate(280.8 395.6) scale(1 1.02)" font-size="13" text-anchor="start" fill="#111">1</text>
<text transform="translate(305.5 400.0) scale(1 1.02)" font-size="13" text-anchor="start" fill="#111">[μV]</text>
<line x1="390.1" y1="340.7" x2="390.1" y2="398.2" stroke="#444" stroke-width="1.3"/>
<line x1="377.5" y1="370.5" x2="465.3" y2="370.5" stroke="#444" stroke-width="1.3"/>
<text transform="translate(374.5 347.2) scale(1 1.02)" font-size="13.3" text-anchor="start" fill="#111">4</text>
<text transform="translate(350.3 362.8) scale(1 1.02)" font-size="13.6" text-anchor="start" fill="#111">[μV]</text>
<text transform="translate(362.0 385.6) scale(1 1.02)" font-size="13.3" text-anchor="start" fill="#111">-0.1</text>
<text transform="translate(396.6 385.6) scale(1 1.02)" font-size="13.3" text-anchor="start" fill="#111">0</text>
<text transform="translate(453.2 386.0) scale(1 1.02)" font-size="13" text-anchor="start" fill="#111">0.9</text>
<text transform="translate(472.8 399.5) scale(1 1.02)" font-size="13.3" text-anchor="start" fill="#111">[ms]</text>
<text transform="translate(370.8 402.1) scale(1 1.02)" font-size="13.3" text-anchor="start" fill="#111">-4</text>
</svg></body></html>
